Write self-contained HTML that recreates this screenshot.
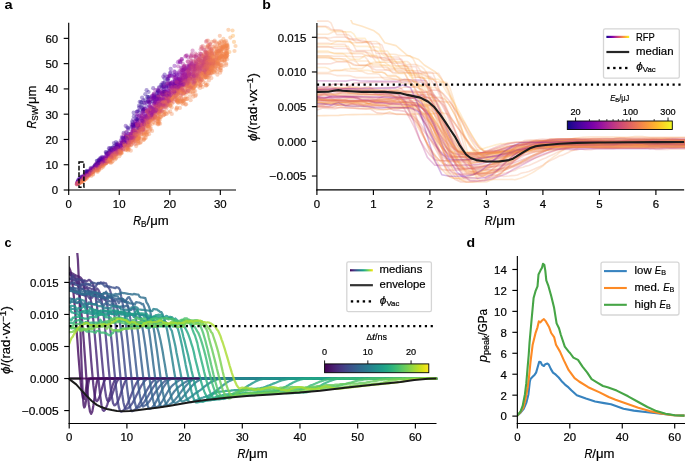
<!DOCTYPE html><html><head><meta charset="utf-8"><style>html,body{margin:0;padding:0;background:#fff;}body{width:685px;height:461px;overflow:hidden;font-family:"Liberation Sans", sans-serif;}svg{display:block;will-change:transform;} text{stroke:#000;stroke-width:0.2px;} text[font-weight="bold"]{stroke-width:0;}</style></head><body><svg width="685" height="461" viewBox="0 0 685 461" font-family='"Liberation Sans", sans-serif'><defs><linearGradient id="gplasma" x1="0" x2="1" y1="0" y2="0"><stop offset="0.000" stop-color="#0d0887"/><stop offset="0.050" stop-color="#2a0593"/><stop offset="0.100" stop-color="#41049d"/><stop offset="0.150" stop-color="#5601a4"/><stop offset="0.200" stop-color="#6a00a8"/><stop offset="0.250" stop-color="#7e03a8"/><stop offset="0.300" stop-color="#8f0da4"/><stop offset="0.350" stop-color="#a11b9b"/><stop offset="0.400" stop-color="#b12a90"/><stop offset="0.450" stop-color="#bf3984"/><stop offset="0.500" stop-color="#cc4778"/><stop offset="0.550" stop-color="#d6556d"/><stop offset="0.600" stop-color="#e16462"/><stop offset="0.650" stop-color="#ea7457"/><stop offset="0.700" stop-color="#f2844b"/><stop offset="0.750" stop-color="#f89540"/><stop offset="0.800" stop-color="#fca636"/><stop offset="0.850" stop-color="#feba2c"/><stop offset="0.900" stop-color="#fcce25"/><stop offset="0.950" stop-color="#f7e425"/><stop offset="1.000" stop-color="#f0f921"/></linearGradient><linearGradient id="gviridis" x1="0" x2="1" y1="0" y2="0"><stop offset="0.000" stop-color="#440154"/><stop offset="0.050" stop-color="#471365"/><stop offset="0.100" stop-color="#482475"/><stop offset="0.150" stop-color="#463480"/><stop offset="0.200" stop-color="#414487"/><stop offset="0.250" stop-color="#3b528b"/><stop offset="0.300" stop-color="#355f8d"/><stop offset="0.350" stop-color="#2f6c8e"/><stop offset="0.400" stop-color="#2a788e"/><stop offset="0.450" stop-color="#25848e"/><stop offset="0.500" stop-color="#21918c"/><stop offset="0.550" stop-color="#1e9c89"/><stop offset="0.600" stop-color="#22a884"/><stop offset="0.650" stop-color="#2fb47c"/><stop offset="0.700" stop-color="#44bf70"/><stop offset="0.750" stop-color="#5ec962"/><stop offset="0.800" stop-color="#7ad151"/><stop offset="0.850" stop-color="#9bd93c"/><stop offset="0.900" stop-color="#bddf26"/><stop offset="0.950" stop-color="#dfe318"/><stop offset="1.000" stop-color="#fde725"/></linearGradient><clipPath id="clipA"><rect x="68.70" y="19.70" width="170.30" height="170.30"/></clipPath><clipPath id="clipB"><rect x="316.90" y="20.00" width="370.25" height="169.90"/></clipPath><clipPath id="clipC"><rect x="69.20" y="253.07" width="370.30" height="170.38"/></clipPath><clipPath id="clipD"><rect x="517.35" y="253.07" width="170.85" height="170.38"/></clipPath></defs><rect width="685" height="461" fill="#fff"/><g clip-path="url(#clipD)"><polyline points="517.1,415.8 520.6,412.7 523.5,409.2 526.3,402.9 528.4,394.4 529.8,381.8 530.5,378.9 532.6,376.8 534.7,374.7 536.1,372.6 537.5,367.7 539.2,361.8 540.6,362.0 542.0,364.9 543.9,366.0 545.3,364.2 547.4,363.5 548.8,364.6 550.9,369.1 553.0,372.6 555.8,374.7 558.7,377.5 562.2,381.8 565.0,384.6 568.5,387.4 571.3,390.2 576.8,395.2 585.9,398.6 595.1,401.5 604.2,403.1 611.0,404.3 623.5,408.8 633.8,410.6 647.4,412.2 661.1,413.8 674.8,415.2 684.5,415.6" fill="none" stroke="#3783bf" stroke-width="2.10" stroke-linejoin="round"/><polyline points="517.1,415.8 520.6,412.0 523.5,407.1 525.6,398.7 527.7,387.4 529.1,376.1 530.5,362.0 532.6,345.1 535.5,333.2 537.5,327.3 538.8,321.4 540.4,322.4 542.0,320.5 543.9,319.1 545.9,321.4 549.2,327.3 551.2,333.0 554.1,337.1 556.0,344.8 560.0,351.6 563.9,360.4 568.7,370.2 574.6,378.1 579.1,381.5 588.2,387.2 599.6,392.4 608.7,397.0 615.5,399.7 626.9,403.8 638.3,407.7 649.7,411.1 661.1,413.4 672.5,415.2 684.5,415.6" fill="none" stroke="#fd8a25" stroke-width="2.10" stroke-linejoin="round"/><polyline points="517.1,415.8 520.6,411.3 522.7,405.7 524.9,394.4 526.3,383.2 527.7,366.3 528.7,355.0 529.5,343.0 531.6,319.5 533.6,298.0 535.5,291.2 537.5,286.3 538.5,274.5 540.4,270.6 542.0,267.7 543.0,263.8 544.3,264.8 545.3,270.6 546.3,280.4 548.2,285.3 551.2,296.0 554.1,307.8 556.6,323.4 559.0,328.3 560.9,335.0 564.8,346.7 568.7,351.6 570.0,353.0 573.4,357.6 578.0,359.9 582.5,366.7 587.1,372.4 591.6,379.2 597.3,382.6 603.0,386.0 607.6,387.2 616.7,390.6 628.1,396.3 638.3,402.0 647.4,407.0 656.5,411.1 665.6,413.8 674.8,415.2 684.5,415.6" fill="none" stroke="#46a546" stroke-width="2.10" stroke-linejoin="round"/></g><rect x="601.00" y="262.10" width="78.00" height="52.90" rx="2" ry="2" fill="#fff" fill-opacity="0.8" stroke="#d6d6d6" stroke-width="1.3"/><line x1="604.00" y1="271.10" x2="626.80" y2="271.10" stroke="#3783bf" stroke-width="2.10"/><g fill="#000"><text x="634.60" y="273.80" font-size="11.00" textLength="20.25" lengthAdjust="spacingAndGlyphs">low </text><text x="654.85" y="273.80" font-size="11.00" font-style="italic" textLength="6.32" lengthAdjust="spacingAndGlyphs">E</text><text x="661.17" y="275.30" font-size="7.70" textLength="4.80" lengthAdjust="spacingAndGlyphs">B</text></g><line x1="604.00" y1="288.00" x2="626.80" y2="288.00" stroke="#fd8a25" stroke-width="2.10"/><g fill="#000"><text x="634.60" y="290.70" font-size="11.00" textLength="28.60" lengthAdjust="spacingAndGlyphs">med. </text><text x="663.20" y="290.70" font-size="11.00" font-style="italic" textLength="6.32" lengthAdjust="spacingAndGlyphs">E</text><text x="669.52" y="292.20" font-size="7.70" textLength="4.80" lengthAdjust="spacingAndGlyphs">B</text></g><line x1="604.00" y1="304.80" x2="626.80" y2="304.80" stroke="#46a546" stroke-width="2.10"/><g fill="#000"><text x="634.60" y="307.50" font-size="11.00" textLength="24.98" lengthAdjust="spacingAndGlyphs">high </text><text x="659.58" y="307.50" font-size="11.00" font-style="italic" textLength="6.32" lengthAdjust="spacingAndGlyphs">E</text><text x="665.90" y="309.00" font-size="7.70" textLength="4.80" lengthAdjust="spacingAndGlyphs">B</text></g><g clip-path="url(#clipC)" fill="none" stroke-width="2.25" stroke-linejoin="round" stroke-linecap="round" stroke-opacity="0.82"><polyline points="69.2,267.7 70.4,270.6 71.5,276.1 72.7,285.8 73.8,296.1 75.0,308.8 76.1,324.0 77.3,339.5 78.4,355.2 79.6,370.0 80.7,382.7 81.9,392.3 83.0,397.8 84.2,398.7 85.4,393.5 86.5,385.1 87.7,379.2 88.8,378.6 90.0,378.8 91.1,378.4 92.3,378.6 93.4,378.6 94.6,378.4 95.7,378.5 96.9,378.4 98.0,378.7 99.2,378.4 100.4,378.8 101.5,378.4 102.7,378.3 103.8,378.5 105.0,378.6 106.1,378.3 107.3,378.4 108.4,378.5 109.6,378.4 110.7,378.4 111.9,378.7 113.0,378.4 114.2,378.6 115.4,378.7 116.5,378.5 117.7,378.4 118.8,378.6 120.0,378.6 121.1,378.3 122.3,378.7 123.4,378.5 124.6,378.6 125.7,378.5 126.9,378.4 128.1,378.5 129.2,378.8 130.4,378.4 131.5,378.4 132.7,378.6 133.8,378.8 135.0,378.7 136.1,378.8 137.3,378.6 138.4,378.5 139.6,378.6 140.7,378.7 141.9,378.3 143.1,378.5 144.2,378.6 145.4,378.7 146.5,378.5 147.7,378.8 148.8,378.3 150.0,378.4 151.1,378.7 152.3,378.5 153.4,378.6 154.6,378.3 155.7,378.4 156.9,378.4 158.1,378.6 159.2,378.6 160.4,378.3 161.5,378.3 162.7,378.3 163.8,378.7 165.0,378.7 166.1,378.3 167.3,378.5 168.4,378.4 169.6,378.3 170.7,378.4 171.9,378.7 173.1,378.6 174.2,378.3 175.4,378.6 176.5,378.4 177.7,378.7 178.8,378.4 180.0,378.3 181.1,378.6 182.3,378.7 183.4,378.5 184.6,378.3 185.7,378.3 186.9,378.7 188.1,378.7 189.2,378.7 190.4,378.7 191.5,378.6 192.7,378.5 193.8,378.6 195.0,378.5 196.1,378.5 197.3,378.7 198.4,378.7 199.6,378.4 200.7,378.6 201.9,378.5 203.1,378.7 204.2,378.7 205.4,378.5 206.5,378.4 207.7,378.6 208.8,378.5 210.0,378.4 211.1,378.5 212.3,378.3 213.4,378.3 214.6,378.7 215.8,378.3 216.9,378.7 218.1,378.7 219.2,378.4 220.4,378.3 221.5,378.4 222.7,378.3 223.8,378.6 225.0,378.3 226.1,378.7 227.3,378.5 228.4,378.6 229.6,378.8 230.8,378.6 231.9,378.5 233.1,378.8 234.2,378.4 235.4,378.7 236.5,378.4 237.7,378.6 238.8,378.4 240.0,378.3 241.1,378.4 242.3,378.4 243.4,378.7 244.6,378.5 245.8,378.7 246.9,378.8 248.1,378.6 249.2,378.3 250.4,378.5 251.5,378.7 252.7,378.6 253.8,378.6 255.0,378.7 256.1,378.7 257.3,378.5 258.4,378.3 259.6,378.6 260.8,378.4 261.9,378.5 263.1,378.3 264.2,378.4 265.4,378.6 266.5,378.7 267.7,378.7 268.8,378.4 270.0,378.4 271.1,378.6 272.3,378.7 273.4,378.7 274.6,378.3 275.8,378.7 276.9,378.6 278.1,378.8 279.2,378.5 280.4,378.7 281.5,378.8 282.7,378.6 283.8,378.6 285.0,378.5 286.1,378.4 287.3,378.3 288.4,378.6 289.6,378.7 290.8,378.5 291.9,378.3 293.1,378.4 294.2,378.7 295.4,378.5 296.5,378.4 297.7,378.5 298.8,378.4 300.0,378.7 301.1,378.6 302.3,378.5 303.5,378.5 304.6,378.5 305.8,378.4 306.9,378.5 308.1,378.8 309.2,378.7 310.4,378.4 311.5,378.3 312.7,378.6 313.8,378.4 315.0,378.5 316.1,378.7 317.3,378.4 318.5,378.8 319.6,378.4 320.8,378.4 321.9,378.5 323.1,378.7 324.2,378.7 325.4,378.3 326.5,378.4 327.7,378.6 328.8,378.3 330.0,378.7 331.1,378.3 332.3,378.5 333.5,378.4 334.6,378.5 335.8,378.5 336.9,378.6 338.1,378.6 339.2,378.8 340.4,378.4 341.5,378.4 342.7,378.6 343.8,378.6 345.0,378.5 346.1,378.6 347.3,378.7 348.5,378.6 349.6,378.7 350.8,378.7 351.9,378.3 353.1,378.4 354.2,378.3 355.4,378.5 356.5,378.8 357.7,378.6 358.8,378.5 360.0,378.3 361.1,378.6 362.3,378.3 363.5,378.6 364.6,378.6 365.8,378.7 366.9,378.5 368.1,378.3 369.2,378.7 370.4,378.6 371.5,378.7 372.7,378.3 373.8,378.6 375.0,378.5 376.1,378.6 377.3,378.3 378.5,378.5 379.6,378.7 380.8,378.6 381.9,378.3 383.1,378.3 384.2,378.4 385.4,378.5 386.5,378.8 387.7,378.3 388.8,378.3 390.0,378.7 391.2,378.5 392.3,378.3 393.5,378.5 394.6,378.6 395.8,378.8 396.9,378.7 398.1,378.5 399.2,378.7 400.4,378.4 401.5,378.5 402.7,378.6 403.8,378.8 405.0,378.3 406.2,378.3 407.3,378.7 408.5,378.4 409.6,378.5 410.8,378.6 411.9,378.3 413.1,378.6 414.2,378.4 415.4,378.4 416.5,378.7 417.7,378.6 418.8,378.7 420.0,378.6 421.2,378.5 422.3,378.6 423.5,378.3 424.6,378.7 425.8,378.7 426.9,378.6 428.1,378.3 429.2,378.3 430.4,378.6 431.5,378.4 432.7,378.6 433.8,378.6 435.0,378.6 436.2,378.3" stroke="#460c5e"/><polyline points="69.2,240.8 69.8,241.5 70.4,242.3 70.9,243.1 71.5,243.8 72.1,244.6 72.7,245.4 73.2,246.1 73.8,246.9 74.4,247.7 75.0,248.4 75.5,249.2 76.1,250.0 76.7,250.8 77.3,253.0 77.9,259.7 78.4,270.4 79.0,284.6 79.6,301.3 80.2,319.6 80.7,338.5 81.3,356.8 81.9,373.5 82.5,387.7 83.0,398.4 83.6,405.1 84.2,407.4 84.8,406.7 85.4,404.6 85.9,401.4 86.5,397.4 87.1,392.9 87.7,388.5 88.2,384.5 88.8,381.3 89.4,379.2 90.0,378.5 90.5,378.5 91.1,378.5 91.7,378.5 92.3,378.5 92.9,378.5 93.4,378.5 94.0,378.5 94.6,378.5 95.2,378.5 95.7,378.5 96.3,378.5 96.9,378.5 97.5,378.5 98.0,378.5 98.6,378.5 99.2,378.5 99.8,378.5 100.4,378.5 100.9,378.5 101.5,378.5 102.1,378.5 102.7,378.5 103.2,378.5 103.8,378.5 104.4,378.5 105.0,378.5 105.5,378.5 106.1,378.5 106.7,378.5 107.3,378.5 107.9,378.5 108.4,378.5 109.0,378.5 109.6,378.5 110.2,378.5 110.7,378.5 111.3,378.5 111.9,378.5 112.5,378.5 113.0,378.5 113.6,378.5 114.2,378.5 114.8,378.5 115.4,378.5 115.9,378.5 116.5,378.5 117.1,378.5 117.7,378.5 118.2,378.5 118.8,378.5 119.4,378.5 120.0,378.5 120.6,378.5 121.1,378.5 121.7,378.5 122.3,378.5 122.9,378.5 123.4,378.5 124.0,378.5 124.6,378.5 125.2,378.5 125.7,378.5 126.3,378.5 126.9,378.5 127.5,378.5 128.1,378.5 128.6,378.5 129.2,378.5 129.8,378.5 130.4,378.5 130.9,378.5 131.5,378.5 132.1,378.5 132.7,378.5 133.2,378.5 133.8,378.5 134.4,378.5 135.0,378.5 135.6,378.5 136.1,378.5 136.7,378.5 137.3,378.5 137.9,378.5 138.4,378.5" stroke="#471365"/><polyline points="69.2,274.2 70.4,274.9 71.5,275.8 72.7,276.5 73.8,277.2 75.0,278.6 76.1,279.7 77.3,282.7 78.4,287.6 79.6,295.1 80.7,307.0 81.9,317.3 83.0,331.1 84.2,347.2 85.4,364.2 86.5,379.8 87.7,393.6 88.8,404.4 90.0,411.5 91.1,413.9 92.3,411.6 93.4,405.5 94.6,397.1 95.7,388.4 96.9,381.7 98.0,378.6 99.2,378.6 100.4,378.5 101.5,378.7 102.7,378.4 103.8,378.4 105.0,378.6 106.1,378.4 107.3,378.4 108.4,378.8 109.6,378.6 110.7,378.3 111.9,378.6 113.0,378.5 114.2,378.6 115.4,378.5 116.5,378.4 117.7,378.4 118.8,378.6 120.0,378.6 121.1,378.7 122.3,378.7 123.4,378.5 124.6,378.3 125.7,378.7 126.9,378.5 128.1,378.7 129.2,378.4 130.4,378.3 131.5,378.7 132.7,378.5 133.8,378.6 135.0,378.6 136.1,378.3 137.3,378.5 138.4,378.7 139.6,378.5 140.7,378.7 141.9,378.4 143.1,378.7 144.2,378.5 145.4,378.6 146.5,378.5 147.7,378.4 148.8,378.6 150.0,378.6 151.1,378.6 152.3,378.3 153.4,378.6 154.6,378.7 155.7,378.6 156.9,378.6 158.1,378.5 159.2,378.5 160.4,378.3 161.5,378.6 162.7,378.7 163.8,378.3 165.0,378.4 166.1,378.7 167.3,378.3 168.4,378.8 169.6,378.6 170.7,378.5 171.9,378.7 173.1,378.7 174.2,378.4 175.4,378.7 176.5,378.5 177.7,378.7 178.8,378.3 180.0,378.4 181.1,378.7 182.3,378.5 183.4,378.6 184.6,378.5 185.7,378.4 186.9,378.6 188.1,378.5 189.2,378.4 190.4,378.7 191.5,378.7 192.7,378.7 193.8,378.5 195.0,378.7 196.1,378.4 197.3,378.8 198.4,378.6 199.6,378.7 200.7,378.3 201.9,378.4 203.1,378.5 204.2,378.3 205.4,378.3 206.5,378.4 207.7,378.6 208.8,378.7 210.0,378.3 211.1,378.5 212.3,378.7 213.4,378.4 214.6,378.7 215.8,378.7 216.9,378.5 218.1,378.3 219.2,378.5 220.4,378.7 221.5,378.5 222.7,378.4 223.8,378.5 225.0,378.4 226.1,378.7 227.3,378.8 228.4,378.7 229.6,378.3 230.8,378.4 231.9,378.8 233.1,378.6 234.2,378.3 235.4,378.5 236.5,378.6 237.7,378.7 238.8,378.5 240.0,378.5 241.1,378.7 242.3,378.5 243.4,378.4 244.6,378.6 245.8,378.5 246.9,378.5 248.1,378.3 249.2,378.7 250.4,378.8 251.5,378.6 252.7,378.4 253.8,378.3 255.0,378.5 256.1,378.5 257.3,378.7 258.4,378.8 259.6,378.4 260.8,378.8 261.9,378.4 263.1,378.4 264.2,378.7 265.4,378.8 266.5,378.4 267.7,378.4 268.8,378.6 270.0,378.5 271.1,378.3 272.3,378.8 273.4,378.4 274.6,378.4 275.8,378.6 276.9,378.5 278.1,378.4 279.2,378.5 280.4,378.4 281.5,378.6 282.7,378.5 283.8,378.5 285.0,378.7 286.1,378.3 287.3,378.8 288.4,378.5 289.6,378.4 290.8,378.6 291.9,378.4 293.1,378.8 294.2,378.3 295.4,378.7 296.5,378.8 297.7,378.4 298.8,378.4 300.0,378.6 301.1,378.4 302.3,378.6 303.5,378.6 304.6,378.6 305.8,378.5 306.9,378.5 308.1,378.6 309.2,378.6 310.4,378.5 311.5,378.7 312.7,378.7 313.8,378.4 315.0,378.8 316.1,378.5 317.3,378.7 318.5,378.6 319.6,378.7 320.8,378.6 321.9,378.5 323.1,378.7 324.2,378.4 325.4,378.5 326.5,378.6 327.7,378.3 328.8,378.8 330.0,378.3 331.1,378.6 332.3,378.7 333.5,378.5 334.6,378.4 335.8,378.6 336.9,378.4 338.1,378.4 339.2,378.4 340.4,378.7 341.5,378.3 342.7,378.6 343.8,378.4 345.0,378.7 346.1,378.7 347.3,378.3 348.5,378.7 349.6,378.7 350.8,378.3 351.9,378.4 353.1,378.7 354.2,378.7 355.4,378.8 356.5,378.4 357.7,378.5 358.8,378.5 360.0,378.6 361.1,378.3 362.3,378.5 363.5,378.6 364.6,378.3 365.8,378.4 366.9,378.4 368.1,378.6 369.2,378.7 370.4,378.4 371.5,378.5 372.7,378.6 373.8,378.6 375.0,378.3 376.1,378.4 377.3,378.5 378.5,378.8 379.6,378.7 380.8,378.3 381.9,378.7 383.1,378.5 384.2,378.5 385.4,378.4 386.5,378.6 387.7,378.7 388.8,378.6 390.0,378.7 391.2,378.6 392.3,378.6 393.5,378.6 394.6,378.6 395.8,378.4 396.9,378.5 398.1,378.6 399.2,378.4 400.4,378.5 401.5,378.5 402.7,378.6 403.8,378.4 405.0,378.5 406.2,378.7 407.3,378.6 408.5,378.6 409.6,378.7 410.8,378.7 411.9,378.6 413.1,378.5 414.2,378.5 415.4,378.6 416.5,378.3 417.7,378.3 418.8,378.7 420.0,378.5 421.2,378.3 422.3,378.7 423.5,378.7 424.6,378.6 425.8,378.4 426.9,378.5 428.1,378.4 429.2,378.4 430.4,378.7 431.5,378.5 432.7,378.6 433.8,378.5 435.0,378.7 436.2,378.8" stroke="#471567"/><polyline points="69.2,273.6 70.4,272.4 71.5,273.0 72.7,273.6 73.8,274.3 75.0,274.9 76.1,275.5 77.3,276.1 78.4,276.7 79.6,276.9 80.7,277.6 81.9,279.1 83.0,282.4 84.2,287.9 85.4,294.0 86.5,304.3 87.7,316.7 88.8,330.6 90.0,345.3 91.1,360.1 92.3,373.7 93.4,385.7 94.6,394.8 95.7,400.1 96.9,401.2 98.0,400.0 99.2,397.5 100.4,394.0 101.5,389.9 102.7,385.8 103.8,382.2 105.0,379.7 106.1,378.6 107.3,378.4 108.4,378.6 109.6,378.5 110.7,378.4 111.9,378.3 113.0,378.8 114.2,378.7 115.4,378.5 116.5,378.4 117.7,378.5 118.8,378.5 120.0,378.5 121.1,378.7 122.3,378.6 123.4,378.7 124.6,378.4 125.7,378.4 126.9,378.4 128.1,378.5 129.2,378.6 130.4,378.5 131.5,378.8 132.7,378.8 133.8,378.5 135.0,378.6 136.1,378.5 137.3,378.3 138.4,378.6 139.6,378.7 140.7,378.8 141.9,378.7 143.1,378.7 144.2,378.7 145.4,378.7 146.5,378.7 147.7,378.4 148.8,378.4 150.0,378.4 151.1,378.3 152.3,378.4 153.4,378.5 154.6,378.7 155.7,378.7 156.9,378.5 158.1,378.5 159.2,378.4 160.4,378.6 161.5,378.5 162.7,378.6 163.8,378.3 165.0,378.5 166.1,378.3 167.3,378.4 168.4,378.3 169.6,378.5 170.7,378.3 171.9,378.4 173.1,378.3 174.2,378.6 175.4,378.6 176.5,378.4 177.7,378.8 178.8,378.4 180.0,378.5 181.1,378.4 182.3,378.3 183.4,378.5 184.6,378.7 185.7,378.3 186.9,378.4 188.1,378.7 189.2,378.4 190.4,378.7 191.5,378.4 192.7,378.3 193.8,378.5 195.0,378.5 196.1,378.7 197.3,378.6 198.4,378.6 199.6,378.7 200.7,378.6 201.9,378.4 203.1,378.6 204.2,378.8 205.4,378.3 206.5,378.5 207.7,378.6 208.8,378.4 210.0,378.3 211.1,378.7 212.3,378.8 213.4,378.3 214.6,378.3 215.8,378.8 216.9,378.6 218.1,378.7 219.2,378.5 220.4,378.4 221.5,378.6 222.7,378.3 223.8,378.7 225.0,378.3 226.1,378.4 227.3,378.4 228.4,378.3 229.6,378.4 230.8,378.4 231.9,378.4 233.1,378.7 234.2,378.7 235.4,378.4 236.5,378.7 237.7,378.7 238.8,378.3 240.0,378.7 241.1,378.7 242.3,378.4 243.4,378.6 244.6,378.5 245.8,378.7 246.9,378.4 248.1,378.7 249.2,378.6 250.4,378.7 251.5,378.6 252.7,378.6 253.8,378.7 255.0,378.8 256.1,378.4 257.3,378.6 258.4,378.6 259.6,378.3 260.8,378.7 261.9,378.8 263.1,378.6 264.2,378.8 265.4,378.6 266.5,378.4 267.7,378.7 268.8,378.3 270.0,378.7 271.1,378.4 272.3,378.7 273.4,378.5 274.6,378.5 275.8,378.4 276.9,378.7 278.1,378.6 279.2,378.8 280.4,378.6 281.5,378.3 282.7,378.8 283.8,378.5 285.0,378.6 286.1,378.6 287.3,378.5 288.4,378.6 289.6,378.7 290.8,378.4 291.9,378.6 293.1,378.6 294.2,378.8 295.4,378.3 296.5,378.5 297.7,378.5 298.8,378.7 300.0,378.7 301.1,378.8 302.3,378.7 303.5,378.5 304.6,378.4 305.8,378.4 306.9,378.5 308.1,378.6 309.2,378.7 310.4,378.3 311.5,378.4 312.7,378.3 313.8,378.6 315.0,378.5 316.1,378.3 317.3,378.6 318.5,378.6 319.6,378.4 320.8,378.4 321.9,378.8 323.1,378.3 324.2,378.7 325.4,378.5 326.5,378.5 327.7,378.5 328.8,378.3 330.0,378.3 331.1,378.4 332.3,378.3 333.5,378.6 334.6,378.6 335.8,378.3 336.9,378.7 338.1,378.6 339.2,378.6 340.4,378.7 341.5,378.3 342.7,378.6 343.8,378.5 345.0,378.7 346.1,378.6 347.3,378.5 348.5,378.5 349.6,378.5 350.8,378.5 351.9,378.5 353.1,378.6 354.2,378.5 355.4,378.5 356.5,378.3 357.7,378.5 358.8,378.6 360.0,378.7 361.1,378.6 362.3,378.6 363.5,378.7 364.6,378.4 365.8,378.6 366.9,378.5 368.1,378.4 369.2,378.4 370.4,378.4 371.5,378.4 372.7,378.3 373.8,378.8 375.0,378.5 376.1,378.3 377.3,378.6 378.5,378.3 379.6,378.6 380.8,378.6 381.9,378.6 383.1,378.5 384.2,378.6 385.4,378.3 386.5,378.6 387.7,378.7 388.8,378.5 390.0,378.6 391.2,378.4 392.3,378.7 393.5,378.3 394.6,378.5 395.8,378.3 396.9,378.5 398.1,378.5 399.2,378.4 400.4,378.6 401.5,378.6 402.7,378.4 403.8,378.7 405.0,378.6 406.2,378.5 407.3,378.3 408.5,378.6 409.6,378.3 410.8,378.4 411.9,378.3 413.1,378.5 414.2,378.4 415.4,378.3 416.5,378.6 417.7,378.5 418.8,378.7 420.0,378.5 421.2,378.3 422.3,378.8 423.5,378.4 424.6,378.8 425.8,378.5 426.9,378.7 428.1,378.5 429.2,378.5 430.4,378.5 431.5,378.7 432.7,378.7 433.8,378.5 435.0,378.5 436.2,378.8" stroke="#481e6f"/><polyline points="69.2,284.0 70.4,282.2 71.5,282.7 72.7,283.7 73.8,284.2 75.0,282.8 76.1,283.3 77.3,283.8 78.4,284.3 79.6,284.8 80.7,288.2 81.9,288.7 83.0,289.2 84.2,287.6 85.4,288.1 86.5,288.4 87.7,289.2 88.8,291.1 90.0,294.9 91.1,301.7 92.3,309.8 93.4,320.9 94.6,332.8 95.7,346.0 96.9,359.9 98.0,374.1 99.2,386.7 100.4,397.0 101.5,405.2 102.7,409.9 103.8,410.8 105.0,409.8 106.1,407.7 107.3,404.6 108.4,400.8 109.6,396.5 110.7,392.0 111.9,387.8 113.0,384.1 114.2,381.2 115.4,379.3 116.5,378.5 117.7,378.4 118.8,378.7 120.0,378.4 121.1,378.3 122.3,378.5 123.4,378.7 124.6,378.7 125.7,378.5 126.9,378.7 128.1,378.7 129.2,378.7 130.4,378.5 131.5,378.6 132.7,378.5 133.8,378.7 135.0,378.6 136.1,378.7 137.3,378.6 138.4,378.6 139.6,378.7 140.7,378.6 141.9,378.3 143.1,378.3 144.2,378.7 145.4,378.4 146.5,378.6 147.7,378.4 148.8,378.7 150.0,378.6 151.1,378.7 152.3,378.4 153.4,378.8 154.6,378.7 155.7,378.8 156.9,378.7 158.1,378.5 159.2,378.7 160.4,378.4 161.5,378.4 162.7,378.6 163.8,378.5 165.0,378.7 166.1,378.7 167.3,378.4 168.4,378.6 169.6,378.4 170.7,378.3 171.9,378.3 173.1,378.4 174.2,378.5 175.4,378.8 176.5,378.6 177.7,378.3 178.8,378.8 180.0,378.4 181.1,378.3 182.3,378.5 183.4,378.6 184.6,378.7 185.7,378.4 186.9,378.7 188.1,378.6 189.2,378.6 190.4,378.7 191.5,378.6 192.7,378.5 193.8,378.7 195.0,378.5 196.1,378.4 197.3,378.7 198.4,378.7 199.6,378.7 200.7,378.6 201.9,378.5 203.1,378.7 204.2,378.3 205.4,378.7 206.5,378.3 207.7,378.7 208.8,378.6 210.0,378.8 211.1,378.5 212.3,378.3 213.4,378.7 214.6,378.8 215.8,378.4 216.9,378.5 218.1,378.3 219.2,378.4 220.4,378.6 221.5,378.6 222.7,378.5 223.8,378.4 225.0,378.5 226.1,378.4 227.3,378.3 228.4,378.5 229.6,378.7 230.8,378.7 231.9,378.7 233.1,378.3 234.2,378.6 235.4,378.8 236.5,378.3 237.7,378.6 238.8,378.5 240.0,378.6 241.1,378.4 242.3,378.3 243.4,378.6 244.6,378.6 245.8,378.6 246.9,378.3 248.1,378.3 249.2,378.3 250.4,378.4 251.5,378.5 252.7,378.3 253.8,378.5 255.0,378.3 256.1,378.4 257.3,378.7 258.4,378.6 259.6,378.6 260.8,378.5 261.9,378.7 263.1,378.5 264.2,378.7 265.4,378.7 266.5,378.5 267.7,378.7 268.8,378.5 270.0,378.7 271.1,378.3 272.3,378.4 273.4,378.7 274.6,378.4 275.8,378.6 276.9,378.5 278.1,378.7 279.2,378.8 280.4,378.8 281.5,378.7 282.7,378.6 283.8,378.5 285.0,378.5 286.1,378.3 287.3,378.6 288.4,378.4 289.6,378.7 290.8,378.4 291.9,378.4 293.1,378.7 294.2,378.4 295.4,378.4 296.5,378.6 297.7,378.5 298.8,378.7 300.0,378.7 301.1,378.6 302.3,378.6 303.5,378.5 304.6,378.4 305.8,378.8 306.9,378.5 308.1,378.4 309.2,378.4 310.4,378.6 311.5,378.7 312.7,378.6 313.8,378.5 315.0,378.7 316.1,378.5 317.3,378.6 318.5,378.5 319.6,378.6 320.8,378.6 321.9,378.3 323.1,378.4 324.2,378.5 325.4,378.5 326.5,378.3 327.7,378.4 328.8,378.4 330.0,378.5 331.1,378.6 332.3,378.3 333.5,378.4 334.6,378.4 335.8,378.5 336.9,378.5 338.1,378.8 339.2,378.3 340.4,378.6 341.5,378.6 342.7,378.3 343.8,378.6 345.0,378.6 346.1,378.6 347.3,378.5 348.5,378.6 349.6,378.5 350.8,378.5 351.9,378.6 353.1,378.6 354.2,378.8 355.4,378.3 356.5,378.8 357.7,378.4 358.8,378.7 360.0,378.3 361.1,378.7 362.3,378.3 363.5,378.7 364.6,378.3 365.8,378.7 366.9,378.3 368.1,378.3 369.2,378.4 370.4,378.6 371.5,378.6 372.7,378.8 373.8,378.6 375.0,378.5 376.1,378.8 377.3,378.5 378.5,378.8 379.6,378.4 380.8,378.7 381.9,378.7 383.1,378.6 384.2,378.5 385.4,378.4 386.5,378.6 387.7,378.7 388.8,378.4 390.0,378.6 391.2,378.3 392.3,378.6 393.5,378.3 394.6,378.5 395.8,378.4 396.9,378.3 398.1,378.7 399.2,378.8 400.4,378.5 401.5,378.6 402.7,378.4 403.8,378.7 405.0,378.7 406.2,378.5 407.3,378.6 408.5,378.5 409.6,378.7 410.8,378.8 411.9,378.6 413.1,378.8 414.2,378.6 415.4,378.3 416.5,378.7 417.7,378.6 418.8,378.4 420.0,378.6 421.2,378.7 422.3,378.7 423.5,378.3 424.6,378.4 425.8,378.5 426.9,378.7 428.1,378.5 429.2,378.5 430.4,378.7 431.5,378.6 432.7,378.3 433.8,378.3 435.0,378.7 436.2,378.8" stroke="#482676"/><polyline points="69.2,273.3 70.4,274.6 71.5,275.0 72.7,275.5 73.8,276.0 75.0,276.4 76.1,278.1 77.3,278.5 78.4,279.0 79.6,279.0 80.7,279.5 81.9,282.1 83.0,282.6 84.2,280.3 85.4,280.6 86.5,281.3 87.7,280.6 88.8,279.8 90.0,280.3 91.1,281.7 92.3,282.8 93.4,285.3 94.6,291.0 95.7,297.3 96.9,305.6 98.0,315.8 99.2,328.5 100.4,342.1 101.5,354.8 102.7,367.6 103.8,379.4 105.0,389.3 106.1,396.5 107.3,400.6 108.4,401.3 109.6,400.3 110.7,398.4 111.9,395.7 113.0,392.4 114.2,388.9 115.4,385.5 116.5,382.6 117.7,380.3 118.8,378.9 120.0,378.6 121.1,378.8 122.3,378.3 123.4,378.6 124.6,378.7 125.7,378.4 126.9,378.8 128.1,378.6 129.2,378.5 130.4,378.8 131.5,378.3 132.7,378.5 133.8,378.7 135.0,378.4 136.1,378.4 137.3,378.5 138.4,378.4 139.6,378.5 140.7,378.6 141.9,378.5 143.1,378.5 144.2,378.7 145.4,378.5 146.5,378.5 147.7,378.7 148.8,378.5 150.0,378.4 151.1,378.3 152.3,378.4 153.4,378.7 154.6,378.7 155.7,378.4 156.9,378.6 158.1,378.3 159.2,378.6 160.4,378.4 161.5,378.7 162.7,378.6 163.8,378.7 165.0,378.6 166.1,378.8 167.3,378.8 168.4,378.6 169.6,378.4 170.7,378.3 171.9,378.4 173.1,378.6 174.2,378.6 175.4,378.6 176.5,378.5 177.7,378.6 178.8,378.5 180.0,378.7 181.1,378.4 182.3,378.4 183.4,378.4 184.6,378.5 185.7,378.3 186.9,378.8 188.1,378.5 189.2,378.4 190.4,378.5 191.5,378.6 192.7,378.5 193.8,378.4 195.0,378.6 196.1,378.5 197.3,378.4 198.4,378.7 199.6,378.7 200.7,378.5 201.9,378.4 203.1,378.8 204.2,378.6 205.4,378.3 206.5,378.3 207.7,378.5 208.8,378.6 210.0,378.7 211.1,378.5 212.3,378.6 213.4,378.3 214.6,378.3 215.8,378.8 216.9,378.6 218.1,378.5 219.2,378.6 220.4,378.7 221.5,378.5 222.7,378.5 223.8,378.5 225.0,378.4 226.1,378.4 227.3,378.6 228.4,378.6 229.6,378.8 230.8,378.5 231.9,378.7 233.1,378.7 234.2,378.5 235.4,378.5 236.5,378.4 237.7,378.4 238.8,378.7 240.0,378.4 241.1,378.6 242.3,378.7 243.4,378.4 244.6,378.4 245.8,378.6 246.9,378.6 248.1,378.7 249.2,378.6 250.4,378.7 251.5,378.3 252.7,378.8 253.8,378.5 255.0,378.7 256.1,378.4 257.3,378.4 258.4,378.7 259.6,378.3 260.8,378.5 261.9,378.4 263.1,378.3 264.2,378.3 265.4,378.5 266.5,378.6 267.7,378.4 268.8,378.8 270.0,378.3 271.1,378.4 272.3,378.6 273.4,378.7 274.6,378.6 275.8,378.7 276.9,378.4 278.1,378.5 279.2,378.7 280.4,378.7 281.5,378.6 282.7,378.4 283.8,378.3 285.0,378.3 286.1,378.7 287.3,378.7 288.4,378.5 289.6,378.7 290.8,378.5 291.9,378.7 293.1,378.7 294.2,378.3 295.4,378.3 296.5,378.5 297.7,378.5 298.8,378.7 300.0,378.7 301.1,378.6 302.3,378.6 303.5,378.7 304.6,378.7 305.8,378.4 306.9,378.8 308.1,378.3 309.2,378.4 310.4,378.6 311.5,378.5 312.7,378.8 313.8,378.6 315.0,378.7 316.1,378.4 317.3,378.7 318.5,378.6 319.6,378.3 320.8,378.5 321.9,378.4 323.1,378.4 324.2,378.7 325.4,378.4 326.5,378.7 327.7,378.6 328.8,378.4 330.0,378.7 331.1,378.3 332.3,378.4 333.5,378.4 334.6,378.6 335.8,378.4 336.9,378.6 338.1,378.5 339.2,378.7 340.4,378.4 341.5,378.7 342.7,378.7 343.8,378.3 345.0,378.4 346.1,378.4 347.3,378.4 348.5,378.4 349.6,378.7 350.8,378.4 351.9,378.4 353.1,378.8 354.2,378.8 355.4,378.6 356.5,378.6 357.7,378.6 358.8,378.5 360.0,378.6 361.1,378.6 362.3,378.4 363.5,378.8 364.6,378.7 365.8,378.6 366.9,378.5 368.1,378.6 369.2,378.3 370.4,378.3 371.5,378.7 372.7,378.8 373.8,378.6 375.0,378.7 376.1,378.7 377.3,378.3 378.5,378.6 379.6,378.3 380.8,378.7 381.9,378.6 383.1,378.6 384.2,378.5 385.4,378.5 386.5,378.3 387.7,378.6 388.8,378.8 390.0,378.4 391.2,378.6 392.3,378.3 393.5,378.4 394.6,378.7 395.8,378.3 396.9,378.5 398.1,378.4 399.2,378.6 400.4,378.6 401.5,378.6 402.7,378.5 403.8,378.4 405.0,378.3 406.2,378.4 407.3,378.5 408.5,378.4 409.6,378.5 410.8,378.7 411.9,378.7 413.1,378.6 414.2,378.3 415.4,378.7 416.5,378.7 417.7,378.7 418.8,378.6 420.0,378.6 421.2,378.6 422.3,378.5 423.5,378.6 424.6,378.5 425.8,378.4 426.9,378.6 428.1,378.3 429.2,378.6 430.4,378.7 431.5,378.8 432.7,378.5 433.8,378.3 435.0,378.7 436.2,378.4" stroke="#472d7b"/><polyline points="69.2,278.5 70.4,278.9 71.5,279.3 72.7,279.7 73.8,280.2 75.0,280.6 76.1,281.0 77.3,281.4 78.4,282.3 79.6,282.8 80.7,284.7 81.9,285.1 83.0,285.5 84.2,285.9 85.4,286.3 86.5,286.7 87.7,287.5 88.8,287.9 90.0,288.3 91.1,288.7 92.3,289.1 93.4,289.5 94.6,290.0 95.7,290.4 96.9,288.5 98.0,289.3 99.2,291.4 100.4,294.2 101.5,299.7 102.7,307.2 103.8,316.5 105.0,327.5 106.1,339.7 107.3,352.6 108.4,365.5 109.6,377.7 110.7,388.4 111.9,397.0 113.0,402.9 114.2,405.3 115.4,405.1 116.5,403.8 117.7,401.8 118.8,399.1 120.0,395.8 121.1,392.3 122.3,388.8 123.4,385.5 124.6,382.6 125.7,380.4 126.9,379.0 128.1,378.5 129.2,378.8 130.4,378.5 131.5,378.8 132.7,378.7 133.8,378.6 135.0,378.7 136.1,378.7 137.3,378.4 138.4,378.8 139.6,378.8 140.7,378.6 141.9,378.4 143.1,378.6 144.2,378.5 145.4,378.3 146.5,378.3 147.7,378.7 148.8,378.7 150.0,378.4 151.1,378.6 152.3,378.6 153.4,378.4 154.6,378.6 155.7,378.7 156.9,378.4 158.1,378.4 159.2,378.3 160.4,378.4 161.5,378.8 162.7,378.4 163.8,378.7 165.0,378.7 166.1,378.3 167.3,378.7 168.4,378.3 169.6,378.6 170.7,378.7 171.9,378.5 173.1,378.3 174.2,378.5 175.4,378.7 176.5,378.5 177.7,378.8 178.8,378.4 180.0,378.3 181.1,378.4 182.3,378.4 183.4,378.7 184.6,378.5 185.7,378.8 186.9,378.4 188.1,378.8 189.2,378.5 190.4,378.5 191.5,378.5 192.7,378.7 193.8,378.6 195.0,378.7 196.1,378.5 197.3,378.4 198.4,378.8 199.6,378.8 200.7,378.6 201.9,378.4 203.1,378.4 204.2,378.7 205.4,378.5 206.5,378.3 207.7,378.4 208.8,378.5 210.0,378.8 211.1,378.4 212.3,378.7 213.4,378.7 214.6,378.3 215.8,378.3 216.9,378.8 218.1,378.7 219.2,378.4 220.4,378.7 221.5,378.7 222.7,378.3 223.8,378.8 225.0,378.5 226.1,378.5 227.3,378.5 228.4,378.7 229.6,378.6 230.8,378.8 231.9,378.8 233.1,378.4 234.2,378.7 235.4,378.7 236.5,378.7 237.7,378.5 238.8,378.7 240.0,378.3 241.1,378.7 242.3,378.6 243.4,378.7 244.6,378.3 245.8,378.8 246.9,378.4 248.1,378.5 249.2,378.6 250.4,378.5 251.5,378.4 252.7,378.3 253.8,378.4 255.0,378.3 256.1,378.3 257.3,378.6 258.4,378.7 259.6,378.6 260.8,378.3 261.9,378.3 263.1,378.4 264.2,378.4 265.4,378.6 266.5,378.3 267.7,378.6 268.8,378.4 270.0,378.4 271.1,378.7 272.3,378.6 273.4,378.6 274.6,378.3 275.8,378.5 276.9,378.3 278.1,378.3 279.2,378.3 280.4,378.6 281.5,378.8 282.7,378.3 283.8,378.4 285.0,378.4 286.1,378.7 287.3,378.4 288.4,378.3 289.6,378.5 290.8,378.5 291.9,378.6 293.1,378.8 294.2,378.7 295.4,378.3 296.5,378.6 297.7,378.7 298.8,378.6 300.0,378.6 301.1,378.7 302.3,378.6 303.5,378.8 304.6,378.7 305.8,378.4 306.9,378.6 308.1,378.3 309.2,378.5 310.4,378.7 311.5,378.3 312.7,378.5 313.8,378.7 315.0,378.3 316.1,378.6 317.3,378.7 318.5,378.7 319.6,378.5 320.8,378.4 321.9,378.4 323.1,378.7 324.2,378.6 325.4,378.5 326.5,378.8 327.7,378.4 328.8,378.6 330.0,378.4 331.1,378.5 332.3,378.6 333.5,378.6 334.6,378.3 335.8,378.7 336.9,378.5 338.1,378.3 339.2,378.7 340.4,378.5 341.5,378.3 342.7,378.6 343.8,378.5 345.0,378.7 346.1,378.6 347.3,378.6 348.5,378.5 349.6,378.5 350.8,378.8 351.9,378.4 353.1,378.7 354.2,378.5 355.4,378.7 356.5,378.3 357.7,378.3 358.8,378.3 360.0,378.5 361.1,378.7 362.3,378.6 363.5,378.4 364.6,378.3 365.8,378.4 366.9,378.7 368.1,378.5 369.2,378.5 370.4,378.5 371.5,378.7 372.7,378.6 373.8,378.6 375.0,378.6 376.1,378.8 377.3,378.7 378.5,378.8 379.6,378.7 380.8,378.5 381.9,378.7 383.1,378.3 384.2,378.5 385.4,378.3 386.5,378.7 387.7,378.6 388.8,378.3 390.0,378.3 391.2,378.6 392.3,378.6 393.5,378.7 394.6,378.6 395.8,378.3 396.9,378.5 398.1,378.4 399.2,378.5 400.4,378.4 401.5,378.4 402.7,378.3 403.8,378.3 405.0,378.7 406.2,378.7 407.3,378.5 408.5,378.7 409.6,378.5 410.8,378.4 411.9,378.8 413.1,378.4 414.2,378.5 415.4,378.4 416.5,378.3 417.7,378.3 418.8,378.7 420.0,378.6 421.2,378.4 422.3,378.7 423.5,378.7 424.6,378.6 425.8,378.3 426.9,378.6 428.1,378.6 429.2,378.8 430.4,378.7 431.5,378.3 432.7,378.4 433.8,378.5 435.0,378.3 436.2,378.6" stroke="#463580"/><polyline points="69.2,286.0 70.4,288.9 71.5,289.2 72.7,289.6 73.8,291.7 75.0,292.9 76.1,293.2 77.3,294.0 78.4,292.2 79.6,292.5 80.7,294.2 81.9,294.6 83.0,295.0 84.2,295.3 85.4,295.6 86.5,295.5 87.7,295.9 88.8,297.7 90.0,298.7 91.1,297.2 92.3,297.6 93.4,295.6 94.6,296.0 95.7,296.0 96.9,293.8 98.0,294.2 99.2,296.5 100.4,296.9 101.5,297.3 102.7,297.6 103.8,296.6 105.0,298.4 106.1,301.4 107.3,305.6 108.4,312.5 109.6,321.1 110.7,333.1 111.9,344.4 113.0,356.4 114.2,369.3 115.4,381.0 116.5,391.5 117.7,400.6 118.8,407.2 120.0,410.9 121.1,411.6 122.3,411.2 123.4,410.3 124.6,408.9 125.7,407.1 126.9,405.0 128.1,402.5 129.2,399.8 130.4,397.0 131.5,394.1 132.7,391.2 133.8,388.5 135.0,385.9 136.1,383.7 137.3,381.8 138.4,380.2 139.6,379.2 140.7,378.6 141.9,378.5 143.1,378.3 144.2,378.7 145.4,378.5 146.5,378.4 147.7,378.4 148.8,378.6 150.0,378.7 151.1,378.7 152.3,378.4 153.4,378.6 154.6,378.3 155.7,378.5 156.9,378.5 158.1,378.3 159.2,378.7 160.4,378.5 161.5,378.4 162.7,378.6 163.8,378.7 165.0,378.8 166.1,378.7 167.3,378.7 168.4,378.4 169.6,378.4 170.7,378.6 171.9,378.3 173.1,378.4 174.2,378.3 175.4,378.3 176.5,378.6 177.7,378.4 178.8,378.7 180.0,378.7 181.1,378.6 182.3,378.5 183.4,378.7 184.6,378.6 185.7,378.6 186.9,378.4 188.1,378.5 189.2,378.5 190.4,378.3 191.5,378.4 192.7,378.6 193.8,378.6 195.0,378.3 196.1,378.5 197.3,378.4 198.4,378.4 199.6,378.4 200.7,378.4 201.9,378.6 203.1,378.7 204.2,378.6 205.4,378.6 206.5,378.4 207.7,378.7 208.8,378.4 210.0,378.5 211.1,378.5 212.3,378.6 213.4,378.4 214.6,378.7 215.8,378.7 216.9,378.4 218.1,378.8 219.2,378.7 220.4,378.6 221.5,378.3 222.7,378.3 223.8,378.3 225.0,378.6 226.1,378.5 227.3,378.4 228.4,378.5 229.6,378.3 230.8,378.7 231.9,378.6 233.1,378.4 234.2,378.8 235.4,378.6 236.5,378.6 237.7,378.4 238.8,378.6 240.0,378.4 241.1,378.3 242.3,378.6 243.4,378.3 244.6,378.6 245.8,378.7 246.9,378.5 248.1,378.7 249.2,378.3 250.4,378.4 251.5,378.5 252.7,378.3 253.8,378.3 255.0,378.5 256.1,378.3 257.3,378.5 258.4,378.5 259.6,378.4 260.8,378.5 261.9,378.6 263.1,378.5 264.2,378.6 265.4,378.4 266.5,378.5 267.7,378.3 268.8,378.4 270.0,378.4 271.1,378.6 272.3,378.3 273.4,378.6 274.6,378.4 275.8,378.7 276.9,378.5 278.1,378.6 279.2,378.7 280.4,378.6 281.5,378.6 282.7,378.7 283.8,378.5 285.0,378.6 286.1,378.5 287.3,378.5 288.4,378.7 289.6,378.4 290.8,378.6 291.9,378.6 293.1,378.4 294.2,378.7 295.4,378.5 296.5,378.4 297.7,378.5 298.8,378.6 300.0,378.6 301.1,378.4 302.3,378.3 303.5,378.3 304.6,378.5 305.8,378.6 306.9,378.5 308.1,378.7 309.2,378.4 310.4,378.5 311.5,378.6 312.7,378.6 313.8,378.3 315.0,378.5 316.1,378.5 317.3,378.7 318.5,378.6 319.6,378.3 320.8,378.6 321.9,378.7 323.1,378.8 324.2,378.4 325.4,378.8 326.5,378.4 327.7,378.3 328.8,378.3 330.0,378.6 331.1,378.3 332.3,378.7 333.5,378.4 334.6,378.3 335.8,378.7 336.9,378.5 338.1,378.7 339.2,378.4 340.4,378.6 341.5,378.6 342.7,378.7 343.8,378.3 345.0,378.7 346.1,378.6 347.3,378.8 348.5,378.4 349.6,378.4 350.8,378.6 351.9,378.5 353.1,378.3 354.2,378.3 355.4,378.7 356.5,378.4 357.7,378.4 358.8,378.8 360.0,378.6 361.1,378.5 362.3,378.6 363.5,378.3 364.6,378.5 365.8,378.6 366.9,378.4 368.1,378.4 369.2,378.4 370.4,378.7 371.5,378.7 372.7,378.5 373.8,378.7 375.0,378.4 376.1,378.5 377.3,378.5 378.5,378.3 379.6,378.7 380.8,378.3 381.9,378.4 383.1,378.5 384.2,378.4 385.4,378.6 386.5,378.3 387.7,378.3 388.8,378.5 390.0,378.4 391.2,378.3 392.3,378.3 393.5,378.7 394.6,378.7 395.8,378.8 396.9,378.5 398.1,378.7 399.2,378.6 400.4,378.8 401.5,378.7 402.7,378.3 403.8,378.5 405.0,378.4 406.2,378.7 407.3,378.7 408.5,378.6 409.6,378.5 410.8,378.7 411.9,378.7 413.1,378.5 414.2,378.4 415.4,378.5 416.5,378.6 417.7,378.4 418.8,378.4 420.0,378.4 421.2,378.3 422.3,378.5 423.5,378.7 424.6,378.5 425.8,378.5 426.9,378.5 428.1,378.6 429.2,378.3 430.4,378.3 431.5,378.5 432.7,378.7 433.8,378.5 435.0,378.3 436.2,378.6" stroke="#433d84"/><polyline points="69.2,279.2 70.4,279.5 71.5,277.4 72.7,275.8 73.8,279.5 75.0,279.8 76.1,280.3 77.3,279.0 78.4,279.4 79.6,279.7 80.7,280.0 81.9,280.3 83.0,280.6 84.2,281.0 85.4,284.1 86.5,284.4 87.7,284.7 88.8,284.6 90.0,285.4 91.1,285.7 92.3,286.0 93.4,286.3 94.6,288.1 95.7,286.3 96.9,284.5 98.0,283.3 99.2,283.7 100.4,282.4 101.5,282.7 102.7,283.0 103.8,282.7 105.0,283.1 106.1,283.3 107.3,286.7 108.4,287.4 109.6,289.2 110.7,292.5 111.9,297.6 113.0,304.4 114.2,313.1 115.4,323.3 116.5,334.5 117.7,347.0 118.8,359.9 120.0,372.5 121.1,384.6 122.3,394.7 123.4,402.2 124.6,407.0 125.7,408.8 126.9,408.6 128.1,408.1 129.2,407.2 130.4,405.9 131.5,404.4 132.7,402.6 133.8,400.6 135.0,398.4 136.1,396.1 137.3,393.7 138.4,391.4 139.6,389.1 140.7,386.9 141.9,384.8 143.1,383.0 144.2,381.5 145.4,380.2 146.5,379.3 147.7,378.7 148.8,378.5 150.0,378.6 151.1,378.3 152.3,378.6 153.4,378.4 154.6,378.7 155.7,378.4 156.9,378.7 158.1,378.8 159.2,378.6 160.4,378.4 161.5,378.7 162.7,378.6 163.8,378.7 165.0,378.8 166.1,378.7 167.3,378.3 168.4,378.4 169.6,378.4 170.7,378.7 171.9,378.3 173.1,378.7 174.2,378.5 175.4,378.5 176.5,378.6 177.7,378.4 178.8,378.7 180.0,378.7 181.1,378.4 182.3,378.3 183.4,378.4 184.6,378.8 185.7,378.4 186.9,378.6 188.1,378.6 189.2,378.6 190.4,378.4 191.5,378.5 192.7,378.4 193.8,378.4 195.0,378.6 196.1,378.3 197.3,378.4 198.4,378.5 199.6,378.5 200.7,378.5 201.9,378.5 203.1,378.5 204.2,378.7 205.4,378.5 206.5,378.4 207.7,378.6 208.8,378.4 210.0,378.5 211.1,378.5 212.3,378.6 213.4,378.4 214.6,378.5 215.8,378.7 216.9,378.6 218.1,378.4 219.2,378.7 220.4,378.4 221.5,378.5 222.7,378.6 223.8,378.8 225.0,378.5 226.1,378.3 227.3,378.7 228.4,378.4 229.6,378.5 230.8,378.6 231.9,378.4 233.1,378.4 234.2,378.6 235.4,378.6 236.5,378.7 237.7,378.3 238.8,378.6 240.0,378.3 241.1,378.7 242.3,378.6 243.4,378.6 244.6,378.5 245.8,378.6 246.9,378.8 248.1,378.4 249.2,378.5 250.4,378.4 251.5,378.6 252.7,378.3 253.8,378.5 255.0,378.6 256.1,378.5 257.3,378.7 258.4,378.6 259.6,378.3 260.8,378.7 261.9,378.7 263.1,378.6 264.2,378.4 265.4,378.5 266.5,378.8 267.7,378.7 268.8,378.4 270.0,378.5 271.1,378.4 272.3,378.4 273.4,378.3 274.6,378.7 275.8,378.7 276.9,378.6 278.1,378.6 279.2,378.5 280.4,378.7 281.5,378.5 282.7,378.3 283.8,378.6 285.0,378.5 286.1,378.3 287.3,378.7 288.4,378.5 289.6,378.4 290.8,378.3 291.9,378.6 293.1,378.4 294.2,378.6 295.4,378.6 296.5,378.6 297.7,378.8 298.8,378.4 300.0,378.5 301.1,378.7 302.3,378.4 303.5,378.7 304.6,378.7 305.8,378.6 306.9,378.7 308.1,378.5 309.2,378.4 310.4,378.5 311.5,378.5 312.7,378.4 313.8,378.4 315.0,378.6 316.1,378.4 317.3,378.7 318.5,378.8 319.6,378.3 320.8,378.6 321.9,378.7 323.1,378.5 324.2,378.6 325.4,378.4 326.5,378.3 327.7,378.6 328.8,378.8 330.0,378.7 331.1,378.6 332.3,378.3 333.5,378.3 334.6,378.4 335.8,378.4 336.9,378.7 338.1,378.5 339.2,378.3 340.4,378.5 341.5,378.6 342.7,378.6 343.8,378.4 345.0,378.6 346.1,378.3 347.3,378.5 348.5,378.8 349.6,378.4 350.8,378.6 351.9,378.4 353.1,378.6 354.2,378.7 355.4,378.5 356.5,378.4 357.7,378.6 358.8,378.7 360.0,378.5 361.1,378.5 362.3,378.8 363.5,378.7 364.6,378.5 365.8,378.5 366.9,378.6 368.1,378.4 369.2,378.4 370.4,378.4 371.5,378.7 372.7,378.5 373.8,378.3 375.0,378.7 376.1,378.7 377.3,378.5 378.5,378.5 379.6,378.8 380.8,378.7 381.9,378.5 383.1,378.7 384.2,378.6 385.4,378.7 386.5,378.5 387.7,378.5 388.8,378.4 390.0,378.4 391.2,378.3 392.3,378.7 393.5,378.5 394.6,378.5 395.8,378.4 396.9,378.7 398.1,378.6 399.2,378.4 400.4,378.7 401.5,378.6 402.7,378.6 403.8,378.3 405.0,378.6 406.2,378.4 407.3,378.5 408.5,378.3 409.6,378.4 410.8,378.5 411.9,378.7 413.1,378.3 414.2,378.3 415.4,378.8 416.5,378.5 417.7,378.5 418.8,378.4 420.0,378.7 421.2,378.4 422.3,378.8 423.5,378.6 424.6,378.6 425.8,378.6 426.9,378.6 428.1,378.4 429.2,378.8 430.4,378.8 431.5,378.6 432.7,378.5 433.8,378.7 435.0,378.6 436.2,378.6" stroke="#414487"/><polyline points="69.2,287.5 70.4,287.8 71.5,288.1 72.7,290.4 73.8,290.6 75.0,290.9 76.1,291.1 77.3,291.4 78.4,293.1 79.6,293.4 80.7,293.7 81.9,294.0 83.0,294.3 84.2,293.7 85.4,294.0 86.5,294.1 87.7,294.4 88.8,293.8 90.0,294.1 91.1,292.0 92.3,293.5 93.4,293.8 94.6,294.8 95.7,295.1 96.9,297.0 98.0,299.0 99.2,300.0 100.4,300.3 101.5,298.0 102.7,298.3 103.8,299.5 105.0,299.8 106.1,298.3 107.3,296.0 108.4,296.3 109.6,296.6 110.7,296.9 111.9,299.7 113.0,300.0 114.2,300.7 115.4,302.4 116.5,305.1 117.7,309.6 118.8,315.0 120.0,323.4 121.1,332.3 122.3,341.2 123.4,352.3 124.6,364.6 125.7,375.7 126.9,386.2 128.1,395.5 129.2,403.0 130.4,408.3 131.5,411.0 132.7,411.0 133.8,410.4 135.0,409.6 136.1,408.5 137.3,406.9 138.4,405.3 139.6,403.2 140.7,401.3 141.9,399.2 143.1,397.1 144.2,394.9 145.4,392.9 146.5,390.8 147.7,388.8 148.8,386.9 150.0,385.1 151.1,383.5 152.3,382.1 153.4,380.9 154.6,379.9 155.7,379.2 156.9,378.7 158.1,378.5 159.2,378.4 160.4,378.5 161.5,378.5 162.7,378.7 163.8,378.3 165.0,378.3 166.1,378.4 167.3,378.4 168.4,378.4 169.6,378.6 170.7,378.5 171.9,378.4 173.1,378.4 174.2,378.7 175.4,378.7 176.5,378.7 177.7,378.7 178.8,378.6 180.0,378.6 181.1,378.8 182.3,378.6 183.4,378.6 184.6,378.7 185.7,378.7 186.9,378.5 188.1,378.7 189.2,378.6 190.4,378.3 191.5,378.8 192.7,378.4 193.8,378.5 195.0,378.7 196.1,378.6 197.3,378.7 198.4,378.5 199.6,378.5 200.7,378.3 201.9,378.5 203.1,378.6 204.2,378.4 205.4,378.5 206.5,378.3 207.7,378.6 208.8,378.4 210.0,378.5 211.1,378.7 212.3,378.3 213.4,378.5 214.6,378.3 215.8,378.4 216.9,378.7 218.1,378.7 219.2,378.8 220.4,378.6 221.5,378.6 222.7,378.4 223.8,378.7 225.0,378.6 226.1,378.5 227.3,378.3 228.4,378.8 229.6,378.6 230.8,378.4 231.9,378.4 233.1,378.5 234.2,378.7 235.4,378.8 236.5,378.6 237.7,378.6 238.8,378.4 240.0,378.7 241.1,378.3 242.3,378.4 243.4,378.4 244.6,378.4 245.8,378.7 246.9,378.6 248.1,378.5 249.2,378.3 250.4,378.3 251.5,378.3 252.7,378.5 253.8,378.3 255.0,378.5 256.1,378.5 257.3,378.3 258.4,378.3 259.6,378.8 260.8,378.4 261.9,378.7 263.1,378.5 264.2,378.6 265.4,378.3 266.5,378.3 267.7,378.6 268.8,378.7 270.0,378.4 271.1,378.8 272.3,378.3 273.4,378.6 274.6,378.3 275.8,378.7 276.9,378.4 278.1,378.7 279.2,378.5 280.4,378.4 281.5,378.4 282.7,378.3 283.8,378.7 285.0,378.4 286.1,378.4 287.3,378.6 288.4,378.3 289.6,378.4 290.8,378.5 291.9,378.5 293.1,378.3 294.2,378.4 295.4,378.4 296.5,378.6 297.7,378.5 298.8,378.7 300.0,378.3 301.1,378.4 302.3,378.7 303.5,378.3 304.6,378.6 305.8,378.7 306.9,378.4 308.1,378.5 309.2,378.7 310.4,378.6 311.5,378.7 312.7,378.3 313.8,378.5 315.0,378.3 316.1,378.6 317.3,378.3 318.5,378.7 319.6,378.4 320.8,378.3 321.9,378.6 323.1,378.3 324.2,378.7 325.4,378.4 326.5,378.4 327.7,378.6 328.8,378.5 330.0,378.3 331.1,378.5 332.3,378.7 333.5,378.5 334.6,378.6 335.8,378.8 336.9,378.4 338.1,378.4 339.2,378.5 340.4,378.7 341.5,378.4 342.7,378.7 343.8,378.6 345.0,378.3 346.1,378.5 347.3,378.7 348.5,378.5 349.6,378.3 350.8,378.6 351.9,378.7 353.1,378.5 354.2,378.6 355.4,378.5 356.5,378.3 357.7,378.7 358.8,378.6 360.0,378.3 361.1,378.6 362.3,378.5 363.5,378.4 364.6,378.6 365.8,378.4 366.9,378.5 368.1,378.7 369.2,378.8 370.4,378.5 371.5,378.7 372.7,378.4 373.8,378.4 375.0,378.5 376.1,378.6 377.3,378.7 378.5,378.4 379.6,378.5 380.8,378.7 381.9,378.8 383.1,378.3 384.2,378.4 385.4,378.4 386.5,378.6 387.7,378.5 388.8,378.3 390.0,378.3 391.2,378.8 392.3,378.6 393.5,378.6 394.6,378.5 395.8,378.5 396.9,378.7 398.1,378.8 399.2,378.4 400.4,378.6 401.5,378.4 402.7,378.5 403.8,378.7 405.0,378.7 406.2,378.5 407.3,378.7 408.5,378.7 409.6,378.5 410.8,378.3 411.9,378.4 413.1,378.7 414.2,378.3 415.4,378.6 416.5,378.3 417.7,378.6 418.8,378.6 420.0,378.6 421.2,378.7 422.3,378.6 423.5,378.4 424.6,378.6 425.8,378.4 426.9,378.5 428.1,378.3 429.2,378.7 430.4,378.3 431.5,378.7 432.7,378.4 433.8,378.5 435.0,378.7 436.2,378.6" stroke="#3e4a89"/><polyline points="69.2,284.1 70.4,284.4 71.5,282.8 72.7,282.4 73.8,282.7 75.0,284.6 76.1,284.8 77.3,285.1 78.4,285.4 79.6,286.0 80.7,286.3 81.9,283.9 83.0,284.2 84.2,284.5 85.4,284.8 86.5,283.5 87.7,283.8 88.8,284.1 90.0,284.3 91.1,282.8 92.3,282.6 93.4,282.9 94.6,283.2 95.7,283.5 96.9,283.8 98.0,282.8 99.2,283.1 100.4,283.4 101.5,283.7 102.7,283.9 103.8,285.2 105.0,286.6 106.1,285.9 107.3,286.2 108.4,286.4 109.6,286.7 110.7,287.0 111.9,287.3 113.0,287.5 114.2,287.8 115.4,288.1 116.5,287.2 117.7,287.5 118.8,288.1 120.0,289.8 121.1,296.3 122.3,300.6 123.4,309.0 124.6,314.1 125.7,322.9 126.9,334.4 128.1,345.2 129.2,356.4 130.4,367.7 131.5,378.7 132.7,388.5 133.8,396.9 135.0,403.1 136.1,407.1 137.3,407.8 138.4,407.5 139.6,406.9 140.7,406.0 141.9,404.9 143.1,403.6 144.2,402.1 145.4,400.2 146.5,398.4 147.7,396.7 148.8,394.7 150.0,392.7 151.1,390.7 152.3,388.8 153.4,387.0 154.6,385.3 155.7,383.7 156.9,382.4 158.1,381.2 159.2,380.2 160.4,379.4 161.5,378.9 162.7,378.6 163.8,378.4 165.0,378.6 166.1,378.7 167.3,378.5 168.4,378.7 169.6,378.4 170.7,378.7 171.9,378.4 173.1,378.5 174.2,378.5 175.4,378.3 176.5,378.4 177.7,378.5 178.8,378.5 180.0,378.6 181.1,378.5 182.3,378.6 183.4,378.6 184.6,378.7 185.7,378.6 186.9,378.5 188.1,378.7 189.2,378.3 190.4,378.6 191.5,378.4 192.7,378.4 193.8,378.5 195.0,378.7 196.1,378.3 197.3,378.7 198.4,378.3 199.6,378.6 200.7,378.4 201.9,378.4 203.1,378.3 204.2,378.5 205.4,378.6 206.5,378.4 207.7,378.6 208.8,378.6 210.0,378.4 211.1,378.6 212.3,378.3 213.4,378.7 214.6,378.5 215.8,378.6 216.9,378.5 218.1,378.5 219.2,378.5 220.4,378.6 221.5,378.7 222.7,378.3 223.8,378.7 225.0,378.6 226.1,378.6 227.3,378.6 228.4,378.3 229.6,378.3 230.8,378.5 231.9,378.6 233.1,378.3 234.2,378.4 235.4,378.5 236.5,378.6 237.7,378.5 238.8,378.6 240.0,378.7 241.1,378.5 242.3,378.6 243.4,378.4 244.6,378.4 245.8,378.5 246.9,378.7 248.1,378.4 249.2,378.6 250.4,378.4 251.5,378.3 252.7,378.7 253.8,378.6 255.0,378.6 256.1,378.4 257.3,378.5 258.4,378.6 259.6,378.3 260.8,378.6 261.9,378.3 263.1,378.5 264.2,378.5 265.4,378.7 266.5,378.5 267.7,378.5 268.8,378.3 270.0,378.8 271.1,378.8 272.3,378.5 273.4,378.7 274.6,378.4 275.8,378.4 276.9,378.7 278.1,378.6 279.2,378.6 280.4,378.5 281.5,378.6 282.7,378.7 283.8,378.3 285.0,378.4 286.1,378.4 287.3,378.7 288.4,378.3 289.6,378.5 290.8,378.4 291.9,378.3 293.1,378.4 294.2,378.6 295.4,378.4 296.5,378.4 297.7,378.5 298.8,378.3 300.0,378.4 301.1,378.3 302.3,378.5 303.5,378.6 304.6,378.4 305.8,378.7 306.9,378.8 308.1,378.5 309.2,378.5 310.4,378.5 311.5,378.7 312.7,378.5 313.8,378.4 315.0,378.8 316.1,378.4 317.3,378.4 318.5,378.3 319.6,378.6 320.8,378.6 321.9,378.4 323.1,378.6 324.2,378.5 325.4,378.6 326.5,378.4 327.7,378.5 328.8,378.5 330.0,378.8 331.1,378.4 332.3,378.3 333.5,378.4 334.6,378.6 335.8,378.5 336.9,378.7 338.1,378.6 339.2,378.7 340.4,378.4 341.5,378.6 342.7,378.6 343.8,378.3 345.0,378.4 346.1,378.6 347.3,378.3 348.5,378.3 349.6,378.8 350.8,378.5 351.9,378.5 353.1,378.6 354.2,378.4 355.4,378.5 356.5,378.6 357.7,378.5 358.8,378.3 360.0,378.4 361.1,378.7 362.3,378.3 363.5,378.6 364.6,378.7 365.8,378.6 366.9,378.6 368.1,378.3 369.2,378.4 370.4,378.4 371.5,378.3 372.7,378.3 373.8,378.3 375.0,378.3 376.1,378.6 377.3,378.3 378.5,378.3 379.6,378.8 380.8,378.3 381.9,378.5 383.1,378.5 384.2,378.7 385.4,378.6 386.5,378.3 387.7,378.6 388.8,378.3 390.0,378.5 391.2,378.3 392.3,378.4 393.5,378.6 394.6,378.4 395.8,378.8 396.9,378.5 398.1,378.6 399.2,378.5 400.4,378.8 401.5,378.7 402.7,378.3 403.8,378.7 405.0,378.5 406.2,378.8 407.3,378.7 408.5,378.3 409.6,378.4 410.8,378.6 411.9,378.6 413.1,378.7 414.2,378.4 415.4,378.7 416.5,378.6 417.7,378.7 418.8,378.4 420.0,378.7 421.2,378.4 422.3,378.5 423.5,378.5 424.6,378.7 425.8,378.5 426.9,378.3 428.1,378.6 429.2,378.4 430.4,378.3 431.5,378.3 432.7,378.5 433.8,378.7 435.0,378.8 436.2,378.4" stroke="#3c518b"/><polyline points="69.2,289.0 70.4,289.0 71.5,289.3 72.7,287.7 73.8,287.9 75.0,288.2 76.1,288.4 77.3,288.7 78.4,288.9 79.6,288.1 80.7,290.2 81.9,288.6 83.0,288.9 84.2,290.7 85.4,291.0 86.5,291.2 87.7,290.3 88.8,290.5 90.0,290.8 91.1,291.0 92.3,291.3 93.4,291.5 94.6,291.8 95.7,292.0 96.9,292.3 98.0,292.5 99.2,295.6 100.4,295.9 101.5,296.1 102.7,296.4 103.8,297.7 105.0,298.0 106.1,298.2 107.3,298.9 108.4,301.0 109.6,301.2 110.7,301.5 111.9,301.7 113.0,301.6 114.2,300.0 115.4,300.3 116.5,300.5 117.7,300.8 118.8,303.2 120.0,300.9 121.1,301.2 122.3,301.4 123.4,299.6 124.6,301.3 125.7,300.4 126.9,303.1 128.1,307.1 129.2,312.5 130.4,319.1 131.5,327.1 132.7,336.1 133.8,345.9 135.0,356.2 136.1,366.3 137.3,376.8 138.4,385.6 139.6,393.9 140.7,400.1 141.9,404.6 143.1,406.6 144.2,405.8 145.4,405.2 146.5,404.6 147.7,403.4 148.8,402.0 150.0,400.5 151.1,398.6 152.3,396.9 153.4,395.1 154.6,393.3 155.7,391.6 156.9,390.1 158.1,388.7 159.2,387.0 160.4,385.6 161.5,384.3 162.7,383.1 163.8,382.0 165.0,381.0 166.1,380.2 167.3,379.6 168.4,379.1 169.6,378.7 170.7,378.6 171.9,378.7 173.1,378.8 174.2,378.5 175.4,378.5 176.5,378.5 177.7,378.6 178.8,378.4 180.0,378.7 181.1,378.7 182.3,378.8 183.4,378.7 184.6,378.7 185.7,378.6 186.9,378.4 188.1,378.5 189.2,378.3 190.4,378.7 191.5,378.3 192.7,378.5 193.8,378.5 195.0,378.5 196.1,378.6 197.3,378.4 198.4,378.3 199.6,378.7 200.7,378.3 201.9,378.4 203.1,378.3 204.2,378.4 205.4,378.7 206.5,378.7 207.7,378.5 208.8,378.5 210.0,378.4 211.1,378.7 212.3,378.7 213.4,378.3 214.6,378.7 215.8,378.5 216.9,378.5 218.1,378.7 219.2,378.7 220.4,378.5 221.5,378.6 222.7,378.5 223.8,378.3 225.0,378.5 226.1,378.5 227.3,378.3 228.4,378.7 229.6,378.6 230.8,378.7 231.9,378.5 233.1,378.4 234.2,378.3 235.4,378.4 236.5,378.5 237.7,378.6 238.8,378.8 240.0,378.5 241.1,378.5 242.3,378.6 243.4,378.5 244.6,378.7 245.8,378.3 246.9,378.6 248.1,378.5 249.2,378.8 250.4,378.6 251.5,378.6 252.7,378.6 253.8,378.3 255.0,378.5 256.1,378.6 257.3,378.5 258.4,378.8 259.6,378.6 260.8,378.6 261.9,378.6 263.1,378.7 264.2,378.3 265.4,378.4 266.5,378.4 267.7,378.4 268.8,378.6 270.0,378.5 271.1,378.5 272.3,378.5 273.4,378.3 274.6,378.3 275.8,378.5 276.9,378.3 278.1,378.5 279.2,378.3 280.4,378.5 281.5,378.7 282.7,378.5 283.8,378.5 285.0,378.7 286.1,378.5 287.3,378.3 288.4,378.3 289.6,378.6 290.8,378.3 291.9,378.3 293.1,378.6 294.2,378.5 295.4,378.7 296.5,378.8 297.7,378.7 298.8,378.6 300.0,378.7 301.1,378.7 302.3,378.7 303.5,378.3 304.6,378.4 305.8,378.5 306.9,378.6 308.1,378.4 309.2,378.8 310.4,378.3 311.5,378.3 312.7,378.4 313.8,378.3 315.0,378.7 316.1,378.5 317.3,378.3 318.5,378.3 319.6,378.3 320.8,378.3 321.9,378.5 323.1,378.5 324.2,378.5 325.4,378.5 326.5,378.7 327.7,378.5 328.8,378.3 330.0,378.7 331.1,378.3 332.3,378.6 333.5,378.3 334.6,378.7 335.8,378.6 336.9,378.4 338.1,378.6 339.2,378.4 340.4,378.5 341.5,378.5 342.7,378.7 343.8,378.5 345.0,378.7 346.1,378.3 347.3,378.7 348.5,378.8 349.6,378.4 350.8,378.4 351.9,378.4 353.1,378.5 354.2,378.7 355.4,378.5 356.5,378.5 357.7,378.5 358.8,378.6 360.0,378.3 361.1,378.8 362.3,378.7 363.5,378.5 364.6,378.3 365.8,378.7 366.9,378.5 368.1,378.5 369.2,378.4 370.4,378.8 371.5,378.5 372.7,378.3 373.8,378.5 375.0,378.7 376.1,378.4 377.3,378.3 378.5,378.8 379.6,378.3 380.8,378.3 381.9,378.7 383.1,378.5 384.2,378.5 385.4,378.4 386.5,378.5 387.7,378.5 388.8,378.7 390.0,378.5 391.2,378.5 392.3,378.4 393.5,378.6 394.6,378.4 395.8,378.5 396.9,378.8 398.1,378.6 399.2,378.6 400.4,378.3 401.5,378.8 402.7,378.5 403.8,378.4 405.0,378.7 406.2,378.7 407.3,378.5 408.5,378.4 409.6,378.6 410.8,378.8 411.9,378.8 413.1,378.3 414.2,378.7 415.4,378.6 416.5,378.5 417.7,378.4 418.8,378.5 420.0,378.4 421.2,378.6 422.3,378.4 423.5,378.5 424.6,378.7 425.8,378.4 426.9,378.5 428.1,378.4 429.2,378.3 430.4,378.6 431.5,378.7 432.7,378.7 433.8,378.3 435.0,378.6 436.2,378.8" stroke="#39578c"/><polyline points="69.2,287.8 70.4,288.0 71.5,288.3 72.7,288.5 73.8,288.7 75.0,288.9 76.1,291.7 77.3,291.9 78.4,292.1 79.6,292.3 80.7,294.2 81.9,294.5 83.0,294.7 84.2,294.9 85.4,295.1 86.5,293.8 87.7,293.2 88.8,293.4 90.0,292.0 91.1,292.2 92.3,292.4 93.4,292.6 94.6,292.9 95.7,293.1 96.9,293.3 98.0,293.5 99.2,293.7 100.4,294.0 101.5,294.2 102.7,295.2 103.8,293.4 105.0,293.6 106.1,291.6 107.3,294.7 108.4,297.2 109.6,297.4 110.7,297.6 111.9,297.9 113.0,298.1 114.2,298.3 115.4,298.5 116.5,298.8 117.7,299.0 118.8,299.2 120.0,298.9 121.1,299.2 122.3,300.9 123.4,301.2 124.6,301.4 125.7,301.6 126.9,299.0 128.1,297.3 129.2,297.2 130.4,299.6 131.5,301.3 132.7,304.0 133.8,308.0 135.0,313.3 136.1,319.8 137.3,327.5 138.4,334.8 139.6,346.0 140.7,356.0 141.9,366.2 143.1,376.2 144.2,385.4 145.4,393.7 146.5,400.6 147.7,405.6 148.8,408.5 150.0,408.8 151.1,408.3 152.3,407.3 153.4,406.0 154.6,404.2 155.7,402.2 156.9,400.1 158.1,397.8 159.2,395.6 160.4,393.4 161.5,391.0 162.7,388.6 163.8,386.7 165.0,385.0 166.1,383.3 167.3,381.9 168.4,380.7 169.6,379.8 170.7,379.1 171.9,378.7 173.1,378.5 174.2,378.7 175.4,378.3 176.5,378.5 177.7,378.3 178.8,378.6 180.0,378.7 181.1,378.4 182.3,378.3 183.4,378.3 184.6,378.4 185.7,378.3 186.9,378.5 188.1,378.6 189.2,378.7 190.4,378.6 191.5,378.5 192.7,378.6 193.8,378.6 195.0,378.7 196.1,378.5 197.3,378.5 198.4,378.4 199.6,378.6 200.7,378.7 201.9,378.8 203.1,378.5 204.2,378.3 205.4,378.5 206.5,378.5 207.7,378.5 208.8,378.7 210.0,378.4 211.1,378.5 212.3,378.7 213.4,378.7 214.6,378.8 215.8,378.5 216.9,378.3 218.1,378.5 219.2,378.5 220.4,378.8 221.5,378.5 222.7,378.7 223.8,378.7 225.0,378.7 226.1,378.5 227.3,378.3 228.4,378.6 229.6,378.4 230.8,378.5 231.9,378.3 233.1,378.6 234.2,378.4 235.4,378.4 236.5,378.6 237.7,378.4 238.8,378.3 240.0,378.5 241.1,378.7 242.3,378.7 243.4,378.4 244.6,378.5 245.8,378.3 246.9,378.5 248.1,378.6 249.2,378.7 250.4,378.3 251.5,378.5 252.7,378.7 253.8,378.3 255.0,378.7 256.1,378.4 257.3,378.3 258.4,378.5 259.6,378.6 260.8,378.6 261.9,378.7 263.1,378.4 264.2,378.4 265.4,378.8 266.5,378.6 267.7,378.3 268.8,378.7 270.0,378.5 271.1,378.5 272.3,378.3 273.4,378.7 274.6,378.7 275.8,378.5 276.9,378.6 278.1,378.5 279.2,378.5 280.4,378.4 281.5,378.8 282.7,378.6 283.8,378.3 285.0,378.4 286.1,378.6 287.3,378.6 288.4,378.5 289.6,378.7 290.8,378.7 291.9,378.3 293.1,378.3 294.2,378.7 295.4,378.7 296.5,378.8 297.7,378.7 298.8,378.6 300.0,378.5 301.1,378.4 302.3,378.3 303.5,378.5 304.6,378.7 305.8,378.6 306.9,378.5 308.1,378.7 309.2,378.5 310.4,378.7 311.5,378.6 312.7,378.5 313.8,378.4 315.0,378.5 316.1,378.6 317.3,378.5 318.5,378.7 319.6,378.7 320.8,378.7 321.9,378.3 323.1,378.3 324.2,378.6 325.4,378.8 326.5,378.5 327.7,378.5 328.8,378.6 330.0,378.5 331.1,378.3 332.3,378.3 333.5,378.7 334.6,378.7 335.8,378.4 336.9,378.3 338.1,378.3 339.2,378.5 340.4,378.4 341.5,378.5 342.7,378.7 343.8,378.4 345.0,378.4 346.1,378.5 347.3,378.8 348.5,378.3 349.6,378.7 350.8,378.8 351.9,378.4 353.1,378.7 354.2,378.6 355.4,378.3 356.5,378.4 357.7,378.6 358.8,378.7 360.0,378.4 361.1,378.6 362.3,378.7 363.5,378.4 364.6,378.4 365.8,378.6 366.9,378.5 368.1,378.5 369.2,378.6 370.4,378.7 371.5,378.4 372.7,378.3 373.8,378.6 375.0,378.7 376.1,378.6 377.3,378.6 378.5,378.3 379.6,378.7 380.8,378.4 381.9,378.3 383.1,378.4 384.2,378.4 385.4,378.6 386.5,378.6 387.7,378.5 388.8,378.3 390.0,378.7 391.2,378.3 392.3,378.3 393.5,378.3 394.6,378.6 395.8,378.5 396.9,378.5 398.1,378.7 399.2,378.7 400.4,378.4 401.5,378.8 402.7,378.4 403.8,378.6 405.0,378.7 406.2,378.7 407.3,378.4 408.5,378.5 409.6,378.4 410.8,378.7 411.9,378.5 413.1,378.5 414.2,378.4 415.4,378.5 416.5,378.4 417.7,378.6 418.8,378.7 420.0,378.3 421.2,378.7 422.3,378.5 423.5,378.5 424.6,378.4 425.8,378.5 426.9,378.4 428.1,378.6 429.2,378.5 430.4,378.4 431.5,378.4 432.7,378.7 433.8,378.3 435.0,378.3 436.2,378.6" stroke="#365e8d"/><polyline points="69.2,298.4 70.4,298.6 71.5,298.8 72.7,299.0 73.8,299.9 75.0,301.5 76.1,302.9 77.3,303.1 78.4,301.9 79.6,302.1 80.7,301.0 81.9,303.5 83.0,303.7 84.2,303.9 85.4,304.2 86.5,305.0 87.7,305.2 88.8,302.3 90.0,302.5 91.1,302.7 92.3,304.0 93.4,304.2 94.6,304.4 95.7,303.8 96.9,301.5 98.0,301.7 99.2,301.9 100.4,302.1 101.5,304.0 102.7,304.0 103.8,305.9 105.0,303.7 106.1,303.9 107.3,301.9 108.4,304.6 109.6,304.8 110.7,305.0 111.9,303.9 113.0,304.1 114.2,304.3 115.4,307.3 116.5,306.2 117.7,306.5 118.8,306.7 120.0,308.1 121.1,306.4 122.3,306.6 123.4,305.9 124.6,306.7 125.7,305.9 126.9,306.1 128.1,306.3 129.2,309.4 130.4,309.6 131.5,309.8 132.7,308.2 133.8,308.4 135.0,308.7 136.1,309.2 137.3,310.4 138.4,312.6 139.6,315.7 140.7,319.8 141.9,325.1 143.1,331.4 144.2,338.7 145.4,346.7 146.5,355.7 147.7,365.0 148.8,373.7 150.0,382.0 151.1,389.6 152.3,396.3 153.4,401.6 154.6,405.3 155.7,407.1 156.9,407.2 158.1,406.3 159.2,405.2 160.4,403.8 161.5,402.4 162.7,400.5 163.8,398.5 165.0,396.5 166.1,394.5 167.3,392.5 168.4,390.7 169.6,389.0 170.7,387.3 171.9,386.0 173.1,384.9 174.2,384.0 175.4,383.0 176.5,382.1 177.7,381.3 178.8,380.5 180.0,379.9 181.1,379.4 182.3,379.0 183.4,378.7 184.6,378.6 185.7,378.7 186.9,378.4 188.1,378.7 189.2,378.4 190.4,378.3 191.5,378.7 192.7,378.4 193.8,378.5 195.0,378.6 196.1,378.8 197.3,378.8 198.4,378.7 199.6,378.5 200.7,378.4 201.9,378.7 203.1,378.6 204.2,378.8 205.4,378.5 206.5,378.4 207.7,378.6 208.8,378.4 210.0,378.7 211.1,378.5 212.3,378.5 213.4,378.3 214.6,378.5 215.8,378.4 216.9,378.6 218.1,378.7 219.2,378.8 220.4,378.6 221.5,378.8 222.7,378.7 223.8,378.3 225.0,378.4 226.1,378.6 227.3,378.8 228.4,378.5 229.6,378.7 230.8,378.5 231.9,378.7 233.1,378.3 234.2,378.3 235.4,378.6 236.5,378.5 237.7,378.6 238.8,378.6 240.0,378.5 241.1,378.3 242.3,378.6 243.4,378.6 244.6,378.8 245.8,378.6 246.9,378.5 248.1,378.3 249.2,378.3 250.4,378.5 251.5,378.7 252.7,378.5 253.8,378.3 255.0,378.4 256.1,378.7 257.3,378.8 258.4,378.6 259.6,378.8 260.8,378.7 261.9,378.3 263.1,378.5 264.2,378.6 265.4,378.5 266.5,378.6 267.7,378.4 268.8,378.5 270.0,378.4 271.1,378.8 272.3,378.6 273.4,378.3 274.6,378.5 275.8,378.5 276.9,378.8 278.1,378.3 279.2,378.4 280.4,378.8 281.5,378.4 282.7,378.3 283.8,378.4 285.0,378.7 286.1,378.4 287.3,378.7 288.4,378.3 289.6,378.5 290.8,378.3 291.9,378.7 293.1,378.5 294.2,378.4 295.4,378.6 296.5,378.3 297.7,378.7 298.8,378.6 300.0,378.4 301.1,378.5 302.3,378.3 303.5,378.6 304.6,378.8 305.8,378.3 306.9,378.3 308.1,378.4 309.2,378.7 310.4,378.6 311.5,378.6 312.7,378.5 313.8,378.4 315.0,378.6 316.1,378.6 317.3,378.3 318.5,378.7 319.6,378.4 320.8,378.4 321.9,378.4 323.1,378.6 324.2,378.5 325.4,378.6 326.5,378.4 327.7,378.6 328.8,378.8 330.0,378.5 331.1,378.7 332.3,378.8 333.5,378.3 334.6,378.5 335.8,378.4 336.9,378.3 338.1,378.3 339.2,378.6 340.4,378.4 341.5,378.4 342.7,378.5 343.8,378.8 345.0,378.5 346.1,378.6 347.3,378.4 348.5,378.4 349.6,378.6 350.8,378.5 351.9,378.6 353.1,378.5 354.2,378.5 355.4,378.6 356.5,378.5 357.7,378.5 358.8,378.8 360.0,378.5 361.1,378.6 362.3,378.4 363.5,378.4 364.6,378.7 365.8,378.5 366.9,378.3 368.1,378.3 369.2,378.8 370.4,378.6 371.5,378.5 372.7,378.7 373.8,378.5 375.0,378.3 376.1,378.5 377.3,378.3 378.5,378.7 379.6,378.6 380.8,378.3 381.9,378.7 383.1,378.6 384.2,378.4 385.4,378.3 386.5,378.5 387.7,378.3 388.8,378.7 390.0,378.4 391.2,378.8 392.3,378.8 393.5,378.4 394.6,378.4 395.8,378.5 396.9,378.6 398.1,378.3 399.2,378.7 400.4,378.6 401.5,378.6 402.7,378.3 403.8,378.3 405.0,378.6 406.2,378.3 407.3,378.4 408.5,378.3 409.6,378.5 410.8,378.8 411.9,378.6 413.1,378.6 414.2,378.8 415.4,378.4 416.5,378.4 417.7,378.7 418.8,378.4 420.0,378.5 421.2,378.5 422.3,378.5 423.5,378.4 424.6,378.6 425.8,378.6 426.9,378.3 428.1,378.6 429.2,378.6 430.4,378.8 431.5,378.3 432.7,378.5 433.8,378.4 435.0,378.4 436.2,378.7" stroke="#33638d"/><polyline points="69.2,290.8 70.4,291.0 71.5,291.2 72.7,291.4 73.8,291.6 75.0,291.8 76.1,292.0 77.3,292.2 78.4,291.0 79.6,291.2 80.7,291.4 81.9,291.6 83.0,291.8 84.2,291.3 85.4,291.5 86.5,291.7 87.7,291.9 88.8,292.1 90.0,292.3 91.1,295.4 92.3,295.6 93.4,295.8 94.6,296.0 95.7,296.2 96.9,296.4 98.0,296.6 99.2,296.8 100.4,297.0 101.5,297.2 102.7,297.4 103.8,297.6 105.0,297.7 106.1,297.9 107.3,298.4 108.4,298.6 109.6,296.0 110.7,296.2 111.9,296.4 113.0,296.6 114.2,295.8 115.4,296.0 116.5,296.2 117.7,296.3 118.8,298.3 120.0,298.5 121.1,298.7 122.3,298.9 123.4,299.1 124.6,302.0 125.7,302.2 126.9,302.4 128.1,302.0 129.2,303.1 130.4,303.3 131.5,303.5 132.7,303.7 133.8,303.9 135.0,304.1 136.1,302.1 137.3,302.3 138.4,302.5 139.6,302.7 140.7,303.1 141.9,304.3 143.1,303.9 144.2,306.8 145.4,310.9 146.5,316.1 147.7,322.3 148.8,329.6 150.0,337.6 151.1,346.4 152.3,355.6 153.4,364.9 154.6,373.7 155.7,382.9 156.9,390.9 158.1,397.3 159.2,402.2 160.4,405.4 161.5,406.7 162.7,406.6 163.8,405.8 165.0,404.8 166.1,403.7 167.3,402.1 168.4,400.4 169.6,398.8 170.7,397.0 171.9,394.8 173.1,393.1 174.2,391.5 175.4,390.2 176.5,388.9 177.7,387.7 178.8,386.8 180.0,385.9 181.1,385.0 182.3,384.2 183.4,383.4 184.6,382.6 185.7,381.9 186.9,381.3 188.1,380.7 189.2,380.2 190.4,379.7 191.5,379.3 192.7,379.0 193.8,378.8 195.0,378.6 196.1,378.5 197.3,378.6 198.4,378.4 199.6,378.7 200.7,378.4 201.9,378.6 203.1,378.3 204.2,378.6 205.4,378.7 206.5,378.3 207.7,378.7 208.8,378.6 210.0,378.8 211.1,378.5 212.3,378.4 213.4,378.7 214.6,378.8 215.8,378.4 216.9,378.6 218.1,378.4 219.2,378.4 220.4,378.4 221.5,378.3 222.7,378.6 223.8,378.5 225.0,378.4 226.1,378.4 227.3,378.5 228.4,378.8 229.6,378.6 230.8,378.5 231.9,378.4 233.1,378.3 234.2,378.7 235.4,378.7 236.5,378.7 237.7,378.6 238.8,378.8 240.0,378.7 241.1,378.7 242.3,378.7 243.4,378.7 244.6,378.3 245.8,378.3 246.9,378.4 248.1,378.3 249.2,378.3 250.4,378.4 251.5,378.5 252.7,378.6 253.8,378.7 255.0,378.6 256.1,378.3 257.3,378.6 258.4,378.6 259.6,378.6 260.8,378.6 261.9,378.7 263.1,378.5 264.2,378.6 265.4,378.5 266.5,378.3 267.7,378.4 268.8,378.4 270.0,378.4 271.1,378.8 272.3,378.7 273.4,378.6 274.6,378.4 275.8,378.7 276.9,378.5 278.1,378.3 279.2,378.4 280.4,378.5 281.5,378.4 282.7,378.4 283.8,378.4 285.0,378.5 286.1,378.6 287.3,378.5 288.4,378.6 289.6,378.4 290.8,378.3 291.9,378.4 293.1,378.8 294.2,378.7 295.4,378.6 296.5,378.4 297.7,378.4 298.8,378.5 300.0,378.3 301.1,378.7 302.3,378.8 303.5,378.7 304.6,378.4 305.8,378.3 306.9,378.3 308.1,378.5 309.2,378.3 310.4,378.7 311.5,378.4 312.7,378.7 313.8,378.7 315.0,378.7 316.1,378.7 317.3,378.7 318.5,378.5 319.6,378.5 320.8,378.7 321.9,378.4 323.1,378.7 324.2,378.8 325.4,378.5 326.5,378.8 327.7,378.6 328.8,378.8 330.0,378.4 331.1,378.7 332.3,378.4 333.5,378.4 334.6,378.5 335.8,378.4 336.9,378.8 338.1,378.6 339.2,378.5 340.4,378.6 341.5,378.4 342.7,378.7 343.8,378.3 345.0,378.5 346.1,378.8 347.3,378.5 348.5,378.4 349.6,378.6 350.8,378.4 351.9,378.7 353.1,378.4 354.2,378.4 355.4,378.7 356.5,378.4 357.7,378.6 358.8,378.5 360.0,378.3 361.1,378.6 362.3,378.5 363.5,378.6 364.6,378.7 365.8,378.7 366.9,378.8 368.1,378.5 369.2,378.4 370.4,378.4 371.5,378.8 372.7,378.7 373.8,378.6 375.0,378.3 376.1,378.3 377.3,378.6 378.5,378.4 379.6,378.5 380.8,378.7 381.9,378.4 383.1,378.6 384.2,378.6 385.4,378.6 386.5,378.3 387.7,378.3 388.8,378.6 390.0,378.6 391.2,378.8 392.3,378.3 393.5,378.7 394.6,378.6 395.8,378.6 396.9,378.5 398.1,378.4 399.2,378.8 400.4,378.7 401.5,378.5 402.7,378.7 403.8,378.8 405.0,378.7 406.2,378.5 407.3,378.5 408.5,378.6 409.6,378.3 410.8,378.4 411.9,378.6 413.1,378.5 414.2,378.7 415.4,378.3 416.5,378.4 417.7,378.6 418.8,378.6 420.0,378.4 421.2,378.3 422.3,378.8 423.5,378.7 424.6,378.5 425.8,378.8 426.9,378.5 428.1,378.4 429.2,378.3 430.4,378.5 431.5,378.7 432.7,378.6 433.8,378.5 435.0,378.4 436.2,378.7" stroke="#30698e"/><polyline points="69.2,290.8 70.4,291.0 71.5,290.8 72.7,291.0 73.8,292.0 75.0,292.1 76.1,292.3 77.3,292.5 78.4,292.7 79.6,293.5 80.7,293.7 81.9,293.9 83.0,294.0 84.2,294.2 85.4,293.4 86.5,293.6 87.7,294.2 88.8,294.4 90.0,294.3 91.1,294.1 92.3,294.3 93.4,292.3 94.6,292.5 95.7,292.7 96.9,293.5 98.0,293.7 99.2,293.9 100.4,294.0 101.5,294.2 102.7,294.5 103.8,292.9 105.0,293.0 106.1,293.2 107.3,293.4 108.4,294.0 109.6,294.2 110.7,294.3 111.9,294.5 113.0,294.7 114.2,294.9 115.4,293.9 116.5,294.1 117.7,294.3 118.8,293.9 120.0,294.1 121.1,292.7 122.3,292.9 123.4,293.1 124.6,293.2 125.7,293.4 126.9,293.6 128.1,293.8 129.2,294.0 130.4,294.1 131.5,294.3 132.7,294.5 133.8,293.9 135.0,294.1 136.1,294.3 137.3,294.5 138.4,294.6 139.6,296.7 140.7,297.3 141.9,297.5 143.1,297.7 144.2,297.9 145.4,298.2 146.5,302.4 147.7,304.0 148.8,306.4 150.0,309.8 151.1,316.2 152.3,319.6 153.4,326.9 154.6,334.0 155.7,341.9 156.9,349.9 158.1,358.6 159.2,367.4 160.4,376.3 161.5,384.3 162.7,391.5 163.8,397.2 165.0,401.4 166.1,404.2 167.3,405.1 168.4,405.0 169.6,404.5 170.7,403.8 171.9,402.9 173.1,401.8 174.2,400.6 175.4,399.3 176.5,397.9 177.7,396.4 178.8,394.9 180.0,393.3 181.1,391.8 182.3,390.2 183.4,388.8 184.6,387.4 185.7,386.0 186.9,384.7 188.1,383.5 189.2,382.5 190.4,381.5 191.5,380.6 192.7,379.9 193.8,379.3 195.0,378.9 196.1,378.6 197.3,378.5 198.4,378.6 199.6,378.4 200.7,378.3 201.9,378.5 203.1,378.7 204.2,378.6 205.4,378.7 206.5,378.7 207.7,378.7 208.8,378.4 210.0,378.7 211.1,378.7 212.3,378.5 213.4,378.4 214.6,378.4 215.8,378.6 216.9,378.4 218.1,378.5 219.2,378.3 220.4,378.7 221.5,378.4 222.7,378.3 223.8,378.7 225.0,378.5 226.1,378.4 227.3,378.7 228.4,378.7 229.6,378.6 230.8,378.5 231.9,378.3 233.1,378.7 234.2,378.4 235.4,378.3 236.5,378.4 237.7,378.8 238.8,378.4 240.0,378.5 241.1,378.5 242.3,378.7 243.4,378.6 244.6,378.3 245.8,378.3 246.9,378.5 248.1,378.6 249.2,378.5 250.4,378.5 251.5,378.6 252.7,378.6 253.8,378.5 255.0,378.4 256.1,378.4 257.3,378.5 258.4,378.3 259.6,378.6 260.8,378.4 261.9,378.4 263.1,378.4 264.2,378.4 265.4,378.5 266.5,378.3 267.7,378.5 268.8,378.7 270.0,378.3 271.1,378.7 272.3,378.6 273.4,378.4 274.6,378.5 275.8,378.5 276.9,378.7 278.1,378.5 279.2,378.4 280.4,378.6 281.5,378.7 282.7,378.5 283.8,378.7 285.0,378.5 286.1,378.4 287.3,378.5 288.4,378.4 289.6,378.4 290.8,378.3 291.9,378.3 293.1,378.6 294.2,378.5 295.4,378.4 296.5,378.6 297.7,378.7 298.8,378.7 300.0,378.6 301.1,378.6 302.3,378.7 303.5,378.3 304.6,378.4 305.8,378.7 306.9,378.5 308.1,378.6 309.2,378.7 310.4,378.6 311.5,378.7 312.7,378.4 313.8,378.6 315.0,378.4 316.1,378.5 317.3,378.6 318.5,378.6 319.6,378.7 320.8,378.5 321.9,378.8 323.1,378.4 324.2,378.6 325.4,378.7 326.5,378.6 327.7,378.4 328.8,378.7 330.0,378.4 331.1,378.8 332.3,378.5 333.5,378.5 334.6,378.3 335.8,378.7 336.9,378.6 338.1,378.5 339.2,378.4 340.4,378.6 341.5,378.7 342.7,378.5 343.8,378.5 345.0,378.6 346.1,378.5 347.3,378.3 348.5,378.4 349.6,378.3 350.8,378.4 351.9,378.6 353.1,378.4 354.2,378.3 355.4,378.3 356.5,378.8 357.7,378.5 358.8,378.7 360.0,378.7 361.1,378.5 362.3,378.4 363.5,378.8 364.6,378.4 365.8,378.3 366.9,378.5 368.1,378.6 369.2,378.3 370.4,378.5 371.5,378.7 372.7,378.4 373.8,378.6 375.0,378.6 376.1,378.4 377.3,378.4 378.5,378.7 379.6,378.4 380.8,378.7 381.9,378.8 383.1,378.3 384.2,378.3 385.4,378.3 386.5,378.6 387.7,378.3 388.8,378.4 390.0,378.3 391.2,378.6 392.3,378.3 393.5,378.4 394.6,378.6 395.8,378.4 396.9,378.3 398.1,378.6 399.2,378.3 400.4,378.4 401.5,378.7 402.7,378.5 403.8,378.3 405.0,378.8 406.2,378.8 407.3,378.8 408.5,378.5 409.6,378.7 410.8,378.3 411.9,378.3 413.1,378.6 414.2,378.6 415.4,378.7 416.5,378.5 417.7,378.6 418.8,378.3 420.0,378.5 421.2,378.6 422.3,378.3 423.5,378.5 424.6,378.4 425.8,378.4 426.9,378.4 428.1,378.7 429.2,378.7 430.4,378.6 431.5,378.3 432.7,378.5 433.8,378.5 435.0,378.5 436.2,378.6" stroke="#2e6e8e"/><polyline points="69.2,302.6 70.4,302.8 71.5,301.6 72.7,301.8 73.8,302.0 75.0,302.1 76.1,302.3 77.3,302.5 78.4,302.6 79.6,301.8 80.7,302.0 81.9,305.0 83.0,305.1 84.2,306.5 85.4,306.6 86.5,306.9 87.7,307.1 88.8,307.2 90.0,307.4 91.1,307.6 92.3,309.5 93.4,311.5 94.6,309.9 95.7,310.1 96.9,310.7 98.0,310.9 99.2,311.0 100.4,311.2 101.5,312.8 102.7,311.3 103.8,310.6 105.0,310.8 106.1,311.4 107.3,311.6 108.4,311.8 109.6,311.9 110.7,312.1 111.9,312.3 113.0,311.1 114.2,311.2 115.4,311.4 116.5,311.5 117.7,311.7 118.8,311.9 120.0,312.0 121.1,312.2 122.3,312.4 123.4,312.5 124.6,312.7 125.7,312.4 126.9,312.6 128.1,312.8 129.2,312.9 130.4,314.4 131.5,314.6 132.7,314.7 133.8,314.9 135.0,314.5 136.1,314.7 137.3,313.5 138.4,313.7 139.6,314.9 140.7,314.8 141.9,314.9 143.1,315.1 144.2,315.2 145.4,315.4 146.5,317.5 147.7,317.6 148.8,317.8 150.0,318.0 151.1,318.1 152.3,319.6 153.4,320.4 154.6,321.8 155.7,323.9 156.9,326.9 158.1,330.5 159.2,334.8 160.4,339.9 161.5,345.5 162.7,351.8 163.8,358.6 165.0,365.4 166.1,372.2 167.3,378.7 168.4,384.9 169.6,390.5 170.7,394.9 171.9,398.7 173.1,401.4 174.2,402.5 175.4,403.0 176.5,402.6 177.7,401.9 178.8,401.1 180.0,400.1 181.1,398.9 182.3,397.7 183.4,396.3 184.6,395.1 185.7,393.7 186.9,392.2 188.1,390.7 189.2,389.3 190.4,387.8 191.5,386.4 192.7,385.2 193.8,384.1 195.0,383.0 196.1,382.1 197.3,381.2 198.4,380.5 199.6,379.8 200.7,379.3 201.9,378.9 203.1,378.7 204.2,378.5 205.4,378.6 206.5,378.4 207.7,378.4 208.8,378.7 210.0,378.3 211.1,378.5 212.3,378.4 213.4,378.5 214.6,378.6 215.8,378.4 216.9,378.3 218.1,378.3 219.2,378.7 220.4,378.4 221.5,378.7 222.7,378.5 223.8,378.4 225.0,378.6 226.1,378.5 227.3,378.4 228.4,378.6 229.6,378.4 230.8,378.4 231.9,378.8 233.1,378.6 234.2,378.4 235.4,378.7 236.5,378.6 237.7,378.6 238.8,378.5 240.0,378.7 241.1,378.5 242.3,378.5 243.4,378.4 244.6,378.5 245.8,378.6 246.9,378.4 248.1,378.4 249.2,378.6 250.4,378.5 251.5,378.4 252.7,378.6 253.8,378.6 255.0,378.8 256.1,378.3 257.3,378.4 258.4,378.5 259.6,378.5 260.8,378.5 261.9,378.3 263.1,378.6 264.2,378.7 265.4,378.5 266.5,378.7 267.7,378.7 268.8,378.5 270.0,378.6 271.1,378.4 272.3,378.6 273.4,378.3 274.6,378.6 275.8,378.4 276.9,378.6 278.1,378.5 279.2,378.7 280.4,378.7 281.5,378.6 282.7,378.4 283.8,378.6 285.0,378.5 286.1,378.7 287.3,378.3 288.4,378.5 289.6,378.6 290.8,378.4 291.9,378.6 293.1,378.7 294.2,378.6 295.4,378.4 296.5,378.5 297.7,378.6 298.8,378.7 300.0,378.4 301.1,378.6 302.3,378.4 303.5,378.6 304.6,378.5 305.8,378.5 306.9,378.3 308.1,378.7 309.2,378.7 310.4,378.7 311.5,378.8 312.7,378.5 313.8,378.3 315.0,378.7 316.1,378.6 317.3,378.6 318.5,378.6 319.6,378.6 320.8,378.4 321.9,378.7 323.1,378.3 324.2,378.6 325.4,378.5 326.5,378.4 327.7,378.3 328.8,378.4 330.0,378.6 331.1,378.8 332.3,378.7 333.5,378.6 334.6,378.4 335.8,378.4 336.9,378.8 338.1,378.6 339.2,378.3 340.4,378.6 341.5,378.8 342.7,378.5 343.8,378.3 345.0,378.7 346.1,378.5 347.3,378.6 348.5,378.6 349.6,378.7 350.8,378.8 351.9,378.7 353.1,378.7 354.2,378.6 355.4,378.4 356.5,378.3 357.7,378.5 358.8,378.6 360.0,378.3 361.1,378.6 362.3,378.6 363.5,378.5 364.6,378.8 365.8,378.7 366.9,378.4 368.1,378.7 369.2,378.6 370.4,378.5 371.5,378.4 372.7,378.4 373.8,378.7 375.0,378.5 376.1,378.7 377.3,378.6 378.5,378.5 379.6,378.5 380.8,378.3 381.9,378.7 383.1,378.6 384.2,378.7 385.4,378.4 386.5,378.6 387.7,378.7 388.8,378.7 390.0,378.7 391.2,378.3 392.3,378.3 393.5,378.6 394.6,378.5 395.8,378.6 396.9,378.4 398.1,378.4 399.2,378.7 400.4,378.3 401.5,378.5 402.7,378.3 403.8,378.7 405.0,378.5 406.2,378.3 407.3,378.3 408.5,378.7 409.6,378.6 410.8,378.7 411.9,378.5 413.1,378.7 414.2,378.4 415.4,378.3 416.5,378.3 417.7,378.5 418.8,378.6 420.0,378.4 421.2,378.4 422.3,378.5 423.5,378.6 424.6,378.7 425.8,378.4 426.9,378.4 428.1,378.3 429.2,378.7 430.4,378.5 431.5,378.6 432.7,378.5 433.8,378.7 435.0,378.5 436.2,378.4" stroke="#2c748e"/><polyline points="69.2,300.7 70.4,302.0 71.5,299.9 72.7,299.4 73.8,299.5 75.0,299.7 76.1,299.8 77.3,298.7 78.4,298.8 79.6,298.5 80.7,299.5 81.9,300.2 83.0,300.4 84.2,300.5 85.4,303.4 86.5,303.5 87.7,303.6 88.8,303.8 90.0,303.9 91.1,304.0 92.3,304.2 93.4,304.3 94.6,304.4 95.7,304.6 96.9,304.7 98.0,305.9 99.2,306.1 100.4,306.2 101.5,306.3 102.7,306.5 103.8,308.0 105.0,308.1 106.1,307.6 107.3,307.8 108.4,307.9 109.6,308.1 110.7,308.2 111.9,305.8 113.0,306.0 114.2,306.1 115.4,306.2 116.5,306.4 117.7,306.5 118.8,306.6 120.0,306.8 121.1,309.4 122.3,309.5 123.4,309.6 124.6,309.8 125.7,309.7 126.9,309.9 128.1,310.0 129.2,311.2 130.4,309.4 131.5,307.3 132.7,307.4 133.8,308.2 135.0,306.4 136.1,307.4 137.3,307.5 138.4,309.4 139.6,309.5 140.7,309.6 141.9,309.8 143.1,309.9 144.2,310.0 145.4,310.2 146.5,310.3 147.7,310.5 148.8,310.6 150.0,310.7 151.1,310.9 152.3,311.0 153.4,309.0 154.6,309.1 155.7,309.3 156.9,309.4 158.1,310.5 159.2,311.1 160.4,312.1 161.5,312.2 162.7,314.6 163.8,317.7 165.0,321.2 166.1,325.8 167.3,331.1 168.4,337.0 169.6,343.4 170.7,350.3 171.9,357.4 173.1,364.7 174.2,371.8 175.4,378.5 176.5,385.0 177.7,390.2 178.8,394.8 180.0,398.4 181.1,400.7 182.3,401.7 183.4,401.2 184.6,400.8 185.7,400.1 186.9,399.6 188.1,398.7 189.2,398.0 190.4,397.3 191.5,396.4 192.7,395.6 193.8,394.7 195.0,393.7 196.1,392.8 197.3,392.3 198.4,391.3 199.6,390.6 200.7,389.8 201.9,388.9 203.1,387.7 204.2,386.8 205.4,385.9 206.5,385.1 207.7,384.3 208.8,383.5 210.0,382.7 211.1,382.1 212.3,381.5 213.4,380.9 214.6,380.4 215.8,379.9 216.9,379.5 218.1,379.2 219.2,378.9 220.4,378.7 221.5,378.6 222.7,378.5 223.8,378.5 225.0,378.4 226.1,378.5 227.3,378.8 228.4,378.8 229.6,378.5 230.8,378.6 231.9,378.3 233.1,378.7 234.2,378.4 235.4,378.6 236.5,378.7 237.7,378.6 238.8,378.4 240.0,378.7 241.1,378.4 242.3,378.4 243.4,378.7 244.6,378.8 245.8,378.5 246.9,378.7 248.1,378.4 249.2,378.6 250.4,378.5 251.5,378.4 252.7,378.4 253.8,378.4 255.0,378.5 256.1,378.7 257.3,378.6 258.4,378.4 259.6,378.4 260.8,378.7 261.9,378.7 263.1,378.4 264.2,378.3 265.4,378.3 266.5,378.6 267.7,378.5 268.8,378.7 270.0,378.3 271.1,378.5 272.3,378.5 273.4,378.6 274.6,378.7 275.8,378.4 276.9,378.6 278.1,378.4 279.2,378.6 280.4,378.6 281.5,378.5 282.7,378.5 283.8,378.6 285.0,378.7 286.1,378.5 287.3,378.6 288.4,378.7 289.6,378.6 290.8,378.4 291.9,378.3 293.1,378.6 294.2,378.6 295.4,378.6 296.5,378.6 297.7,378.6 298.8,378.4 300.0,378.5 301.1,378.4 302.3,378.5 303.5,378.7 304.6,378.8 305.8,378.4 306.9,378.3 308.1,378.6 309.2,378.6 310.4,378.5 311.5,378.8 312.7,378.7 313.8,378.7 315.0,378.5 316.1,378.4 317.3,378.5 318.5,378.6 319.6,378.7 320.8,378.5 321.9,378.5 323.1,378.7 324.2,378.5 325.4,378.7 326.5,378.3 327.7,378.4 328.8,378.6 330.0,378.6 331.1,378.6 332.3,378.7 333.5,378.6 334.6,378.6 335.8,378.5 336.9,378.5 338.1,378.3 339.2,378.3 340.4,378.3 341.5,378.3 342.7,378.6 343.8,378.7 345.0,378.6 346.1,378.6 347.3,378.8 348.5,378.8 349.6,378.3 350.8,378.3 351.9,378.5 353.1,378.5 354.2,378.6 355.4,378.5 356.5,378.7 357.7,378.5 358.8,378.3 360.0,378.6 361.1,378.6 362.3,378.6 363.5,378.7 364.6,378.6 365.8,378.8 366.9,378.5 368.1,378.5 369.2,378.4 370.4,378.8 371.5,378.4 372.7,378.5 373.8,378.7 375.0,378.5 376.1,378.4 377.3,378.7 378.5,378.7 379.6,378.7 380.8,378.7 381.9,378.7 383.1,378.8 384.2,378.8 385.4,378.3 386.5,378.6 387.7,378.6 388.8,378.7 390.0,378.6 391.2,378.7 392.3,378.4 393.5,378.4 394.6,378.6 395.8,378.4 396.9,378.6 398.1,378.3 399.2,378.4 400.4,378.7 401.5,378.7 402.7,378.3 403.8,378.6 405.0,378.3 406.2,378.4 407.3,378.8 408.5,378.5 409.6,378.3 410.8,378.6 411.9,378.3 413.1,378.6 414.2,378.4 415.4,378.3 416.5,378.7 417.7,378.3 418.8,378.3 420.0,378.3 421.2,378.4 422.3,378.6 423.5,378.4 424.6,378.5 425.8,378.3 426.9,378.6 428.1,378.5 429.2,378.7 430.4,378.7 431.5,378.4 432.7,378.7 433.8,378.4 435.0,378.5 436.2,378.6" stroke="#26818e"/><polyline points="69.2,307.5 70.4,307.6 71.5,308.9 72.7,309.0 73.8,309.1 75.0,309.2 76.1,310.3 77.3,311.6 78.4,311.7 79.6,311.9 80.7,312.0 81.9,312.1 83.0,312.2 84.2,312.8 85.4,312.9 86.5,313.0 87.7,313.5 88.8,313.6 90.0,313.7 91.1,313.8 92.3,314.2 93.4,314.3 94.6,312.7 95.7,312.8 96.9,313.0 98.0,314.9 99.2,315.0 100.4,314.7 101.5,314.8 102.7,314.9 103.8,313.3 105.0,313.4 106.1,313.5 107.3,313.6 108.4,313.7 109.6,313.8 110.7,313.9 111.9,314.1 113.0,314.2 114.2,314.3 115.4,313.1 116.5,314.9 117.7,312.2 118.8,313.3 120.0,313.5 121.1,313.6 122.3,313.7 123.4,313.8 124.6,313.9 125.7,316.4 126.9,316.7 128.1,314.3 129.2,314.4 130.4,314.5 131.5,314.6 132.7,314.7 133.8,317.0 135.0,317.1 136.1,317.2 137.3,317.3 138.4,317.4 139.6,317.3 140.7,317.4 141.9,319.2 143.1,320.5 144.2,320.6 145.4,320.8 146.5,320.9 147.7,318.8 148.8,318.9 150.0,320.5 151.1,320.6 152.3,320.7 153.4,321.5 154.6,321.6 155.7,320.9 156.9,322.2 158.1,322.3 159.2,322.4 160.4,322.5 161.5,322.2 162.7,320.9 163.8,321.1 165.0,321.6 166.1,322.4 167.3,323.7 168.4,325.5 169.6,326.2 170.7,329.2 171.9,330.9 173.1,336.4 174.2,341.1 175.4,346.3 176.5,352.7 177.7,358.5 178.8,364.1 180.0,370.1 181.1,376.0 182.3,382.0 183.4,387.1 184.6,391.7 185.7,395.5 186.9,398.6 188.1,400.6 189.2,401.7 190.4,402.2 191.5,402.1 192.7,401.7 193.8,401.3 195.0,400.9 196.1,400.1 197.3,399.8 198.4,399.3 199.6,398.8 200.7,398.3 201.9,397.9 203.1,397.5 204.2,397.1 205.4,396.7 206.5,396.3 207.7,396.2 208.8,395.4 210.0,394.8 211.1,394.1 212.3,393.4 213.4,392.7 214.6,391.9 215.8,391.1 216.9,390.2 218.1,389.3 219.2,388.4 220.4,387.5 221.5,386.5 222.7,385.6 223.8,384.7 225.0,383.9 226.1,383.1 227.3,382.2 228.4,381.6 229.6,380.9 230.8,380.4 231.9,379.9 233.1,379.5 234.2,379.1 235.4,378.9 236.5,378.7 237.7,378.6 238.8,378.4 240.0,378.5 241.1,378.4 242.3,378.4 243.4,378.4 244.6,378.3 245.8,378.6 246.9,378.4 248.1,378.8 249.2,378.7 250.4,378.7 251.5,378.5 252.7,378.6 253.8,378.7 255.0,378.4 256.1,378.5 257.3,378.8 258.4,378.3 259.6,378.7 260.8,378.6 261.9,378.5 263.1,378.3 264.2,378.6 265.4,378.6 266.5,378.7 267.7,378.6 268.8,378.4 270.0,378.3 271.1,378.5 272.3,378.7 273.4,378.7 274.6,378.5 275.8,378.5 276.9,378.7 278.1,378.8 279.2,378.6 280.4,378.7 281.5,378.4 282.7,378.7 283.8,378.6 285.0,378.7 286.1,378.7 287.3,378.3 288.4,378.5 289.6,378.3 290.8,378.6 291.9,378.3 293.1,378.7 294.2,378.4 295.4,378.4 296.5,378.5 297.7,378.3 298.8,378.6 300.0,378.5 301.1,378.7 302.3,378.6 303.5,378.7 304.6,378.5 305.8,378.5 306.9,378.5 308.1,378.5 309.2,378.5 310.4,378.6 311.5,378.5 312.7,378.5 313.8,378.5 315.0,378.4 316.1,378.5 317.3,378.5 318.5,378.4 319.6,378.3 320.8,378.5 321.9,378.6 323.1,378.5 324.2,378.4 325.4,378.5 326.5,378.3 327.7,378.7 328.8,378.4 330.0,378.5 331.1,378.4 332.3,378.5 333.5,378.5 334.6,378.6 335.8,378.7 336.9,378.7 338.1,378.6 339.2,378.6 340.4,378.5 341.5,378.7 342.7,378.5 343.8,378.6 345.0,378.4 346.1,378.8 347.3,378.3 348.5,378.4 349.6,378.7 350.8,378.8 351.9,378.4 353.1,378.3 354.2,378.5 355.4,378.7 356.5,378.5 357.7,378.7 358.8,378.7 360.0,378.7 361.1,378.7 362.3,378.3 363.5,378.6 364.6,378.7 365.8,378.4 366.9,378.7 368.1,378.4 369.2,378.8 370.4,378.6 371.5,378.4 372.7,378.5 373.8,378.7 375.0,378.3 376.1,378.5 377.3,378.6 378.5,378.7 379.6,378.4 380.8,378.4 381.9,378.7 383.1,378.6 384.2,378.7 385.4,378.7 386.5,378.4 387.7,378.4 388.8,378.5 390.0,378.5 391.2,378.5 392.3,378.5 393.5,378.8 394.6,378.8 395.8,378.7 396.9,378.3 398.1,378.5 399.2,378.5 400.4,378.5 401.5,378.5 402.7,378.3 403.8,378.5 405.0,378.4 406.2,378.4 407.3,378.5 408.5,378.5 409.6,378.6 410.8,378.4 411.9,378.6 413.1,378.6 414.2,378.3 415.4,378.5 416.5,378.4 417.7,378.8 418.8,378.5 420.0,378.3 421.2,378.5 422.3,378.4 423.5,378.5 424.6,378.4 425.8,378.3 426.9,378.5 428.1,378.3 429.2,378.6 430.4,378.7 431.5,378.3 432.7,378.6 433.8,378.3 435.0,378.5 436.2,378.6" stroke="#238b8d"/><polyline points="69.2,306.9 70.4,305.8 71.5,305.9 72.7,306.0 73.8,306.1 75.0,306.2 76.1,308.2 77.3,309.6 78.4,308.0 79.6,308.4 80.7,308.5 81.9,307.8 83.0,307.1 84.2,305.8 85.4,308.8 86.5,310.7 87.7,311.6 88.8,311.7 90.0,311.8 91.1,311.9 92.3,312.0 93.4,313.9 94.6,314.0 95.7,315.1 96.9,313.1 98.0,313.2 99.2,313.3 100.4,313.4 101.5,313.5 102.7,314.1 103.8,314.9 105.0,315.0 106.1,315.0 107.3,315.1 108.4,312.2 109.6,312.2 110.7,312.3 111.9,313.9 113.0,314.0 114.2,314.1 115.4,312.2 116.5,314.5 117.7,314.6 118.8,312.5 120.0,312.6 121.1,314.6 122.3,314.6 123.4,314.7 124.6,313.4 125.7,314.1 126.9,316.1 128.1,316.2 129.2,313.6 130.4,313.7 131.5,313.8 132.7,313.9 133.8,314.0 135.0,314.2 136.1,314.3 137.3,314.4 138.4,314.5 139.6,314.6 140.7,314.7 141.9,314.8 143.1,314.8 144.2,317.1 145.4,316.7 146.5,316.7 147.7,316.8 148.8,316.9 150.0,317.0 151.1,319.0 152.3,319.1 153.4,316.5 154.6,316.6 155.7,316.7 156.9,316.8 158.1,316.9 159.2,317.0 160.4,317.0 161.5,317.1 162.7,317.2 163.8,317.3 165.0,317.4 166.1,315.9 167.3,316.0 168.4,318.1 169.6,318.2 170.7,318.7 171.9,317.1 173.1,318.4 174.2,320.0 175.4,322.3 176.5,327.1 177.7,328.3 178.8,332.3 180.0,336.7 181.1,341.7 182.3,347.1 183.4,353.1 184.6,359.0 185.7,364.9 186.9,370.6 188.1,375.9 189.2,381.5 190.4,386.8 191.5,391.7 192.7,395.7 193.8,399.0 195.0,401.2 196.1,402.5 197.3,402.4 198.4,402.2 199.6,402.0 200.7,401.7 201.9,401.5 203.1,401.5 204.2,401.2 205.4,400.9 206.5,400.6 207.7,400.6 208.8,400.4 210.0,400.3 211.1,400.1 212.3,400.0 213.4,399.8 214.6,399.9 215.8,399.7 216.9,399.5 218.1,399.4 219.2,399.3 220.4,399.1 221.5,398.8 222.7,398.7 223.8,399.0 225.0,398.7 226.1,398.3 227.3,397.9 228.4,397.6 229.6,397.3 230.8,396.9 231.9,396.4 233.1,395.6 234.2,395.1 235.4,394.4 236.5,393.6 237.7,392.9 238.8,392.1 240.0,391.3 241.1,390.6 242.3,389.7 243.4,388.9 244.6,388.1 245.8,387.3 246.9,386.5 248.1,385.7 249.2,385.1 250.4,384.5 251.5,383.7 252.7,383.0 253.8,382.4 255.0,381.7 256.1,381.1 257.3,380.6 258.4,380.2 259.6,379.7 260.8,379.4 261.9,379.1 263.1,378.8 264.2,378.7 265.4,378.6 266.5,378.5 267.7,378.4 268.8,378.4 270.0,378.5 271.1,378.6 272.3,378.6 273.4,378.4 274.6,378.5 275.8,378.3 276.9,378.3 278.1,378.3 279.2,378.7 280.4,378.6 281.5,378.4 282.7,378.6 283.8,378.5 285.0,378.7 286.1,378.3 287.3,378.3 288.4,378.5 289.6,378.5 290.8,378.3 291.9,378.7 293.1,378.6 294.2,378.3 295.4,378.7 296.5,378.7 297.7,378.4 298.8,378.5 300.0,378.3 301.1,378.8 302.3,378.6 303.5,378.6 304.6,378.5 305.8,378.6 306.9,378.5 308.1,378.5 309.2,378.5 310.4,378.6 311.5,378.5 312.7,378.5 313.8,378.3 315.0,378.4 316.1,378.7 317.3,378.6 318.5,378.5 319.6,378.7 320.8,378.4 321.9,378.3 323.1,378.5 324.2,378.4 325.4,378.4 326.5,378.6 327.7,378.5 328.8,378.5 330.0,378.5 331.1,378.7 332.3,378.4 333.5,378.7 334.6,378.5 335.8,378.7 336.9,378.7 338.1,378.3 339.2,378.7 340.4,378.8 341.5,378.3 342.7,378.8 343.8,378.6 345.0,378.7 346.1,378.7 347.3,378.7 348.5,378.6 349.6,378.4 350.8,378.5 351.9,378.4 353.1,378.6 354.2,378.8 355.4,378.5 356.5,378.4 357.7,378.5 358.8,378.8 360.0,378.6 361.1,378.8 362.3,378.7 363.5,378.3 364.6,378.5 365.8,378.4 366.9,378.6 368.1,378.3 369.2,378.6 370.4,378.7 371.5,378.5 372.7,378.5 373.8,378.7 375.0,378.6 376.1,378.3 377.3,378.4 378.5,378.8 379.6,378.6 380.8,378.6 381.9,378.6 383.1,378.5 384.2,378.5 385.4,378.6 386.5,378.6 387.7,378.4 388.8,378.5 390.0,378.5 391.2,378.6 392.3,378.8 393.5,378.3 394.6,378.6 395.8,378.3 396.9,378.6 398.1,378.3 399.2,378.6 400.4,378.4 401.5,378.3 402.7,378.3 403.8,378.8 405.0,378.3 406.2,378.5 407.3,378.6 408.5,378.3 409.6,378.5 410.8,378.4 411.9,378.7 413.1,378.3 414.2,378.6 415.4,378.7 416.5,378.3 417.7,378.5 418.8,378.6 420.0,378.7 421.2,378.5 422.3,378.3 423.5,378.7 424.6,378.5 425.8,378.5 426.9,378.7 428.1,378.3 429.2,378.4 430.4,378.7 431.5,378.4 432.7,378.8 433.8,378.4 435.0,378.3 436.2,378.5" stroke="#20968b"/><polyline points="69.2,309.9 70.4,309.9 71.5,312.3 72.7,312.4 73.8,313.0 75.0,313.1 76.1,313.1 77.3,314.3 78.4,314.4 79.6,314.5 80.7,312.2 81.9,311.7 83.0,310.8 84.2,310.9 85.4,310.9 86.5,312.6 87.7,310.6 88.8,310.6 90.0,308.7 91.1,309.3 92.3,309.4 93.4,309.4 94.6,312.2 95.7,309.8 96.9,309.9 98.0,312.6 99.2,312.6 100.4,310.5 101.5,310.6 102.7,310.6 103.8,310.7 105.0,310.8 106.1,310.8 107.3,310.9 108.4,311.0 109.6,310.3 110.7,310.3 111.9,310.4 113.0,310.5 114.2,310.5 115.4,310.6 116.5,310.7 117.7,310.7 118.8,312.6 120.0,311.7 121.1,311.7 122.3,311.8 123.4,311.9 124.6,311.9 125.7,313.5 126.9,313.5 128.1,313.6 129.2,313.7 130.4,313.7 131.5,314.7 132.7,315.0 133.8,315.0 135.0,312.6 136.1,311.7 137.3,309.9 138.4,313.2 139.6,313.3 140.7,313.3 141.9,313.4 143.1,313.5 144.2,313.5 145.4,313.6 146.5,313.7 147.7,315.4 148.8,315.5 150.0,315.6 151.1,317.2 152.3,317.2 153.4,316.7 154.6,316.7 155.7,315.1 156.9,315.2 158.1,314.7 159.2,314.8 160.4,314.8 161.5,314.9 162.7,316.5 163.8,317.7 165.0,318.5 166.1,318.6 167.3,318.7 168.4,318.7 169.6,316.8 170.7,316.9 171.9,319.2 173.1,319.3 174.2,320.2 175.4,318.5 176.5,319.5 177.7,320.9 178.8,322.7 180.0,325.1 181.1,327.9 182.3,332.1 183.4,337.0 184.6,341.1 185.7,345.8 186.9,350.6 188.1,355.1 189.2,360.4 190.4,365.0 191.5,370.5 192.7,375.2 193.8,380.4 195.0,384.9 196.1,389.5 197.3,393.4 198.4,396.8 199.6,399.2 200.7,400.7 201.9,401.2 203.1,401.3 204.2,401.0 205.4,400.4 206.5,399.7 207.7,398.6 208.8,397.7 210.0,396.8 211.1,395.9 212.3,394.9 213.4,394.1 214.6,393.4 215.8,392.7 216.9,392.2 218.1,391.6 219.2,391.6 220.4,391.5 221.5,391.5 222.7,391.4 223.8,391.3 225.0,391.2 226.1,390.9 227.3,390.8 228.4,390.8 229.6,390.8 230.8,390.7 231.9,390.4 233.1,390.3 234.2,390.2 235.4,390.2 236.5,390.1 237.7,390.1 238.8,390.2 240.0,390.1 241.1,390.1 242.3,390.0 243.4,389.6 244.6,389.6 245.8,389.5 246.9,389.4 248.1,389.4 249.2,389.0 250.4,388.9 251.5,388.9 252.7,388.8 253.8,388.8 255.0,388.9 256.1,388.8 257.3,388.7 258.4,388.7 259.6,388.5 260.8,388.2 261.9,387.9 263.1,387.6 264.2,387.2 265.4,386.8 266.5,386.4 267.7,385.9 268.8,385.5 270.0,385.2 271.1,384.5 272.3,384.1 273.4,383.6 274.6,383.1 275.8,382.7 276.9,382.2 278.1,381.7 279.2,381.3 280.4,380.9 281.5,380.5 282.7,380.2 283.8,379.9 285.0,379.6 286.1,379.3 287.3,379.1 288.4,378.9 289.6,378.7 290.8,378.6 291.9,378.6 293.1,378.5 294.2,378.5 295.4,378.7 296.5,378.3 297.7,378.6 298.8,378.8 300.0,378.7 301.1,378.3 302.3,378.6 303.5,378.7 304.6,378.5 305.8,378.4 306.9,378.5 308.1,378.5 309.2,378.6 310.4,378.3 311.5,378.8 312.7,378.5 313.8,378.3 315.0,378.3 316.1,378.3 317.3,378.5 318.5,378.4 319.6,378.4 320.8,378.5 321.9,378.6 323.1,378.3 324.2,378.4 325.4,378.6 326.5,378.8 327.7,378.7 328.8,378.5 330.0,378.3 331.1,378.3 332.3,378.3 333.5,378.7 334.6,378.7 335.8,378.6 336.9,378.3 338.1,378.3 339.2,378.3 340.4,378.4 341.5,378.5 342.7,378.6 343.8,378.7 345.0,378.6 346.1,378.6 347.3,378.6 348.5,378.7 349.6,378.5 350.8,378.4 351.9,378.6 353.1,378.7 354.2,378.3 355.4,378.7 356.5,378.4 357.7,378.8 358.8,378.7 360.0,378.4 361.1,378.5 362.3,378.5 363.5,378.4 364.6,378.5 365.8,378.5 366.9,378.7 368.1,378.3 369.2,378.6 370.4,378.5 371.5,378.6 372.7,378.7 373.8,378.6 375.0,378.3 376.1,378.8 377.3,378.3 378.5,378.8 379.6,378.6 380.8,378.4 381.9,378.4 383.1,378.4 384.2,378.7 385.4,378.7 386.5,378.4 387.7,378.4 388.8,378.3 390.0,378.5 391.2,378.4 392.3,378.7 393.5,378.6 394.6,378.6 395.8,378.5 396.9,378.4 398.1,378.6 399.2,378.3 400.4,378.7 401.5,378.7 402.7,378.8 403.8,378.6 405.0,378.8 406.2,378.3 407.3,378.4 408.5,378.3 409.6,378.7 410.8,378.6 411.9,378.4 413.1,378.4 414.2,378.6 415.4,378.7 416.5,378.3 417.7,378.6 418.8,378.5 420.0,378.6 421.2,378.4 422.3,378.5 423.5,378.4 424.6,378.4 425.8,378.4 426.9,378.7 428.1,378.5 429.2,378.5 430.4,378.8 431.5,378.4 432.7,378.7 433.8,378.7 435.0,378.7 436.2,378.5" stroke="#1e9d88"/><polyline points="69.2,318.3 70.4,320.3 71.5,320.4 72.7,317.7 73.8,317.8 75.0,316.8 76.1,316.9 77.3,316.9 78.4,316.9 79.6,314.8 80.7,318.0 81.9,318.0 83.0,318.0 84.2,318.6 85.4,318.7 86.5,318.7 87.7,318.6 88.8,318.6 90.0,316.8 91.1,317.4 92.3,316.9 93.4,316.9 94.6,317.0 95.7,317.0 96.9,317.0 98.0,315.1 99.2,315.1 100.4,314.2 101.5,313.8 102.7,313.8 103.8,314.6 105.0,317.2 106.1,317.2 107.3,317.3 108.4,317.3 109.6,317.3 110.7,317.4 111.9,319.8 113.0,319.8 114.2,318.6 115.4,318.6 116.5,317.5 117.7,317.5 118.8,317.6 120.0,317.6 121.1,317.6 122.3,318.4 123.4,318.4 124.6,318.4 125.7,318.5 126.9,318.5 128.1,319.5 129.2,322.0 130.4,322.1 131.5,323.2 132.7,323.2 133.8,323.3 135.0,325.3 136.1,325.4 137.3,325.4 138.4,322.3 139.6,322.3 140.7,322.4 141.9,322.4 143.1,322.4 144.2,322.5 145.4,321.5 146.5,321.5 147.7,322.4 148.8,320.6 150.0,320.6 151.1,320.7 152.3,320.6 153.4,318.4 154.6,318.9 155.7,317.3 156.9,319.2 158.1,318.4 159.2,318.4 160.4,318.4 161.5,321.0 162.7,321.0 163.8,323.0 165.0,323.0 166.1,323.0 167.3,324.4 168.4,324.5 169.6,324.5 170.7,324.6 171.9,324.6 173.1,326.6 174.2,324.2 175.4,324.2 176.5,324.7 177.7,322.0 178.8,322.1 180.0,322.3 181.1,325.1 182.3,324.7 183.4,325.7 184.6,327.2 185.7,329.0 186.9,331.2 188.1,333.9 189.2,336.9 190.4,340.3 191.5,344.2 192.7,347.7 193.8,352.0 195.0,357.7 196.1,362.3 197.3,366.9 198.4,371.5 199.6,376.0 200.7,380.4 201.9,384.4 203.1,388.1 204.2,391.4 205.4,394.0 206.5,396.3 207.7,397.8 208.8,398.6 210.0,398.8 211.1,398.6 212.3,398.4 213.4,397.9 214.6,397.6 215.8,397.0 216.9,396.6 218.1,396.2 219.2,395.8 220.4,395.6 221.5,395.5 222.7,395.2 223.8,395.0 225.0,394.5 226.1,394.3 227.3,394.3 228.4,394.2 229.6,394.3 230.8,394.2 231.9,394.1 233.1,394.0 234.2,393.9 235.4,393.9 236.5,393.8 237.7,393.8 238.8,393.7 240.0,393.6 241.1,393.5 242.3,393.4 243.4,393.4 244.6,393.3 245.8,392.8 246.9,392.8 248.1,393.1 249.2,393.2 250.4,393.1 251.5,393.1 252.7,393.0 253.8,393.0 255.0,393.0 256.1,393.0 257.3,392.9 258.4,392.4 259.6,392.3 260.8,392.4 261.9,392.4 263.1,392.3 264.2,392.3 265.4,392.2 266.5,392.3 267.7,392.2 268.8,392.2 270.0,392.1 271.1,392.0 272.3,392.0 273.4,391.8 274.6,391.6 275.8,391.3 276.9,391.0 278.1,390.6 279.2,389.7 280.4,389.3 281.5,388.7 282.7,388.2 283.8,387.6 285.0,387.0 286.1,386.5 287.3,385.8 288.4,385.2 289.6,384.4 290.8,383.9 291.9,383.2 293.1,382.6 294.2,382.1 295.4,381.5 296.5,381.0 297.7,380.5 298.8,380.1 300.0,379.7 301.1,379.4 302.3,379.1 303.5,378.9 304.6,378.7 305.8,378.6 306.9,378.5 308.1,378.3 309.2,378.8 310.4,378.6 311.5,378.8 312.7,378.3 313.8,378.5 315.0,378.3 316.1,378.7 317.3,378.6 318.5,378.7 319.6,378.6 320.8,378.3 321.9,378.4 323.1,378.4 324.2,378.4 325.4,378.5 326.5,378.7 327.7,378.4 328.8,378.6 330.0,378.6 331.1,378.4 332.3,378.4 333.5,378.7 334.6,378.7 335.8,378.6 336.9,378.3 338.1,378.6 339.2,378.3 340.4,378.4 341.5,378.6 342.7,378.6 343.8,378.7 345.0,378.7 346.1,378.5 347.3,378.6 348.5,378.7 349.6,378.7 350.8,378.6 351.9,378.5 353.1,378.4 354.2,378.4 355.4,378.6 356.5,378.6 357.7,378.3 358.8,378.3 360.0,378.4 361.1,378.8 362.3,378.5 363.5,378.5 364.6,378.3 365.8,378.3 366.9,378.7 368.1,378.4 369.2,378.7 370.4,378.7 371.5,378.7 372.7,378.3 373.8,378.5 375.0,378.4 376.1,378.6 377.3,378.3 378.5,378.5 379.6,378.8 380.8,378.4 381.9,378.7 383.1,378.5 384.2,378.7 385.4,378.4 386.5,378.4 387.7,378.7 388.8,378.5 390.0,378.4 391.2,378.6 392.3,378.3 393.5,378.5 394.6,378.7 395.8,378.6 396.9,378.3 398.1,378.8 399.2,378.8 400.4,378.4 401.5,378.5 402.7,378.6 403.8,378.5 405.0,378.7 406.2,378.3 407.3,378.5 408.5,378.5 409.6,378.4 410.8,378.5 411.9,378.7 413.1,378.7 414.2,378.8 415.4,378.7 416.5,378.8 417.7,378.6 418.8,378.6 420.0,378.7 421.2,378.5 422.3,378.7 423.5,378.7 424.6,378.6 425.8,378.5 426.9,378.4 428.1,378.5 429.2,378.7 430.4,378.3 431.5,378.6 432.7,378.5 433.8,378.3 435.0,378.6 436.2,378.5" stroke="#22a884"/><polyline points="69.2,322.8 70.4,322.8 71.5,322.8 72.7,322.8 73.8,322.8 75.0,320.5 76.1,320.5 77.3,320.5 78.4,320.2 79.6,320.2 80.7,321.6 81.9,321.6 83.0,323.8 84.2,323.8 85.4,322.1 86.5,322.0 87.7,323.4 88.8,322.8 90.0,322.8 91.1,322.7 92.3,322.7 93.4,322.7 94.6,322.7 95.7,322.7 96.9,322.7 98.0,323.4 99.2,321.6 100.4,319.6 101.5,322.0 102.7,321.9 103.8,322.8 105.0,322.7 106.1,322.7 107.3,322.7 108.4,322.7 109.6,322.7 110.7,322.7 111.9,322.7 113.0,322.7 114.2,322.7 115.4,320.9 116.5,320.9 117.7,320.9 118.8,320.9 120.0,320.9 121.1,320.9 122.3,320.9 123.4,320.8 124.6,320.8 125.7,320.8 126.9,320.8 128.1,322.9 129.2,322.9 130.4,322.8 131.5,322.8 132.7,322.8 133.8,324.7 135.0,324.6 136.1,325.9 137.3,325.9 138.4,325.9 139.6,325.9 140.7,323.7 141.9,323.7 143.1,321.2 144.2,321.2 145.4,321.2 146.5,322.4 147.7,322.4 148.8,322.4 150.0,322.3 151.1,322.3 152.3,320.5 153.4,322.1 154.6,322.1 155.7,322.5 156.9,323.2 158.1,325.0 159.2,325.0 160.4,325.9 161.5,325.9 162.7,325.9 163.8,325.9 165.0,325.0 166.1,325.0 167.3,325.0 168.4,325.0 169.6,325.0 170.7,325.0 171.9,325.0 173.1,322.6 174.2,322.6 175.4,322.0 176.5,321.9 177.7,321.9 178.8,321.9 180.0,321.9 181.1,322.0 182.3,320.1 183.4,320.1 184.6,320.3 185.7,320.7 186.9,321.3 188.1,322.3 189.2,322.7 190.4,324.4 191.5,326.6 192.7,330.1 193.8,333.0 195.0,335.5 196.1,339.2 197.3,342.9 198.4,348.4 199.6,352.9 200.7,357.6 201.9,362.4 203.1,367.2 204.2,372.0 205.4,376.6 206.5,380.7 207.7,384.9 208.8,388.6 210.0,391.9 211.1,394.6 212.3,396.7 213.4,398.1 214.6,398.7 215.8,398.4 216.9,398.3 218.1,398.2 219.2,397.9 220.4,398.1 221.5,398.0 222.7,397.9 223.8,397.7 225.0,397.2 226.1,397.2 227.3,397.0 228.4,396.9 229.6,396.6 230.8,396.5 231.9,396.5 233.1,396.4 234.2,396.3 235.4,396.2 236.5,396.0 237.7,395.9 238.8,395.8 240.0,395.8 241.1,395.7 242.3,395.7 243.4,395.6 244.6,395.8 245.8,395.7 246.9,395.6 248.1,395.5 249.2,395.4 250.4,395.3 251.5,395.2 252.7,395.2 253.8,395.1 255.0,395.0 256.1,395.0 257.3,394.9 258.4,394.8 259.6,394.4 260.8,394.3 261.9,394.1 263.1,394.0 264.2,393.8 265.4,393.5 266.5,393.4 267.7,393.4 268.8,393.3 270.0,393.2 271.1,393.2 272.3,393.1 273.4,393.3 274.6,393.5 275.8,393.4 276.9,393.6 278.1,393.5 279.2,393.5 280.4,393.1 281.5,393.1 282.7,393.0 283.8,392.9 285.0,392.8 286.1,393.2 287.3,393.1 288.4,393.1 289.6,393.0 290.8,393.2 291.9,393.2 293.1,393.1 294.2,393.0 295.4,392.8 296.5,392.9 297.7,392.9 298.8,392.9 300.0,392.6 301.1,392.5 302.3,392.4 303.5,392.6 304.6,392.5 305.8,392.4 306.9,392.1 308.1,391.8 309.2,391.5 310.4,391.1 311.5,390.5 312.7,390.0 313.8,389.4 315.0,388.9 316.1,387.9 317.3,387.2 318.5,386.6 319.6,386.0 320.8,385.4 321.9,384.8 323.1,384.1 324.2,383.6 325.4,383.1 326.5,382.5 327.7,382.0 328.8,381.5 330.0,381.0 331.1,380.6 332.3,380.2 333.5,379.8 334.6,379.5 335.8,379.2 336.9,379.0 338.1,378.8 339.2,378.7 340.4,378.6 341.5,378.5 342.7,378.7 343.8,378.7 345.0,378.5 346.1,378.3 347.3,378.3 348.5,378.7 349.6,378.6 350.8,378.4 351.9,378.5 353.1,378.5 354.2,378.7 355.4,378.8 356.5,378.7 357.7,378.5 358.8,378.4 360.0,378.6 361.1,378.6 362.3,378.8 363.5,378.4 364.6,378.3 365.8,378.3 366.9,378.7 368.1,378.5 369.2,378.7 370.4,378.4 371.5,378.7 372.7,378.6 373.8,378.6 375.0,378.7 376.1,378.3 377.3,378.7 378.5,378.3 379.6,378.5 380.8,378.3 381.9,378.5 383.1,378.6 384.2,378.4 385.4,378.3 386.5,378.7 387.7,378.8 388.8,378.6 390.0,378.7 391.2,378.4 392.3,378.5 393.5,378.4 394.6,378.6 395.8,378.4 396.9,378.8 398.1,378.7 399.2,378.7 400.4,378.6 401.5,378.4 402.7,378.5 403.8,378.4 405.0,378.6 406.2,378.4 407.3,378.6 408.5,378.6 409.6,378.3 410.8,378.5 411.9,378.7 413.1,378.6 414.2,378.5 415.4,378.6 416.5,378.7 417.7,378.4 418.8,378.6 420.0,378.3 421.2,378.8 422.3,378.6 423.5,378.7 424.6,378.6 425.8,378.8 426.9,378.7 428.1,378.5 429.2,378.4 430.4,378.4 431.5,378.6 432.7,378.4 433.8,378.4 435.0,378.4 436.2,378.7" stroke="#2cb17e"/><polyline points="69.2,328.9 70.4,327.2 71.5,328.3 72.7,328.2 73.8,328.2 75.0,328.2 76.1,328.1 77.3,328.1 78.4,328.0 79.6,329.7 80.7,329.7 81.9,328.7 83.0,330.2 84.2,330.2 85.4,330.1 86.5,331.6 87.7,331.5 88.8,331.5 90.0,331.5 91.1,331.4 92.3,331.6 93.4,331.5 94.6,332.7 95.7,332.7 96.9,330.9 98.0,330.9 99.2,330.8 100.4,332.6 101.5,332.6 102.7,332.6 103.8,332.5 105.0,333.2 106.1,333.2 107.3,333.9 108.4,335.0 109.6,335.0 110.7,335.9 111.9,333.2 113.0,333.1 114.2,330.4 115.4,330.2 116.5,330.2 117.7,331.4 118.8,331.3 120.0,331.3 121.1,328.7 122.3,328.7 123.4,328.6 124.6,328.6 125.7,328.6 126.9,328.5 128.1,328.5 129.2,326.5 130.4,326.5 131.5,326.1 132.7,326.1 133.8,326.0 135.0,325.9 136.1,325.9 137.3,324.0 138.4,324.0 139.6,324.0 140.7,323.9 141.9,323.9 143.1,326.0 144.2,326.0 145.4,326.4 146.5,327.9 147.7,327.8 148.8,327.8 150.0,327.8 151.1,326.7 152.3,326.7 153.4,326.8 154.6,326.8 155.7,326.8 156.9,326.7 158.1,326.5 159.2,326.4 160.4,326.4 161.5,326.4 162.7,326.3 163.8,326.3 165.0,326.2 166.1,326.2 167.3,326.2 168.4,326.1 169.6,326.6 170.7,325.0 171.9,324.9 173.1,324.6 174.2,324.6 175.4,324.5 176.5,324.5 177.7,324.4 178.8,324.4 180.0,324.4 181.1,324.3 182.3,324.3 183.4,324.2 184.6,324.2 185.7,322.0 186.9,322.0 188.1,322.1 189.2,322.1 190.4,320.5 191.5,324.0 192.7,324.8 193.8,325.9 195.0,327.3 196.1,329.2 197.3,331.4 198.4,333.0 199.6,336.0 200.7,339.2 201.9,342.9 203.1,347.0 204.2,350.9 205.4,355.4 206.5,360.1 207.7,365.5 208.8,370.2 210.0,374.8 211.1,379.2 212.3,383.6 213.4,387.2 214.6,390.4 215.8,393.1 216.9,395.2 218.1,396.8 219.2,397.6 220.4,397.9 221.5,397.7 222.7,397.7 223.8,397.4 225.0,397.1 226.1,396.7 227.3,396.1 228.4,395.8 229.6,395.2 230.8,394.9 231.9,394.6 233.1,394.7 234.2,394.5 235.4,394.0 236.5,393.9 237.7,393.8 238.8,393.7 240.0,393.6 241.1,393.5 242.3,393.4 243.4,393.4 244.6,393.3 245.8,392.9 246.9,393.1 248.1,393.1 249.2,393.0 250.4,392.9 251.5,393.2 252.7,392.8 253.8,392.7 255.0,392.7 256.1,392.6 257.3,392.2 258.4,392.5 259.6,392.4 260.8,392.3 261.9,392.3 263.1,392.2 264.2,391.9 265.4,392.0 266.5,391.9 267.7,391.9 268.8,391.8 270.0,391.7 271.1,391.7 272.3,391.6 273.4,391.6 274.6,391.4 275.8,391.3 276.9,391.3 278.1,391.2 279.2,391.1 280.4,391.1 281.5,391.0 282.7,391.2 283.8,391.4 285.0,391.3 286.1,391.3 287.3,391.2 288.4,391.1 289.6,391.1 290.8,391.0 291.9,391.0 293.1,390.9 294.2,390.8 295.4,390.9 296.5,390.7 297.7,390.5 298.8,390.3 300.0,390.0 301.1,389.7 302.3,389.3 303.5,388.9 304.6,388.4 305.8,387.9 306.9,387.5 308.1,387.0 309.2,386.2 310.4,385.6 311.5,385.1 312.7,384.7 313.8,384.2 315.0,383.7 316.1,383.2 317.3,382.7 318.5,382.2 319.6,381.7 320.8,381.4 321.9,381.0 323.1,380.6 324.2,380.2 325.4,379.9 326.5,379.6 327.7,379.3 328.8,379.1 330.0,378.9 331.1,378.8 332.3,378.6 333.5,378.6 334.6,378.5 335.8,378.7 336.9,378.7 338.1,378.3 339.2,378.5 340.4,378.4 341.5,378.6 342.7,378.6 343.8,378.5 345.0,378.3 346.1,378.6 347.3,378.3 348.5,378.7 349.6,378.4 350.8,378.3 351.9,378.6 353.1,378.7 354.2,378.7 355.4,378.6 356.5,378.4 357.7,378.5 358.8,378.8 360.0,378.3 361.1,378.5 362.3,378.6 363.5,378.7 364.6,378.4 365.8,378.6 366.9,378.7 368.1,378.8 369.2,378.4 370.4,378.3 371.5,378.4 372.7,378.7 373.8,378.4 375.0,378.6 376.1,378.3 377.3,378.3 378.5,378.6 379.6,378.7 380.8,378.4 381.9,378.4 383.1,378.8 384.2,378.5 385.4,378.7 386.5,378.4 387.7,378.6 388.8,378.7 390.0,378.7 391.2,378.7 392.3,378.5 393.5,378.5 394.6,378.6 395.8,378.3 396.9,378.5 398.1,378.6 399.2,378.8 400.4,378.7 401.5,378.3 402.7,378.4 403.8,378.7 405.0,378.3 406.2,378.8 407.3,378.3 408.5,378.8 409.6,378.5 410.8,378.8 411.9,378.4 413.1,378.6 414.2,378.6 415.4,378.8 416.5,378.6 417.7,378.6 418.8,378.7 420.0,378.4 421.2,378.8 422.3,378.7 423.5,378.7 424.6,378.7 425.8,378.4 426.9,378.6 428.1,378.5 429.2,378.5 430.4,378.5 431.5,378.8 432.7,378.4 433.8,378.4 435.0,378.7 436.2,378.7" stroke="#3bba75"/><polyline points="69.2,325.9 70.4,325.8 71.5,325.8 72.7,325.7 73.8,324.4 75.0,324.3 76.1,324.3 77.3,324.3 78.4,323.9 79.6,323.8 80.7,323.8 81.9,323.7 83.0,323.7 84.2,323.6 85.4,323.5 86.5,323.5 87.7,323.4 88.8,326.0 90.0,325.9 91.1,324.6 92.3,324.6 93.4,324.5 94.6,324.6 95.7,325.4 96.9,323.5 98.0,323.4 99.2,323.4 100.4,323.3 101.5,323.2 102.7,324.2 103.8,323.9 105.0,321.5 106.1,321.4 107.3,321.4 108.4,320.6 109.6,320.5 110.7,320.5 111.9,320.4 113.0,320.4 114.2,322.3 115.4,322.3 116.5,322.2 117.7,322.2 118.8,322.1 120.0,322.1 121.1,322.0 122.3,323.2 123.4,323.2 124.6,323.6 125.7,322.6 126.9,323.6 128.1,324.7 129.2,322.4 130.4,322.4 131.5,322.3 132.7,320.1 133.8,320.0 135.0,319.6 136.1,317.7 137.3,317.6 138.4,319.0 139.6,318.9 140.7,318.9 141.9,318.8 143.1,318.7 144.2,318.7 145.4,318.6 146.5,321.6 147.7,321.5 148.8,321.5 150.0,320.9 151.1,319.1 152.3,319.1 153.4,318.5 154.6,318.5 155.7,318.4 156.9,318.3 158.1,320.1 159.2,318.7 160.4,318.6 161.5,318.4 162.7,318.3 163.8,318.3 165.0,318.2 166.1,318.2 167.3,318.1 168.4,319.4 169.6,319.1 170.7,319.0 171.9,318.9 173.1,318.9 174.2,321.5 175.4,320.1 176.5,321.4 177.7,321.3 178.8,320.8 180.0,320.7 181.1,319.8 182.3,319.7 183.4,319.6 184.6,318.4 185.7,318.3 186.9,318.3 188.1,319.6 189.2,319.6 190.4,321.7 191.5,321.7 192.7,321.2 193.8,321.2 195.0,321.8 196.1,322.8 197.3,321.7 198.4,323.4 199.6,324.7 200.7,326.6 201.9,329.6 203.1,332.9 204.2,336.7 205.4,340.8 206.5,345.2 207.7,349.8 208.8,354.7 210.0,359.6 211.1,364.6 212.3,369.5 213.4,374.3 214.6,378.9 215.8,383.2 216.9,387.0 218.1,390.4 219.2,393.2 220.4,395.3 221.5,396.8 222.7,397.4 223.8,397.1 225.0,397.1 226.1,396.8 227.3,396.6 228.4,396.1 229.6,395.6 230.8,394.7 231.9,394.2 233.1,393.6 234.2,393.1 235.4,392.3 236.5,391.9 237.7,391.6 238.8,391.3 240.0,391.1 241.1,391.1 242.3,391.0 243.4,390.9 244.6,390.5 245.8,390.5 246.9,390.4 248.1,390.3 249.2,390.4 250.4,390.5 251.5,390.4 252.7,390.4 253.8,390.3 255.0,390.6 256.1,390.5 257.3,390.5 258.4,390.4 259.6,390.4 260.8,390.3 261.9,390.2 263.1,390.2 264.2,390.1 265.4,390.1 266.5,390.0 267.7,390.0 268.8,389.9 270.0,390.1 271.1,390.3 272.3,390.3 273.4,390.2 274.6,390.1 275.8,390.3 276.9,390.2 278.1,390.2 279.2,389.6 280.4,389.6 281.5,389.5 282.7,389.5 283.8,389.4 285.0,389.4 286.1,389.3 287.3,389.3 288.4,389.3 289.6,389.2 290.8,389.3 291.9,389.3 293.1,389.2 294.2,389.2 295.4,389.1 296.5,389.1 297.7,389.0 298.8,389.0 300.0,388.9 301.1,388.8 302.3,388.7 303.5,388.5 304.6,388.5 305.8,388.4 306.9,388.1 308.1,388.0 309.2,388.0 310.4,387.5 311.5,387.8 312.7,387.7 313.8,387.7 315.0,387.6 316.1,387.7 317.3,387.7 318.5,387.6 319.6,387.5 320.8,387.5 321.9,387.4 323.1,387.3 324.2,387.2 325.4,387.1 326.5,387.1 327.7,386.6 328.8,386.8 330.0,386.7 331.1,386.6 332.3,386.5 333.5,386.4 334.6,386.5 335.8,386.4 336.9,386.2 338.1,385.8 339.2,385.6 340.4,385.3 341.5,385.1 342.7,384.6 343.8,384.3 345.0,384.1 346.1,383.8 347.3,383.5 348.5,383.2 349.6,382.9 350.8,382.6 351.9,382.2 353.1,381.8 354.2,381.5 355.4,381.2 356.5,381.0 357.7,380.7 358.8,380.5 360.0,380.3 361.1,380.1 362.3,379.9 363.5,379.7 364.6,379.5 365.8,379.4 366.9,379.3 368.1,379.1 369.2,379.0 370.4,378.9 371.5,378.8 372.7,378.7 373.8,378.6 375.0,378.6 376.1,378.5 377.3,378.5 378.5,378.7 379.6,378.6 380.8,378.5 381.9,378.8 383.1,378.3 384.2,378.7 385.4,378.8 386.5,378.6 387.7,378.5 388.8,378.6 390.0,378.4 391.2,378.6 392.3,378.7 393.5,378.4 394.6,378.5 395.8,378.6 396.9,378.5 398.1,378.6 399.2,378.6 400.4,378.8 401.5,378.8 402.7,378.6 403.8,378.3 405.0,378.6 406.2,378.7 407.3,378.4 408.5,378.6 409.6,378.7 410.8,378.3 411.9,378.5 413.1,378.6 414.2,378.3 415.4,378.3 416.5,378.3 417.7,378.4 418.8,378.6 420.0,378.7 421.2,378.8 422.3,378.7 423.5,378.4 424.6,378.3 425.8,378.6 426.9,378.7 428.1,378.4 429.2,378.5 430.4,378.4 431.5,378.7 432.7,378.3 433.8,378.5 435.0,378.7 436.2,378.5" stroke="#4dc26b"/><polyline points="69.2,327.6 70.4,327.6 71.5,327.5 72.7,327.5 73.8,327.4 75.0,328.8 76.1,328.8 77.3,328.7 78.4,328.6 79.6,328.6 80.7,328.6 81.9,328.6 83.0,328.5 84.2,328.5 85.4,329.6 86.5,329.5 87.7,329.5 88.8,327.6 90.0,328.4 91.1,328.3 92.3,326.1 93.4,326.1 94.6,326.2 95.7,326.2 96.9,326.8 98.0,326.7 99.2,326.7 100.4,326.6 101.5,326.5 102.7,326.5 103.8,325.1 105.0,324.7 106.1,324.7 107.3,324.6 108.4,323.5 109.6,321.5 110.7,320.4 111.9,318.9 113.0,318.8 114.2,317.9 115.4,317.9 116.5,317.8 117.7,317.8 118.8,318.5 120.0,318.4 121.1,318.4 122.3,318.3 123.4,319.8 124.6,320.5 125.7,320.5 126.9,320.4 128.1,322.2 129.2,323.0 130.4,324.8 131.5,324.8 132.7,324.7 133.8,322.2 135.0,322.1 136.1,322.1 137.3,322.0 138.4,322.0 139.6,321.9 140.7,321.6 141.9,321.5 143.1,323.1 144.2,323.0 145.4,325.2 146.5,325.1 147.7,325.0 148.8,326.2 150.0,325.5 151.1,325.4 152.3,324.5 153.4,324.5 154.6,324.4 155.7,324.4 156.9,324.3 158.1,321.6 159.2,321.5 160.4,324.2 161.5,324.2 162.7,324.1 163.8,324.1 165.0,324.0 166.1,323.9 167.3,323.9 168.4,323.6 169.6,323.6 170.7,323.5 171.9,321.4 173.1,321.4 174.2,322.8 175.4,322.7 176.5,322.7 177.7,322.6 178.8,322.5 180.0,322.5 181.1,322.4 182.3,323.2 183.4,320.9 184.6,320.9 185.7,320.2 186.9,320.1 188.1,320.1 189.2,320.5 190.4,320.5 191.5,320.4 192.7,320.3 193.8,320.3 195.0,320.2 196.1,320.2 197.3,320.1 198.4,320.9 199.6,321.3 200.7,322.2 201.9,321.1 203.1,323.7 204.2,325.5 205.4,327.7 206.5,329.4 207.7,332.5 208.8,337.8 210.0,342.2 211.1,346.2 212.3,350.4 213.4,354.8 214.6,359.4 215.8,364.1 216.9,368.8 218.1,373.4 219.2,377.9 220.4,382.1 221.5,386.2 222.7,389.6 223.8,392.5 225.0,395.0 226.1,396.8 227.3,397.9 228.4,398.3 229.6,398.4 230.8,398.0 231.9,397.1 233.1,396.5 234.2,395.7 235.4,394.9 236.5,393.8 237.7,393.0 238.8,391.8 240.0,391.4 241.1,390.7 242.3,390.1 243.4,389.6 244.6,389.0 245.8,388.8 246.9,389.1 248.1,389.0 249.2,389.2 250.4,389.2 251.5,389.2 252.7,389.1 253.8,389.1 255.0,389.0 256.1,389.0 257.3,388.9 258.4,388.9 259.6,388.8 260.8,388.8 261.9,388.4 263.1,388.6 264.2,388.6 265.4,388.2 266.5,388.2 267.7,388.1 268.8,388.1 270.0,388.1 271.1,388.1 272.3,388.3 273.4,388.3 274.6,388.2 275.8,388.3 276.9,388.1 278.1,388.0 279.2,388.0 280.4,387.6 281.5,387.6 282.7,387.5 283.8,387.5 285.0,387.4 286.1,387.4 287.3,387.3 288.4,387.3 289.6,387.3 290.8,387.0 291.9,386.9 293.1,387.2 294.2,387.1 295.4,387.1 296.5,387.1 297.7,387.0 298.8,387.1 300.0,387.4 301.1,387.6 302.3,387.6 303.5,387.6 304.6,387.5 305.8,387.4 306.9,387.4 308.1,387.3 309.2,387.3 310.4,387.2 311.5,387.1 312.7,387.0 313.8,386.7 315.0,386.6 316.1,386.5 317.3,386.0 318.5,386.3 319.6,386.2 320.8,386.3 321.9,386.2 323.1,386.2 324.2,385.6 325.4,385.3 326.5,385.2 327.7,385.1 328.8,385.0 330.0,385.2 331.1,385.2 332.3,385.1 333.5,385.2 334.6,384.8 335.8,384.7 336.9,384.6 338.1,384.5 339.2,384.5 340.4,384.2 341.5,384.2 342.7,384.2 343.8,384.1 345.0,384.0 346.1,383.9 347.3,383.7 348.5,383.6 349.6,383.5 350.8,383.5 351.9,383.4 353.1,383.3 354.2,383.3 355.4,383.6 356.5,383.5 357.7,383.7 358.8,383.3 360.0,383.2 361.1,383.1 362.3,382.9 363.5,382.8 364.6,382.8 365.8,382.6 366.9,382.3 368.1,382.1 369.2,381.9 370.4,381.7 371.5,381.5 372.7,381.3 373.8,381.1 375.0,381.0 376.1,380.8 377.3,380.6 378.5,380.4 379.6,380.2 380.8,380.1 381.9,379.9 383.1,379.7 384.2,379.5 385.4,379.5 386.5,379.3 387.7,379.2 388.8,379.1 390.0,379.0 391.2,378.9 392.3,378.8 393.5,378.7 394.6,378.7 395.8,378.6 396.9,378.6 398.1,378.6 399.2,378.5 400.4,378.5 401.5,378.6 402.7,378.4 403.8,378.8 405.0,378.7 406.2,378.5 407.3,378.3 408.5,378.4 409.6,378.5 410.8,378.7 411.9,378.8 413.1,378.3 414.2,378.8 415.4,378.4 416.5,378.5 417.7,378.6 418.8,378.3 420.0,378.8 421.2,378.7 422.3,378.4 423.5,378.6 424.6,378.4 425.8,378.4 426.9,378.3 428.1,378.4 429.2,378.5 430.4,378.3 431.5,378.3 432.7,378.7 433.8,378.3 435.0,378.5 436.2,378.8" stroke="#66cb5d"/><polyline points="69.2,332.1 70.4,332.0 71.5,332.0 72.7,331.9 73.8,330.9 75.0,330.8 76.1,329.9 77.3,329.8 78.4,329.8 79.6,330.7 80.7,330.7 81.9,330.7 83.0,328.8 84.2,329.4 85.4,329.3 86.5,329.3 87.7,329.2 88.8,329.1 90.0,329.1 91.1,329.0 92.3,328.9 93.4,328.9 94.6,327.3 95.7,327.3 96.9,327.2 98.0,326.7 99.2,326.1 100.4,326.1 101.5,326.0 102.7,325.9 103.8,325.9 105.0,326.7 106.1,328.5 107.3,328.5 108.4,326.5 109.6,326.5 110.7,328.8 111.9,329.4 113.0,330.4 114.2,330.3 115.4,330.3 116.5,330.2 117.7,330.1 118.8,330.1 120.0,330.0 121.1,330.0 122.3,329.9 123.4,328.9 124.6,328.8 125.7,328.8 126.9,328.7 128.1,328.6 129.2,328.6 130.4,328.5 131.5,328.4 132.7,328.4 133.8,328.3 135.0,328.3 136.1,328.2 137.3,328.1 138.4,328.1 139.6,328.0 140.7,326.3 141.9,326.2 143.1,326.2 144.2,326.1 145.4,324.6 146.5,324.6 147.7,324.5 148.8,324.5 150.0,323.5 151.1,323.5 152.3,326.5 153.4,326.5 154.6,326.4 155.7,326.4 156.9,326.5 158.1,324.7 159.2,324.6 160.4,324.5 161.5,324.5 162.7,323.3 163.8,323.3 165.0,323.2 166.1,324.9 167.3,324.8 168.4,324.8 169.6,324.7 170.7,324.6 171.9,324.6 173.1,324.5 174.2,326.3 175.4,326.3 176.5,326.2 177.7,327.2 178.8,326.8 180.0,326.8 181.1,326.8 182.3,326.7 183.4,326.6 184.6,324.4 185.7,323.3 186.9,323.3 188.1,323.2 189.2,322.7 190.4,322.6 191.5,322.6 192.7,322.5 193.8,324.0 195.0,323.9 196.1,323.8 197.3,323.8 198.4,323.7 199.6,323.6 200.7,323.7 201.9,324.8 203.1,324.9 204.2,325.3 205.4,324.4 206.5,325.3 207.7,326.6 208.8,328.5 210.0,329.5 211.1,332.0 212.3,333.2 213.4,336.5 214.6,340.1 215.8,343.7 216.9,347.4 218.1,351.6 219.2,356.3 220.4,361.2 221.5,366.3 222.7,371.6 223.8,376.0 225.0,380.3 226.1,384.1 227.3,387.6 228.4,390.6 229.6,393.0 230.8,394.9 231.9,396.0 233.1,396.4 234.2,395.9 235.4,395.7 236.5,395.6 237.7,395.4 238.8,395.2 240.0,395.0 241.1,394.8 242.3,394.4 243.4,394.2 244.6,394.0 245.8,393.8 246.9,393.7 248.1,393.5 249.2,393.4 250.4,393.4 251.5,393.4 252.7,393.4 253.8,393.7 255.0,393.6 256.1,393.6 257.3,393.5 258.4,393.4 259.6,393.4 260.8,393.3 261.9,393.3 263.1,393.2 264.2,392.8 265.4,392.7 266.5,392.6 267.7,392.6 268.8,392.5 270.0,392.4 271.1,392.6 272.3,392.5 273.4,392.5 274.6,392.5 275.8,392.5 276.9,392.4 278.1,392.6 279.2,392.8 280.4,392.9 281.5,392.9 282.7,392.8 283.8,392.7 285.0,392.4 286.1,391.9 287.3,391.9 288.4,391.8 289.6,391.7 290.8,391.6 291.9,391.9 293.1,391.4 294.2,391.3 295.4,391.3 296.5,391.2 297.7,391.2 298.8,391.1 300.0,391.0 301.1,390.9 302.3,390.8 303.5,390.7 304.6,390.6 305.8,390.5 306.9,390.7 308.1,390.6 309.2,390.5 310.4,390.3 311.5,389.8 312.7,389.5 313.8,389.4 315.0,389.4 316.1,389.3 317.3,389.2 318.5,389.1 319.6,389.3 320.8,389.4 321.9,389.3 323.1,389.2 324.2,389.1 325.4,388.9 326.5,388.8 327.7,388.7 328.8,388.6 330.0,388.7 331.1,388.5 332.3,388.3 333.5,388.1 334.6,388.0 335.8,387.8 336.9,387.7 338.1,387.9 339.2,387.8 340.4,387.7 341.5,387.6 342.7,387.4 343.8,387.4 345.0,386.9 346.1,386.7 347.3,386.6 348.5,386.5 349.6,386.4 350.8,385.9 351.9,385.8 353.1,385.7 354.2,385.6 355.4,385.9 356.5,385.8 357.7,385.7 358.8,385.6 360.0,385.4 361.1,385.1 362.3,385.0 363.5,384.9 364.6,384.8 365.8,384.7 366.9,384.6 368.1,384.6 369.2,384.4 370.4,384.3 371.5,384.2 372.7,384.1 373.8,383.9 375.0,383.7 376.1,383.6 377.3,383.7 378.5,383.5 379.6,383.3 380.8,383.0 381.9,382.8 383.1,382.6 384.2,382.3 385.4,382.1 386.5,381.9 387.7,381.4 388.8,381.1 390.0,380.9 391.2,380.6 392.3,380.3 393.5,380.2 394.6,379.9 395.8,379.9 396.9,379.7 398.1,379.5 399.2,379.4 400.4,379.2 401.5,379.0 402.7,378.9 403.8,378.8 405.0,378.8 406.2,378.7 407.3,378.7 408.5,378.6 409.6,378.6 410.8,378.6 411.9,378.5 413.1,378.5 414.2,378.6 415.4,378.4 416.5,378.4 417.7,378.4 418.8,378.8 420.0,378.7 421.2,378.5 422.3,378.4 423.5,378.4 424.6,378.4 425.8,378.6 426.9,378.5 428.1,378.7 429.2,378.7 430.4,378.3 431.5,378.5 432.7,378.7 433.8,378.8 435.0,378.6 436.2,378.5" stroke="#7ad151"/><polyline points="69.2,343.9 70.4,340.5 71.5,338.1 72.7,336.7 73.8,334.5 75.0,332.6 76.1,331.6 77.3,328.8 78.4,327.7 79.6,326.7 80.7,326.0 81.9,325.4 83.0,325.0 84.2,323.3 85.4,323.1 86.5,323.0 87.7,322.9 88.8,324.2 90.0,325.0 91.1,325.1 92.3,325.2 93.4,325.3 94.6,325.4 95.7,325.5 96.9,325.5 98.0,325.5 99.2,324.8 100.4,324.7 101.5,324.6 102.7,324.4 103.8,324.2 105.0,324.4 106.1,325.1 107.3,324.8 108.4,324.5 109.6,324.2 110.7,323.9 111.9,322.1 113.0,322.5 114.2,320.9 115.4,320.7 116.5,319.5 117.7,319.1 118.8,319.1 120.0,319.1 121.1,319.4 122.3,319.5 123.4,319.6 124.6,319.8 125.7,320.0 126.9,321.2 128.1,321.9 129.2,322.7 130.4,322.9 131.5,322.0 132.7,322.2 133.8,322.5 135.0,322.7 136.1,324.1 137.3,324.2 138.4,324.5 139.6,325.1 140.7,325.6 141.9,325.5 143.1,324.6 144.2,323.1 145.4,322.9 146.5,322.7 147.7,322.4 148.8,322.1 150.0,321.9 151.1,321.6 152.3,322.4 153.4,322.2 154.6,321.9 155.7,321.8 156.9,321.6 158.1,321.5 159.2,320.6 160.4,320.6 161.5,320.6 162.7,321.9 163.8,322.4 165.0,322.6 166.1,322.8 167.3,323.0 168.4,323.9 169.6,323.4 170.7,322.4 171.9,322.7 173.1,322.9 174.2,322.8 175.4,323.0 176.5,323.1 177.7,324.1 178.8,322.9 180.0,323.4 181.1,323.4 182.3,322.8 183.4,323.1 184.6,322.2 185.7,321.4 186.9,321.1 188.1,321.7 189.2,321.5 190.4,321.2 191.5,320.9 192.7,321.6 193.8,321.4 195.0,321.2 196.1,321.0 197.3,320.8 198.4,320.7 199.6,320.7 200.7,320.7 201.9,321.9 203.1,322.0 204.2,322.1 205.4,322.3 206.5,322.7 207.7,322.3 208.8,322.5 210.0,323.1 211.1,323.6 212.3,324.4 213.4,325.4 214.6,326.0 215.8,327.5 216.9,329.4 218.1,330.7 219.2,333.2 220.4,335.9 221.5,339.3 222.7,342.5 223.8,346.0 225.0,349.7 226.1,353.5 227.3,357.4 228.4,361.3 229.6,365.5 230.8,369.3 231.9,373.0 233.1,376.5 234.2,379.7 235.4,382.3 236.5,384.8 237.7,386.7 238.8,388.0 240.0,388.7 241.1,387.8 242.3,387.6 243.4,387.9 244.6,387.9 245.8,387.6 246.9,387.7 248.1,388.0 249.2,388.3 250.4,388.6 251.5,388.5 252.7,389.3 253.8,389.3 255.0,389.6 256.1,389.8 257.3,389.5 258.4,389.0 259.6,389.6 260.8,389.4 261.9,389.1 263.1,388.8 264.2,388.5 265.4,388.2 266.5,387.8 267.7,387.6 268.8,387.4 270.0,387.1 271.1,387.0 272.3,387.1 273.4,387.2 274.6,387.4 275.8,387.6 276.9,387.9 278.1,388.7 279.2,388.7 280.4,389.6 281.5,389.8 282.7,389.7 283.8,389.9 285.0,390.0 286.1,390.4 287.3,390.3 288.4,390.1 289.6,389.8 290.8,389.1 291.9,388.8 293.1,388.5 294.2,387.9 295.4,387.6 296.5,387.4 297.7,387.2 298.8,387.1 300.0,387.1 301.1,387.2 302.3,387.4 303.5,387.9 304.6,388.2 305.8,388.5 306.9,388.8 308.1,388.5 309.2,389.4 310.4,388.9 311.5,389.1 312.7,389.2 313.8,389.2 315.0,388.8 316.1,388.7 317.3,388.5 318.5,388.2 319.6,388.5 320.8,388.2 321.9,387.3 323.1,387.0 324.2,386.6 325.4,386.5 326.5,386.4 327.7,386.8 328.8,386.9 330.0,387.0 331.1,387.5 332.3,387.8 333.5,388.1 334.6,388.5 335.8,388.9 336.9,389.0 338.1,388.8 339.2,388.7 340.4,388.6 341.5,388.4 342.7,388.3 343.8,388.1 345.0,388.0 346.1,387.9 347.3,387.7 348.5,387.6 349.6,387.5 350.8,387.4 351.9,387.2 353.1,387.1 354.2,387.0 355.4,386.8 356.5,386.7 357.7,386.6 358.8,386.4 360.0,386.3 361.1,386.2 362.3,386.0 363.5,385.9 364.6,385.8 365.8,385.7 366.9,385.5 368.1,385.4 369.2,385.3 370.4,385.1 371.5,385.0 372.7,384.9 373.8,384.8 375.0,384.6 376.1,384.5 377.3,384.4 378.5,384.3 379.6,384.2 380.8,384.1 381.9,384.0 383.1,383.8 384.2,383.7 385.4,383.6 386.5,383.5 387.7,383.4 388.8,383.3 390.0,383.2 391.2,383.0 392.3,382.9 393.5,382.8 394.6,382.7 395.8,382.5 396.9,382.4 398.1,382.2 399.2,382.0 400.4,381.8 401.5,381.6 402.7,381.4 403.8,381.1 405.0,380.9 406.2,380.6 407.3,380.4 408.5,380.2 409.6,380.0 410.8,379.8 411.9,379.6 413.1,379.4 414.2,379.3 415.4,379.1 416.5,379.0 417.7,378.9 418.8,378.8 420.0,378.8 421.2,378.7 422.3,378.7 423.5,378.6 424.6,378.6 425.8,378.6 426.9,378.5 428.1,378.5 429.2,378.5 430.4,378.5 431.5,378.5 432.7,378.6 433.8,378.5 435.0,378.7 436.2,378.5" stroke="#aadc32"/><line x1="69.20" y1="378.53" x2="199.02" y2="378.53" stroke="#440154" stroke-width="2.10" stroke-opacity="0.8"/></g><line x1="69.20" y1="378.53" x2="80.74" y2="378.53" stroke="#1a1a1a" stroke-width="2.00"/><polyline points="69.2,378.5 69.6,379.4 76.2,384.4 81.3,390.1 86.4,395.6 91.5,400.8 96.7,404.9 100.4,406.7 106.9,409.0 111.9,410.1 117.1,410.9 123.4,411.3 129.8,411.1 135.0,410.4 146.5,409.0 158.6,407.5 170.2,405.7 180.0,404.0 191.5,402.1 203.4,400.3 226.7,397.8 249.8,395.8 271.1,394.4 299.4,392.6 320.2,390.7 345.0,387.8 372.7,384.7 400.4,382.1 414.2,380.1 428.1,378.7 436.5,378.5" fill="none" stroke="#1a1a1a" stroke-width="2.00" stroke-linejoin="round"/><line x1="69.20" y1="326.10" x2="436.50" y2="326.10" stroke="#000" stroke-width="2.20" stroke-dasharray="2.2 3.63"/><g clip-path="url(#clipB)" fill="none" stroke-width="1.6" stroke-linejoin="round" stroke-opacity="0.28"><polyline points="316.9,102.8 324.3,102.3 331.6,102.6 339.0,105.5 346.4,105.8 353.8,106.1 361.1,106.4 368.5,107.5 375.9,109.6 383.3,109.8 390.6,108.4 398.0,108.7 405.4,106.8 412.7,106.0 420.1,106.9 427.5,110.7 434.9,119.9 442.2,133.2 449.6,147.7 457.0,160.7 464.3,169.2 471.7,170.9 479.1,170.9 486.5,170.1 493.8,170.5 501.2,168.1 508.6,163.1 516.0,157.4 523.3,150.9 530.7,145.7 538.1,143.2 545.4,143.2 552.8,143.2 560.2,143.2 567.6,143.2 574.9,143.2 582.3,143.6 589.7,143.6 597.0,143.6 604.4,143.9 611.8,143.9 619.2,143.9 626.5,143.0 633.9,143.0 641.3,143.0 648.7,143.0 656.0,143.7 663.4,143.7 670.8,143.2 678.1,142.7 685.5,142.7 689.8,142.7" stroke="#fba139"/><polyline points="316.9,93.0 322.0,93.2 327.2,93.5 332.3,93.7 337.4,93.1 342.6,93.4 347.7,93.6 352.8,93.8 358.0,94.1 363.1,94.3 368.2,94.5 373.4,94.8 378.5,95.0 383.6,94.0 388.7,94.3 393.9,96.1 399.0,100.7 404.1,108.3 409.3,117.5 414.4,127.5 419.5,139.3 424.7,148.0 429.8,154.9 434.9,159.7 440.1,160.8 445.2,160.8 450.3,160.8 455.5,160.8 460.6,160.8 465.7,160.7 470.9,160.0 476.0,158.7 481.1,157.0 486.3,155.0 491.4,152.9 496.5,150.8 501.6,148.8 506.8,146.9 511.9,145.6 517.0,144.9 522.2,144.9 527.3,144.9 532.4,145.2 537.6,145.2 542.7,145.4 547.8,145.4 553.0,145.4 558.1,145.4 563.2,145.4 568.4,145.4 573.5,145.4 578.6,145.4 583.8,145.8 588.9,145.8 594.0,145.1 599.2,145.1 604.3,145.1 609.4,145.1 614.5,145.4 619.7,145.4 624.8,144.7 629.9,145.1 635.1,144.7 640.2,144.7 645.3,144.7 650.5,144.7 655.6,144.7 660.7,144.7 665.9,144.7 671.0,144.7 676.1,145.3 681.3,145.3 686.4,145.3 689.8,145.3" stroke="#d8576b"/><polyline points="316.9,38.0 319.7,38.0 322.5,38.0 325.4,38.0 328.2,38.0 331.0,37.7 333.8,37.2 336.7,37.1 339.5,37.1 342.3,37.1 345.1,37.1 348.0,37.9 350.8,39.6 353.6,40.1 356.4,40.1 359.3,40.1 362.1,40.1 364.9,40.8 367.8,42.8 370.6,43.8 373.4,43.8 376.2,43.8 379.1,43.8 381.9,45.1 384.7,52.2 387.5,57.0 390.4,57.0 393.2,57.0 396.0,57.0 398.8,57.1 401.6,61.1 404.5,64.5 407.3,64.5 410.1,64.5 413.0,64.5 415.8,64.5 418.6,68.0 421.4,72.1 424.3,72.1 427.1,72.1 429.9,72.1 432.7,72.8 435.6,79.9 438.4,90.1 441.2,95.9 444.0,101.7 446.8,108.2 449.7,115.3 452.5,122.8 455.3,130.5 458.1,138.0 461.0,145.4 463.8,152.8 466.6,159.1 469.4,164.7 472.3,169.3 475.1,172.4 477.9,174.2 480.7,174.9 483.6,174.9 486.4,174.9 489.2,174.9 492.0,174.9 494.9,174.8 497.7,174.6 500.5,173.8 503.3,173.3 506.2,172.8 509.0,172.1 511.8,171.3 514.6,170.5 517.5,168.8 520.3,167.8 523.1,167.3 525.9,166.1 528.8,165.5 531.6,164.3 534.4,163.0 537.2,161.7 540.1,160.3 542.9,159.0 545.7,157.9 548.5,156.6 551.4,155.3 554.2,154.0 557.0,152.4 559.8,151.2 562.7,150.0 565.5,148.9 568.3,148.3 571.1,147.7 574.0,146.7 576.8,145.9 579.6,145.2 582.4,144.6 585.3,143.2 588.1,142.8 590.9,142.5 593.7,142.9 596.6,142.9 599.4,142.9 602.2,142.9 605.0,142.9 607.9,142.9 610.7,142.9 613.5,142.9 616.3,142.9 619.2,142.3 622.0,142.3 624.8,142.2 627.6,142.2 630.5,142.2 633.3,142.6 636.1,142.6 638.9,141.8 641.8,141.8 644.6,141.8 647.4,141.8 650.2,141.8 653.1,141.8 655.9,141.8 658.7,141.8 661.5,141.8 664.4,141.8 667.2,141.2 670.0,141.2 672.8,141.2 675.7,141.2 678.5,141.2 681.3,141.2 684.1,141.2 687.0,141.2 689.8,141.2" stroke="#ef7e4f" stroke-opacity="0.22"/><polyline points="316.9,97.0 322.6,97.4 328.4,97.7 334.1,98.0 339.9,98.3 345.6,97.7 351.3,98.0 357.1,97.3 362.8,101.0 368.6,103.6 374.3,101.3 380.0,101.6 385.8,101.9 391.5,102.2 397.3,99.3 403.0,99.6 408.8,98.2 414.5,98.5 420.2,103.6 426.0,115.4 431.7,131.1 437.5,146.0 443.2,157.3 448.9,161.7 454.7,161.7 460.4,161.7 466.2,161.7 471.9,161.7 477.6,161.6 483.4,162.1 489.1,161.2 494.9,159.9 500.6,158.3 506.3,156.5 512.1,154.3 517.8,152.2 523.6,150.1 529.3,148.0 535.0,146.1 540.8,144.3 546.5,142.8 552.3,142.1 558.0,141.3 563.8,141.0 569.5,141.0 575.2,141.0 581.0,140.6 586.7,140.6 592.5,140.6 598.2,140.6 603.9,140.6 609.7,140.9 615.4,140.9 621.2,140.9 626.9,140.9 632.6,141.4 638.4,141.2 644.1,141.2 649.9,140.9 655.6,141.4 661.3,141.4 667.1,141.4 672.8,141.4 678.6,141.4 684.3,141.4 689.8,141.4" stroke="#ef7e50"/><polyline points="316.9,55.8 319.7,55.8 322.5,55.8 325.4,55.8 328.2,55.8 331.0,55.9 333.8,56.2 336.7,56.3 339.5,56.3 342.3,56.3 345.1,56.3 348.0,56.3 350.8,56.5 353.6,56.7 356.4,56.7 359.3,56.7 362.1,56.7 364.9,56.7 367.8,60.1 370.6,65.4 373.4,67.0 376.2,67.0 379.1,67.0 381.9,67.0 384.7,67.2 387.5,68.1 390.4,68.7 393.2,68.7 396.0,68.7 398.8,68.7 401.6,68.7 404.5,69.6 407.3,70.7 410.1,70.9 413.0,70.9 415.8,70.9 418.6,70.9 421.4,71.3 424.3,72.6 427.1,73.3 429.9,73.3 432.7,73.3 435.6,73.3 438.4,73.3 441.2,77.6 444.0,84.0 446.8,88.5 449.7,95.3 452.5,103.7 455.3,113.4 458.1,124.1 461.0,135.0 463.8,145.4 466.6,155.0 469.4,163.4 472.3,170.0 475.1,174.5 477.9,175.8 480.7,175.8 483.6,175.8 486.4,176.2 489.2,176.2 492.0,175.4 494.9,175.9 497.7,175.6 500.5,175.6 503.3,176.4 506.2,176.3 509.0,176.0 511.8,175.6 514.6,175.5 517.5,175.0 520.3,173.6 523.1,172.8 525.9,172.2 528.8,171.4 531.6,170.2 534.4,169.1 537.2,167.8 540.1,166.5 542.9,165.1 545.7,162.9 548.5,161.5 551.4,160.1 554.2,158.7 557.0,157.2 559.8,155.8 562.7,155.1 565.5,153.7 568.3,152.4 571.1,151.1 574.0,149.9 576.8,148.8 579.6,146.7 582.4,145.8 585.3,145.6 588.1,144.8 590.9,144.2 593.7,143.6 596.6,143.2 599.4,142.9 602.2,143.1 605.0,143.1 607.9,142.2 610.7,142.2 613.5,142.2 616.3,142.2 619.2,142.2 622.0,141.8 624.8,141.4 627.6,141.4 630.5,141.4 633.3,142.0 636.1,142.0 638.9,142.0 641.8,142.0 644.6,142.0 647.4,142.0 650.2,142.0 653.1,142.0 655.9,142.0 658.7,142.0 661.5,142.0 664.4,141.6 667.2,141.7 670.0,141.7 672.8,141.4 675.7,141.4 678.5,141.4 681.3,141.9 684.1,141.9 687.0,141.9 689.8,141.9" stroke="#f2844b" stroke-opacity="0.22"/><polyline points="316.9,89.2 322.7,89.2 328.4,89.3 334.2,89.4 339.9,89.4 345.7,89.5 351.4,90.1 357.2,90.2 362.9,90.3 368.7,90.3 374.5,90.4 380.2,90.4 386.0,91.3 391.7,91.4 397.5,91.4 403.2,91.8 409.0,91.9 414.7,91.9 420.5,92.0 426.3,92.1 432.0,90.1 437.8,90.3 443.5,93.9 449.3,100.8 455.0,109.9 460.8,119.5 466.6,130.1 472.3,139.7 478.1,147.1 483.8,151.2 489.6,151.2 495.3,151.2 501.1,152.1 506.8,151.8 512.6,151.5 518.4,151.0 524.1,150.5 529.9,149.9 535.6,149.2 541.4,147.8 547.1,146.7 552.9,145.9 558.6,145.2 564.4,144.5 570.2,143.6 575.9,143.1 581.7,142.7 587.4,142.4 593.2,142.2 598.9,142.1 604.7,142.5 610.4,142.5 616.2,142.7 622.0,143.7 627.7,143.0 633.5,143.0 639.2,143.0 645.0,143.0 650.7,143.0 656.5,143.0 662.3,143.0 668.0,143.0 673.8,143.0 679.5,143.6 685.3,143.6 689.8,143.6" stroke="#e56b5d"/><polyline points="316.9,73.7 319.7,73.7 322.5,73.7 325.4,73.7 328.2,73.7 331.0,73.9 333.8,74.8 336.7,75.6 339.5,75.6 342.3,75.6 345.1,75.6 348.0,75.6 350.8,75.9 353.6,76.9 356.4,77.6 359.3,77.6 362.1,77.6 364.9,77.6 367.8,77.6 370.6,77.6 373.4,77.6 376.2,77.5 379.1,77.5 381.9,77.5 384.7,77.5 387.5,77.5 390.4,78.0 393.2,78.9 396.0,79.3 398.8,79.3 401.6,79.3 404.5,79.3 407.3,79.3 410.1,80.0 413.0,81.1 415.8,81.6 418.6,83.5 421.4,87.4 424.3,93.1 427.1,100.1 429.9,108.5 432.7,117.5 435.6,126.4 438.4,135.2 441.2,143.6 444.0,151.8 446.8,158.5 449.7,163.9 452.5,167.8 455.3,168.8 458.1,168.8 461.0,168.8 463.8,168.8 466.6,168.8 469.4,168.8 472.3,169.1 475.1,169.0 477.9,168.7 480.7,168.0 483.6,166.7 486.4,166.0 489.2,165.2 492.0,164.3 494.9,163.4 497.7,162.8 500.5,161.7 503.3,160.8 506.2,159.5 509.0,158.4 511.8,157.1 514.6,155.0 517.5,153.6 520.3,152.3 523.1,151.0 525.9,149.6 528.8,148.3 531.6,147.0 534.4,145.8 537.2,144.6 540.1,143.6 542.9,142.6 545.7,141.7 548.5,140.9 551.4,140.3 554.2,139.7 557.0,139.4 559.8,139.1 562.7,139.1 565.5,138.7 568.3,138.7 571.1,138.9 574.0,138.9 576.8,138.9 579.6,138.9 582.4,139.0 585.3,139.0 588.1,139.0 590.9,138.9 593.7,138.9 596.6,138.9 599.4,138.9 602.2,139.5 605.0,139.4 607.9,139.4 610.7,139.4 613.5,138.9 616.3,138.4 619.2,138.4 622.0,138.4 624.8,138.4 627.6,139.2 630.5,139.2 633.3,139.5 636.1,139.5 638.9,139.5 641.8,139.3 644.6,138.8 647.4,139.3 650.2,139.0 653.1,139.0 655.9,139.0 658.7,139.2 661.5,139.2 664.4,138.5 667.2,138.7 670.0,138.7 672.8,138.7 675.7,138.9 678.5,138.9 681.3,139.4 684.1,139.4 687.0,139.5 689.8,139.5" stroke="#f38749" stroke-opacity="0.22"/><polyline points="316.9,106.7 324.6,106.6 332.3,107.3 340.1,104.3 347.8,104.2 355.5,104.1 363.2,104.0 370.9,103.9 378.7,105.4 386.4,105.2 394.1,103.0 401.8,102.9 409.5,102.8 417.2,102.7 425.0,110.9 432.7,128.3 440.4,145.2 448.1,160.8 455.8,168.4 463.6,168.6 471.3,168.2 479.0,167.2 486.7,165.4 494.4,163.3 502.2,159.6 509.9,156.0 517.6,152.5 525.3,149.2 533.0,146.9 540.8,145.2 548.5,145.3 556.2,144.8 563.9,144.8 571.6,144.8 579.4,144.8 587.1,144.5 594.8,144.5 602.5,144.2 610.2,144.2 617.9,144.2 625.7,144.2 633.4,144.1 641.1,144.3 648.8,144.3 656.5,144.5 664.3,144.5 672.0,144.5 679.7,145.0 689.8,145.0" stroke="#e4695f"/><polyline points="316.9,96.9 322.1,100.2 327.2,100.4 332.4,100.5 337.5,100.0 342.7,100.2 347.8,100.3 353.0,100.4 358.1,100.6 363.3,100.7 368.4,100.8 373.6,101.0 378.7,101.1 383.9,101.3 389.0,101.4 394.2,101.5 399.3,101.7 404.5,101.8 409.6,102.1 414.8,105.3 419.9,110.4 425.1,118.7 430.2,128.1 435.4,137.5 440.5,145.4 445.7,152.0 450.8,156.1 456.0,156.4 461.1,156.3 466.3,156.9 471.4,157.3 476.6,157.3 481.7,156.8 486.9,156.5 492.0,156.0 497.2,154.6 502.3,154.0 507.5,153.6 512.6,152.8 517.8,152.0 522.9,151.2 528.1,150.4 533.2,149.2 538.4,148.5 543.5,147.9 548.7,147.3 553.8,146.8 559.0,146.5 564.1,146.3 569.3,146.2 574.4,146.2 579.6,146.2 584.7,146.2 589.9,146.2 595.0,146.4 600.2,146.4 605.3,146.9 610.5,146.6 615.6,146.6 620.8,146.6 625.9,146.2 631.1,146.2 636.2,146.2 641.4,146.2 646.5,146.2 651.7,146.2 656.8,145.9 662.0,146.7 667.1,146.2 672.3,146.2 677.4,146.5 682.6,146.4 689.8,146.4" stroke="#e76f5b"/><polyline points="316.9,98.7 323.9,98.6 331.0,98.4 338.0,101.0 345.1,102.2 352.1,101.6 359.2,101.4 366.2,101.3 373.3,101.1 380.3,101.5 387.4,101.3 394.4,99.7 401.4,99.5 408.5,99.4 415.5,104.2 422.6,115.4 429.6,130.5 436.7,146.6 443.7,161.2 450.8,171.6 457.8,174.4 464.9,174.4 471.9,174.4 479.0,173.9 486.0,173.8 493.0,172.6 500.1,169.5 507.1,165.4 514.2,160.5 521.2,155.4 528.3,150.4 535.3,146.0 542.4,142.0 549.4,140.0 556.5,140.1 563.5,140.1 570.5,139.8 577.6,139.8 584.6,139.8 591.7,140.5 598.7,140.7 605.8,140.7 612.8,140.6 619.9,140.6 626.9,140.6 634.0,140.6 641.0,140.6 648.0,140.0 655.1,140.0 662.1,140.0 669.2,139.4 676.2,139.4 683.3,139.4 689.8,139.4" stroke="#cb4679"/><polyline points="316.9,43.3 319.7,43.3 322.5,43.3 325.4,43.3 328.2,43.3 331.0,43.7 333.8,44.2 336.7,44.2 339.5,44.2 342.3,44.2 345.1,44.2 348.0,49.4 350.8,53.7 353.6,53.7 356.4,53.7 359.3,53.7 362.1,53.8 364.9,55.1 367.8,56.1 370.6,56.1 373.4,56.1 376.2,56.1 379.1,56.5 381.9,59.0 384.7,60.5 387.5,60.5 390.4,60.5 393.2,60.5 396.0,61.6 398.8,66.1 401.6,68.5 404.5,68.5 407.3,68.5 410.1,68.5 413.0,71.3 415.8,79.6 418.6,85.8 421.4,90.9 424.3,97.1 427.1,104.2 429.9,112.5 432.7,121.8 435.6,130.2 438.4,138.3 441.2,146.5 444.0,154.1 446.8,161.0 449.7,167.6 452.5,172.8 455.3,176.9 458.1,179.7 461.0,179.9 463.8,179.9 466.6,179.9 469.4,179.9 472.3,179.9 475.1,179.6 477.9,178.6 480.7,177.4 483.6,175.9 486.4,174.0 489.2,171.9 492.0,169.5 494.9,167.1 497.7,164.5 500.5,162.0 503.3,159.4 506.2,156.5 509.0,153.9 511.8,151.8 514.6,150.0 517.5,148.4 520.3,147.3 523.1,146.5 525.9,146.2 528.8,146.2 531.6,146.7 534.4,147.0 537.2,147.0 540.1,146.8 542.9,146.8 545.7,147.1 548.5,146.6 551.4,146.9 554.2,146.9 557.0,146.9 559.8,146.9 562.7,146.9 565.5,146.9 568.3,146.4 571.1,146.9 574.0,146.9 576.8,146.9 579.6,146.9 582.4,146.9 585.3,146.9 588.1,146.9 590.9,146.8 593.7,146.8 596.6,146.8 599.4,146.8 602.2,146.8 605.0,146.8 607.9,146.8 610.7,146.8 613.5,146.8 616.3,146.8 619.2,146.8 622.0,146.8 624.8,146.8 627.6,146.8 630.5,146.8 633.3,147.0 636.1,147.0 638.9,147.0 641.8,146.4 644.6,146.9 647.4,147.1 650.2,147.1 653.1,147.7 655.9,147.7 658.7,147.7 661.5,147.7 664.4,147.1 667.2,147.1 670.0,147.1 672.8,147.2 675.7,146.7 678.5,146.7 681.3,146.7 684.1,147.1 687.0,147.1 689.8,147.1" stroke="#f48948" stroke-opacity="0.22"/><polyline points="316.9,80.8 324.2,80.9 331.5,81.0 338.7,81.0 346.0,81.1 353.3,79.7 360.6,81.0 367.9,81.1 375.2,81.1 382.4,81.2 389.7,81.2 397.0,81.3 404.3,79.5 411.6,80.0 418.8,80.1 426.1,80.8 433.4,94.1 440.7,112.8 448.0,133.3 455.2,149.3 462.5,154.2 469.8,154.2 477.1,154.4 484.4,154.4 491.7,153.7 498.9,152.2 506.2,150.2 513.5,147.9 520.8,145.5 528.1,143.3 535.3,141.6 542.6,140.6 549.9,140.4 557.2,140.4 564.5,140.4 571.7,140.4 579.0,141.0 586.3,141.2 593.6,141.2 600.9,141.2 608.2,141.2 615.4,141.2 622.7,140.7 630.0,140.0 637.3,140.0 644.6,140.0 651.8,140.0 659.1,140.0 666.4,140.0 673.7,140.0 681.0,139.7 689.8,139.7" stroke="#a72197"/><polyline points="316.9,57.5 319.7,57.5 322.5,57.5 325.4,57.5 328.2,57.5 331.0,58.1 333.8,58.8 336.7,58.8 339.5,58.8 342.3,58.8 345.1,58.8 348.0,62.7 350.8,68.1 353.6,68.5 356.4,68.5 359.3,68.5 362.1,68.5 364.9,66.7 367.8,64.1 370.6,63.8 373.4,63.8 376.2,63.8 379.1,63.8 381.9,66.1 384.7,69.5 387.5,70.0 390.4,70.0 393.2,70.0 396.0,70.0 398.8,70.2 401.6,70.4 404.5,70.5 407.3,70.5 410.1,70.5 413.0,70.5 415.8,72.9 418.6,77.2 421.4,78.1 424.3,78.1 427.1,78.1 429.9,78.1 432.7,79.3 435.6,81.5 438.4,82.1 441.2,82.1 444.0,82.1 446.8,82.6 449.7,87.3 452.5,95.8 455.3,104.8 458.1,114.8 461.0,125.6 463.8,136.8 466.6,148.5 469.4,159.1 472.3,168.1 475.1,175.2 477.9,179.3 480.7,180.4 483.6,180.1 486.4,180.1 489.2,179.5 492.0,179.5 494.9,179.5 497.7,179.5 500.5,179.5 503.3,179.5 506.2,179.5 509.0,179.5 511.8,179.3 514.6,179.7 517.5,179.1 520.3,178.3 523.1,177.3 525.9,176.0 528.8,174.6 531.6,173.1 534.4,171.5 537.2,169.7 540.1,167.9 542.9,166.0 545.7,163.3 548.5,160.7 551.4,158.7 554.2,156.4 557.0,154.6 559.8,152.2 562.7,150.3 565.5,148.4 568.3,146.8 571.1,146.2 574.0,144.6 576.8,143.2 579.6,141.9 582.4,140.9 585.3,140.0 588.1,139.3 590.9,138.8 593.7,138.6 596.6,138.6 599.4,138.6 602.2,138.4 605.0,138.4 607.9,138.4 610.7,138.5 613.5,138.5 616.3,138.5 619.2,138.5 622.0,138.9 624.8,138.9 627.6,138.9 630.5,138.9 633.3,138.9 636.1,138.9 638.9,138.9 641.8,138.9 644.6,138.9 647.4,138.9 650.2,138.9 653.1,138.9 655.9,138.9 658.7,138.9 661.5,138.9 664.4,138.8 667.2,138.8 670.0,139.4 672.8,139.4 675.7,139.4 678.5,139.9 681.3,139.9 684.1,139.9 687.0,139.9 689.8,139.9" stroke="#f99a3d" stroke-opacity="0.22"/><polyline points="316.9,115.7 324.2,115.6 331.4,115.5 338.7,115.4 345.9,114.7 353.2,114.6 360.5,114.5 367.7,114.4 375.0,114.5 382.2,114.4 389.5,111.9 396.8,114.4 404.0,114.2 411.3,114.1 418.6,114.0 425.8,113.9 433.1,113.8 440.3,112.5 447.6,114.0 454.9,123.5 462.1,134.0 469.4,145.5 476.6,155.4 483.9,161.4 491.2,162.0 498.4,162.0 505.7,161.8 512.9,158.9 520.2,154.8 527.5,150.0 534.7,146.1 542.0,144.6 549.2,144.6 556.5,144.6 563.8,144.6 571.0,144.6 578.3,144.6 585.6,144.6 592.8,144.6 600.1,144.6 607.3,144.6 614.6,144.6 621.9,144.6 629.1,144.5 636.4,144.5 643.6,143.7 650.9,143.7 658.2,143.7 665.4,143.7 672.7,143.7 679.9,143.7 689.8,143.7" stroke="#f9993e"/><polyline points="316.9,26.7 319.7,26.7 322.5,26.7 325.4,26.7 328.2,28.8 331.0,30.6 333.8,30.6 336.7,30.6 339.5,30.7 342.3,31.6 345.1,31.9 348.0,31.9 350.8,31.9 353.6,33.8 356.4,38.2 359.3,38.2 362.1,38.2 364.9,38.2 367.8,42.9 370.6,46.9 373.4,46.9 376.2,46.9 379.1,47.6 381.9,54.2 384.7,56.1 387.5,56.1 390.4,56.1 393.2,58.1 396.0,62.4 398.8,62.4 401.6,62.4 404.5,62.4 407.3,69.8 410.1,76.1 413.0,78.3 415.8,82.0 418.6,87.3 421.4,95.7 424.3,102.6 427.1,109.1 429.9,116.2 432.7,122.6 435.6,128.6 438.4,135.2 441.2,141.0 444.0,145.9 446.8,149.6 449.7,151.9 452.5,152.0 455.3,152.0 458.1,152.0 461.0,152.1 463.8,152.1 466.6,152.0 469.4,151.7 472.3,151.3 475.1,150.5 477.9,149.9 480.7,149.2 483.6,148.4 486.4,147.6 489.2,146.8 492.0,145.9 494.9,145.1 497.7,144.4 500.5,143.6 503.3,143.9 506.2,143.4 509.0,142.8 511.8,142.5 514.6,142.4 517.5,142.3 520.3,142.3 523.1,143.0 525.9,143.0 528.8,143.0 531.6,143.0 534.4,143.0 537.2,143.0 540.1,143.0 542.9,142.3 545.7,142.3 548.5,142.3 551.4,142.3 554.2,142.3 557.0,142.4 559.8,142.4 562.7,142.0 565.5,142.0 568.3,142.0 571.1,142.0 574.0,142.7 576.8,142.7 579.6,143.0 582.4,143.6 585.3,143.6 588.1,143.6 590.9,143.6 593.7,143.6 596.6,143.6 599.4,143.6 602.2,143.4 605.0,143.4 607.9,143.4 610.7,143.4 613.5,143.4 616.3,143.4 619.2,143.4 622.0,143.4 624.8,143.4 627.6,143.2 630.5,143.2 633.3,143.2 636.1,142.7 638.9,143.3 641.8,143.3 644.6,142.8 647.4,142.8 650.2,142.8 653.1,142.8 655.9,142.8 658.7,142.8 661.5,142.8 664.4,142.8 667.2,142.9 670.0,142.9 672.8,142.9 675.7,143.5 678.5,143.0 681.3,143.0 684.1,143.1 687.0,143.1 689.8,143.1" stroke="#fdb52f" stroke-opacity="0.22"/><polyline points="316.9,99.8 322.2,99.8 327.5,99.8 332.8,99.8 338.1,99.8 343.4,99.8 348.6,98.2 353.9,98.2 359.2,98.2 364.5,98.2 369.8,98.2 375.1,99.2 380.4,99.2 385.7,98.7 391.0,99.6 396.3,99.6 401.6,97.2 406.8,97.5 412.1,97.5 417.4,97.5 422.7,97.5 428.0,97.5 433.3,97.5 438.6,97.4 443.9,98.6 449.2,104.8 454.5,114.2 459.8,125.8 465.0,137.3 470.3,146.6 475.6,151.8 480.9,152.5 486.2,152.5 491.5,152.5 496.8,152.7 502.1,152.5 507.4,151.5 512.7,149.8 518.0,147.6 523.2,145.4 528.5,143.0 533.8,141.5 539.1,140.9 544.4,140.8 549.7,140.8 555.0,140.8 560.3,140.8 565.6,140.8 570.9,140.8 576.2,140.8 581.4,141.4 586.7,141.4 592.0,141.4 597.3,141.4 602.6,141.4 607.9,141.6 613.2,141.6 618.5,141.8 623.8,141.8 629.1,142.0 634.4,142.0 639.6,142.0 644.9,142.4 650.2,142.8 655.5,142.8 660.8,142.8 666.1,142.4 671.4,142.4 676.7,141.7 682.0,141.7 689.8,141.7" stroke="#f68e44"/><polyline points="316.9,52.5 319.7,52.5 322.5,52.5 325.4,52.5 328.2,52.5 331.0,52.5 333.8,53.0 336.7,53.4 339.5,53.4 342.3,53.4 345.1,53.4 348.0,53.4 350.8,53.3 353.6,52.9 356.4,52.5 359.3,52.5 362.1,52.5 364.9,52.5 367.8,52.5 370.6,53.5 373.4,58.1 376.2,62.2 379.1,62.2 381.9,62.2 384.7,62.2 387.5,62.2 390.4,62.1 393.2,61.8 396.0,61.5 398.8,61.5 401.6,61.5 404.5,61.5 407.3,61.5 410.1,63.6 413.0,71.1 415.8,77.1 418.6,77.1 421.4,77.1 424.3,78.3 427.1,82.0 429.9,88.4 432.7,98.0 435.6,107.7 438.4,116.1 441.2,125.0 444.0,133.8 446.8,142.4 449.7,150.2 452.5,156.9 455.3,162.1 458.1,165.6 461.0,166.9 463.8,166.9 466.6,166.9 469.4,165.9 472.3,166.4 475.1,166.4 477.9,166.4 480.7,166.0 483.6,165.7 486.4,165.2 489.2,164.6 492.0,163.8 494.9,162.8 497.7,161.8 500.5,160.6 503.3,159.4 506.2,158.1 509.0,156.8 511.8,155.4 514.6,154.1 517.5,152.7 520.3,151.6 523.1,150.3 525.9,149.5 528.8,148.2 531.6,147.1 534.4,146.0 537.2,145.1 540.1,143.7 542.9,142.5 545.7,141.9 548.5,141.6 551.4,142.1 554.2,142.1 557.0,142.4 559.8,142.6 562.7,142.6 565.5,142.6 568.3,142.6 571.1,141.8 574.0,141.5 576.8,141.5 579.6,141.5 582.4,141.4 585.3,141.4 588.1,141.4 590.9,141.2 593.7,141.3 596.6,141.3 599.4,141.7 602.2,141.7 605.0,141.7 607.9,142.1 610.7,142.2 613.5,142.2 616.3,142.2 619.2,142.2 622.0,142.2 624.8,142.2 627.6,142.2 630.5,142.2 633.3,142.2 636.1,142.0 638.9,142.0 641.8,142.0 644.6,142.6 647.4,142.6 650.2,142.6 653.1,142.6 655.9,142.1 658.7,142.1 661.5,141.9 664.4,141.9 667.2,141.9 670.0,141.9 672.8,142.3 675.7,142.3 678.5,141.5 681.3,142.0 684.1,142.0 687.0,142.0 689.8,142.0" stroke="#fba03a" stroke-opacity="0.22"/><polyline points="316.9,103.1 323.1,103.4 329.2,103.7 335.4,104.6 341.5,104.9 347.7,105.2 353.9,102.5 360.0,102.8 366.2,103.2 372.4,103.5 378.5,103.8 384.7,104.1 390.8,104.4 397.0,104.7 403.2,105.0 409.3,105.3 415.5,105.6 421.6,105.9 427.8,106.8 434.0,113.6 440.1,122.8 446.3,132.8 452.4,143.0 458.6,150.7 464.8,152.7 470.9,152.8 477.1,152.8 483.3,152.7 489.4,152.6 495.6,152.1 501.7,151.1 507.9,150.5 514.1,149.8 520.2,149.9 526.4,149.3 532.5,147.6 538.7,146.9 544.9,146.0 551.0,145.5 557.2,144.9 563.4,144.4 569.5,144.0 575.7,143.7 581.8,143.6 588.0,143.6 594.2,143.6 600.3,143.6 606.5,143.6 612.6,143.6 618.8,143.3 625.0,143.3 631.1,143.3 637.3,144.2 643.4,144.2 649.6,143.8 655.8,143.8 661.9,143.8 668.1,143.8 674.3,144.4 680.4,144.3 686.6,144.3 689.8,144.3" stroke="#f89640"/><polyline points="316.9,97.7 323.7,100.1 330.5,100.4 337.3,100.8 344.1,101.1 350.8,101.5 357.6,102.0 364.4,102.3 371.2,104.9 378.0,105.2 384.8,105.6 391.6,106.7 398.4,107.1 405.2,107.4 412.0,105.2 418.7,105.1 425.5,105.4 432.3,105.8 439.1,115.0 445.9,126.3 452.7,140.3 459.5,149.4 466.3,152.9 473.1,152.9 479.9,152.9 486.6,152.8 493.4,151.4 500.2,149.5 507.0,147.5 513.8,145.9 520.6,144.5 527.4,143.6 534.2,143.6 541.0,143.6 547.7,143.6 554.5,143.6 561.3,143.6 568.1,143.6 574.9,143.7 581.7,143.7 588.5,143.7 595.3,143.7 602.1,143.7 608.9,143.7 615.6,143.4 622.4,143.4 629.2,143.4 636.0,143.4 642.8,143.4 649.6,143.4 656.4,143.4 663.2,144.2 670.0,143.7 676.8,143.7 683.5,143.7 689.8,143.7" stroke="#fa9c3c"/><polyline points="316.9,96.2 324.5,98.4 332.0,96.0 339.6,96.0 347.1,96.4 354.7,96.4 362.3,96.3 369.8,96.8 377.4,96.7 384.9,96.7 392.5,96.7 400.1,96.7 407.6,96.7 415.2,96.7 422.8,94.8 430.3,98.8 437.9,112.7 445.4,128.3 453.0,143.3 460.6,158.3 468.1,167.9 475.7,169.6 483.2,169.6 490.8,169.6 498.4,169.4 505.9,168.1 513.5,165.9 521.0,163.0 528.6,159.4 536.2,155.6 543.7,151.8 551.3,148.1 558.9,144.8 566.4,142.1 574.0,140.3 581.5,140.3 589.1,140.7 596.7,140.7 604.2,140.7 611.8,140.7 619.3,140.7 626.9,140.7 634.5,140.1 642.0,140.1 649.6,140.1 657.1,140.1 664.7,140.0 672.3,139.4 679.8,139.9 689.8,139.9" stroke="#c6407e"/><polyline points="316.9,102.0 323.6,103.2 330.4,103.3 337.1,103.3 343.8,102.6 350.5,102.7 357.3,102.7 364.0,105.1 370.7,102.8 377.5,101.6 384.2,101.7 390.9,103.9 397.6,104.0 404.4,104.1 411.1,104.1 417.8,104.2 424.6,104.3 431.3,105.4 438.0,114.2 444.7,128.7 451.5,144.2 458.2,159.7 464.9,169.7 471.6,171.6 478.4,171.6 485.1,170.2 491.8,166.8 498.6,162.4 505.3,156.5 512.0,150.6 518.7,145.6 525.5,141.8 532.2,140.9 538.9,140.9 545.7,141.4 552.4,141.7 559.1,141.7 565.8,141.7 572.6,141.7 579.3,142.1 586.0,142.1 592.8,142.1 599.5,142.6 606.2,142.5 612.9,142.5 619.7,142.5 626.4,142.5 633.1,143.0 639.9,143.0 646.6,143.0 653.3,143.0 660.0,143.0 666.8,143.3 673.5,143.1 680.2,143.4 687.0,143.4 689.8,143.4" stroke="#f68f44"/><polyline points="316.9,67.5 319.7,67.5 322.5,67.5 325.4,67.5 328.2,68.4 331.0,70.5 333.8,70.5 336.7,70.5 339.5,70.5 342.3,70.1 345.1,69.1 348.0,69.0 350.8,69.0 353.6,69.0 356.4,69.4 359.3,70.4 362.1,70.4 364.9,70.4 367.8,70.4 370.6,70.9 373.4,72.0 376.2,72.1 379.1,72.1 381.9,72.1 384.7,73.1 387.5,76.0 390.4,76.4 393.2,76.4 396.0,76.4 398.8,77.2 401.6,79.5 404.5,80.0 407.3,80.0 410.1,80.0 413.0,81.0 415.8,84.6 418.6,85.4 421.4,85.4 424.3,85.4 427.1,85.9 429.9,88.7 432.7,92.3 435.6,97.2 438.4,103.6 441.2,111.0 444.0,118.9 446.8,127.0 449.7,134.8 452.5,141.9 455.3,147.8 458.1,152.2 461.0,154.2 463.8,154.5 466.6,154.5 469.4,155.2 472.3,155.2 475.1,155.2 477.9,155.2 480.7,155.2 483.6,155.2 486.4,155.2 489.2,155.2 492.0,155.2 494.9,155.2 497.7,155.0 500.5,154.1 503.3,153.8 506.2,153.4 509.0,152.9 511.8,152.6 514.6,152.0 517.5,151.4 520.3,151.5 523.1,150.8 525.9,150.3 528.8,149.4 531.6,148.7 534.4,147.9 537.2,147.2 540.1,145.7 542.9,145.0 545.7,144.2 548.5,143.6 551.4,142.9 554.2,142.3 557.0,141.5 559.8,140.9 562.7,140.4 565.5,140.1 568.3,139.8 571.1,139.6 574.0,139.5 576.8,139.4 579.6,139.4 582.4,139.4 585.3,139.4 588.1,139.4 590.9,139.4 593.7,139.4 596.6,139.4 599.4,139.1 602.2,139.1 605.0,139.1 607.9,139.1 610.7,139.1 613.5,139.1 616.3,139.1 619.2,139.1 622.0,139.1 624.8,139.1 627.6,139.6 630.5,139.6 633.3,139.6 636.1,139.6 638.9,139.4 641.8,139.8 644.6,139.8 647.4,139.7 650.2,139.7 653.1,139.7 655.9,139.7 658.7,139.7 661.5,139.7 664.4,140.5 667.2,140.5 670.0,140.5 672.8,140.3 675.7,140.3 678.5,140.1 681.3,140.3 684.1,139.7 687.0,139.7 689.8,139.7" stroke="#fdaf32" stroke-opacity="0.22"/><polyline points="316.9,94.4 323.7,94.3 330.5,94.2 337.3,94.1 344.1,94.0 350.9,93.9 357.7,93.8 364.5,95.3 371.2,95.2 378.0,95.1 384.8,95.0 391.6,94.9 398.4,97.7 405.2,97.6 412.0,97.6 418.8,102.3 425.6,112.4 432.4,127.0 439.2,141.2 446.0,156.6 452.8,169.7 459.6,179.0 466.4,182.3 473.1,182.0 479.9,182.0 486.7,181.8 493.5,179.1 500.3,174.1 507.1,167.6 513.9,160.7 520.7,154.8 527.5,149.8 534.3,147.2 541.1,146.4 547.9,145.9 554.7,145.9 561.5,145.9 568.2,146.4 575.0,146.4 581.8,146.4 588.6,146.4 595.4,146.4 602.2,146.4 609.0,146.4 615.8,146.5 622.6,145.8 629.4,145.8 636.2,146.0 643.0,146.0 649.8,146.0 656.6,146.0 663.4,145.9 670.1,146.0 676.9,146.0 683.7,145.5 689.8,145.5" stroke="#fa9d3b"/><polyline points="316.9,37.5 319.7,37.5 322.5,37.5 325.4,37.5 328.2,39.5 331.0,41.0 333.8,41.0 336.7,41.0 339.5,41.0 342.3,41.5 345.1,41.6 348.0,41.6 350.8,41.6 353.6,45.4 356.4,50.6 359.3,50.6 362.1,50.6 364.9,50.6 367.8,50.5 370.6,50.5 373.4,50.5 376.2,50.5 379.1,53.2 381.9,59.9 384.7,59.9 387.5,59.9 390.4,59.9 393.2,66.4 396.0,71.2 398.8,71.2 401.6,71.2 404.5,72.3 407.3,78.4 410.1,81.5 413.0,85.2 415.8,90.2 418.6,95.6 421.4,101.9 424.3,109.8 427.1,118.2 429.9,126.8 432.7,135.7 435.6,144.0 438.4,151.7 441.2,158.6 444.0,164.4 446.8,169.5 449.7,172.7 452.5,174.1 455.3,174.1 458.1,174.2 461.0,174.6 463.8,174.6 466.6,174.6 469.4,174.8 472.3,174.8 475.1,174.1 477.9,174.1 480.7,174.1 483.6,173.5 486.4,172.7 489.2,171.7 492.0,171.2 494.9,170.6 497.7,169.8 500.5,169.0 503.3,168.0 506.2,167.0 509.0,165.9 511.8,165.6 514.6,164.4 517.5,163.7 520.3,162.4 523.1,160.5 525.9,159.4 528.8,158.1 531.6,156.8 534.4,155.5 537.2,154.3 540.1,153.0 542.9,151.9 545.7,150.7 548.5,149.7 551.4,148.7 554.2,147.8 557.0,147.0 559.8,145.9 562.7,145.3 565.5,144.8 568.3,145.1 571.1,144.9 574.0,144.8 576.8,144.8 579.6,144.8 582.4,144.8 585.3,144.8 588.1,144.8 590.9,144.8 593.7,144.8 596.6,144.8 599.4,145.2 602.2,145.2 605.0,145.2 607.9,145.2 610.7,144.7 613.5,144.7 616.3,144.7 619.2,144.1 622.0,144.5 624.8,144.8 627.6,145.2 630.5,145.2 633.3,144.7 636.1,144.7 638.9,144.7 641.8,144.7 644.6,144.7 647.4,144.6 650.2,144.6 653.1,144.1 655.9,144.1 658.7,144.1 661.5,144.1 664.4,144.1 667.2,144.1 670.0,144.3 672.8,144.3 675.7,144.3 678.5,144.3 681.3,143.6 684.1,143.6 687.0,143.6 689.8,143.6" stroke="#f38849" stroke-opacity="0.22"/><polyline points="316.9,94.6 323.5,93.6 330.2,93.6 336.8,95.7 343.4,95.6 350.1,95.5 356.7,95.4 363.3,94.3 370.0,94.2 376.6,94.1 383.2,94.1 389.9,91.1 396.5,91.1 403.1,91.0 409.8,90.5 416.4,90.4 423.0,94.7 429.7,104.5 436.3,119.1 442.9,136.1 449.6,152.5 456.2,165.6 462.9,173.0 469.5,173.8 476.1,173.8 482.8,173.7 489.4,173.0 496.0,171.3 502.7,170.5 509.3,168.2 515.9,166.3 522.6,163.3 529.2,160.3 535.8,157.8 542.5,155.4 549.1,152.7 555.7,150.4 562.4,148.6 569.0,147.3 575.6,146.6 582.3,146.6 588.9,146.6 595.5,146.6 602.2,146.4 608.8,146.4 615.4,145.5 622.1,145.5 628.7,145.5 635.3,145.5 642.0,145.4 648.6,145.8 655.2,145.7 661.9,145.7 668.5,145.3 675.1,145.3 681.8,145.3 689.8,145.3" stroke="#ee7d51"/><polyline points="316.9,99.6 323.5,100.6 330.1,100.2 336.8,100.3 343.4,100.3 350.0,100.4 356.6,100.4 363.2,100.5 369.8,100.9 376.5,102.3 383.1,102.3 389.7,102.4 396.3,102.4 402.9,101.5 409.5,103.2 416.2,105.7 422.8,108.9 429.4,115.7 436.0,124.6 442.6,133.1 449.3,142.7 455.9,149.8 462.5,154.6 469.1,155.1 475.7,154.5 482.3,152.6 489.0,150.1 495.6,147.3 502.2,144.7 508.8,143.4 515.4,142.3 522.0,142.3 528.7,142.3 535.3,142.3 541.9,142.3 548.5,142.3 555.1,142.3 561.7,142.3 568.4,142.3 575.0,142.3 581.6,142.3 588.2,142.3 594.8,142.3 601.5,142.3 608.1,142.3 614.7,142.7 621.3,142.7 627.9,142.3 634.5,142.3 641.2,142.3 647.8,142.3 654.4,142.4 661.0,142.4 667.6,142.4 674.2,142.4 680.9,142.4 689.8,142.4" stroke="#e16462"/><polyline points="316.9,95.2 323.2,95.1 329.4,95.0 335.7,94.9 342.0,92.2 348.2,92.1 354.5,91.3 360.8,91.2 367.0,91.1 373.3,91.0 379.6,92.1 385.8,92.0 392.1,92.0 398.3,95.0 404.6,103.6 410.9,115.2 417.1,125.8 423.4,136.9 429.7,147.5 435.9,156.5 442.2,162.9 448.5,165.8 454.7,165.0 461.0,165.0 467.3,164.5 473.5,162.9 479.8,161.6 486.1,159.8 492.3,158.3 498.6,156.3 504.9,154.2 511.1,152.1 517.4,150.3 523.7,148.1 529.9,146.5 536.2,145.2 542.5,144.4 548.7,144.0 555.0,144.0 561.2,144.0 567.5,144.0 573.8,144.0 580.0,144.0 586.3,144.0 592.6,144.0 598.8,144.3 605.1,144.3 611.4,144.3 617.6,144.0 623.9,144.3 630.2,144.3 636.4,144.3 642.7,144.3 649.0,144.1 655.2,144.1 661.5,144.1 667.8,144.1 674.0,144.1 680.3,144.5 686.6,144.5 689.8,144.5" stroke="#f58d45"/><polyline points="316.9,87.0 322.2,86.8 327.6,86.7 332.9,84.2 338.3,84.0 343.6,84.5 349.0,86.7 354.3,83.0 359.7,82.8 365.0,82.7 370.4,82.5 375.7,82.3 381.1,82.2 386.4,82.6 391.7,82.4 397.1,82.2 402.4,82.1 407.8,81.9 413.1,81.7 418.5,81.7 423.8,82.9 429.2,88.6 434.5,99.0 439.9,110.5 445.2,122.9 450.6,135.8 455.9,147.7 461.2,157.6 466.6,164.3 471.9,166.8 477.3,166.8 482.6,166.8 488.0,166.8 493.3,166.7 498.7,166.0 504.0,165.1 509.4,163.9 514.7,162.4 520.0,160.6 525.4,158.4 530.7,156.3 536.1,154.2 541.4,152.0 546.8,149.9 552.1,148.0 557.5,146.6 562.8,145.1 568.2,143.7 573.5,142.5 578.9,141.9 584.2,141.7 589.5,141.1 594.9,141.2 600.2,141.2 605.6,141.7 610.9,142.2 616.3,141.8 621.6,141.8 627.0,141.1 632.3,141.1 637.7,141.1 643.0,141.1 648.4,141.1 653.7,141.1 659.0,141.1 664.4,141.1 669.7,141.1 675.1,141.0 680.4,141.0 685.8,141.0 689.8,141.0" stroke="#d24f71"/><polyline points="316.9,56.2 319.7,56.2 322.5,56.2 325.4,56.2 328.2,56.2 331.0,57.3 333.8,59.8 336.7,61.3 339.5,61.3 342.3,61.3 345.1,61.3 348.0,61.3 350.8,63.1 353.6,65.3 356.4,65.5 359.3,65.5 362.1,65.5 364.9,65.5 367.8,65.1 370.6,63.4 373.4,62.3 376.2,62.3 379.1,62.3 381.9,62.3 384.7,62.3 387.5,64.3 390.4,66.9 393.2,67.6 396.0,67.6 398.8,67.6 401.6,67.6 404.5,68.3 407.3,72.2 410.1,75.3 413.0,75.3 415.8,75.3 418.6,75.3 421.4,75.3 424.3,79.2 427.1,85.4 429.9,87.6 432.7,87.6 435.6,87.8 438.4,89.2 441.2,91.7 444.0,96.1 446.8,101.0 449.7,105.5 452.5,110.4 455.3,115.6 458.1,121.0 461.0,127.2 463.8,133.6 466.6,139.1 469.4,143.3 472.3,147.5 475.1,150.6 477.9,153.0 480.7,154.5 483.6,155.1 486.4,155.1 489.2,154.8 492.0,154.8 494.9,153.9 497.7,153.9 500.5,153.9 503.3,154.4 506.2,153.6 509.0,153.4 511.8,153.1 514.6,152.8 517.5,152.1 520.3,151.7 523.1,151.3 525.9,150.9 528.8,150.4 531.6,150.6 534.4,150.1 537.2,148.9 540.1,148.2 542.9,148.5 545.7,147.9 548.5,147.3 551.4,146.8 554.2,146.3 557.0,145.8 559.8,145.1 562.7,144.6 565.5,144.2 568.3,143.8 571.1,143.6 574.0,143.3 576.8,143.0 579.6,142.7 582.4,142.6 585.3,142.4 588.1,142.8 590.9,142.7 593.7,142.7 596.6,142.4 599.4,142.4 602.2,142.4 605.0,141.9 607.9,141.9 610.7,142.3 613.5,142.3 616.3,141.7 619.2,142.0 622.0,142.1 624.8,142.1 627.6,142.6 630.5,142.6 633.3,142.6 636.1,142.9 638.9,142.9 641.8,143.4 644.6,143.4 647.4,143.4 650.2,143.4 653.1,143.4 655.9,143.3 658.7,143.3 661.5,143.3 664.4,143.3 667.2,143.3 670.0,143.4 672.8,143.7 675.7,143.7 678.5,142.7 681.3,142.7 684.1,141.9 687.0,141.9 689.8,141.9" stroke="#fba338" stroke-opacity="0.22"/><polyline points="316.9,21.1 319.7,21.1 322.5,21.1 325.4,21.1 328.2,21.1 331.0,22.9 333.8,29.5 336.7,34.6 339.5,34.6 342.3,34.6 345.1,34.6 348.0,34.6 350.8,36.4 353.6,40.3 356.4,42.4 359.3,42.4 362.1,42.4 364.9,42.4 367.8,42.4 370.6,47.9 373.4,55.6 376.2,58.0 379.1,58.0 381.9,58.0 384.7,58.0 387.5,58.0 390.4,61.6 393.2,65.3 396.0,65.7 398.8,65.7 401.6,65.7 404.5,65.7 407.3,66.6 410.1,72.3 413.0,77.2 415.8,77.2 418.6,77.2 421.4,77.5 424.3,79.5 427.1,85.6 429.9,96.2 432.7,105.0 435.6,111.0 438.4,117.4 441.2,123.9 444.0,130.4 446.8,135.7 449.7,140.9 452.5,145.7 455.3,149.4 458.1,151.6 461.0,152.2 463.8,152.8 466.6,152.8 469.4,152.8 472.3,153.1 475.1,153.1 477.9,153.1 480.7,153.1 483.6,153.0 486.4,153.1 489.2,152.9 492.0,152.6 494.9,152.6 497.7,152.2 500.5,151.8 503.3,151.4 506.2,151.1 509.0,150.6 511.8,150.1 514.6,149.6 517.5,149.0 520.3,147.8 523.1,147.3 525.9,146.8 528.8,146.2 531.6,145.8 534.4,145.3 537.2,144.9 540.1,144.3 542.9,143.6 545.7,142.9 548.5,142.6 551.4,141.9 554.2,142.3 557.0,142.2 559.8,141.9 562.7,141.9 565.5,141.8 568.3,141.9 571.1,142.3 574.0,142.3 576.8,142.3 579.6,142.3 582.4,142.3 585.3,142.3 588.1,142.3 590.9,142.0 593.7,142.0 596.6,142.5 599.4,142.5 602.2,142.5 605.0,142.5 607.9,142.5 610.7,142.5 613.5,142.5 616.3,142.6 619.2,142.6 622.0,142.6 624.8,142.8 627.6,142.8 630.5,142.5 633.3,142.8 636.1,143.1 638.9,143.1 641.8,143.1 644.6,143.1 647.4,143.3 650.2,143.3 653.1,143.3 655.9,143.3 658.7,143.3 661.5,143.3 664.4,143.7 667.2,143.7 670.0,143.7 672.8,143.5 675.7,142.6 678.5,142.8 681.3,142.1 684.1,142.3 687.0,142.6 689.8,142.6" stroke="#f38749" stroke-opacity="0.22"/><polyline points="316.9,106.1 324.3,104.6 331.7,102.6 339.1,102.6 346.5,101.8 353.9,101.8 361.3,100.8 368.6,100.8 376.0,100.8 383.4,100.7 390.8,100.7 398.2,100.7 405.6,100.7 413.0,100.7 420.4,100.6 427.8,100.6 435.2,100.6 442.6,101.7 450.0,102.0 457.4,112.1 464.8,123.5 472.1,136.5 479.5,147.6 486.9,153.1 494.3,153.2 501.7,153.2 509.1,152.9 516.5,152.5 523.9,151.5 531.3,149.8 538.7,147.8 546.1,145.6 553.5,143.6 560.9,141.4 568.3,139.5 575.6,138.0 583.0,137.2 590.4,137.0 597.8,137.0 605.2,137.0 612.6,137.0 620.0,137.2 627.4,137.2 634.8,136.6 642.2,136.6 649.6,137.3 657.0,137.3 664.4,137.3 671.7,137.3 679.1,137.3 686.5,137.3 689.8,137.3" stroke="#f89441"/><polyline points="316.9,46.8 319.7,46.8 322.5,46.8 325.4,46.8 328.2,46.8 331.0,47.3 333.8,48.2 336.7,48.5 339.5,48.5 342.3,48.5 345.1,48.5 348.0,48.7 350.8,50.1 353.6,51.2 356.4,51.2 359.3,51.2 362.1,51.2 364.9,51.2 367.8,53.7 370.6,57.0 373.4,57.5 376.2,57.5 379.1,57.5 381.9,57.5 384.7,57.8 387.5,58.7 390.4,59.1 393.2,59.1 396.0,59.1 398.8,59.1 401.6,59.2 404.5,66.2 407.3,72.7 410.1,72.7 413.0,72.7 415.8,72.7 418.6,72.7 421.4,73.8 424.3,75.7 427.1,76.2 429.9,76.5 432.7,78.5 435.6,81.9 438.4,87.3 441.2,95.3 444.0,103.1 446.8,110.2 449.7,117.6 452.5,125.2 455.3,132.7 458.1,140.4 461.0,147.4 463.8,153.1 466.6,158.0 469.4,161.7 472.3,164.0 475.1,164.9 477.9,164.9 480.7,164.9 483.6,164.9 486.4,164.7 489.2,164.7 492.0,164.7 494.9,164.7 497.7,164.7 500.5,164.7 503.3,164.1 506.2,163.6 509.0,162.2 511.8,161.3 514.6,160.2 517.5,159.3 520.3,158.0 523.1,156.3 525.9,154.9 528.8,153.6 531.6,152.3 534.4,151.6 537.2,150.7 540.1,150.0 542.9,149.5 545.7,149.4 548.5,149.4 551.4,149.4 554.2,149.4 557.0,149.4 559.8,149.4 562.7,149.4 565.5,149.4 568.3,149.4 571.1,150.1 574.0,150.1 576.8,150.1 579.6,149.3 582.4,149.3 585.3,149.8 588.1,149.8 590.9,149.8 593.7,149.1 596.6,148.7 599.4,148.7 602.2,148.6 605.0,148.6 607.9,148.6 610.7,148.6 613.5,148.6 616.3,148.3 619.2,148.3 622.0,148.3 624.8,148.0 627.6,148.1 630.5,148.1 633.3,148.1 636.1,148.1 638.9,148.1 641.8,148.0 644.6,148.0 647.4,148.0 650.2,148.9 653.1,148.5 655.9,149.5 658.7,149.5 661.5,149.5 664.4,149.5 667.2,149.5 670.0,149.1 672.8,149.1 675.7,149.1 678.5,149.1 681.3,149.2 684.1,149.2 687.0,149.2 689.8,149.2" stroke="#e76e5b" stroke-opacity="0.22"/><polyline points="316.9,107.2 324.0,107.0 331.0,107.3 338.1,107.5 345.1,107.8 352.2,108.1 359.3,108.4 366.3,108.7 373.4,107.7 380.4,109.2 387.5,109.5 394.6,107.8 401.6,108.1 408.7,108.4 415.7,109.6 422.8,112.4 429.9,122.2 436.9,135.6 444.0,148.8 451.0,157.7 458.1,159.5 465.2,159.5 472.2,159.5 479.3,159.5 486.3,159.0 493.4,159.4 500.4,157.9 507.5,155.5 514.6,152.6 521.6,149.4 528.7,146.1 535.7,143.1 542.8,141.1 549.9,139.4 556.9,138.7 564.0,138.7 571.0,138.7 578.1,138.7 585.2,138.7 592.2,138.7 599.3,138.7 606.3,138.7 613.4,138.7 620.5,137.9 627.5,137.9 634.6,137.9 641.6,137.9 648.7,137.9 655.8,137.9 662.8,137.9 669.9,137.9 676.9,137.9 684.0,137.9 689.8,137.9" stroke="#ef7e50"/><polyline points="316.9,105.9 322.8,106.2 328.7,106.5 334.5,104.6 340.4,105.0 346.3,105.3 352.2,104.0 358.0,104.5 363.9,106.0 369.8,106.3 375.7,106.6 381.5,106.9 387.4,107.3 393.3,110.1 399.2,110.4 405.1,111.4 410.9,116.7 416.8,122.5 422.7,129.6 428.6,137.3 434.4,144.7 440.3,151.1 446.2,155.4 452.1,156.9 458.0,156.9 463.8,156.8 469.7,156.3 475.6,155.1 481.5,152.8 487.3,151.3 493.2,149.2 499.1,147.2 505.0,144.9 510.8,143.5 516.7,142.5 522.6,142.2 528.5,142.5 534.4,142.6 540.2,142.6 546.1,142.6 552.0,142.6 557.9,142.7 563.7,142.7 569.6,142.7 575.5,142.7 581.4,142.7 587.3,142.7 593.1,142.9 599.0,142.9 604.9,142.9 610.8,142.9 616.6,142.9 622.5,142.9 628.4,142.9 634.3,142.9 640.1,142.9 646.0,142.3 651.9,142.3 657.8,142.3 663.7,142.1 669.5,142.3 675.4,142.3 681.3,142.3 689.8,142.3" stroke="#d8576b"/><polyline points="316.9,95.0 322.7,95.3 328.5,95.6 334.4,95.8 340.2,96.1 346.0,96.4 351.8,96.6 357.7,96.9 363.5,97.2 369.3,97.4 375.1,97.7 381.0,98.0 386.8,98.2 392.6,98.5 398.4,98.8 404.2,100.0 410.1,106.8 415.9,117.7 421.7,131.0 427.5,144.1 433.4,154.1 439.2,160.3 445.0,160.9 450.8,160.5 456.7,160.5 462.5,160.4 468.3,159.9 474.1,158.9 479.9,157.5 485.8,155.8 491.6,153.8 497.4,151.7 503.2,150.0 509.1,148.7 514.9,146.8 520.7,144.8 526.5,142.8 532.3,141.9 538.2,141.6 544.0,141.4 549.8,141.4 555.6,141.4 561.5,142.2 567.3,142.2 573.1,142.2 578.9,142.0 584.8,142.0 590.6,142.0 596.4,142.0 602.2,142.0 608.0,142.0 613.9,141.9 619.7,141.9 625.5,141.9 631.3,141.9 637.2,141.9 643.0,141.9 648.8,141.9 654.6,141.9 660.5,141.9 666.3,141.9 672.1,141.9 677.9,141.9 683.7,141.9 689.8,141.9" stroke="#f0804e"/><polyline points="316.9,110.1 322.9,108.1 328.9,108.4 334.9,108.8 340.9,107.2 346.9,107.6 352.9,107.9 358.9,108.6 364.8,109.0 370.8,109.3 376.8,112.9 382.8,113.3 388.8,113.6 394.8,114.0 400.8,114.3 406.8,114.7 412.8,116.1 418.8,121.6 424.8,130.0 430.8,140.2 436.8,151.3 442.8,162.4 448.7,172.5 454.7,179.3 460.7,181.9 466.7,181.9 472.7,181.9 478.7,180.9 484.7,179.7 490.7,176.6 496.7,171.7 502.7,165.7 508.7,160.2 514.7,154.4 520.7,150.0 526.7,147.6 532.6,146.9 538.6,146.9 544.6,146.9 550.6,147.1 556.6,147.1 562.6,147.3 568.6,147.3 574.6,147.3 580.6,147.3 586.6,147.3 592.6,147.3 598.6,147.3 604.6,147.3 610.6,147.3 616.5,147.3 622.5,146.7 628.5,146.7 634.5,146.7 640.5,146.7 646.5,146.7 652.5,146.6 658.5,146.6 664.5,146.6 670.5,146.6 676.5,146.6 682.5,146.6 689.8,146.6" stroke="#ea7556"/><polyline points="316.9,104.5 323.6,104.6 330.3,104.2 337.0,102.6 343.7,102.8 350.4,102.9 357.1,105.3 363.8,105.4 370.5,105.5 377.2,105.6 384.0,105.6 390.7,107.8 397.4,107.9 404.1,108.0 410.8,106.6 417.5,109.9 424.2,116.9 430.9,124.4 437.6,132.4 444.3,140.2 451.0,146.7 457.7,151.1 464.4,152.7 471.1,152.7 477.8,152.7 484.5,152.7 491.2,152.5 497.9,151.9 504.6,151.1 511.4,150.1 518.1,149.1 524.8,148.1 531.5,147.2 538.2,146.4 544.9,145.9 551.6,145.7 558.3,145.7 565.0,145.7 571.7,145.7 578.4,145.7 585.1,145.7 591.8,145.7 598.5,145.7 605.2,145.7 611.9,145.3 618.6,145.3 625.3,145.3 632.0,144.6 638.7,144.6 645.5,144.6 652.2,144.6 658.9,145.1 665.6,145.1 672.3,145.3 679.0,145.3 685.7,145.3 689.8,145.3" stroke="#e56c5d"/><polyline points="316.9,63.9 319.7,63.9 322.5,63.9 325.4,63.9 328.2,63.9 331.0,63.7 333.8,62.7 336.7,62.0 339.5,62.0 342.3,62.0 345.1,62.0 348.0,62.0 350.8,62.7 353.6,64.3 356.4,65.2 359.3,65.2 362.1,65.2 364.9,65.2 367.8,65.2 370.6,66.7 373.4,69.1 376.2,70.0 379.1,70.0 381.9,70.0 384.7,70.0 387.5,70.0 390.4,71.0 393.2,72.3 396.0,72.5 398.8,72.5 401.6,72.5 404.5,72.5 407.3,72.5 410.1,72.9 413.0,73.3 415.8,73.3 418.6,73.3 421.4,73.3 424.3,73.3 427.1,74.1 429.9,78.0 432.7,83.0 435.6,87.2 438.4,92.7 441.2,98.9 444.0,106.0 446.8,114.1 449.7,122.6 452.5,130.2 455.3,137.4 458.1,144.1 461.0,149.6 463.8,154.6 466.6,158.3 469.4,160.8 472.3,161.6 475.1,161.6 477.9,162.5 480.7,162.5 483.6,162.5 486.4,161.9 489.2,161.9 492.0,161.4 494.9,161.5 497.7,161.2 500.5,160.2 503.3,158.2 506.2,156.7 509.0,155.0 511.8,153.3 514.6,151.6 517.5,149.8 520.3,148.0 523.1,146.3 525.9,144.7 528.8,142.9 531.6,141.6 534.4,140.5 537.2,139.7 540.1,139.2 542.9,139.0 545.7,139.4 548.5,139.4 551.4,138.8 554.2,138.8 557.0,138.8 559.8,138.8 562.7,138.8 565.5,138.8 568.3,138.8 571.1,138.8 574.0,138.8 576.8,139.8 579.6,139.8 582.4,139.8 585.3,139.8 588.1,140.3 590.9,140.3 593.7,140.5 596.6,140.5 599.4,140.5 602.2,140.8 605.0,140.8 607.9,140.8 610.7,140.3 613.5,140.3 616.3,140.3 619.2,140.3 622.0,140.3 624.8,140.1 627.6,140.4 630.5,140.0 633.3,140.0 636.1,140.3 638.9,140.3 641.8,140.3 644.6,140.3 647.4,139.5 650.2,139.5 653.1,139.5 655.9,139.7 658.7,140.2 661.5,140.2 664.4,140.5 667.2,140.5 670.0,140.5 672.8,140.5 675.7,140.5 678.5,140.2 681.3,140.4 684.1,140.4 687.0,140.4 689.8,140.4" stroke="#ea7457" stroke-opacity="0.22"/><polyline points="316.9,96.7 324.4,93.7 331.9,97.2 339.3,97.1 346.8,97.1 354.3,97.0 361.8,99.6 369.3,99.3 376.7,99.3 384.2,96.1 391.7,96.0 399.2,95.9 406.7,94.8 414.1,95.3 421.6,95.3 429.1,101.8 436.6,115.1 444.1,130.5 451.6,145.9 459.0,156.1 466.5,158.8 474.0,158.7 481.5,158.4 489.0,157.3 496.4,156.2 503.9,154.9 511.4,153.8 518.9,151.8 526.4,150.1 533.8,148.5 541.3,146.7 548.8,145.5 556.3,144.4 563.8,143.6 571.2,142.9 578.7,143.5 586.2,143.5 593.7,142.9 601.2,142.9 608.6,142.7 616.1,142.7 623.6,142.7 631.1,142.7 638.6,142.7 646.1,142.7 653.5,142.3 661.0,142.3 668.5,142.3 676.0,142.3 683.5,142.3 689.8,142.3" stroke="#cc4778"/><polyline points="316.9,34.2 319.7,34.2 322.5,34.2 325.4,34.2 328.2,34.2 331.0,32.9 333.8,31.6 336.7,31.6 339.5,31.6 342.3,31.6 345.1,31.7 348.0,38.0 350.8,42.8 353.6,42.8 356.4,42.8 359.3,42.8 362.1,42.7 364.9,41.9 367.8,41.5 370.6,41.5 373.4,41.5 376.2,41.5 379.1,43.3 381.9,50.6 384.7,54.3 387.5,54.3 390.4,54.3 393.2,54.3 396.0,54.6 398.8,55.4 401.6,55.8 404.5,55.8 407.3,55.8 410.1,55.8 413.0,58.6 415.8,64.2 418.6,65.7 421.4,66.6 424.3,69.2 427.1,73.4 429.9,83.0 432.7,95.5 435.6,103.1 438.4,110.3 441.2,117.9 444.0,125.7 446.8,133.9 449.7,141.9 452.5,148.9 455.3,155.4 458.1,161.1 461.0,165.8 463.8,169.4 466.6,171.7 469.4,172.4 472.3,172.4 475.1,172.4 477.9,172.4 480.7,172.4 483.6,172.4 486.4,172.3 489.2,171.6 492.0,170.8 494.9,169.7 497.7,167.9 500.5,166.4 503.3,164.8 506.2,163.0 509.0,162.0 511.8,160.1 514.6,158.1 517.5,156.2 520.3,154.2 523.1,152.3 525.9,151.2 528.8,149.4 531.6,147.7 534.4,146.2 537.2,144.9 540.1,143.7 542.9,142.0 545.7,141.3 548.5,140.9 551.4,140.7 554.2,140.1 557.0,140.1 559.8,140.1 562.7,140.1 565.5,140.1 568.3,140.3 571.1,140.3 574.0,140.3 576.8,140.3 579.6,141.0 582.4,141.3 585.3,141.3 588.1,141.3 590.9,141.5 593.7,141.5 596.6,141.5 599.4,141.6 602.2,141.6 605.0,142.0 607.9,142.0 610.7,142.1 613.5,142.1 616.3,142.1 619.2,142.1 622.0,142.1 624.8,142.1 627.6,142.1 630.5,142.1 633.3,141.4 636.1,141.8 638.9,142.0 641.8,142.1 644.6,142.1 647.4,142.1 650.2,142.1 653.1,142.1 655.9,142.1 658.7,142.1 661.5,141.8 664.4,141.6 667.2,141.6 670.0,141.6 672.8,141.6 675.7,141.6 678.5,141.6 681.3,141.6 684.1,141.6 687.0,141.6 689.8,141.6" stroke="#fa9c3c" stroke-opacity="0.22"/><polyline points="316.9,51.1 319.7,51.1 322.5,51.1 325.4,51.1 328.2,51.1 331.0,52.6 333.8,53.6 336.7,53.6 339.5,53.6 342.3,53.6 345.1,54.7 348.0,58.0 350.8,59.2 353.6,59.2 356.4,59.2 359.3,59.2 362.1,57.7 364.9,55.5 367.8,55.4 370.6,55.4 373.4,55.4 376.2,55.4 379.1,61.0 381.9,65.2 384.7,65.2 387.5,65.2 390.4,65.2 393.2,66.6 396.0,71.2 398.8,73.0 401.6,73.0 404.5,73.0 407.3,73.0 410.1,73.4 413.0,73.9 415.8,74.0 418.6,74.0 421.4,74.0 424.3,74.0 427.1,76.9 429.9,79.3 432.7,79.3 435.6,79.3 438.4,79.3 441.2,81.3 444.0,87.7 446.8,92.4 449.7,96.0 452.5,100.1 455.3,104.8 458.1,109.8 461.0,115.0 463.8,120.5 466.6,125.7 469.4,130.9 472.3,135.7 475.1,140.4 477.9,144.4 480.7,147.4 483.6,150.2 486.4,151.2 489.2,151.5 492.0,151.5 494.9,151.5 497.7,151.5 500.5,151.4 503.3,151.3 506.2,150.8 509.0,151.5 511.8,151.3 514.6,151.7 517.5,151.4 520.3,151.3 523.1,150.7 525.9,150.7 528.8,150.0 531.6,149.6 534.4,149.1 537.2,148.8 540.1,148.4 542.9,148.4 545.7,148.0 548.5,147.6 551.4,147.2 554.2,147.3 557.0,146.9 559.8,147.1 562.7,146.6 565.5,145.7 568.3,145.5 571.1,145.2 574.0,145.0 576.8,144.8 579.6,144.7 582.4,144.6 585.3,144.5 588.1,144.5 590.9,143.9 593.7,143.9 596.6,143.6 599.4,143.6 602.2,143.6 605.0,143.6 607.9,143.6 610.7,143.6 613.5,143.6 616.3,143.6 619.2,143.6 622.0,143.6 624.8,143.6 627.6,143.6 630.5,143.6 633.3,143.6 636.1,143.6 638.9,143.6 641.8,144.1 644.6,143.4 647.4,144.0 650.2,143.6 653.1,143.6 655.9,143.6 658.7,143.5 661.5,143.5 664.4,143.5 667.2,143.5 670.0,143.5 672.8,143.3 675.7,143.3 678.5,143.7 681.3,143.7 684.1,143.7 687.0,143.7 689.8,143.7" stroke="#fdb031" stroke-opacity="0.22"/><polyline points="316.9,88.9 324.3,91.4 331.6,91.7 339.0,91.9 346.3,92.2 353.7,92.4 361.1,92.6 368.4,94.2 375.8,94.5 383.2,94.7 390.5,94.9 397.9,93.4 405.2,91.6 412.6,92.0 420.0,92.2 427.3,92.5 434.7,95.5 442.0,105.1 449.4,118.4 456.8,134.6 464.1,151.0 471.5,165.2 478.9,175.0 486.2,178.3 493.6,177.1 500.9,173.0 508.3,167.0 515.7,160.1 523.0,153.5 530.4,148.2 537.7,145.2 545.1,144.9 552.5,144.9 559.8,145.7 567.2,145.7 574.6,145.7 581.9,145.7 589.3,145.7 596.6,145.7 604.0,145.7 611.4,145.7 618.7,145.7 626.1,145.7 633.4,145.7 640.8,145.7 648.2,145.7 655.5,145.7 662.9,145.7 670.3,145.7 677.6,145.7 685.0,145.1 689.8,145.1" stroke="#dd5e66"/><polyline points="316.9,72.5 319.7,72.5 322.5,72.5 325.4,72.5 328.2,72.5 331.0,71.5 333.8,70.4 336.7,70.4 339.5,70.4 342.3,70.4 345.1,70.4 348.0,70.9 350.8,71.3 353.6,71.3 356.4,71.3 359.3,71.3 362.1,71.4 364.9,72.8 367.8,73.8 370.6,73.8 373.4,73.8 376.2,73.8 379.1,74.2 381.9,77.4 384.7,79.4 387.5,79.4 390.4,79.4 393.2,79.4 396.0,79.5 398.8,80.2 401.6,80.6 404.5,80.6 407.3,80.6 410.1,81.7 413.0,84.8 415.8,90.8 418.6,96.1 421.4,101.0 424.3,106.3 427.1,112.1 429.9,118.6 432.7,125.7 435.6,132.0 438.4,138.3 441.2,143.8 444.0,148.9 446.8,153.2 449.7,156.7 452.5,159.7 455.3,161.7 458.1,162.2 461.0,162.9 463.8,162.9 466.6,162.9 469.4,162.9 472.3,162.9 475.1,162.9 477.9,162.3 480.7,162.0 483.6,161.4 486.4,160.0 489.2,159.2 492.0,158.3 494.9,157.3 497.7,156.2 500.5,155.1 503.3,153.9 506.2,152.7 509.0,151.5 511.8,149.6 514.6,148.4 517.5,147.3 520.3,146.1 523.1,145.1 525.9,144.1 528.8,143.0 531.6,142.0 534.4,141.3 537.2,140.8 540.1,140.5 542.9,140.6 545.7,140.6 548.5,140.6 551.4,141.0 554.2,140.9 557.0,140.9 559.8,141.0 562.7,141.0 565.5,140.6 568.3,141.6 571.1,141.3 574.0,140.9 576.8,140.9 579.6,140.6 582.4,140.6 585.3,141.7 588.1,141.7 590.9,141.7 593.7,141.7 596.6,141.7 599.4,142.4 602.2,142.4 605.0,142.4 607.9,142.4 610.7,142.4 613.5,142.4 616.3,142.4 619.2,142.6 622.0,142.6 624.8,142.6 627.6,142.6 630.5,142.1 633.3,142.2 636.1,141.3 638.9,141.3 641.8,141.3 644.6,140.9 647.4,140.6 650.2,141.3 653.1,141.6 655.9,141.6 658.7,141.6 661.5,141.6 664.4,141.6 667.2,141.3 670.0,141.3 672.8,141.3 675.7,141.0 678.5,141.0 681.3,141.0 684.1,141.0 687.0,140.9 689.8,140.9" stroke="#f69043" stroke-opacity="0.22"/><polyline points="316.9,91.6 323.5,91.8 330.0,90.4 336.6,90.5 343.2,90.7 349.7,93.2 356.3,93.4 362.9,93.6 369.4,93.7 376.0,93.9 382.6,95.8 389.1,96.0 395.7,96.2 402.3,100.0 408.8,108.3 415.4,119.4 422.0,132.7 428.5,146.5 435.1,157.9 441.7,169.3 448.3,176.3 454.8,178.3 461.4,178.2 468.0,176.9 474.5,174.4 481.1,171.2 487.7,167.3 494.2,163.1 500.8,159.0 507.4,155.0 513.9,151.4 520.5,148.7 527.1,146.5 533.6,146.2 540.2,146.2 546.8,146.2 553.3,146.2 559.9,146.2 566.5,146.2 573.0,145.9 579.6,146.0 586.2,146.0 592.7,146.0 599.3,146.0 605.9,146.0 612.4,146.0 619.0,146.0 625.6,146.0 632.1,146.0 638.7,146.5 645.3,146.5 651.8,146.5 658.4,146.5 665.0,146.5 671.5,147.1 678.1,146.9 684.7,146.9 689.8,146.9" stroke="#f8963f"/><polyline points="316.9,44.6 319.7,44.6 322.5,44.6 325.4,44.6 328.2,44.6 331.0,44.3 333.8,42.8 336.7,41.5 339.5,41.5 342.3,41.5 345.1,41.5 348.0,41.5 350.8,42.2 353.6,44.7 356.4,46.4 359.3,46.4 362.1,46.4 364.9,46.4 367.8,46.4 370.6,47.5 373.4,49.8 376.2,51.1 379.1,51.1 381.9,51.1 384.7,51.1 387.5,51.1 390.4,55.4 393.2,62.7 396.0,66.1 398.8,66.1 401.6,66.1 404.5,66.1 407.3,66.1 410.1,72.3 413.0,80.9 415.8,83.8 418.6,84.2 421.4,85.7 424.3,88.3 427.1,91.9 429.9,101.2 432.7,111.1 435.6,116.7 438.4,121.5 441.2,126.4 444.0,131.3 446.8,136.2 449.7,140.4 452.5,144.5 455.3,148.7 458.1,152.3 461.0,155.3 463.8,157.3 466.6,157.6 469.4,157.7 472.3,157.7 475.1,157.7 477.9,157.7 480.7,157.7 483.6,157.7 486.4,157.7 489.2,157.7 492.0,157.7 494.9,157.7 497.7,157.5 500.5,157.2 503.3,156.8 506.2,156.3 509.0,156.3 511.8,155.5 514.6,154.2 517.5,153.6 520.3,152.8 523.1,152.6 525.9,151.3 528.8,150.3 531.6,149.4 534.4,148.8 537.2,147.8 540.1,147.0 542.9,146.6 545.7,145.8 548.5,145.0 551.4,144.4 554.2,143.8 557.0,143.3 559.8,142.9 562.7,142.6 565.5,142.8 568.3,142.7 571.1,142.7 574.0,142.7 576.8,143.1 579.6,143.1 582.4,143.1 585.3,143.1 588.1,143.1 590.9,143.1 593.7,143.1 596.6,143.1 599.4,143.1 602.2,142.5 605.0,142.5 607.9,142.7 610.7,142.7 613.5,142.7 616.3,142.7 619.2,142.7 622.0,142.7 624.8,142.7 627.6,142.7 630.5,142.7 633.3,142.6 636.1,142.6 638.9,142.6 641.8,142.6 644.6,142.6 647.4,142.6 650.2,141.7 653.1,141.4 655.9,141.4 658.7,141.1 661.5,141.1 664.4,141.1 667.2,141.1 670.0,141.2 672.8,141.2 675.7,141.2 678.5,141.2 681.3,141.2 684.1,141.2 687.0,141.2 689.8,141.2" stroke="#fdb230" stroke-opacity="0.22"/><polyline points="316.9,101.4 324.7,102.9 332.6,101.5 340.4,102.2 348.2,101.5 356.0,101.8 363.9,102.1 371.7,104.6 379.5,102.4 387.4,101.7 395.2,102.0 403.0,102.3 410.8,106.2 418.7,114.7 426.5,125.9 434.3,137.7 442.1,148.1 450.0,154.9 457.8,156.4 465.6,156.4 473.5,156.2 481.3,154.7 489.1,151.3 496.9,148.7 504.8,146.4 512.6,145.8 520.4,145.7 528.3,146.2 536.1,146.2 543.9,145.5 551.7,145.1 559.6,145.1 567.4,145.1 575.2,145.1 583.0,145.1 590.9,145.1 598.7,145.1 606.5,145.1 614.4,145.4 622.2,145.4 630.0,145.4 637.8,145.4 645.7,145.4 653.5,145.5 661.3,145.2 669.2,145.2 677.0,145.2 684.8,145.2 689.8,145.2" stroke="#f79341"/><polyline points="316.9,101.6 324.6,101.4 332.3,101.2 340.0,101.0 347.8,100.8 355.5,100.6 363.2,100.3 370.9,100.1 378.6,99.9 386.3,99.3 394.0,97.6 401.7,97.3 409.5,98.0 417.2,107.6 424.9,123.3 432.6,140.8 440.3,153.9 448.0,157.3 455.7,157.3 463.4,157.3 471.2,157.2 478.9,156.0 486.6,154.1 494.3,151.6 502.0,149.0 509.7,146.6 517.4,144.8 525.1,144.2 532.9,144.2 540.6,144.5 548.3,144.9 556.0,144.9 563.7,144.9 571.4,144.9 579.1,144.9 586.8,144.9 594.6,144.9 602.3,144.4 610.0,144.4 617.7,144.9 625.4,145.1 633.1,145.1 640.8,145.1 648.5,145.5 656.3,144.5 664.0,144.5 671.7,144.5 679.4,144.5 689.8,144.5" stroke="#e4695f"/><polyline points="316.9,89.6 323.6,89.8 330.2,89.9 336.9,87.3 343.6,87.5 350.2,87.6 356.9,87.7 363.6,90.2 370.2,89.4 376.9,89.5 383.6,91.8 390.2,91.9 396.9,90.2 403.6,92.0 410.2,92.1 416.9,93.5 423.6,100.6 430.2,113.0 436.9,124.8 443.6,138.3 450.2,150.3 456.9,158.2 463.6,160.1 470.2,160.0 476.9,159.1 483.6,157.5 490.2,155.4 496.9,153.2 503.6,150.9 510.2,149.0 516.9,147.5 523.6,146.9 530.2,146.9 536.9,146.9 543.6,146.9 550.3,146.9 556.9,146.9 563.6,146.9 570.3,146.9 576.9,147.3 583.6,147.3 590.3,147.3 596.9,147.3 603.6,147.3 610.3,147.6 616.9,147.6 623.6,146.8 630.3,146.8 636.9,146.2 643.6,145.9 650.3,145.9 656.9,145.9 663.6,146.0 670.3,146.0 676.9,146.0 683.6,146.1 689.8,146.1" stroke="#fba238"/><polyline points="316.9,87.6 324.3,87.9 331.6,88.1 339.0,88.3 346.4,88.5 353.7,88.8 361.1,90.7 368.5,90.9 375.8,93.2 383.2,93.4 390.6,93.6 397.9,93.8 405.3,101.6 412.7,119.1 420.0,140.0 427.4,157.4 434.8,165.3 442.1,165.4 449.5,165.4 456.9,165.4 464.3,165.4 471.6,165.1 479.0,164.1 486.4,162.5 493.7,160.0 501.1,156.6 508.5,153.8 515.8,150.7 523.2,147.8 530.6,145.1 537.9,142.7 545.3,141.1 552.7,139.9 560.0,139.4 567.4,139.4 574.8,139.4 582.1,139.4 589.5,139.2 596.9,139.3 604.2,139.0 611.6,139.0 619.0,139.0 626.3,139.0 633.7,139.0 641.1,139.0 648.4,139.4 655.8,139.4 663.2,139.5 670.5,139.5 677.9,139.4 685.3,139.4 689.8,139.4" stroke="#b12a90"/><polyline points="316.9,57.8 319.7,57.8 322.5,57.8 325.4,57.8 328.2,58.0 331.0,58.5 333.8,58.5 336.7,58.5 339.5,58.5 342.3,59.2 345.1,60.5 348.0,60.5 350.8,60.5 353.6,60.5 356.4,62.0 359.3,65.3 362.1,65.4 364.9,65.4 367.8,65.4 370.6,67.4 373.4,72.0 376.2,72.2 379.1,72.2 381.9,72.2 384.7,73.2 387.5,75.5 390.4,75.6 393.2,75.6 396.0,75.6 398.8,78.0 401.6,83.4 404.5,83.8 407.3,83.8 410.1,83.8 413.0,84.5 415.8,86.2 418.6,86.3 421.4,86.3 424.3,86.3 427.1,88.4 429.9,93.7 432.7,97.0 435.6,100.9 438.4,105.5 441.2,110.3 444.0,114.8 446.8,121.0 449.7,127.8 452.5,134.4 455.3,141.0 458.1,147.3 461.0,152.7 463.8,157.9 466.6,161.7 469.4,165.2 472.3,168.4 475.1,169.6 477.9,169.0 480.7,169.0 483.6,168.7 486.4,168.2 489.2,167.4 492.0,166.1 494.9,164.8 497.7,163.4 500.5,161.8 503.3,160.1 506.2,158.3 509.0,156.4 511.8,154.6 514.6,152.7 517.5,150.8 520.3,149.7 523.1,147.7 525.9,146.1 528.8,144.6 531.6,143.8 534.4,143.1 537.2,142.2 540.1,141.5 542.9,141.1 545.7,140.5 548.5,139.7 551.4,139.2 554.2,139.2 557.0,139.2 559.8,139.2 562.7,138.9 565.5,138.9 568.3,138.9 571.1,138.9 574.0,138.9 576.8,138.9 579.6,139.6 582.4,139.7 585.3,139.3 588.1,139.7 590.9,139.7 593.7,139.7 596.6,139.7 599.4,139.7 602.2,139.7 605.0,139.7 607.9,139.7 610.7,139.7 613.5,139.7 616.3,139.7 619.2,139.7 622.0,139.8 624.8,139.8 627.6,139.4 630.5,139.4 633.3,139.4 636.1,139.4 638.9,139.4 641.8,139.4 644.6,139.4 647.4,139.4 650.2,139.4 653.1,139.0 655.9,139.0 658.7,139.0 661.5,139.0 664.4,139.0 667.2,138.7 670.0,139.7 672.8,139.7 675.7,139.7 678.5,139.7 681.3,139.7 684.1,139.7 687.0,139.7 689.8,139.7" stroke="#f79342" stroke-opacity="0.22"/><polyline points="316.9,100.2 322.8,100.3 328.7,100.5 334.5,100.6 340.4,100.8 346.3,100.9 352.2,101.1 358.1,101.2 363.9,101.4 369.8,101.5 375.7,103.0 381.6,103.1 387.5,103.3 393.4,103.4 399.2,103.6 405.1,101.8 411.0,102.0 416.9,103.0 422.8,108.5 428.6,117.1 434.5,126.1 440.4,138.2 446.3,147.1 452.2,153.0 458.0,154.5 463.9,153.8 469.8,153.8 475.7,153.6 481.6,153.0 487.5,152.0 493.3,150.8 499.2,150.3 505.1,148.8 511.0,147.4 516.9,146.0 522.7,144.8 528.6,143.9 534.5,143.4 540.4,143.0 546.3,143.0 552.1,143.0 558.0,142.7 563.9,142.7 569.8,142.5 575.7,142.5 581.6,143.3 587.4,143.3 593.3,143.3 599.2,142.8 605.1,142.8 611.0,142.8 616.8,142.9 622.7,142.3 628.6,142.3 634.5,142.3 640.4,142.3 646.2,142.3 652.1,141.8 658.0,141.8 663.9,141.8 669.8,142.7 675.7,142.7 681.5,142.8 689.8,142.8" stroke="#c33e80"/><polyline points="316.9,91.3 322.7,91.2 328.4,91.0 334.2,90.9 340.0,90.8 345.8,87.8 351.5,87.2 357.3,87.0 363.1,87.7 368.9,86.7 374.6,90.2 380.4,90.1 386.2,90.0 392.0,89.9 397.7,89.7 403.5,87.2 409.3,87.1 415.1,86.9 420.8,89.0 426.6,91.7 432.4,102.8 438.1,115.3 443.9,130.8 449.7,145.5 455.5,158.5 461.2,168.0 467.0,171.8 472.8,171.9 478.6,172.7 484.3,172.7 490.1,170.9 495.9,167.0 501.7,161.3 507.4,154.8 513.2,148.5 519.0,143.4 524.8,140.5 530.5,140.1 536.3,140.1 542.1,140.7 547.8,140.7 553.6,140.9 559.4,140.9 565.2,140.9 570.9,140.9 576.7,140.9 582.5,140.9 588.3,140.9 594.0,140.9 599.8,140.9 605.6,140.5 611.4,140.5 617.1,140.5 622.9,140.5 628.7,140.5 634.5,140.5 640.2,140.0 646.0,140.0 651.8,139.6 657.5,139.4 663.3,139.4 669.1,139.4 674.9,140.1 680.6,140.1 686.4,140.4 689.8,140.4" stroke="#f0804e"/><polyline points="316.9,90.1 323.6,89.7 330.3,90.0 337.0,90.4 343.8,90.7 350.5,91.0 357.2,91.3 363.9,91.7 370.6,92.0 377.3,92.3 384.0,90.0 390.8,90.4 397.5,93.6 404.2,94.0 410.9,94.3 417.6,94.1 424.3,94.4 431.0,95.0 437.8,99.0 444.5,106.4 451.2,117.8 457.9,128.0 464.6,136.8 471.3,146.1 478.0,153.1 484.7,156.7 491.5,157.0 498.2,156.5 504.9,156.2 511.6,154.7 518.3,153.6 525.0,152.5 531.7,151.0 538.5,149.7 545.2,148.3 551.9,147.4 558.6,146.1 565.3,144.9 572.0,144.6 578.7,143.7 585.5,143.6 592.2,143.0 598.9,142.9 605.6,142.4 612.3,142.6 619.0,142.6 625.7,141.8 632.5,141.8 639.2,141.8 645.9,141.8 652.6,141.8 659.3,142.0 666.0,142.0 672.7,142.0 679.5,142.0 686.2,141.4 689.8,141.4" stroke="#e76e5b"/><polyline points="316.9,98.1 323.9,98.3 330.9,96.3 337.9,96.5 344.9,96.5 351.9,96.7 358.9,96.9 365.9,97.0 372.9,97.2 379.9,97.3 386.9,97.5 393.9,97.6 400.9,97.8 407.9,97.9 414.9,98.2 421.9,103.5 428.9,114.9 435.9,129.4 442.9,145.8 449.9,160.8 456.9,172.2 463.9,177.8 470.9,177.9 477.9,178.2 484.9,177.7 491.9,174.6 498.9,168.9 505.9,162.2 512.9,155.8 519.9,150.9 526.8,148.6 533.8,148.2 540.8,148.2 547.8,148.9 554.8,148.9 561.8,148.9 568.8,148.9 575.8,149.1 582.8,149.1 589.8,148.7 596.8,148.7 603.8,148.7 610.8,148.7 617.8,148.7 624.8,148.7 631.8,148.7 638.8,148.7 645.8,148.7 652.8,148.7 659.8,148.6 666.8,148.1 673.8,148.1 680.8,148.2 689.8,148.2" stroke="#8809a6"/><polyline points="316.9,100.3 322.3,100.2 327.7,100.0 333.2,99.9 338.6,99.7 344.0,99.6 349.4,101.0 354.8,100.9 360.3,100.7 365.7,100.6 371.1,100.4 376.5,100.3 381.9,100.1 387.3,100.0 392.8,98.2 398.2,98.0 403.6,97.9 409.0,97.7 414.4,97.6 419.9,97.4 425.3,96.6 430.7,99.2 436.1,110.1 441.5,127.0 447.0,142.6 452.4,156.5 457.8,165.8 463.2,168.0 468.6,168.0 474.0,168.0 479.5,168.0 484.9,168.0 490.3,167.1 495.7,166.4 501.1,164.1 506.6,161.6 512.0,158.8 517.4,155.5 522.8,152.5 528.2,149.6 533.7,147.1 539.1,144.5 544.5,142.1 549.9,141.7 555.3,141.5 560.8,142.1 566.2,142.1 571.6,142.1 577.0,142.1 582.4,142.1 587.8,141.9 593.3,141.9 598.7,141.9 604.1,142.5 609.5,142.5 614.9,142.5 620.4,142.5 625.8,142.5 631.2,142.5 636.6,142.4 642.0,142.4 647.5,142.2 652.9,141.9 658.3,141.9 663.7,141.9 669.1,141.9 674.6,141.9 680.0,142.1 685.4,141.8 689.8,141.8" stroke="#e36760"/><polyline points="316.9,89.2 322.8,89.1 328.7,89.0 334.7,88.9 340.6,88.8 346.5,88.7 352.4,88.6 358.3,88.5 364.3,88.1 370.2,87.9 376.1,87.8 382.0,87.7 387.9,87.6 393.9,87.5 399.8,87.6 405.7,92.6 411.6,103.6 417.5,120.1 423.5,135.8 429.4,150.7 435.3,162.7 441.2,169.4 447.1,170.1 453.0,170.1 459.0,170.1 464.9,169.3 470.8,168.8 476.7,167.6 482.6,166.5 488.6,165.2 494.5,163.7 500.4,162.4 506.3,160.6 512.2,158.6 518.2,156.7 524.1,154.7 530.0,153.4 535.9,151.7 541.8,151.0 547.8,149.7 553.7,148.7 559.6,148.0 565.5,147.6 571.4,147.5 577.4,147.5 583.3,147.5 589.2,147.6 595.1,147.6 601.0,148.0 607.0,148.0 612.9,148.0 618.8,148.0 624.7,148.0 630.6,148.0 636.6,148.0 642.5,148.0 648.4,148.0 654.3,148.3 660.2,148.3 666.2,148.3 672.1,148.3 678.0,147.7 683.9,147.7 689.8,147.7" stroke="#e36860"/><polyline points="316.9,26.4 319.7,26.4 322.5,26.4 325.4,26.4 328.2,27.1 331.0,29.4 333.8,29.9 336.7,29.9 339.5,29.9 342.3,30.5 345.1,36.2 348.0,38.9 350.8,38.9 353.6,38.9 356.4,38.9 359.3,40.5 362.1,41.9 364.9,41.9 367.8,41.9 370.6,41.9 373.4,46.5 376.2,53.5 379.1,53.5 381.9,53.5 384.7,53.5 387.5,55.9 390.4,62.1 393.2,63.2 396.0,63.2 398.8,63.2 401.6,63.6 404.5,65.7 407.3,66.6 410.1,66.6 413.0,66.6 415.8,66.6 418.6,74.3 421.4,80.8 424.3,83.5 427.1,86.9 429.9,91.1 432.7,98.6 435.6,107.0 438.4,112.0 441.2,117.1 444.0,121.9 446.8,127.6 449.7,132.7 452.5,137.5 455.3,142.0 458.1,146.1 461.0,149.7 463.8,152.7 466.6,155.0 469.4,156.6 472.3,157.3 475.1,156.8 477.9,156.8 480.7,157.2 483.6,157.0 486.4,157.3 489.2,156.9 492.0,156.5 494.9,156.0 497.7,155.5 500.5,155.0 503.3,154.3 506.2,153.7 509.0,152.9 511.8,152.2 514.6,150.7 517.5,149.9 520.3,149.9 523.1,149.1 525.9,147.7 528.8,147.0 531.6,146.3 534.4,145.6 537.2,145.0 540.1,144.4 542.9,143.9 545.7,143.5 548.5,143.1 551.4,142.8 554.2,143.1 557.0,143.0 559.8,143.5 562.7,143.5 565.5,143.5 568.3,143.5 571.1,142.6 574.0,142.6 576.8,142.6 579.6,142.9 582.4,143.0 585.3,143.0 588.1,143.0 590.9,143.0 593.7,143.0 596.6,143.0 599.4,143.0 602.2,143.4 605.0,143.7 607.9,143.2 610.7,143.2 613.5,143.2 616.3,143.2 619.2,143.2 622.0,143.2 624.8,143.2 627.6,143.2 630.5,143.2 633.3,143.2 636.1,143.1 638.9,143.1 641.8,143.1 644.6,142.3 647.4,142.3 650.2,142.3 653.1,142.3 655.9,142.6 658.7,142.6 661.5,142.6 664.4,143.4 667.2,143.4 670.0,143.4 672.8,143.4 675.7,143.4 678.5,143.4 681.3,143.2 684.1,143.2 687.0,143.2 689.8,143.2" stroke="#ea7457" stroke-opacity="0.22"/><polyline points="316.9,96.9 324.2,97.3 331.5,97.6 338.8,97.9 346.0,96.8 353.3,97.4 360.6,99.8 367.9,100.2 375.2,102.5 382.5,102.8 389.7,104.0 397.0,104.3 404.3,104.7 411.6,105.0 418.9,105.6 426.2,111.2 433.4,121.9 440.7,135.6 448.0,150.4 455.3,164.2 462.6,175.0 469.9,180.6 477.2,181.0 484.4,180.8 491.7,178.8 499.0,176.6 506.3,173.7 513.6,169.3 520.9,165.6 528.1,161.7 535.4,157.9 542.7,154.4 550.0,151.8 557.3,149.5 564.6,148.1 571.8,147.7 579.1,147.7 586.4,147.7 593.7,147.7 601.0,147.7 608.3,147.7 615.5,147.7 622.8,147.7 630.1,147.7 637.4,147.7 644.7,148.0 652.0,147.3 659.3,147.3 666.5,147.3 673.8,147.3 681.1,147.3 689.8,147.3" stroke="#b02991"/><polyline points="316.9,103.7 324.1,103.9 331.3,105.1 338.6,102.7 345.8,105.9 353.0,106.1 360.2,106.3 367.5,106.4 374.7,107.8 381.9,108.0 389.1,107.3 396.3,107.5 403.6,107.7 410.8,107.9 418.0,111.5 425.2,123.3 432.5,138.2 439.7,151.5 446.9,158.7 454.1,159.7 461.3,159.7 468.6,159.5 475.8,158.9 483.0,158.0 490.2,156.8 497.5,155.4 504.7,153.2 511.9,151.6 519.1,150.0 526.3,148.5 533.6,147.1 540.8,146.2 548.0,145.3 555.2,144.8 562.5,144.7 569.7,144.7 576.9,144.7 584.1,144.7 591.3,144.7 598.6,144.8 605.8,144.6 613.0,144.6 620.2,143.9 627.5,143.9 634.7,143.5 641.9,143.5 649.1,144.4 656.3,144.4 663.6,144.4 670.8,144.4 678.0,144.4 685.2,144.4 689.8,144.4" stroke="#6c00a8"/><polyline points="316.9,47.0 319.7,47.0 322.5,47.0 325.4,47.0 328.2,47.0 331.0,46.9 333.8,46.5 336.7,46.2 339.5,46.2 342.3,46.2 345.1,46.2 348.0,46.2 350.8,51.1 353.6,58.5 356.4,61.0 359.3,61.0 362.1,61.0 364.9,61.0 367.8,61.0 370.6,63.2 373.4,65.4 376.2,65.4 379.1,65.4 381.9,65.4 384.7,65.4 387.5,66.7 390.4,70.8 393.2,73.5 396.0,73.5 398.8,73.5 401.6,73.5 404.5,73.5 407.3,77.9 410.1,84.6 413.0,87.0 415.8,87.0 418.6,87.3 421.4,90.4 424.3,96.2 427.1,104.7 429.9,114.7 432.7,125.2 435.6,135.9 438.4,146.5 441.2,156.5 444.0,165.2 446.8,172.1 449.7,176.7 452.5,178.3 455.3,178.3 458.1,178.3 461.0,177.5 463.8,178.2 466.6,178.2 469.4,178.0 472.3,177.7 475.1,177.4 477.9,176.6 480.7,176.1 483.6,175.4 486.4,174.7 489.2,174.0 492.0,173.1 494.9,172.2 497.7,171.1 500.5,169.6 503.3,168.8 506.2,167.7 509.0,166.6 511.8,166.0 514.6,164.8 517.5,163.5 520.3,162.3 523.1,161.0 525.9,160.0 528.8,158.1 531.6,156.9 534.4,155.1 537.2,153.9 540.1,152.8 542.9,151.6 545.7,150.5 548.5,149.9 551.4,148.9 554.2,148.0 557.0,147.1 559.8,146.8 562.7,146.1 565.5,145.4 568.3,144.9 571.1,144.4 574.0,144.0 576.8,143.7 579.6,143.5 582.4,143.4 585.3,143.0 588.1,143.0 590.9,143.6 593.7,143.6 596.6,144.2 599.4,144.2 602.2,144.2 605.0,144.2 607.9,143.9 610.7,143.9 613.5,143.8 616.3,143.8 619.2,143.8 622.0,143.5 624.8,143.9 627.6,143.9 630.5,143.9 633.3,143.9 636.1,144.4 638.9,144.4 641.8,144.4 644.6,143.5 647.4,143.5 650.2,143.5 653.1,143.5 655.9,142.7 658.7,142.7 661.5,143.1 664.4,143.1 667.2,143.1 670.0,143.1 672.8,143.1 675.7,143.1 678.5,143.1 681.3,143.0 684.1,143.0 687.0,143.4 689.8,143.4" stroke="#fba03a" stroke-opacity="0.22"/><polyline points="316.9,98.1 322.2,98.3 327.4,99.6 332.7,99.8 337.9,100.0 343.2,100.3 348.4,100.5 353.7,100.7 358.9,100.9 364.2,101.1 369.4,101.3 374.7,101.5 380.0,99.5 385.2,99.4 390.5,99.6 395.7,102.0 401.0,102.2 406.2,102.4 411.5,102.6 416.7,103.3 422.0,106.3 427.3,111.3 432.5,117.6 437.8,124.8 443.0,132.3 448.3,139.6 453.5,146.1 458.8,150.5 464.0,153.8 469.3,154.7 474.5,154.4 479.8,153.7 485.1,153.4 490.3,153.0 495.6,152.5 500.8,151.9 506.1,151.2 511.3,150.5 516.6,150.9 521.8,150.2 527.1,149.4 532.3,148.8 537.6,148.8 542.9,148.8 548.1,147.3 553.4,147.0 558.6,147.2 563.9,147.1 569.1,147.3 574.4,147.3 579.6,147.3 584.9,147.3 590.2,147.3 595.4,147.7 600.7,147.7 605.9,147.7 611.2,147.7 616.4,147.7 621.7,147.8 626.9,147.8 632.2,147.8 637.4,147.8 642.7,147.8 648.0,147.8 653.2,147.8 658.5,147.8 663.7,147.3 669.0,147.3 674.2,147.3 679.5,147.3 684.7,146.6 689.8,146.6" stroke="#f99b3d"/><polyline points="316.9,88.4 323.4,88.6 330.0,86.4 336.5,88.3 343.0,88.4 349.6,89.4 356.1,89.6 362.6,89.4 369.1,89.6 375.7,92.0 382.2,93.1 388.7,93.2 395.3,93.4 401.8,93.5 408.3,93.7 414.9,97.1 421.4,100.6 427.9,110.9 434.5,123.4 441.0,136.9 447.5,149.9 454.1,161.2 460.6,169.4 467.1,173.0 473.6,173.1 480.2,173.1 486.7,173.1 493.2,172.9 499.8,171.7 506.3,169.5 512.8,166.5 519.4,163.0 525.9,159.2 532.4,155.5 539.0,152.0 545.5,149.0 552.0,146.7 558.5,145.3 565.1,145.0 571.6,145.0 578.1,145.0 584.7,145.0 591.2,145.0 597.7,145.0 604.3,145.5 610.8,145.8 617.3,145.5 623.9,144.7 630.4,144.7 636.9,144.7 643.4,144.7 650.0,144.8 656.5,144.8 663.0,144.8 669.6,144.8 676.1,144.2 682.6,144.9 689.8,144.9" stroke="#f38749"/><polyline points="316.9,89.8 324.7,89.6 332.5,89.4 340.3,89.2 348.1,88.9 355.9,88.7 363.7,88.5 371.5,88.6 379.3,88.3 387.1,88.1 395.0,87.9 402.8,84.9 410.6,87.7 418.4,105.8 426.2,132.4 434.0,158.5 441.8,174.7 449.6,176.3 457.4,176.3 465.2,176.2 473.0,174.8 480.8,170.8 488.6,164.5 496.4,157.8 504.2,151.4 512.0,146.5 519.8,143.0 527.6,142.3 535.4,142.3 543.3,142.3 551.1,142.3 558.9,141.8 566.7,141.8 574.5,141.8 582.3,141.8 590.1,142.1 597.9,142.1 605.7,142.7 613.5,142.7 621.3,142.7 629.1,142.7 636.9,142.7 644.7,142.7 652.5,143.1 660.3,143.1 668.1,143.1 675.9,142.8 683.7,142.8 689.8,142.8" stroke="#6d00a8"/><polyline points="316.9,99.7 322.0,99.9 327.2,100.7 332.3,101.0 337.4,102.5 342.6,102.8 347.7,103.0 352.8,103.3 358.0,103.6 363.1,104.9 368.2,105.2 373.4,105.5 378.5,104.9 383.6,105.2 388.8,105.5 393.9,105.8 399.0,106.1 404.2,106.4 409.3,106.7 414.4,107.0 419.6,109.6 424.7,115.0 429.8,122.2 435.0,131.7 440.1,139.7 445.2,146.6 450.4,151.6 455.5,154.0 460.6,154.0 465.8,154.0 470.9,154.0 476.1,154.0 481.2,154.0 486.3,153.5 491.5,153.5 496.6,153.3 501.7,153.1 506.9,152.1 512.0,151.8 517.1,151.5 522.3,151.8 527.4,152.0 532.5,151.6 537.7,151.2 542.8,150.8 547.9,150.4 553.1,150.1 558.2,148.8 563.3,148.5 568.5,148.0 573.6,147.7 578.7,147.3 583.9,147.2 589.0,147.5 594.1,147.5 599.3,147.5 604.4,147.5 609.5,147.5 614.7,147.5 619.8,147.6 624.9,147.5 630.1,147.5 635.2,147.5 640.3,147.5 645.5,147.0 650.6,147.3 655.7,147.3 660.9,147.3 666.0,147.4 671.1,147.3 676.3,147.8 681.4,147.8 686.5,147.8 689.8,147.8" stroke="#f8963f"/><polyline points="350.8,19.9 352.5,23.4 362.1,26.2 373.4,30.4 379.0,34.5 384.7,42.8 396.0,45.6 407.3,55.3 418.6,59.5 424.2,65.0 435.5,72.0 446.8,85.8 458.1,113.6 469.4,137.9 480.8,155.2 492.0,162.2 509.0,160.8 525.9,151.7 542.9,145.5 571.1,142.7 689.8,142.7" stroke="#fca636"/></g><polyline points="316.9,91.9 328.2,91.7 333.8,90.8 338.4,90.1 342.3,90.7 350.8,91.3 361.5,91.9 384.7,91.9 400.0,93.1 407.3,94.9 420.3,97.6 428.2,101.8 433.9,106.7 439.5,113.6 445.2,121.9 450.8,130.5 455.3,137.2 459.3,144.6 462.7,149.7 466.1,154.5 470.6,158.0 476.2,160.1 486.4,161.5 498.8,161.5 509.0,160.1 513.0,158.7 518.6,155.2 524.3,151.7 529.9,148.3 535.6,146.2 542.9,145.2 559.8,143.8 576.8,142.9 599.4,142.5 627.6,142.2 655.9,142.1 684.1,142.0" fill="none" stroke="#1c1c1c" stroke-width="2.10" stroke-linejoin="round"/><line x1="316.90" y1="84.60" x2="684.15" y2="84.60" stroke="#000" stroke-width="2.20" stroke-dasharray="2.2 3.63"/><g clip-path="url(#clipA)" fill-opacity="0.37"><circle cx="189.6" cy="87.6" r="2.1" fill="#e16462"/><circle cx="190.9" cy="57.5" r="2.1" fill="#c13b82"/><circle cx="206.2" cy="73.9" r="2.1" fill="#e46a5e"/><circle cx="135.3" cy="124.9" r="2.1" fill="#6800a8"/><circle cx="172.3" cy="87.8" r="2.1" fill="#6d00a8"/><circle cx="158.8" cy="109.0" r="2.1" fill="#d7576c"/><circle cx="158.8" cy="103.8" r="2.1" fill="#9411a1"/><circle cx="143.9" cy="108.9" r="2.1" fill="#40049d"/><circle cx="166.3" cy="87.2" r="2.1" fill="#42049d"/><circle cx="110.7" cy="162.9" r="2.1" fill="#f2844b"/><circle cx="185.4" cy="56.4" r="2.1" fill="#a92395"/><circle cx="164.5" cy="78.2" r="2.1" fill="#2f0595"/><circle cx="203.1" cy="66.5" r="2.1" fill="#df6164"/><circle cx="177.6" cy="99.9" r="2.1" fill="#ec7854"/><circle cx="168.9" cy="92.5" r="2.1" fill="#98149f"/><circle cx="156.9" cy="108.2" r="2.1" fill="#de5f65"/><circle cx="87.8" cy="173.9" r="2.1" fill="#99159f"/><circle cx="192.8" cy="81.6" r="2.1" fill="#cd4977"/><circle cx="109.9" cy="156.6" r="2.1" fill="#c03a83"/><circle cx="159.5" cy="102.9" r="2.1" fill="#9411a1"/><circle cx="139.5" cy="130.5" r="2.1" fill="#ed7953"/><circle cx="194.7" cy="73.7" r="2.1" fill="#d14e72"/><circle cx="203.7" cy="72.6" r="2.1" fill="#ce4976"/><circle cx="177.7" cy="90.5" r="2.1" fill="#d45270"/><circle cx="134.8" cy="123.6" r="2.1" fill="#ae2892"/><circle cx="215.7" cy="59.4" r="2.1" fill="#f2844b"/><circle cx="186.1" cy="80.2" r="2.1" fill="#c6417d"/><circle cx="78.1" cy="182.2" r="2.1" fill="#8a0aa5"/><circle cx="216.7" cy="51.3" r="2.1" fill="#f07f4f"/><circle cx="215.8" cy="47.3" r="2.1" fill="#e76f5b"/><circle cx="213.3" cy="63.2" r="2.1" fill="#e36760"/><circle cx="83.4" cy="180.0" r="2.1" fill="#f2844b"/><circle cx="193.4" cy="87.2" r="2.1" fill="#e16462"/><circle cx="170.2" cy="105.7" r="2.1" fill="#f2844b"/><circle cx="218.7" cy="47.9" r="2.1" fill="#f2844b"/><circle cx="225.8" cy="46.3" r="2.1" fill="#f2844b"/><circle cx="186.1" cy="70.1" r="2.1" fill="#8c0ba5"/><circle cx="79.2" cy="182.6" r="2.1" fill="#c7427c"/><circle cx="199.3" cy="82.4" r="2.1" fill="#f2844b"/><circle cx="189.2" cy="73.4" r="2.1" fill="#c9447a"/><circle cx="143.1" cy="128.8" r="2.1" fill="#d6556d"/><circle cx="78.1" cy="181.9" r="2.1" fill="#8d0ca5"/><circle cx="232.5" cy="30.5" r="2.1" fill="#fa9e3b"/><circle cx="78.4" cy="183.4" r="2.1" fill="#f2844b"/><circle cx="138.9" cy="126.2" r="2.1" fill="#9d189d"/><circle cx="158.6" cy="123.7" r="2.1" fill="#f2844b"/><circle cx="171.7" cy="100.0" r="2.1" fill="#ec7754"/><circle cx="167.8" cy="99.2" r="2.1" fill="#dc5d67"/><circle cx="154.2" cy="101.7" r="2.1" fill="#bf3984"/><circle cx="115.0" cy="154.3" r="2.1" fill="#dc5d67"/><circle cx="102.0" cy="164.1" r="2.1" fill="#c43e7f"/><circle cx="217.8" cy="58.7" r="2.1" fill="#f2844b"/><circle cx="183.8" cy="84.6" r="2.1" fill="#c7417d"/><circle cx="183.5" cy="70.0" r="2.1" fill="#8507a6"/><circle cx="109.0" cy="148.2" r="2.1" fill="#3d049b"/><circle cx="132.1" cy="132.6" r="2.1" fill="#ac2594"/><circle cx="147.8" cy="115.0" r="2.1" fill="#b93389"/><circle cx="200.7" cy="49.2" r="2.1" fill="#c8437b"/><circle cx="166.6" cy="113.9" r="2.1" fill="#f2844b"/><circle cx="178.2" cy="92.4" r="2.1" fill="#c03a83"/><circle cx="194.7" cy="78.4" r="2.1" fill="#cb4679"/><circle cx="120.1" cy="149.0" r="2.1" fill="#b22b8f"/><circle cx="187.6" cy="89.1" r="2.1" fill="#ed7a53"/><circle cx="162.5" cy="83.0" r="2.1" fill="#5901a5"/><circle cx="101.9" cy="166.6" r="2.1" fill="#f2844b"/><circle cx="156.4" cy="96.0" r="2.1" fill="#8708a6"/><circle cx="129.4" cy="146.9" r="2.1" fill="#f2844b"/><circle cx="105.7" cy="162.6" r="2.1" fill="#e76f5a"/><circle cx="122.6" cy="142.1" r="2.1" fill="#8809a6"/><circle cx="193.0" cy="92.6" r="2.1" fill="#f2844b"/><circle cx="208.3" cy="69.1" r="2.1" fill="#d6556d"/><circle cx="91.2" cy="172.2" r="2.1" fill="#d6556d"/><circle cx="181.0" cy="81.0" r="2.1" fill="#900ea3"/><circle cx="80.0" cy="181.0" r="2.1" fill="#a11b9b"/><circle cx="160.0" cy="117.0" r="2.1" fill="#f2844b"/><circle cx="182.0" cy="90.8" r="2.1" fill="#ce4a75"/><circle cx="176.2" cy="93.4" r="2.1" fill="#d4526f"/><circle cx="212.0" cy="51.0" r="2.1" fill="#e56b5d"/><circle cx="215.2" cy="68.1" r="2.1" fill="#f2844b"/><circle cx="76.8" cy="184.1" r="2.1" fill="#e56b5d"/><circle cx="189.9" cy="81.4" r="2.1" fill="#c7427c"/><circle cx="184.7" cy="65.6" r="2.1" fill="#b7318b"/><circle cx="203.7" cy="64.3" r="2.1" fill="#e06363"/><circle cx="78.9" cy="181.7" r="2.1" fill="#d25071"/><circle cx="222.6" cy="56.2" r="2.1" fill="#f2844b"/><circle cx="107.5" cy="159.7" r="2.1" fill="#d35170"/><circle cx="147.8" cy="97.2" r="2.1" fill="#2f0595"/><circle cx="154.3" cy="95.3" r="2.1" fill="#3c049b"/><circle cx="164.3" cy="103.6" r="2.1" fill="#af2891"/><circle cx="117.7" cy="144.5" r="2.1" fill="#7f04a8"/><circle cx="207.0" cy="65.7" r="2.1" fill="#db5c68"/><circle cx="168.6" cy="95.2" r="2.1" fill="#c03b83"/><circle cx="182.4" cy="73.4" r="2.1" fill="#99159f"/><circle cx="187.2" cy="98.8" r="2.1" fill="#f2844b"/><circle cx="176.2" cy="85.8" r="2.1" fill="#a92395"/><circle cx="171.4" cy="83.2" r="2.1" fill="#9e199c"/><circle cx="211.2" cy="66.2" r="2.1" fill="#de6065"/><circle cx="190.6" cy="79.3" r="2.1" fill="#e56b5d"/><circle cx="82.1" cy="181.2" r="2.1" fill="#f2844b"/><circle cx="224.8" cy="41.5" r="2.1" fill="#f2844b"/><circle cx="167.7" cy="80.6" r="2.1" fill="#3c049b"/><circle cx="205.5" cy="83.2" r="2.1" fill="#f2844b"/><circle cx="207.3" cy="56.9" r="2.1" fill="#e8705a"/><circle cx="181.5" cy="60.5" r="2.1" fill="#a51f98"/><circle cx="211.9" cy="70.6" r="2.1" fill="#f2844b"/><circle cx="177.6" cy="90.0" r="2.1" fill="#ac2693"/><circle cx="189.2" cy="64.4" r="2.1" fill="#ba3488"/><circle cx="85.6" cy="178.4" r="2.1" fill="#f2844b"/><circle cx="202.5" cy="59.0" r="2.1" fill="#da5b69"/><circle cx="175.6" cy="86.6" r="2.1" fill="#9411a1"/><circle cx="192.6" cy="78.8" r="2.1" fill="#cc4778"/><circle cx="137.6" cy="125.2" r="2.1" fill="#6300a7"/><circle cx="170.4" cy="99.5" r="2.1" fill="#e66d5c"/><circle cx="203.4" cy="66.1" r="2.1" fill="#d5536e"/><circle cx="115.2" cy="150.4" r="2.1" fill="#7802a8"/><circle cx="184.2" cy="85.7" r="2.1" fill="#ca4579"/><circle cx="187.3" cy="75.8" r="2.1" fill="#9d189d"/><circle cx="188.1" cy="85.7" r="2.1" fill="#f2844b"/><circle cx="152.7" cy="98.9" r="2.1" fill="#300595"/><circle cx="208.9" cy="56.1" r="2.1" fill="#db5b68"/><circle cx="209.8" cy="55.4" r="2.1" fill="#d9596a"/><circle cx="179.5" cy="71.2" r="2.1" fill="#9714a0"/><circle cx="227.5" cy="48.8" r="2.1" fill="#f2844b"/><circle cx="102.4" cy="163.1" r="2.1" fill="#cb4678"/><circle cx="141.2" cy="115.9" r="2.1" fill="#8206a7"/><circle cx="109.3" cy="156.1" r="2.1" fill="#5e01a6"/><circle cx="219.3" cy="42.4" r="2.1" fill="#f2844b"/><circle cx="191.4" cy="88.1" r="2.1" fill="#d14e73"/><circle cx="199.8" cy="64.6" r="2.1" fill="#cf4c74"/><circle cx="158.1" cy="115.9" r="2.1" fill="#f2844b"/><circle cx="204.5" cy="60.0" r="2.1" fill="#cc4778"/><circle cx="201.7" cy="78.6" r="2.1" fill="#f2844b"/><circle cx="166.0" cy="92.1" r="2.1" fill="#8407a7"/><circle cx="161.0" cy="103.1" r="2.1" fill="#a82196"/><circle cx="220.0" cy="50.3" r="2.1" fill="#f2844b"/><circle cx="129.9" cy="134.2" r="2.1" fill="#af2892"/><circle cx="131.3" cy="144.6" r="2.1" fill="#f2844b"/><circle cx="95.2" cy="165.8" r="2.1" fill="#8406a7"/><circle cx="193.3" cy="73.5" r="2.1" fill="#c33e80"/><circle cx="196.6" cy="77.6" r="2.1" fill="#d35071"/><circle cx="178.9" cy="72.7" r="2.1" fill="#7902a8"/><circle cx="200.3" cy="68.8" r="2.1" fill="#d14f72"/><circle cx="139.2" cy="133.2" r="2.1" fill="#d8576b"/><circle cx="211.5" cy="66.1" r="2.1" fill="#f2844b"/><circle cx="195.5" cy="53.6" r="2.1" fill="#c33e80"/><circle cx="147.6" cy="124.0" r="2.1" fill="#df6164"/><circle cx="175.8" cy="90.0" r="2.1" fill="#d4526f"/><circle cx="222.3" cy="61.8" r="2.1" fill="#f2844b"/><circle cx="83.4" cy="178.6" r="2.1" fill="#d9596a"/><circle cx="199.8" cy="70.4" r="2.1" fill="#cf4b75"/><circle cx="133.4" cy="130.2" r="2.1" fill="#9714a0"/><circle cx="87.6" cy="171.9" r="2.1" fill="#6c00a8"/><circle cx="121.8" cy="137.0" r="2.1" fill="#6000a6"/><circle cx="179.7" cy="78.5" r="2.1" fill="#7702a8"/><circle cx="207.1" cy="57.5" r="2.1" fill="#ed7b52"/><circle cx="126.2" cy="136.3" r="2.1" fill="#9713a0"/><circle cx="211.9" cy="60.5" r="2.1" fill="#e56c5d"/><circle cx="223.1" cy="46.7" r="2.1" fill="#f2844b"/><circle cx="126.5" cy="146.5" r="2.1" fill="#f2844b"/><circle cx="183.5" cy="75.7" r="2.1" fill="#b02991"/><circle cx="133.4" cy="138.2" r="2.1" fill="#8f0da4"/><circle cx="180.6" cy="87.3" r="2.1" fill="#ab2594"/><circle cx="149.4" cy="121.6" r="2.1" fill="#e56a5e"/><circle cx="225.1" cy="46.4" r="2.1" fill="#f2844b"/><circle cx="97.8" cy="171.0" r="2.1" fill="#f2844b"/><circle cx="204.2" cy="57.8" r="2.1" fill="#d04d73"/><circle cx="112.0" cy="155.8" r="2.1" fill="#c23d81"/><circle cx="155.0" cy="97.4" r="2.1" fill="#2f0595"/><circle cx="213.7" cy="63.3" r="2.1" fill="#f1824c"/><circle cx="152.2" cy="108.7" r="2.1" fill="#be3885"/><circle cx="212.6" cy="62.2" r="2.1" fill="#e66d5c"/><circle cx="178.5" cy="86.9" r="2.1" fill="#7c03a8"/><circle cx="212.7" cy="63.4" r="2.1" fill="#f2844b"/><circle cx="89.0" cy="171.0" r="2.1" fill="#5a01a5"/><circle cx="183.8" cy="102.8" r="2.1" fill="#f2844b"/><circle cx="158.6" cy="106.5" r="2.1" fill="#dc5e67"/><circle cx="149.3" cy="102.1" r="2.1" fill="#bb3488"/><circle cx="194.4" cy="66.0" r="2.1" fill="#c33d80"/><circle cx="124.2" cy="146.0" r="2.1" fill="#cd4877"/><circle cx="195.2" cy="68.9" r="2.1" fill="#c23d81"/><circle cx="208.3" cy="66.1" r="2.1" fill="#e66e5b"/><circle cx="198.3" cy="78.2" r="2.1" fill="#e8705a"/><circle cx="106.5" cy="160.7" r="2.1" fill="#d04d73"/><circle cx="180.2" cy="62.2" r="2.1" fill="#7702a8"/><circle cx="178.6" cy="77.4" r="2.1" fill="#7702a8"/><circle cx="200.5" cy="85.2" r="2.1" fill="#f2844b"/><circle cx="197.1" cy="83.0" r="2.1" fill="#f2844b"/><circle cx="157.6" cy="109.1" r="2.1" fill="#e06363"/><circle cx="165.1" cy="104.1" r="2.1" fill="#dc5e67"/><circle cx="196.2" cy="61.3" r="2.1" fill="#bd3786"/><circle cx="102.5" cy="158.0" r="2.1" fill="#2f0595"/><circle cx="117.0" cy="145.9" r="2.1" fill="#2f0595"/><circle cx="223.5" cy="44.8" r="2.1" fill="#f2844b"/><circle cx="184.1" cy="92.8" r="2.1" fill="#ee7c51"/><circle cx="148.4" cy="112.0" r="2.1" fill="#cd4877"/><circle cx="103.4" cy="162.0" r="2.1" fill="#a82296"/><circle cx="114.1" cy="154.5" r="2.1" fill="#ca457a"/><circle cx="166.5" cy="99.1" r="2.1" fill="#c8437c"/><circle cx="186.8" cy="77.8" r="2.1" fill="#ab2494"/><circle cx="140.1" cy="130.3" r="2.1" fill="#cf4b75"/><circle cx="181.3" cy="72.0" r="2.1" fill="#a41e99"/><circle cx="134.1" cy="132.3" r="2.1" fill="#ad2793"/><circle cx="96.6" cy="165.0" r="2.1" fill="#5901a5"/><circle cx="120.7" cy="150.8" r="2.1" fill="#f2844b"/><circle cx="206.9" cy="55.6" r="2.1" fill="#e06363"/><circle cx="86.0" cy="175.3" r="2.1" fill="#cb4679"/><circle cx="212.0" cy="65.6" r="2.1" fill="#e26561"/><circle cx="212.1" cy="61.9" r="2.1" fill="#e36760"/><circle cx="180.8" cy="83.3" r="2.1" fill="#8c0ba5"/><circle cx="119.7" cy="149.6" r="2.1" fill="#ae2892"/><circle cx="127.4" cy="141.1" r="2.1" fill="#af2891"/><circle cx="173.0" cy="97.6" r="2.1" fill="#bf3984"/><circle cx="147.7" cy="131.9" r="2.1" fill="#f2844b"/><circle cx="130.4" cy="142.1" r="2.1" fill="#ce4a75"/><circle cx="194.6" cy="56.3" r="2.1" fill="#c6407e"/><circle cx="145.6" cy="119.4" r="2.1" fill="#c53f7f"/><circle cx="173.7" cy="89.2" r="2.1" fill="#cb4679"/><circle cx="127.8" cy="150.4" r="2.1" fill="#f2844b"/><circle cx="139.1" cy="129.8" r="2.1" fill="#a01a9c"/><circle cx="187.1" cy="75.9" r="2.1" fill="#9713a0"/><circle cx="152.5" cy="116.4" r="2.1" fill="#d5546e"/><circle cx="121.9" cy="143.9" r="2.1" fill="#8507a6"/><circle cx="141.0" cy="118.3" r="2.1" fill="#5d01a5"/><circle cx="191.7" cy="54.0" r="2.1" fill="#c6407e"/><circle cx="106.4" cy="163.3" r="2.1" fill="#f2844b"/><circle cx="202.2" cy="55.8" r="2.1" fill="#e36760"/><circle cx="185.5" cy="76.2" r="2.1" fill="#a31d9a"/><circle cx="189.6" cy="72.9" r="2.1" fill="#b8328a"/><circle cx="207.2" cy="56.9" r="2.1" fill="#e97258"/><circle cx="188.7" cy="82.5" r="2.1" fill="#df6164"/><circle cx="79.4" cy="180.7" r="2.1" fill="#b12a90"/><circle cx="170.7" cy="102.6" r="2.1" fill="#e46a5e"/><circle cx="145.5" cy="123.3" r="2.1" fill="#bf3984"/><circle cx="119.2" cy="146.1" r="2.1" fill="#9612a1"/><circle cx="93.9" cy="172.0" r="2.1" fill="#f2844b"/><circle cx="81.5" cy="176.7" r="2.1" fill="#3b049a"/><circle cx="175.2" cy="81.1" r="2.1" fill="#7b03a8"/><circle cx="205.7" cy="77.2" r="2.1" fill="#da5a69"/><circle cx="212.7" cy="58.5" r="2.1" fill="#eb7655"/><circle cx="83.6" cy="178.5" r="2.1" fill="#ba3488"/><circle cx="91.0" cy="169.1" r="2.1" fill="#3a049a"/><circle cx="204.9" cy="63.9" r="2.1" fill="#e76e5b"/><circle cx="140.1" cy="124.8" r="2.1" fill="#cf4c74"/><circle cx="121.7" cy="143.6" r="2.1" fill="#41049d"/><circle cx="166.2" cy="98.4" r="2.1" fill="#dc5d67"/><circle cx="202.5" cy="72.6" r="2.1" fill="#f2844b"/><circle cx="178.9" cy="86.4" r="2.1" fill="#8406a7"/><circle cx="190.7" cy="56.3" r="2.1" fill="#c6407e"/><circle cx="83.4" cy="177.8" r="2.1" fill="#e36860"/><circle cx="202.7" cy="70.4" r="2.1" fill="#e3685f"/><circle cx="116.5" cy="144.6" r="2.1" fill="#4c02a1"/><circle cx="135.4" cy="137.6" r="2.1" fill="#e16462"/><circle cx="97.9" cy="163.2" r="2.1" fill="#8306a7"/><circle cx="211.0" cy="69.3" r="2.1" fill="#db5c68"/><circle cx="208.6" cy="61.9" r="2.1" fill="#e36760"/><circle cx="211.3" cy="72.7" r="2.1" fill="#f2844b"/><circle cx="137.6" cy="119.0" r="2.1" fill="#2f0595"/><circle cx="160.4" cy="107.3" r="2.1" fill="#cf4b75"/><circle cx="187.9" cy="78.5" r="2.1" fill="#9c179e"/><circle cx="166.5" cy="105.4" r="2.1" fill="#df6164"/><circle cx="168.8" cy="88.0" r="2.1" fill="#6600a7"/><circle cx="126.4" cy="135.3" r="2.1" fill="#6e01a8"/><circle cx="187.6" cy="77.2" r="2.1" fill="#c8437c"/><circle cx="164.3" cy="94.8" r="2.1" fill="#900ea4"/><circle cx="205.5" cy="66.2" r="2.1" fill="#d9596a"/><circle cx="181.2" cy="88.2" r="2.1" fill="#c33e80"/><circle cx="158.6" cy="105.1" r="2.1" fill="#8507a6"/><circle cx="105.7" cy="159.6" r="2.1" fill="#c03a83"/><circle cx="76.9" cy="184.4" r="2.1" fill="#f2844b"/><circle cx="157.8" cy="91.9" r="2.1" fill="#5601a4"/><circle cx="164.9" cy="105.0" r="2.1" fill="#bf3984"/><circle cx="184.7" cy="74.2" r="2.1" fill="#a51f98"/><circle cx="222.0" cy="49.3" r="2.1" fill="#f2844b"/><circle cx="142.6" cy="125.7" r="2.1" fill="#df6164"/><circle cx="143.6" cy="133.5" r="2.1" fill="#f2844b"/><circle cx="187.5" cy="74.2" r="2.1" fill="#aa2395"/><circle cx="160.6" cy="94.6" r="2.1" fill="#5801a4"/><circle cx="188.5" cy="69.5" r="2.1" fill="#c23c81"/><circle cx="105.3" cy="156.6" r="2.1" fill="#7101a8"/><circle cx="158.0" cy="118.3" r="2.1" fill="#f2844b"/><circle cx="101.3" cy="164.6" r="2.1" fill="#db5c68"/><circle cx="101.0" cy="164.7" r="2.1" fill="#f2844b"/><circle cx="120.2" cy="147.6" r="2.1" fill="#af2892"/><circle cx="209.4" cy="47.1" r="2.1" fill="#e46a5e"/><circle cx="145.7" cy="117.6" r="2.1" fill="#ae2792"/><circle cx="138.3" cy="138.9" r="2.1" fill="#f2844b"/><circle cx="225.3" cy="45.1" r="2.1" fill="#f2844b"/><circle cx="163.9" cy="95.9" r="2.1" fill="#5f01a6"/><circle cx="211.6" cy="48.9" r="2.1" fill="#e97358"/><circle cx="138.3" cy="123.6" r="2.1" fill="#af2891"/><circle cx="103.0" cy="162.6" r="2.1" fill="#ca457a"/><circle cx="211.1" cy="52.3" r="2.1" fill="#ea7357"/><circle cx="126.3" cy="143.4" r="2.1" fill="#a92296"/><circle cx="139.0" cy="120.0" r="2.1" fill="#a72197"/><circle cx="186.4" cy="79.8" r="2.1" fill="#ae2792"/><circle cx="105.3" cy="161.0" r="2.1" fill="#cb4679"/><circle cx="107.7" cy="160.8" r="2.1" fill="#ea7556"/><circle cx="204.3" cy="73.4" r="2.1" fill="#d8586b"/><circle cx="204.4" cy="75.6" r="2.1" fill="#e8705a"/><circle cx="164.7" cy="91.4" r="2.1" fill="#8406a7"/><circle cx="168.6" cy="105.7" r="2.1" fill="#f2844b"/><circle cx="80.2" cy="179.7" r="2.1" fill="#7e03a8"/><circle cx="174.9" cy="72.0" r="2.1" fill="#7602a8"/><circle cx="150.2" cy="119.9" r="2.1" fill="#b93389"/><circle cx="153.3" cy="109.4" r="2.1" fill="#99159f"/><circle cx="208.7" cy="58.9" r="2.1" fill="#d6556d"/><circle cx="177.8" cy="92.0" r="2.1" fill="#c23c82"/><circle cx="136.3" cy="126.7" r="2.1" fill="#8205a7"/><circle cx="83.0" cy="177.3" r="2.1" fill="#6100a6"/><circle cx="125.8" cy="141.3" r="2.1" fill="#a51f98"/><circle cx="199.7" cy="75.5" r="2.1" fill="#cd4977"/><circle cx="135.2" cy="135.9" r="2.1" fill="#a21c9a"/><circle cx="173.6" cy="95.6" r="2.1" fill="#d14d73"/><circle cx="225.1" cy="56.4" r="2.1" fill="#f2844b"/><circle cx="139.0" cy="136.7" r="2.1" fill="#e66e5b"/><circle cx="139.3" cy="128.3" r="2.1" fill="#98149f"/><circle cx="209.5" cy="64.2" r="2.1" fill="#e97258"/><circle cx="95.6" cy="164.4" r="2.1" fill="#9c179d"/><circle cx="158.1" cy="124.4" r="2.1" fill="#f2844b"/><circle cx="138.8" cy="130.8" r="2.1" fill="#e97258"/><circle cx="96.7" cy="170.2" r="2.1" fill="#f2844b"/><circle cx="113.9" cy="155.3" r="2.1" fill="#de6065"/><circle cx="224.4" cy="55.1" r="2.1" fill="#f2844b"/><circle cx="104.4" cy="158.9" r="2.1" fill="#6f01a8"/><circle cx="98.5" cy="164.5" r="2.1" fill="#d14d73"/><circle cx="109.6" cy="151.6" r="2.1" fill="#8407a7"/><circle cx="109.4" cy="157.3" r="2.1" fill="#7001a8"/><circle cx="181.9" cy="80.2" r="2.1" fill="#bb3587"/><circle cx="199.5" cy="67.7" r="2.1" fill="#bc3687"/><circle cx="111.8" cy="154.2" r="2.1" fill="#d14f72"/><circle cx="118.4" cy="152.6" r="2.1" fill="#c03a83"/><circle cx="106.2" cy="163.1" r="2.1" fill="#f2844b"/><circle cx="226.8" cy="46.0" r="2.1" fill="#f2844b"/><circle cx="208.8" cy="44.4" r="2.1" fill="#e26661"/><circle cx="209.8" cy="63.2" r="2.1" fill="#ed7a53"/><circle cx="177.9" cy="81.5" r="2.1" fill="#8708a6"/><circle cx="130.6" cy="142.4" r="2.1" fill="#db5c68"/><circle cx="189.3" cy="75.6" r="2.1" fill="#bd3785"/><circle cx="182.8" cy="86.5" r="2.1" fill="#c33e80"/><circle cx="163.8" cy="86.9" r="2.1" fill="#6300a7"/><circle cx="150.6" cy="129.1" r="2.1" fill="#f2844b"/><circle cx="207.1" cy="53.8" r="2.1" fill="#de6065"/><circle cx="196.1" cy="68.6" r="2.1" fill="#bd3785"/><circle cx="198.9" cy="59.5" r="2.1" fill="#c23c82"/><circle cx="215.1" cy="66.9" r="2.1" fill="#f2844b"/><circle cx="206.0" cy="63.0" r="2.1" fill="#e16462"/><circle cx="109.1" cy="155.6" r="2.1" fill="#8306a7"/><circle cx="143.3" cy="128.8" r="2.1" fill="#c7417d"/><circle cx="186.1" cy="78.8" r="2.1" fill="#a21c9a"/><circle cx="215.6" cy="70.4" r="2.1" fill="#f2844b"/><circle cx="89.7" cy="175.0" r="2.1" fill="#f1824c"/><circle cx="101.2" cy="160.9" r="2.1" fill="#3e049c"/><circle cx="96.8" cy="160.8" r="2.1" fill="#2f0595"/><circle cx="212.8" cy="63.0" r="2.1" fill="#f2844b"/><circle cx="208.1" cy="56.1" r="2.1" fill="#e66c5c"/><circle cx="138.3" cy="143.5" r="2.1" fill="#f2844b"/><circle cx="119.6" cy="150.1" r="2.1" fill="#bd3786"/><circle cx="178.8" cy="81.7" r="2.1" fill="#8004a7"/><circle cx="77.6" cy="182.9" r="2.1" fill="#b7308b"/><circle cx="149.7" cy="125.1" r="2.1" fill="#f2844b"/><circle cx="181.2" cy="79.8" r="2.1" fill="#a51f98"/><circle cx="114.5" cy="145.5" r="2.1" fill="#380499"/><circle cx="188.7" cy="73.4" r="2.1" fill="#be3885"/><circle cx="174.4" cy="97.6" r="2.1" fill="#e56b5d"/><circle cx="146.4" cy="111.2" r="2.1" fill="#8205a7"/><circle cx="104.0" cy="160.2" r="2.1" fill="#c7417d"/><circle cx="103.0" cy="162.5" r="2.1" fill="#a51f98"/><circle cx="83.9" cy="178.2" r="2.1" fill="#cd4877"/><circle cx="188.2" cy="77.3" r="2.1" fill="#cf4b75"/><circle cx="178.5" cy="82.7" r="2.1" fill="#a62098"/><circle cx="210.6" cy="65.7" r="2.1" fill="#df6164"/><circle cx="131.8" cy="141.4" r="2.1" fill="#cc4778"/><circle cx="208.1" cy="45.2" r="2.1" fill="#ef7e4f"/><circle cx="195.2" cy="91.1" r="2.1" fill="#f2844b"/><circle cx="168.2" cy="76.7" r="2.1" fill="#48039f"/><circle cx="211.2" cy="60.6" r="2.1" fill="#f2844b"/><circle cx="122.5" cy="144.3" r="2.1" fill="#d25071"/><circle cx="89.5" cy="173.2" r="2.1" fill="#b42e8d"/><circle cx="158.3" cy="111.9" r="2.1" fill="#b02991"/><circle cx="176.5" cy="73.6" r="2.1" fill="#7702a8"/><circle cx="223.6" cy="54.0" r="2.1" fill="#f2844b"/><circle cx="149.5" cy="112.7" r="2.1" fill="#a41e99"/><circle cx="117.5" cy="143.1" r="2.1" fill="#5501a4"/><circle cx="226.1" cy="53.6" r="2.1" fill="#f2844b"/><circle cx="152.6" cy="108.8" r="2.1" fill="#8206a7"/><circle cx="95.3" cy="167.4" r="2.1" fill="#7802a8"/><circle cx="186.6" cy="99.2" r="2.1" fill="#f2844b"/><circle cx="180.7" cy="85.2" r="2.1" fill="#ac2594"/><circle cx="209.6" cy="60.0" r="2.1" fill="#ed7a53"/><circle cx="210.4" cy="69.4" r="2.1" fill="#f2844b"/><circle cx="125.8" cy="144.0" r="2.1" fill="#b93289"/><circle cx="205.2" cy="77.1" r="2.1" fill="#f1824d"/><circle cx="198.8" cy="62.0" r="2.1" fill="#cd4877"/><circle cx="203.6" cy="49.5" r="2.1" fill="#ce4a76"/><circle cx="131.1" cy="140.5" r="2.1" fill="#be3885"/><circle cx="154.9" cy="102.0" r="2.1" fill="#7a02a8"/><circle cx="167.8" cy="104.9" r="2.1" fill="#cd4976"/><circle cx="98.9" cy="163.4" r="2.1" fill="#9713a0"/><circle cx="126.0" cy="143.1" r="2.1" fill="#ab2594"/><circle cx="112.6" cy="161.2" r="2.1" fill="#f2844b"/><circle cx="83.1" cy="180.3" r="2.1" fill="#ee7b52"/><circle cx="214.6" cy="72.6" r="2.1" fill="#f2844b"/><circle cx="204.9" cy="57.1" r="2.1" fill="#d8586b"/><circle cx="158.9" cy="118.7" r="2.1" fill="#f2844b"/><circle cx="160.1" cy="123.7" r="2.1" fill="#f2844b"/><circle cx="136.2" cy="131.4" r="2.1" fill="#d14e72"/><circle cx="180.5" cy="85.9" r="2.1" fill="#cf4b75"/><circle cx="194.5" cy="86.7" r="2.1" fill="#f2844b"/><circle cx="143.0" cy="111.2" r="2.1" fill="#5202a3"/><circle cx="139.7" cy="101.8" r="2.1" fill="#2f0595"/><circle cx="170.4" cy="92.0" r="2.1" fill="#9c179e"/><circle cx="208.8" cy="72.4" r="2.1" fill="#f2844b"/><circle cx="206.5" cy="68.8" r="2.1" fill="#f2844b"/><circle cx="149.7" cy="102.9" r="2.1" fill="#5b01a5"/><circle cx="161.0" cy="117.0" r="2.1" fill="#f2844b"/><circle cx="216.7" cy="57.5" r="2.1" fill="#f2844b"/><circle cx="207.0" cy="52.3" r="2.1" fill="#e56b5d"/><circle cx="132.4" cy="136.7" r="2.1" fill="#dc5d67"/><circle cx="215.7" cy="52.8" r="2.1" fill="#f2844b"/><circle cx="127.2" cy="140.6" r="2.1" fill="#c13b82"/><circle cx="110.2" cy="155.6" r="2.1" fill="#a82296"/><circle cx="99.1" cy="166.5" r="2.1" fill="#f2844b"/><circle cx="112.3" cy="154.4" r="2.1" fill="#8608a6"/><circle cx="159.8" cy="119.7" r="2.1" fill="#f2844b"/><circle cx="209.0" cy="70.4" r="2.1" fill="#e26661"/><circle cx="128.5" cy="145.2" r="2.1" fill="#c6407e"/><circle cx="205.7" cy="67.7" r="2.1" fill="#d9596a"/><circle cx="79.3" cy="179.7" r="2.1" fill="#2f0595"/><circle cx="132.9" cy="131.0" r="2.1" fill="#9613a0"/><circle cx="135.3" cy="124.1" r="2.1" fill="#9310a2"/><circle cx="234.5" cy="51.0" r="2.1" fill="#f79342"/><circle cx="198.9" cy="69.4" r="2.1" fill="#bf3984"/><circle cx="195.8" cy="64.3" r="2.1" fill="#d25071"/><circle cx="165.2" cy="94.0" r="2.1" fill="#a41d99"/><circle cx="143.8" cy="135.3" r="2.1" fill="#f2844b"/><circle cx="154.0" cy="118.2" r="2.1" fill="#f07f4e"/><circle cx="205.5" cy="69.0" r="2.1" fill="#e87159"/><circle cx="156.8" cy="106.1" r="2.1" fill="#db5c68"/><circle cx="108.8" cy="156.0" r="2.1" fill="#b02991"/><circle cx="155.6" cy="109.6" r="2.1" fill="#9814a0"/><circle cx="89.0" cy="175.6" r="2.1" fill="#f2844b"/><circle cx="193.0" cy="71.0" r="2.1" fill="#c13b82"/><circle cx="118.2" cy="144.8" r="2.1" fill="#7c03a8"/><circle cx="99.0" cy="168.2" r="2.1" fill="#f2844b"/><circle cx="200.2" cy="85.4" r="2.1" fill="#e16462"/><circle cx="193.2" cy="88.7" r="2.1" fill="#f2844b"/><circle cx="145.9" cy="125.3" r="2.1" fill="#e06263"/><circle cx="130.5" cy="142.6" r="2.1" fill="#e16462"/><circle cx="103.9" cy="161.4" r="2.1" fill="#c8437b"/><circle cx="164.1" cy="114.7" r="2.1" fill="#e56b5d"/><circle cx="133.1" cy="137.5" r="2.1" fill="#e06363"/><circle cx="187.3" cy="81.8" r="2.1" fill="#ee7d50"/><circle cx="168.8" cy="101.1" r="2.1" fill="#db5c68"/><circle cx="130.2" cy="140.5" r="2.1" fill="#dc5d67"/><circle cx="202.0" cy="48.2" r="2.1" fill="#db5c68"/><circle cx="191.6" cy="79.1" r="2.1" fill="#ef7e50"/><circle cx="162.6" cy="105.7" r="2.1" fill="#d7566c"/><circle cx="87.4" cy="172.4" r="2.1" fill="#5501a4"/><circle cx="220.8" cy="67.9" r="2.1" fill="#f2844b"/><circle cx="201.5" cy="73.6" r="2.1" fill="#d35071"/><circle cx="181.2" cy="67.6" r="2.1" fill="#8105a7"/><circle cx="129.0" cy="138.9" r="2.1" fill="#99159f"/><circle cx="148.9" cy="122.7" r="2.1" fill="#d8586b"/><circle cx="212.9" cy="64.8" r="2.1" fill="#df6264"/><circle cx="117.8" cy="150.5" r="2.1" fill="#bb3588"/><circle cx="190.1" cy="66.2" r="2.1" fill="#c23c82"/><circle cx="143.5" cy="123.4" r="2.1" fill="#ca447a"/><circle cx="157.4" cy="95.6" r="2.1" fill="#8809a6"/><circle cx="84.2" cy="177.7" r="2.1" fill="#b7308b"/><circle cx="112.2" cy="150.3" r="2.1" fill="#a21c9a"/><circle cx="172.6" cy="97.0" r="2.1" fill="#e8705a"/><circle cx="148.7" cy="114.6" r="2.1" fill="#7e03a8"/><circle cx="213.1" cy="46.9" r="2.1" fill="#ea7557"/><circle cx="206.2" cy="52.5" r="2.1" fill="#e26561"/><circle cx="187.4" cy="83.7" r="2.1" fill="#d4536f"/><circle cx="222.0" cy="41.8" r="2.1" fill="#f2844b"/><circle cx="147.2" cy="111.8" r="2.1" fill="#8d0ca5"/><circle cx="99.2" cy="169.6" r="2.1" fill="#f2844b"/><circle cx="214.7" cy="59.9" r="2.1" fill="#e26561"/><circle cx="104.2" cy="161.7" r="2.1" fill="#e36760"/><circle cx="170.0" cy="84.0" r="2.1" fill="#7101a8"/><circle cx="138.0" cy="141.2" r="2.1" fill="#f2844b"/><circle cx="106.2" cy="163.0" r="2.1" fill="#e76f5a"/><circle cx="170.7" cy="94.7" r="2.1" fill="#dc5d67"/><circle cx="154.6" cy="110.9" r="2.1" fill="#b42d8d"/><circle cx="211.7" cy="73.6" r="2.1" fill="#f07f4e"/><circle cx="224.1" cy="60.2" r="2.1" fill="#f2844b"/><circle cx="210.6" cy="67.9" r="2.1" fill="#d9596a"/><circle cx="86.8" cy="171.7" r="2.1" fill="#2f0595"/><circle cx="143.3" cy="109.9" r="2.1" fill="#9f199c"/><circle cx="80.4" cy="180.4" r="2.1" fill="#7301a8"/><circle cx="131.2" cy="141.1" r="2.1" fill="#e3685f"/><circle cx="218.5" cy="66.2" r="2.1" fill="#f2844b"/><circle cx="90.8" cy="167.9" r="2.1" fill="#310596"/><circle cx="143.8" cy="132.5" r="2.1" fill="#f2844b"/><circle cx="162.4" cy="91.8" r="2.1" fill="#5102a2"/><circle cx="188.4" cy="79.0" r="2.1" fill="#c8437c"/><circle cx="204.7" cy="61.6" r="2.1" fill="#cb4679"/><circle cx="207.4" cy="57.6" r="2.1" fill="#d25071"/><circle cx="135.4" cy="131.5" r="2.1" fill="#a82296"/><circle cx="189.7" cy="82.3" r="2.1" fill="#e16462"/><circle cx="96.0" cy="167.7" r="2.1" fill="#910ea3"/><circle cx="197.9" cy="71.8" r="2.1" fill="#ed7b52"/><circle cx="143.9" cy="139.6" r="2.1" fill="#f2844b"/><circle cx="78.5" cy="183.7" r="2.1" fill="#f2844b"/><circle cx="87.5" cy="177.0" r="2.1" fill="#f2844b"/><circle cx="180.6" cy="84.2" r="2.1" fill="#cf4b75"/><circle cx="119.9" cy="152.2" r="2.1" fill="#f2844b"/><circle cx="135.2" cy="125.0" r="2.1" fill="#5501a4"/><circle cx="206.6" cy="67.3" r="2.1" fill="#e97258"/><circle cx="98.8" cy="160.2" r="2.1" fill="#2f0595"/><circle cx="142.7" cy="117.3" r="2.1" fill="#cb4679"/><circle cx="197.7" cy="67.8" r="2.1" fill="#bf3984"/><circle cx="123.1" cy="144.1" r="2.1" fill="#a82196"/><circle cx="114.4" cy="149.7" r="2.1" fill="#6300a7"/><circle cx="210.7" cy="72.0" r="2.1" fill="#f2844b"/><circle cx="87.8" cy="172.8" r="2.1" fill="#5c01a5"/><circle cx="188.0" cy="83.0" r="2.1" fill="#d4536f"/><circle cx="212.3" cy="61.3" r="2.1" fill="#e06263"/><circle cx="162.5" cy="84.6" r="2.1" fill="#3c049b"/><circle cx="200.8" cy="61.5" r="2.1" fill="#c43e80"/><circle cx="205.8" cy="51.8" r="2.1" fill="#d7566c"/><circle cx="193.6" cy="74.9" r="2.1" fill="#cd4977"/><circle cx="127.4" cy="147.3" r="2.1" fill="#e36860"/><circle cx="78.2" cy="180.0" r="2.1" fill="#320596"/><circle cx="91.1" cy="171.0" r="2.1" fill="#7001a8"/><circle cx="201.0" cy="53.9" r="2.1" fill="#cd4877"/><circle cx="209.4" cy="53.3" r="2.1" fill="#ee7d50"/><circle cx="108.5" cy="161.7" r="2.1" fill="#f2844b"/><circle cx="191.6" cy="67.5" r="2.1" fill="#c03a83"/><circle cx="98.0" cy="163.8" r="2.1" fill="#6e01a8"/><circle cx="219.5" cy="59.1" r="2.1" fill="#f2844b"/><circle cx="137.0" cy="132.2" r="2.1" fill="#ef7d50"/><circle cx="196.4" cy="61.6" r="2.1" fill="#d24f72"/><circle cx="138.5" cy="137.9" r="2.1" fill="#ec7854"/><circle cx="193.6" cy="87.9" r="2.1" fill="#f2844b"/><circle cx="169.2" cy="86.8" r="2.1" fill="#4a03a0"/><circle cx="185.2" cy="90.9" r="2.1" fill="#f2844b"/><circle cx="97.8" cy="168.0" r="2.1" fill="#f2844b"/><circle cx="176.4" cy="90.5" r="2.1" fill="#ef7d50"/><circle cx="187.7" cy="74.4" r="2.1" fill="#b42d8e"/><circle cx="163.3" cy="95.0" r="2.1" fill="#aa2495"/><circle cx="109.1" cy="152.5" r="2.1" fill="#2f0595"/><circle cx="138.2" cy="138.0" r="2.1" fill="#f2844b"/><circle cx="123.7" cy="139.2" r="2.1" fill="#5b01a5"/><circle cx="174.9" cy="93.0" r="2.1" fill="#e56a5e"/><circle cx="186.2" cy="86.2" r="2.1" fill="#e26661"/><circle cx="213.6" cy="72.1" r="2.1" fill="#f2844b"/><circle cx="161.4" cy="101.8" r="2.1" fill="#c33e80"/><circle cx="178.2" cy="93.2" r="2.1" fill="#dd5f66"/><circle cx="151.8" cy="99.2" r="2.1" fill="#a01a9b"/><circle cx="219.0" cy="61.0" r="2.1" fill="#f2844b"/><circle cx="200.3" cy="66.4" r="2.1" fill="#be3884"/><circle cx="88.7" cy="173.7" r="2.1" fill="#7e03a8"/><circle cx="200.9" cy="54.0" r="2.1" fill="#c53f7e"/><circle cx="176.9" cy="100.3" r="2.1" fill="#f2844b"/><circle cx="198.1" cy="86.4" r="2.1" fill="#f2844b"/><circle cx="116.2" cy="154.6" r="2.1" fill="#f2844b"/><circle cx="144.7" cy="118.9" r="2.1" fill="#cd4976"/><circle cx="202.6" cy="61.4" r="2.1" fill="#d04c74"/><circle cx="200.1" cy="73.1" r="2.1" fill="#d35170"/><circle cx="189.2" cy="83.4" r="2.1" fill="#b32c8e"/><circle cx="183.7" cy="83.0" r="2.1" fill="#d14e72"/><circle cx="79.6" cy="178.9" r="2.1" fill="#3c049b"/><circle cx="133.8" cy="131.0" r="2.1" fill="#8407a7"/><circle cx="79.2" cy="183.0" r="2.1" fill="#e76e5b"/><circle cx="156.9" cy="100.8" r="2.1" fill="#9d189d"/><circle cx="127.9" cy="144.7" r="2.1" fill="#e66d5c"/><circle cx="109.5" cy="157.6" r="2.1" fill="#6900a8"/><circle cx="198.5" cy="76.7" r="2.1" fill="#d04c74"/><circle cx="158.4" cy="90.4" r="2.1" fill="#8407a6"/><circle cx="146.2" cy="130.3" r="2.1" fill="#e36760"/><circle cx="176.3" cy="89.3" r="2.1" fill="#bf3984"/><circle cx="210.2" cy="44.6" r="2.1" fill="#e76e5b"/><circle cx="192.5" cy="78.8" r="2.1" fill="#cf4c74"/><circle cx="158.7" cy="98.9" r="2.1" fill="#900ea3"/><circle cx="148.0" cy="109.6" r="2.1" fill="#a41d99"/><circle cx="129.5" cy="140.1" r="2.1" fill="#c8437b"/><circle cx="85.9" cy="176.6" r="2.1" fill="#ea7556"/><circle cx="144.6" cy="118.9" r="2.1" fill="#ba3488"/><circle cx="208.1" cy="64.6" r="2.1" fill="#d7576c"/><circle cx="189.0" cy="90.8" r="2.1" fill="#f2844b"/><circle cx="148.5" cy="98.5" r="2.1" fill="#5202a3"/><circle cx="112.4" cy="154.4" r="2.1" fill="#890aa5"/><circle cx="164.2" cy="100.6" r="2.1" fill="#af2891"/><circle cx="208.6" cy="60.6" r="2.1" fill="#d5546e"/><circle cx="206.3" cy="57.8" r="2.1" fill="#e46a5e"/><circle cx="129.5" cy="139.3" r="2.1" fill="#8d0ca5"/><circle cx="179.8" cy="85.1" r="2.1" fill="#c9447a"/><circle cx="208.6" cy="73.5" r="2.1" fill="#da5b69"/><circle cx="213.5" cy="62.3" r="2.1" fill="#e3685f"/><circle cx="156.5" cy="110.2" r="2.1" fill="#bc3587"/><circle cx="215.8" cy="55.7" r="2.1" fill="#eb7656"/><circle cx="94.5" cy="169.1" r="2.1" fill="#df6164"/><circle cx="130.9" cy="139.5" r="2.1" fill="#9c179d"/><circle cx="161.7" cy="102.5" r="2.1" fill="#c53f7f"/><circle cx="203.1" cy="81.9" r="2.1" fill="#f2844b"/><circle cx="226.1" cy="48.3" r="2.1" fill="#f2844b"/><circle cx="212.6" cy="62.0" r="2.1" fill="#ea7457"/><circle cx="207.1" cy="71.3" r="2.1" fill="#d35170"/><circle cx="147.2" cy="115.6" r="2.1" fill="#bb3587"/><circle cx="170.1" cy="75.5" r="2.1" fill="#8004a7"/><circle cx="211.3" cy="59.1" r="2.1" fill="#ed7a53"/><circle cx="158.6" cy="104.4" r="2.1" fill="#a31c9a"/><circle cx="99.1" cy="159.7" r="2.1" fill="#310596"/><circle cx="135.1" cy="130.9" r="2.1" fill="#df6164"/><circle cx="208.0" cy="46.4" r="2.1" fill="#ee7c51"/><circle cx="218.7" cy="56.9" r="2.1" fill="#eb7556"/><circle cx="82.8" cy="177.7" r="2.1" fill="#b52e8d"/><circle cx="89.7" cy="175.0" r="2.1" fill="#f2844b"/><circle cx="166.3" cy="85.6" r="2.1" fill="#4d02a1"/><circle cx="207.6" cy="63.0" r="2.1" fill="#db5c68"/><circle cx="143.7" cy="134.4" r="2.1" fill="#f2844b"/><circle cx="171.0" cy="95.1" r="2.1" fill="#ca457a"/><circle cx="170.2" cy="84.6" r="2.1" fill="#6900a8"/><circle cx="175.5" cy="86.9" r="2.1" fill="#c03a83"/><circle cx="103.6" cy="163.1" r="2.1" fill="#cc4778"/><circle cx="215.6" cy="62.3" r="2.1" fill="#f2844b"/><circle cx="204.5" cy="49.9" r="2.1" fill="#ce4a76"/><circle cx="212.1" cy="52.9" r="2.1" fill="#e56b5d"/><circle cx="162.5" cy="100.2" r="2.1" fill="#bb3588"/><circle cx="132.5" cy="139.8" r="2.1" fill="#ec7854"/><circle cx="174.3" cy="84.0" r="2.1" fill="#c23c82"/><circle cx="206.4" cy="85.6" r="2.1" fill="#f2844b"/><circle cx="128.2" cy="129.3" r="2.1" fill="#6300a7"/><circle cx="101.5" cy="163.4" r="2.1" fill="#d4536f"/><circle cx="123.2" cy="148.5" r="2.1" fill="#f2844b"/><circle cx="141.1" cy="113.5" r="2.1" fill="#8a0aa5"/><circle cx="147.1" cy="123.6" r="2.1" fill="#f0804e"/><circle cx="157.3" cy="115.0" r="2.1" fill="#d7566c"/><circle cx="195.1" cy="66.9" r="2.1" fill="#c7427c"/><circle cx="119.9" cy="154.2" r="2.1" fill="#f2844b"/><circle cx="209.6" cy="62.2" r="2.1" fill="#f0814d"/><circle cx="115.0" cy="153.3" r="2.1" fill="#d4526f"/><circle cx="206.5" cy="68.5" r="2.1" fill="#e56b5d"/><circle cx="181.9" cy="89.6" r="2.1" fill="#ce4976"/><circle cx="148.0" cy="121.2" r="2.1" fill="#dc5d67"/><circle cx="169.2" cy="91.2" r="2.1" fill="#7c03a8"/><circle cx="183.5" cy="100.7" r="2.1" fill="#f2844b"/><circle cx="180.8" cy="95.4" r="2.1" fill="#d4526f"/><circle cx="143.2" cy="127.4" r="2.1" fill="#a01a9b"/><circle cx="88.2" cy="173.3" r="2.1" fill="#5701a4"/><circle cx="227.1" cy="59.2" r="2.1" fill="#f2844b"/><circle cx="188.9" cy="83.9" r="2.1" fill="#e16562"/><circle cx="120.5" cy="151.0" r="2.1" fill="#bf3984"/><circle cx="184.6" cy="83.0" r="2.1" fill="#d35170"/><circle cx="205.4" cy="60.9" r="2.1" fill="#dc5d67"/><circle cx="109.8" cy="148.3" r="2.1" fill="#4b03a0"/><circle cx="174.0" cy="85.2" r="2.1" fill="#9b169e"/><circle cx="202.3" cy="71.3" r="2.1" fill="#dd5f66"/><circle cx="226.9" cy="50.9" r="2.1" fill="#f2844b"/><circle cx="174.2" cy="92.3" r="2.1" fill="#be3885"/><circle cx="225.3" cy="49.6" r="2.1" fill="#f2844b"/><circle cx="218.9" cy="58.2" r="2.1" fill="#f2844b"/><circle cx="118.0" cy="152.0" r="2.1" fill="#e26561"/><circle cx="159.2" cy="98.8" r="2.1" fill="#7e03a8"/><circle cx="178.5" cy="91.7" r="2.1" fill="#c43e80"/><circle cx="212.7" cy="60.3" r="2.1" fill="#e26661"/><circle cx="109.9" cy="158.5" r="2.1" fill="#e87159"/><circle cx="167.7" cy="83.6" r="2.1" fill="#7c03a8"/><circle cx="153.2" cy="88.2" r="2.1" fill="#380499"/><circle cx="209.5" cy="52.2" r="2.1" fill="#de6065"/><circle cx="195.8" cy="64.2" r="2.1" fill="#cf4c74"/><circle cx="210.0" cy="70.5" r="2.1" fill="#f2844b"/><circle cx="170.7" cy="68.9" r="2.1" fill="#4e02a1"/><circle cx="140.7" cy="134.3" r="2.1" fill="#f2844b"/><circle cx="160.3" cy="98.7" r="2.1" fill="#330597"/><circle cx="81.8" cy="179.5" r="2.1" fill="#a21c9a"/><circle cx="101.2" cy="160.4" r="2.1" fill="#42049d"/><circle cx="216.4" cy="60.5" r="2.1" fill="#e87159"/><circle cx="130.0" cy="142.7" r="2.1" fill="#f2844b"/><circle cx="147.7" cy="123.7" r="2.1" fill="#f2844b"/><circle cx="170.6" cy="82.5" r="2.1" fill="#a82296"/><circle cx="188.7" cy="85.0" r="2.1" fill="#f2844b"/><circle cx="123.7" cy="141.9" r="2.1" fill="#7e03a8"/><circle cx="177.9" cy="102.2" r="2.1" fill="#f2844b"/><circle cx="113.9" cy="143.1" r="2.1" fill="#2f0595"/><circle cx="208.5" cy="58.7" r="2.1" fill="#e8705a"/><circle cx="123.6" cy="132.9" r="2.1" fill="#2f0595"/><circle cx="186.6" cy="66.1" r="2.1" fill="#99159f"/><circle cx="138.0" cy="127.0" r="2.1" fill="#f2844b"/><circle cx="222.1" cy="59.9" r="2.1" fill="#f2844b"/><circle cx="186.6" cy="87.9" r="2.1" fill="#f2844b"/><circle cx="112.1" cy="158.7" r="2.1" fill="#f2844b"/><circle cx="163.0" cy="87.0" r="2.1" fill="#5901a5"/><circle cx="98.1" cy="165.3" r="2.1" fill="#a82196"/><circle cx="120.6" cy="151.8" r="2.1" fill="#dc5d67"/><circle cx="190.5" cy="76.9" r="2.1" fill="#bc3587"/><circle cx="158.6" cy="101.5" r="2.1" fill="#9a159f"/><circle cx="221.8" cy="46.8" r="2.1" fill="#f2844b"/><circle cx="97.0" cy="163.0" r="2.1" fill="#8608a6"/><circle cx="219.0" cy="58.0" r="2.1" fill="#f2844b"/><circle cx="170.9" cy="85.8" r="2.1" fill="#6600a7"/><circle cx="201.8" cy="72.7" r="2.1" fill="#ec7754"/><circle cx="192.3" cy="70.3" r="2.1" fill="#cc4778"/><circle cx="90.7" cy="170.9" r="2.1" fill="#ae2892"/><circle cx="154.5" cy="116.1" r="2.1" fill="#d8576b"/><circle cx="221.1" cy="70.5" r="2.1" fill="#f2844b"/><circle cx="216.9" cy="49.2" r="2.1" fill="#f1824c"/><circle cx="194.0" cy="87.8" r="2.1" fill="#f2844b"/><circle cx="177.6" cy="82.0" r="2.1" fill="#d35170"/><circle cx="144.3" cy="124.4" r="2.1" fill="#6e01a8"/><circle cx="191.8" cy="82.2" r="2.1" fill="#e56b5d"/><circle cx="182.4" cy="81.3" r="2.1" fill="#b02991"/><circle cx="168.2" cy="100.5" r="2.1" fill="#ed7953"/><circle cx="167.6" cy="104.3" r="2.1" fill="#f2844b"/><circle cx="164.5" cy="111.7" r="2.1" fill="#f2844b"/><circle cx="132.1" cy="140.6" r="2.1" fill="#e16462"/><circle cx="227.0" cy="56.1" r="2.1" fill="#f2844b"/><circle cx="164.1" cy="102.8" r="2.1" fill="#cf4b75"/><circle cx="215.6" cy="63.1" r="2.1" fill="#e8705a"/><circle cx="215.9" cy="51.8" r="2.1" fill="#f2844b"/><circle cx="115.2" cy="156.0" r="2.1" fill="#f2844b"/><circle cx="221.1" cy="47.8" r="2.1" fill="#f2844b"/><circle cx="136.7" cy="135.7" r="2.1" fill="#f2844b"/><circle cx="179.1" cy="79.8" r="2.1" fill="#b52f8c"/><circle cx="215.0" cy="63.2" r="2.1" fill="#e56b5e"/><circle cx="205.9" cy="74.6" r="2.1" fill="#e87159"/><circle cx="180.6" cy="101.2" r="2.1" fill="#f2844b"/><circle cx="168.9" cy="96.2" r="2.1" fill="#7e03a8"/><circle cx="133.6" cy="112.7" r="2.1" fill="#2f0595"/><circle cx="153.0" cy="118.9" r="2.1" fill="#d95a6a"/><circle cx="79.5" cy="177.9" r="2.1" fill="#5501a4"/><circle cx="103.1" cy="163.0" r="2.1" fill="#c13b83"/><circle cx="178.9" cy="98.6" r="2.1" fill="#f2844b"/><circle cx="209.9" cy="62.3" r="2.1" fill="#f1824d"/><circle cx="141.8" cy="120.4" r="2.1" fill="#cb4679"/><circle cx="84.3" cy="180.3" r="2.1" fill="#f2844b"/><circle cx="118.9" cy="149.5" r="2.1" fill="#7d03a8"/><circle cx="148.6" cy="126.3" r="2.1" fill="#f0804e"/><circle cx="143.8" cy="129.4" r="2.1" fill="#d8586b"/><circle cx="105.2" cy="163.3" r="2.1" fill="#f2844b"/><circle cx="210.6" cy="62.4" r="2.1" fill="#e36760"/><circle cx="98.3" cy="168.9" r="2.1" fill="#f2844b"/><circle cx="189.6" cy="65.1" r="2.1" fill="#9d189d"/><circle cx="167.5" cy="100.3" r="2.1" fill="#c7427d"/><circle cx="136.3" cy="116.4" r="2.1" fill="#4d02a1"/><circle cx="138.2" cy="136.3" r="2.1" fill="#f2844b"/><circle cx="182.7" cy="101.4" r="2.1" fill="#f2844b"/><circle cx="131.0" cy="134.2" r="2.1" fill="#b22b8f"/><circle cx="128.9" cy="145.2" r="2.1" fill="#ee7b51"/><circle cx="214.3" cy="48.5" r="2.1" fill="#f2844b"/><circle cx="195.5" cy="77.1" r="2.1" fill="#dc5d67"/><circle cx="127.5" cy="148.2" r="2.1" fill="#ec7854"/><circle cx="200.4" cy="59.8" r="2.1" fill="#d7576c"/><circle cx="180.1" cy="87.0" r="2.1" fill="#d45270"/><circle cx="113.6" cy="152.6" r="2.1" fill="#b12a90"/><circle cx="146.4" cy="106.3" r="2.1" fill="#4e02a1"/><circle cx="199.7" cy="62.5" r="2.1" fill="#c9437b"/><circle cx="141.4" cy="125.9" r="2.1" fill="#b52e8d"/><circle cx="127.1" cy="145.6" r="2.1" fill="#d04d73"/><circle cx="198.6" cy="59.4" r="2.1" fill="#c9447a"/><circle cx="161.7" cy="101.3" r="2.1" fill="#bb3587"/><circle cx="132.2" cy="121.6" r="2.1" fill="#300596"/><circle cx="126.5" cy="144.5" r="2.1" fill="#d5546e"/><circle cx="220.2" cy="72.7" r="2.1" fill="#f2844b"/><circle cx="160.8" cy="116.5" r="2.1" fill="#f2844b"/><circle cx="109.1" cy="150.9" r="2.1" fill="#320596"/><circle cx="81.3" cy="179.5" r="2.1" fill="#8004a7"/><circle cx="98.6" cy="164.5" r="2.1" fill="#b8328a"/><circle cx="185.6" cy="97.0" r="2.1" fill="#f2844b"/><circle cx="195.7" cy="67.4" r="2.1" fill="#cf4c74"/><circle cx="88.7" cy="174.5" r="2.1" fill="#d8586b"/><circle cx="145.8" cy="137.7" r="2.1" fill="#f2844b"/><circle cx="80.9" cy="181.7" r="2.1" fill="#f2844b"/><circle cx="150.4" cy="112.0" r="2.1" fill="#ac2693"/><circle cx="196.3" cy="81.2" r="2.1" fill="#f2844b"/><circle cx="183.1" cy="87.9" r="2.1" fill="#f2844b"/><circle cx="179.3" cy="88.2" r="2.1" fill="#e66d5b"/><circle cx="155.4" cy="90.2" r="2.1" fill="#9310a2"/><circle cx="215.2" cy="62.2" r="2.1" fill="#e76f5b"/><circle cx="201.8" cy="65.1" r="2.1" fill="#d8586b"/><circle cx="181.3" cy="81.4" r="2.1" fill="#8507a6"/><circle cx="174.6" cy="97.4" r="2.1" fill="#f2844b"/><circle cx="204.7" cy="65.1" r="2.1" fill="#e16462"/><circle cx="182.4" cy="68.0" r="2.1" fill="#9512a1"/><circle cx="165.4" cy="98.6" r="2.1" fill="#eb7655"/><circle cx="181.0" cy="97.7" r="2.1" fill="#f2844b"/><circle cx="117.8" cy="151.0" r="2.1" fill="#ca457a"/><circle cx="131.9" cy="138.1" r="2.1" fill="#a82296"/><circle cx="205.5" cy="74.4" r="2.1" fill="#ed7b52"/><circle cx="143.7" cy="124.5" r="2.1" fill="#d5546e"/><circle cx="191.1" cy="73.7" r="2.1" fill="#a72197"/><circle cx="196.2" cy="76.2" r="2.1" fill="#e8705a"/><circle cx="223.2" cy="57.2" r="2.1" fill="#f2844b"/><circle cx="132.8" cy="139.9" r="2.1" fill="#dc5d67"/><circle cx="150.2" cy="116.8" r="2.1" fill="#cb4679"/><circle cx="120.6" cy="148.6" r="2.1" fill="#b22b8f"/><circle cx="152.0" cy="124.1" r="2.1" fill="#f2844b"/><circle cx="146.6" cy="121.5" r="2.1" fill="#d14e72"/><circle cx="188.1" cy="79.1" r="2.1" fill="#b7318a"/><circle cx="153.3" cy="118.4" r="2.1" fill="#f2844b"/><circle cx="195.4" cy="80.9" r="2.1" fill="#dc5d67"/><circle cx="164.4" cy="103.7" r="2.1" fill="#ba3389"/><circle cx="203.1" cy="56.4" r="2.1" fill="#cb4579"/><circle cx="79.3" cy="181.1" r="2.1" fill="#9613a0"/><circle cx="119.8" cy="149.7" r="2.1" fill="#c23c81"/><circle cx="193.9" cy="80.7" r="2.1" fill="#d04c74"/><circle cx="142.0" cy="122.8" r="2.1" fill="#b62f8c"/><circle cx="183.1" cy="79.8" r="2.1" fill="#b93389"/><circle cx="203.8" cy="62.0" r="2.1" fill="#d25071"/><circle cx="198.0" cy="69.6" r="2.1" fill="#cd4976"/><circle cx="150.5" cy="127.6" r="2.1" fill="#f2844b"/><circle cx="209.0" cy="71.5" r="2.1" fill="#f2844b"/><circle cx="91.2" cy="175.9" r="2.1" fill="#f2844b"/><circle cx="95.3" cy="167.8" r="2.1" fill="#8004a7"/><circle cx="213.4" cy="60.2" r="2.1" fill="#ed7953"/><circle cx="166.3" cy="97.3" r="2.1" fill="#c03a83"/><circle cx="132.8" cy="124.9" r="2.1" fill="#8d0ca4"/><circle cx="89.6" cy="173.5" r="2.1" fill="#bf3984"/><circle cx="136.0" cy="135.6" r="2.1" fill="#e87159"/><circle cx="154.1" cy="98.6" r="2.1" fill="#7602a8"/><circle cx="161.8" cy="86.3" r="2.1" fill="#2f0595"/><circle cx="161.6" cy="93.6" r="2.1" fill="#5202a3"/><circle cx="209.5" cy="67.1" r="2.1" fill="#e76e5b"/><circle cx="124.2" cy="139.3" r="2.1" fill="#ae2792"/><circle cx="164.4" cy="91.6" r="2.1" fill="#4a03a0"/><circle cx="148.1" cy="124.6" r="2.1" fill="#f2844b"/><circle cx="128.6" cy="137.2" r="2.1" fill="#8708a6"/><circle cx="137.5" cy="132.0" r="2.1" fill="#ba3389"/><circle cx="221.9" cy="65.2" r="2.1" fill="#f2844b"/><circle cx="204.0" cy="73.6" r="2.1" fill="#f2844b"/><circle cx="182.1" cy="91.0" r="2.1" fill="#d14f72"/><circle cx="193.9" cy="91.1" r="2.1" fill="#f2844b"/><circle cx="140.2" cy="142.8" r="2.1" fill="#f2844b"/><circle cx="167.2" cy="79.1" r="2.1" fill="#41049d"/><circle cx="155.8" cy="112.5" r="2.1" fill="#7802a8"/><circle cx="175.9" cy="99.8" r="2.1" fill="#f2844b"/><circle cx="93.8" cy="169.6" r="2.1" fill="#c7427c"/><circle cx="99.1" cy="164.6" r="2.1" fill="#d35071"/><circle cx="126.1" cy="149.6" r="2.1" fill="#f2844b"/><circle cx="89.0" cy="174.4" r="2.1" fill="#c6417d"/><circle cx="114.4" cy="153.0" r="2.1" fill="#dd5e66"/><circle cx="148.5" cy="116.1" r="2.1" fill="#ac2693"/><circle cx="154.5" cy="110.8" r="2.1" fill="#99159f"/><circle cx="86.5" cy="175.4" r="2.1" fill="#cb4679"/><circle cx="158.4" cy="104.4" r="2.1" fill="#48039f"/><circle cx="126.0" cy="132.1" r="2.1" fill="#a41e99"/><circle cx="149.0" cy="134.2" r="2.1" fill="#f2844b"/><circle cx="109.1" cy="159.7" r="2.1" fill="#f2844b"/><circle cx="214.1" cy="57.1" r="2.1" fill="#f0804e"/><circle cx="149.0" cy="118.4" r="2.1" fill="#dd5f66"/><circle cx="217.5" cy="52.9" r="2.1" fill="#f2844b"/><circle cx="134.0" cy="135.0" r="2.1" fill="#c23d81"/><circle cx="215.8" cy="42.4" r="2.1" fill="#f2844b"/><circle cx="144.7" cy="117.9" r="2.1" fill="#ba3389"/><circle cx="127.9" cy="142.7" r="2.1" fill="#bb3587"/><circle cx="122.7" cy="150.0" r="2.1" fill="#e97358"/><circle cx="165.6" cy="113.7" r="2.1" fill="#f2844b"/><circle cx="100.8" cy="163.3" r="2.1" fill="#a21c9a"/><circle cx="156.1" cy="97.4" r="2.1" fill="#2f0595"/><circle cx="222.4" cy="57.5" r="2.1" fill="#f2844b"/><circle cx="119.9" cy="153.3" r="2.1" fill="#e26661"/><circle cx="133.4" cy="132.9" r="2.1" fill="#c43e80"/><circle cx="178.5" cy="90.8" r="2.1" fill="#f2844b"/><circle cx="121.3" cy="152.5" r="2.1" fill="#f2844b"/><circle cx="163.2" cy="103.6" r="2.1" fill="#ce4976"/><circle cx="100.2" cy="164.8" r="2.1" fill="#d8586b"/><circle cx="144.9" cy="111.2" r="2.1" fill="#40049d"/><circle cx="133.8" cy="141.1" r="2.1" fill="#f2844b"/><circle cx="90.1" cy="174.2" r="2.1" fill="#e66c5c"/><circle cx="195.3" cy="73.9" r="2.1" fill="#d35170"/><circle cx="169.0" cy="98.5" r="2.1" fill="#ed7a52"/><circle cx="132.2" cy="126.7" r="2.1" fill="#7a02a8"/><circle cx="87.3" cy="172.3" r="2.1" fill="#5601a4"/><circle cx="222.7" cy="49.0" r="2.1" fill="#f2844b"/><circle cx="134.7" cy="125.9" r="2.1" fill="#6300a7"/><circle cx="97.3" cy="170.2" r="2.1" fill="#f2844b"/><circle cx="191.6" cy="65.4" r="2.1" fill="#b12a90"/><circle cx="154.5" cy="120.2" r="2.1" fill="#d6556d"/><circle cx="179.3" cy="83.2" r="2.1" fill="#7101a8"/><circle cx="201.6" cy="69.1" r="2.1" fill="#c33d81"/><circle cx="188.6" cy="66.1" r="2.1" fill="#9814a0"/><circle cx="109.0" cy="158.7" r="2.1" fill="#df6264"/><circle cx="154.2" cy="117.4" r="2.1" fill="#f0804e"/><circle cx="129.0" cy="136.1" r="2.1" fill="#8c0ba5"/><circle cx="184.2" cy="84.9" r="2.1" fill="#ca457a"/><circle cx="174.7" cy="80.2" r="2.1" fill="#6c00a8"/><circle cx="188.4" cy="85.9" r="2.1" fill="#d04d73"/><circle cx="201.5" cy="61.4" r="2.1" fill="#da5b69"/><circle cx="205.6" cy="72.7" r="2.1" fill="#e66d5c"/><circle cx="202.2" cy="58.3" r="2.1" fill="#da5b69"/><circle cx="149.7" cy="111.1" r="2.1" fill="#a82196"/><circle cx="130.3" cy="140.0" r="2.1" fill="#af2892"/><circle cx="210.0" cy="61.8" r="2.1" fill="#e4695f"/><circle cx="177.4" cy="100.5" r="2.1" fill="#ed7953"/><circle cx="120.5" cy="145.8" r="2.1" fill="#6f01a8"/><circle cx="187.9" cy="72.8" r="2.1" fill="#b52e8d"/><circle cx="157.3" cy="107.8" r="2.1" fill="#b8318a"/><circle cx="82.4" cy="181.8" r="2.1" fill="#f2844b"/><circle cx="79.6" cy="181.5" r="2.1" fill="#c7417d"/><circle cx="160.5" cy="105.9" r="2.1" fill="#ed7a53"/><circle cx="161.8" cy="94.7" r="2.1" fill="#7602a8"/><circle cx="206.7" cy="52.9" r="2.1" fill="#d8586b"/><circle cx="177.9" cy="79.4" r="2.1" fill="#9310a2"/><circle cx="136.6" cy="143.7" r="2.1" fill="#f2844b"/><circle cx="181.6" cy="99.2" r="2.1" fill="#e4695f"/><circle cx="144.6" cy="119.4" r="2.1" fill="#b8328a"/><circle cx="174.2" cy="87.3" r="2.1" fill="#7e03a8"/><circle cx="168.4" cy="103.8" r="2.1" fill="#d24f72"/><circle cx="166.0" cy="88.1" r="2.1" fill="#6900a8"/><circle cx="93.0" cy="171.8" r="2.1" fill="#c43f7f"/><circle cx="125.7" cy="125.9" r="2.1" fill="#4c02a1"/><circle cx="207.1" cy="58.3" r="2.1" fill="#ea7457"/><circle cx="163.3" cy="97.2" r="2.1" fill="#ab2494"/><circle cx="143.6" cy="110.3" r="2.1" fill="#9613a0"/><circle cx="177.9" cy="62.2" r="2.1" fill="#8105a7"/><circle cx="109.4" cy="158.8" r="2.1" fill="#bb3488"/><circle cx="175.7" cy="83.6" r="2.1" fill="#bc3587"/><circle cx="207.8" cy="60.9" r="2.1" fill="#de5f65"/><circle cx="169.2" cy="100.2" r="2.1" fill="#eb7655"/><circle cx="191.2" cy="86.6" r="2.1" fill="#f2844b"/><circle cx="126.2" cy="137.4" r="2.1" fill="#b32c8f"/><circle cx="191.5" cy="61.2" r="2.1" fill="#b93289"/><circle cx="198.1" cy="78.4" r="2.1" fill="#f2844b"/><circle cx="141.3" cy="118.3" r="2.1" fill="#7c03a8"/><circle cx="100.3" cy="158.2" r="2.1" fill="#4c02a1"/><circle cx="189.3" cy="73.8" r="2.1" fill="#c6407e"/><circle cx="183.6" cy="93.3" r="2.1" fill="#f2844b"/><circle cx="139.6" cy="136.5" r="2.1" fill="#f2844b"/><circle cx="171.8" cy="75.8" r="2.1" fill="#6500a7"/><circle cx="205.4" cy="59.1" r="2.1" fill="#e56b5d"/><circle cx="139.6" cy="126.9" r="2.1" fill="#9713a0"/><circle cx="80.1" cy="182.4" r="2.1" fill="#aa2495"/><circle cx="210.8" cy="63.9" r="2.1" fill="#ee7b52"/><circle cx="212.3" cy="53.7" r="2.1" fill="#f2844b"/><circle cx="107.6" cy="158.2" r="2.1" fill="#d14d73"/><circle cx="192.4" cy="77.9" r="2.1" fill="#d6556d"/><circle cx="151.0" cy="119.9" r="2.1" fill="#f2844b"/><circle cx="181.5" cy="102.6" r="2.1" fill="#f2844b"/><circle cx="102.8" cy="157.3" r="2.1" fill="#2f0595"/><circle cx="136.1" cy="123.9" r="2.1" fill="#6a00a8"/><circle cx="92.9" cy="171.1" r="2.1" fill="#d7566c"/><circle cx="153.1" cy="112.0" r="2.1" fill="#e66d5c"/><circle cx="182.4" cy="84.9" r="2.1" fill="#ae2792"/><circle cx="105.6" cy="160.3" r="2.1" fill="#e06263"/><circle cx="198.1" cy="58.4" r="2.1" fill="#d7576c"/><circle cx="181.8" cy="75.2" r="2.1" fill="#a51e98"/><circle cx="203.4" cy="73.3" r="2.1" fill="#ec7754"/><circle cx="123.1" cy="149.4" r="2.1" fill="#ce4976"/><circle cx="156.5" cy="99.1" r="2.1" fill="#5401a3"/><circle cx="188.1" cy="81.1" r="2.1" fill="#d8586b"/><circle cx="116.6" cy="152.5" r="2.1" fill="#a72197"/><circle cx="162.3" cy="102.7" r="2.1" fill="#8205a7"/><circle cx="152.0" cy="96.2" r="2.1" fill="#8a0aa5"/><circle cx="174.2" cy="71.3" r="2.1" fill="#7402a8"/><circle cx="102.4" cy="161.3" r="2.1" fill="#d5536f"/><circle cx="140.8" cy="129.6" r="2.1" fill="#a72197"/><circle cx="162.1" cy="106.7" r="2.1" fill="#f2844b"/><circle cx="100.6" cy="166.1" r="2.1" fill="#e66c5c"/><circle cx="167.2" cy="104.7" r="2.1" fill="#f2844b"/><circle cx="177.3" cy="96.4" r="2.1" fill="#f2844b"/><circle cx="148.5" cy="92.0" r="2.1" fill="#2f0595"/><circle cx="213.3" cy="64.4" r="2.1" fill="#e76e5b"/><circle cx="144.4" cy="109.1" r="2.1" fill="#9a169f"/><circle cx="164.4" cy="91.9" r="2.1" fill="#a01a9c"/><circle cx="209.3" cy="58.0" r="2.1" fill="#e3685f"/><circle cx="206.2" cy="66.2" r="2.1" fill="#d6556d"/><circle cx="147.8" cy="112.1" r="2.1" fill="#9612a0"/><circle cx="142.5" cy="109.0" r="2.1" fill="#5f01a6"/><circle cx="137.5" cy="122.5" r="2.1" fill="#6e01a8"/><circle cx="197.7" cy="74.6" r="2.1" fill="#dc5d67"/><circle cx="224.7" cy="61.6" r="2.1" fill="#f2844b"/><circle cx="86.3" cy="171.9" r="2.1" fill="#47039f"/><circle cx="222.0" cy="47.9" r="2.1" fill="#f2844b"/><circle cx="179.6" cy="88.3" r="2.1" fill="#c9437b"/><circle cx="77.1" cy="184.2" r="2.1" fill="#ca457a"/><circle cx="115.7" cy="149.7" r="2.1" fill="#6200a6"/><circle cx="218.3" cy="64.4" r="2.1" fill="#ef7e4f"/><circle cx="186.8" cy="84.1" r="2.1" fill="#d7576c"/><circle cx="168.4" cy="78.4" r="2.1" fill="#5002a2"/><circle cx="164.1" cy="106.6" r="2.1" fill="#c7427d"/><circle cx="167.3" cy="100.4" r="2.1" fill="#e06363"/><circle cx="137.5" cy="141.0" r="2.1" fill="#f2844b"/><circle cx="143.8" cy="113.9" r="2.1" fill="#7502a8"/><circle cx="106.4" cy="159.3" r="2.1" fill="#c6407e"/><circle cx="134.7" cy="139.2" r="2.1" fill="#f2844b"/><circle cx="212.0" cy="64.4" r="2.1" fill="#f2844b"/><circle cx="218.2" cy="52.2" r="2.1" fill="#f2844b"/><circle cx="162.2" cy="93.1" r="2.1" fill="#7201a8"/><circle cx="205.7" cy="64.9" r="2.1" fill="#de6065"/><circle cx="163.5" cy="93.2" r="2.1" fill="#7502a8"/><circle cx="142.3" cy="112.6" r="2.1" fill="#5401a3"/><circle cx="181.3" cy="85.8" r="2.1" fill="#cf4b75"/><circle cx="88.1" cy="174.1" r="2.1" fill="#da5b69"/><circle cx="182.7" cy="73.1" r="2.1" fill="#8507a6"/><circle cx="176.4" cy="109.6" r="2.1" fill="#f2844b"/><circle cx="94.5" cy="167.4" r="2.1" fill="#bc3687"/><circle cx="127.7" cy="149.0" r="2.1" fill="#f2844b"/><circle cx="97.6" cy="164.8" r="2.1" fill="#8c0ba5"/><circle cx="107.0" cy="153.7" r="2.1" fill="#350598"/><circle cx="182.5" cy="77.4" r="2.1" fill="#8205a7"/><circle cx="197.6" cy="67.0" r="2.1" fill="#da5a69"/><circle cx="109.5" cy="158.2" r="2.1" fill="#ce4a75"/><circle cx="204.2" cy="54.9" r="2.1" fill="#e26561"/><circle cx="191.0" cy="60.5" r="2.1" fill="#ca457a"/><circle cx="162.5" cy="94.1" r="2.1" fill="#7802a8"/><circle cx="189.5" cy="78.7" r="2.1" fill="#d14e73"/><circle cx="130.5" cy="135.1" r="2.1" fill="#ae2792"/><circle cx="174.5" cy="91.5" r="2.1" fill="#e06363"/><circle cx="124.5" cy="144.8" r="2.1" fill="#c33d81"/><circle cx="212.6" cy="70.3" r="2.1" fill="#ee7c51"/><circle cx="154.2" cy="119.0" r="2.1" fill="#f0814d"/><circle cx="157.9" cy="96.4" r="2.1" fill="#5002a2"/><circle cx="77.5" cy="182.0" r="2.1" fill="#6800a8"/><circle cx="102.2" cy="160.0" r="2.1" fill="#7d03a8"/><circle cx="140.3" cy="126.3" r="2.1" fill="#a21c9a"/><circle cx="156.9" cy="99.6" r="2.1" fill="#ae2792"/><circle cx="189.2" cy="66.1" r="2.1" fill="#9c179d"/><circle cx="170.5" cy="72.4" r="2.1" fill="#5d01a5"/><circle cx="94.0" cy="168.5" r="2.1" fill="#8507a6"/><circle cx="133.4" cy="142.0" r="2.1" fill="#f2844b"/><circle cx="157.7" cy="121.8" r="2.1" fill="#f2844b"/><circle cx="160.7" cy="90.5" r="2.1" fill="#8608a6"/><circle cx="221.1" cy="50.8" r="2.1" fill="#f2844b"/><circle cx="138.6" cy="139.4" r="2.1" fill="#f2844b"/><circle cx="167.2" cy="97.1" r="2.1" fill="#e26660"/><circle cx="100.2" cy="163.1" r="2.1" fill="#9512a1"/><circle cx="205.3" cy="58.7" r="2.1" fill="#dd5f66"/><circle cx="133.9" cy="130.9" r="2.1" fill="#6b00a8"/><circle cx="151.4" cy="117.0" r="2.1" fill="#ed7b52"/><circle cx="188.9" cy="73.8" r="2.1" fill="#ac2593"/><circle cx="199.3" cy="63.3" r="2.1" fill="#d6566d"/><circle cx="135.5" cy="140.7" r="2.1" fill="#f1824c"/><circle cx="134.0" cy="134.9" r="2.1" fill="#ac2593"/><circle cx="182.4" cy="83.6" r="2.1" fill="#e36860"/><circle cx="186.1" cy="104.2" r="2.1" fill="#f2844b"/><circle cx="208.6" cy="67.8" r="2.1" fill="#e06363"/><circle cx="225.6" cy="56.7" r="2.1" fill="#f2844b"/><circle cx="122.3" cy="146.3" r="2.1" fill="#b7308b"/><circle cx="190.0" cy="78.5" r="2.1" fill="#c13b82"/><circle cx="99.2" cy="169.9" r="2.1" fill="#f2844b"/><circle cx="158.9" cy="106.4" r="2.1" fill="#7802a8"/><circle cx="125.0" cy="140.4" r="2.1" fill="#a61f98"/><circle cx="108.9" cy="159.4" r="2.1" fill="#eb7656"/><circle cx="178.2" cy="87.7" r="2.1" fill="#8004a8"/><circle cx="111.5" cy="151.8" r="2.1" fill="#6400a7"/><circle cx="150.0" cy="119.5" r="2.1" fill="#d6556d"/><circle cx="84.7" cy="179.2" r="2.1" fill="#ef7e4f"/><circle cx="79.7" cy="181.3" r="2.1" fill="#ac2594"/><circle cx="151.0" cy="97.5" r="2.1" fill="#2f0595"/><circle cx="208.4" cy="57.0" r="2.1" fill="#e56a5e"/><circle cx="127.3" cy="127.4" r="2.1" fill="#2f0595"/><circle cx="154.1" cy="104.0" r="2.1" fill="#7402a8"/><circle cx="206.6" cy="74.6" r="2.1" fill="#f2844b"/><circle cx="194.6" cy="82.5" r="2.1" fill="#d5536e"/><circle cx="148.6" cy="112.3" r="2.1" fill="#b32c8e"/><circle cx="215.1" cy="65.7" r="2.1" fill="#f0814d"/><circle cx="182.3" cy="92.7" r="2.1" fill="#f0814d"/><circle cx="217.4" cy="74.7" r="2.1" fill="#f2844b"/><circle cx="107.6" cy="156.0" r="2.1" fill="#330597"/><circle cx="159.2" cy="107.7" r="2.1" fill="#f2844b"/><circle cx="150.3" cy="106.7" r="2.1" fill="#8809a6"/><circle cx="191.2" cy="69.3" r="2.1" fill="#c13b82"/><circle cx="187.4" cy="79.2" r="2.1" fill="#bf3984"/><circle cx="177.0" cy="94.1" r="2.1" fill="#de6065"/><circle cx="118.4" cy="148.4" r="2.1" fill="#8a0aa5"/><circle cx="101.5" cy="162.0" r="2.1" fill="#8a0aa5"/><circle cx="187.3" cy="68.9" r="2.1" fill="#bc3686"/><circle cx="172.0" cy="103.7" r="2.1" fill="#f2844b"/><circle cx="131.7" cy="140.3" r="2.1" fill="#cd4877"/><circle cx="162.4" cy="88.1" r="2.1" fill="#5002a2"/><circle cx="79.4" cy="182.9" r="2.1" fill="#ec7953"/><circle cx="162.2" cy="106.9" r="2.1" fill="#f2844b"/><circle cx="195.9" cy="63.6" r="2.1" fill="#be3885"/><circle cx="96.3" cy="163.6" r="2.1" fill="#5701a4"/><circle cx="227.0" cy="53.4" r="2.1" fill="#f2844b"/><circle cx="118.6" cy="150.9" r="2.1" fill="#af2891"/><circle cx="223.4" cy="38.9" r="2.1" fill="#f79143"/><circle cx="82.3" cy="176.8" r="2.1" fill="#330597"/><circle cx="149.2" cy="105.9" r="2.1" fill="#5d01a5"/><circle cx="88.5" cy="171.6" r="2.1" fill="#2f0595"/><circle cx="224.5" cy="57.3" r="2.1" fill="#f2844b"/><circle cx="139.6" cy="115.4" r="2.1" fill="#5102a2"/><circle cx="159.3" cy="110.5" r="2.1" fill="#be3885"/><circle cx="95.8" cy="166.9" r="2.1" fill="#7a02a8"/><circle cx="88.1" cy="175.9" r="2.1" fill="#eb7655"/><circle cx="208.1" cy="52.9" r="2.1" fill="#e46a5e"/><circle cx="194.0" cy="66.6" r="2.1" fill="#ae2792"/><circle cx="148.1" cy="100.6" r="2.1" fill="#2f0595"/><circle cx="208.1" cy="53.8" r="2.1" fill="#d9596a"/><circle cx="193.0" cy="77.0" r="2.1" fill="#df6164"/><circle cx="197.9" cy="74.5" r="2.1" fill="#ce4976"/><circle cx="100.3" cy="165.0" r="2.1" fill="#c8437c"/><circle cx="135.8" cy="135.5" r="2.1" fill="#d5536e"/><circle cx="164.0" cy="93.0" r="2.1" fill="#d5536e"/><circle cx="133.2" cy="119.3" r="2.1" fill="#41049d"/><circle cx="173.9" cy="75.1" r="2.1" fill="#6800a8"/><circle cx="147.0" cy="119.3" r="2.1" fill="#c53f7f"/><circle cx="124.2" cy="149.3" r="2.1" fill="#d14e73"/><circle cx="175.7" cy="77.3" r="2.1" fill="#7502a8"/><circle cx="86.3" cy="176.4" r="2.1" fill="#f2844b"/><circle cx="128.7" cy="133.7" r="2.1" fill="#7902a8"/><circle cx="132.5" cy="130.6" r="2.1" fill="#890aa5"/><circle cx="155.3" cy="111.6" r="2.1" fill="#c6407e"/><circle cx="95.0" cy="168.2" r="2.1" fill="#a82196"/><circle cx="110.4" cy="153.4" r="2.1" fill="#7f03a8"/><circle cx="123.4" cy="146.4" r="2.1" fill="#e06263"/><circle cx="147.4" cy="126.6" r="2.1" fill="#f0804e"/><circle cx="195.6" cy="56.3" r="2.1" fill="#b02991"/><circle cx="229.4" cy="52.0" r="2.1" fill="#fa9c3c"/><circle cx="137.6" cy="134.7" r="2.1" fill="#eb7655"/><circle cx="97.4" cy="160.8" r="2.1" fill="#2f0595"/><circle cx="206.4" cy="53.4" r="2.1" fill="#e56a5e"/><circle cx="91.3" cy="173.3" r="2.1" fill="#ee7c51"/><circle cx="189.7" cy="91.3" r="2.1" fill="#f2844b"/><circle cx="148.9" cy="119.3" r="2.1" fill="#ad2693"/><circle cx="156.4" cy="104.1" r="2.1" fill="#9c179d"/><circle cx="92.6" cy="171.4" r="2.1" fill="#e26561"/><circle cx="171.7" cy="99.1" r="2.1" fill="#f2844b"/><circle cx="147.3" cy="96.9" r="2.1" fill="#2f0595"/><circle cx="79.5" cy="181.9" r="2.1" fill="#ed7b52"/><circle cx="107.6" cy="161.0" r="2.1" fill="#de5f65"/><circle cx="106.4" cy="153.7" r="2.1" fill="#4f02a2"/><circle cx="126.1" cy="136.0" r="2.1" fill="#5901a5"/><circle cx="211.9" cy="50.4" r="2.1" fill="#e87059"/><circle cx="116.3" cy="146.3" r="2.1" fill="#45039e"/><circle cx="184.1" cy="81.6" r="2.1" fill="#a01a9c"/><circle cx="202.1" cy="62.9" r="2.1" fill="#e3685f"/><circle cx="188.9" cy="70.5" r="2.1" fill="#bd3786"/><circle cx="178.3" cy="103.0" r="2.1" fill="#f2844b"/><circle cx="171.8" cy="99.3" r="2.1" fill="#d25071"/><circle cx="234.0" cy="41.9" r="2.1" fill="#fa9f3a"/><circle cx="121.0" cy="153.3" r="2.1" fill="#f2844b"/><circle cx="153.7" cy="110.8" r="2.1" fill="#d4526f"/><circle cx="205.6" cy="51.3" r="2.1" fill="#df6164"/><circle cx="192.4" cy="85.3" r="2.1" fill="#ec7854"/><circle cx="80.3" cy="179.8" r="2.1" fill="#a11b9b"/><circle cx="193.8" cy="84.2" r="2.1" fill="#de6065"/><circle cx="135.3" cy="135.9" r="2.1" fill="#d9596a"/><circle cx="99.1" cy="163.1" r="2.1" fill="#6900a8"/><circle cx="83.7" cy="176.1" r="2.1" fill="#8105a7"/><circle cx="166.5" cy="102.6" r="2.1" fill="#e8705a"/><circle cx="81.2" cy="179.3" r="2.1" fill="#9b169e"/><circle cx="139.2" cy="107.5" r="2.1" fill="#3f049c"/><circle cx="168.9" cy="102.7" r="2.1" fill="#f07f4f"/><circle cx="101.0" cy="164.7" r="2.1" fill="#ef7d50"/><circle cx="79.3" cy="182.1" r="2.1" fill="#f2844b"/><circle cx="202.2" cy="65.0" r="2.1" fill="#d24f72"/><circle cx="132.6" cy="139.6" r="2.1" fill="#f2844b"/><circle cx="182.2" cy="75.8" r="2.1" fill="#a72197"/><circle cx="133.3" cy="135.8" r="2.1" fill="#f2844b"/><circle cx="206.9" cy="77.6" r="2.1" fill="#f2844b"/><circle cx="223.3" cy="46.3" r="2.1" fill="#f2844b"/><circle cx="212.3" cy="62.5" r="2.1" fill="#dc5e67"/><circle cx="77.3" cy="182.4" r="2.1" fill="#6b00a8"/><circle cx="139.8" cy="128.5" r="2.1" fill="#e76f5a"/><circle cx="218.7" cy="58.3" r="2.1" fill="#f2844b"/><circle cx="152.9" cy="97.8" r="2.1" fill="#7201a8"/><circle cx="153.8" cy="111.8" r="2.1" fill="#e76e5b"/><circle cx="169.4" cy="98.8" r="2.1" fill="#eb7755"/><circle cx="186.4" cy="92.6" r="2.1" fill="#f2844b"/><circle cx="105.7" cy="152.0" r="2.1" fill="#3d049b"/><circle cx="110.2" cy="154.2" r="2.1" fill="#a01a9c"/><circle cx="142.0" cy="115.5" r="2.1" fill="#bb3588"/><circle cx="226.4" cy="45.4" r="2.1" fill="#f9973f"/><circle cx="192.5" cy="88.4" r="2.1" fill="#f2844b"/><circle cx="77.9" cy="181.9" r="2.1" fill="#8f0da4"/><circle cx="167.7" cy="96.0" r="2.1" fill="#8e0da4"/><circle cx="209.3" cy="63.2" r="2.1" fill="#e66c5c"/><circle cx="157.9" cy="118.8" r="2.1" fill="#e46a5e"/><circle cx="81.9" cy="179.6" r="2.1" fill="#d9596a"/><circle cx="139.6" cy="132.9" r="2.1" fill="#e56c5d"/><circle cx="143.7" cy="124.0" r="2.1" fill="#ae2792"/><circle cx="145.4" cy="114.3" r="2.1" fill="#9d189d"/><circle cx="160.5" cy="109.9" r="2.1" fill="#ed7a52"/><circle cx="143.2" cy="109.5" r="2.1" fill="#340597"/><circle cx="161.6" cy="104.5" r="2.1" fill="#8f0da4"/><circle cx="111.8" cy="157.4" r="2.1" fill="#e26660"/><circle cx="226.2" cy="63.5" r="2.1" fill="#f2844b"/><circle cx="187.0" cy="83.0" r="2.1" fill="#ce4a76"/><circle cx="153.6" cy="115.8" r="2.1" fill="#d7566c"/><circle cx="125.4" cy="137.8" r="2.1" fill="#910fa3"/><circle cx="220.5" cy="56.7" r="2.1" fill="#f2844b"/><circle cx="153.8" cy="110.8" r="2.1" fill="#b22c8f"/><circle cx="156.6" cy="103.8" r="2.1" fill="#9d189d"/><circle cx="156.3" cy="107.7" r="2.1" fill="#d95a6a"/><circle cx="188.3" cy="71.9" r="2.1" fill="#b12b90"/><circle cx="136.6" cy="128.6" r="2.1" fill="#c03a83"/><circle cx="230.4" cy="37.6" r="2.1" fill="#f79341"/><circle cx="221.1" cy="41.1" r="2.1" fill="#f2844b"/><circle cx="130.9" cy="141.9" r="2.1" fill="#ee7c51"/><circle cx="207.1" cy="70.4" r="2.1" fill="#dd5f66"/><circle cx="191.3" cy="67.1" r="2.1" fill="#b93389"/><circle cx="92.0" cy="170.3" r="2.1" fill="#af2892"/><circle cx="112.5" cy="147.6" r="2.1" fill="#350598"/><circle cx="148.0" cy="126.0" r="2.1" fill="#ef7f4f"/><circle cx="194.8" cy="71.4" r="2.1" fill="#cf4c74"/><circle cx="99.2" cy="161.6" r="2.1" fill="#6d01a8"/><circle cx="81.9" cy="180.3" r="2.1" fill="#c9447b"/><circle cx="135.4" cy="122.1" r="2.1" fill="#7c03a8"/><circle cx="158.9" cy="88.1" r="2.1" fill="#8708a6"/><circle cx="156.7" cy="107.7" r="2.1" fill="#d9596a"/><circle cx="131.4" cy="144.9" r="2.1" fill="#f2844b"/><circle cx="201.0" cy="67.8" r="2.1" fill="#ce4976"/><circle cx="174.5" cy="92.0" r="2.1" fill="#c9447b"/><circle cx="174.2" cy="74.9" r="2.1" fill="#6100a6"/><circle cx="227.1" cy="55.3" r="2.1" fill="#f2844b"/><circle cx="199.2" cy="80.2" r="2.1" fill="#f2844b"/><circle cx="185.5" cy="79.6" r="2.1" fill="#d35170"/><circle cx="206.0" cy="41.7" r="2.1" fill="#d9596a"/><circle cx="178.2" cy="91.2" r="2.1" fill="#e36760"/><circle cx="206.4" cy="60.3" r="2.1" fill="#e8705a"/><circle cx="203.5" cy="56.3" r="2.1" fill="#e36760"/><circle cx="86.9" cy="174.8" r="2.1" fill="#7702a8"/><circle cx="80.6" cy="179.8" r="2.1" fill="#6800a8"/><circle cx="220.1" cy="70.1" r="2.1" fill="#f2844b"/><circle cx="103.8" cy="163.2" r="2.1" fill="#ee7c51"/><circle cx="185.5" cy="77.9" r="2.1" fill="#9512a1"/><circle cx="185.9" cy="71.8" r="2.1" fill="#9d189d"/><circle cx="211.6" cy="55.5" r="2.1" fill="#df6264"/><circle cx="82.8" cy="177.9" r="2.1" fill="#4f02a2"/><circle cx="133.4" cy="142.8" r="2.1" fill="#e66d5c"/><circle cx="212.4" cy="66.1" r="2.1" fill="#e66c5c"/><circle cx="226.5" cy="53.4" r="2.1" fill="#f2844b"/><circle cx="179.7" cy="83.2" r="2.1" fill="#da5b69"/><circle cx="105.8" cy="160.0" r="2.1" fill="#c23c81"/><circle cx="161.3" cy="107.8" r="2.1" fill="#ce4a76"/><circle cx="123.8" cy="145.4" r="2.1" fill="#8105a7"/><circle cx="198.5" cy="64.6" r="2.1" fill="#cc4778"/><circle cx="157.7" cy="123.7" r="2.1" fill="#f2844b"/><circle cx="121.7" cy="141.0" r="2.1" fill="#5b01a5"/><circle cx="103.7" cy="165.4" r="2.1" fill="#f2844b"/><circle cx="122.3" cy="137.9" r="2.1" fill="#3f049c"/><circle cx="140.9" cy="142.1" r="2.1" fill="#f2844b"/><circle cx="227.2" cy="53.0" r="2.1" fill="#f2844b"/><circle cx="137.8" cy="124.6" r="2.1" fill="#7402a8"/><circle cx="165.4" cy="102.2" r="2.1" fill="#e16462"/><circle cx="214.4" cy="46.1" r="2.1" fill="#f2844b"/><circle cx="86.2" cy="176.1" r="2.1" fill="#9f199c"/><circle cx="145.3" cy="121.5" r="2.1" fill="#cc4877"/><circle cx="170.2" cy="88.3" r="2.1" fill="#d04c74"/><circle cx="165.0" cy="107.4" r="2.1" fill="#ec7854"/><circle cx="141.9" cy="128.0" r="2.1" fill="#a31d9a"/><circle cx="85.3" cy="173.6" r="2.1" fill="#2f0595"/><circle cx="163.1" cy="115.5" r="2.1" fill="#f2844b"/><circle cx="152.3" cy="95.7" r="2.1" fill="#9713a0"/><circle cx="189.9" cy="87.3" r="2.1" fill="#f2844b"/><circle cx="117.7" cy="149.4" r="2.1" fill="#6900a8"/><circle cx="129.1" cy="139.7" r="2.1" fill="#8306a7"/><circle cx="133.6" cy="137.5" r="2.1" fill="#ac2693"/><circle cx="204.6" cy="64.9" r="2.1" fill="#e16462"/><circle cx="182.8" cy="90.4" r="2.1" fill="#da5b69"/><circle cx="84.2" cy="177.2" r="2.1" fill="#8105a7"/><circle cx="170.2" cy="100.7" r="2.1" fill="#d8586b"/><circle cx="220.0" cy="44.8" r="2.1" fill="#f2844b"/><circle cx="171.7" cy="107.5" r="2.1" fill="#f2844b"/><circle cx="226.8" cy="45.6" r="2.1" fill="#f2844b"/><circle cx="85.7" cy="176.4" r="2.1" fill="#d5536e"/><circle cx="118.5" cy="151.1" r="2.1" fill="#e87159"/><circle cx="179.9" cy="107.9" r="2.1" fill="#f2844b"/><circle cx="92.2" cy="169.3" r="2.1" fill="#c23c82"/><circle cx="147.6" cy="122.6" r="2.1" fill="#ec7854"/><circle cx="202.9" cy="72.2" r="2.1" fill="#e36760"/><circle cx="212.0" cy="59.6" r="2.1" fill="#f2844b"/><circle cx="103.3" cy="164.9" r="2.1" fill="#f2844b"/><circle cx="191.6" cy="75.2" r="2.1" fill="#b7308b"/><circle cx="216.1" cy="59.7" r="2.1" fill="#ec7854"/><circle cx="82.9" cy="177.4" r="2.1" fill="#8306a7"/><circle cx="127.3" cy="137.6" r="2.1" fill="#9e199d"/><circle cx="208.6" cy="63.9" r="2.1" fill="#e36760"/><circle cx="79.3" cy="181.7" r="2.1" fill="#c9447a"/><circle cx="119.2" cy="151.2" r="2.1" fill="#bc3686"/><circle cx="89.3" cy="171.3" r="2.1" fill="#8c0ba5"/><circle cx="203.1" cy="76.7" r="2.1" fill="#e66c5c"/><circle cx="153.2" cy="105.7" r="2.1" fill="#cd4877"/><circle cx="173.9" cy="101.8" r="2.1" fill="#e06263"/><circle cx="88.3" cy="173.5" r="2.1" fill="#48039f"/><circle cx="148.2" cy="122.2" r="2.1" fill="#f2844b"/><circle cx="167.3" cy="100.9" r="2.1" fill="#c43e7f"/><circle cx="97.4" cy="164.4" r="2.1" fill="#6700a7"/><circle cx="144.8" cy="138.4" r="2.1" fill="#f2844b"/><circle cx="142.4" cy="118.1" r="2.1" fill="#8607a6"/><circle cx="107.7" cy="158.1" r="2.1" fill="#d4536f"/><circle cx="118.1" cy="146.9" r="2.1" fill="#6b00a8"/><circle cx="162.6" cy="103.1" r="2.1" fill="#d8576b"/><circle cx="107.6" cy="161.0" r="2.1" fill="#ed7a52"/><circle cx="78.4" cy="180.5" r="2.1" fill="#5901a5"/><circle cx="129.0" cy="137.3" r="2.1" fill="#330597"/><circle cx="200.4" cy="81.1" r="2.1" fill="#f2844b"/><circle cx="179.6" cy="101.9" r="2.1" fill="#f2844b"/><circle cx="170.4" cy="88.4" r="2.1" fill="#99159f"/><circle cx="217.7" cy="62.7" r="2.1" fill="#f2844b"/><circle cx="217.9" cy="68.6" r="2.1" fill="#e97258"/><circle cx="151.1" cy="110.4" r="2.1" fill="#b22b8f"/><circle cx="91.4" cy="173.0" r="2.1" fill="#e66e5b"/><circle cx="123.5" cy="134.4" r="2.1" fill="#a92395"/><circle cx="167.1" cy="76.6" r="2.1" fill="#7502a8"/><circle cx="208.0" cy="61.2" r="2.1" fill="#de6065"/><circle cx="135.8" cy="132.6" r="2.1" fill="#9d189d"/><circle cx="140.5" cy="125.0" r="2.1" fill="#aa2395"/><circle cx="142.9" cy="112.8" r="2.1" fill="#9713a0"/><circle cx="161.4" cy="97.6" r="2.1" fill="#c13b82"/><circle cx="122.5" cy="142.3" r="2.1" fill="#8d0ca5"/><circle cx="217.3" cy="63.0" r="2.1" fill="#f2844b"/><circle cx="142.1" cy="134.1" r="2.1" fill="#f2834c"/><circle cx="132.8" cy="124.3" r="2.1" fill="#8306a7"/><circle cx="208.6" cy="72.8" r="2.1" fill="#f2844b"/><circle cx="110.8" cy="156.8" r="2.1" fill="#bc3587"/><circle cx="108.0" cy="157.7" r="2.1" fill="#a61f98"/><circle cx="145.1" cy="108.5" r="2.1" fill="#6c00a8"/><circle cx="161.0" cy="103.8" r="2.1" fill="#ea7457"/><circle cx="186.2" cy="80.7" r="2.1" fill="#a31d9a"/><circle cx="188.6" cy="74.6" r="2.1" fill="#aa2495"/><circle cx="82.5" cy="178.4" r="2.1" fill="#d35071"/><circle cx="170.9" cy="95.5" r="2.1" fill="#bb3587"/><circle cx="88.4" cy="174.0" r="2.1" fill="#e97159"/><circle cx="210.0" cy="57.7" r="2.1" fill="#e36760"/><circle cx="158.9" cy="113.4" r="2.1" fill="#e76e5b"/><circle cx="155.8" cy="105.3" r="2.1" fill="#a62098"/><circle cx="202.1" cy="73.8" r="2.1" fill="#f2844b"/><circle cx="106.2" cy="158.1" r="2.1" fill="#af2892"/><circle cx="170.6" cy="91.7" r="2.1" fill="#a82296"/><circle cx="187.5" cy="79.0" r="2.1" fill="#9b169e"/><circle cx="209.1" cy="63.9" r="2.1" fill="#e4695f"/><circle cx="132.5" cy="132.2" r="2.1" fill="#b93389"/><circle cx="208.6" cy="70.1" r="2.1" fill="#d5546e"/><circle cx="178.2" cy="93.3" r="2.1" fill="#e56a5e"/><circle cx="211.5" cy="58.0" r="2.1" fill="#f2844b"/><circle cx="107.2" cy="154.6" r="2.1" fill="#9b169e"/><circle cx="159.6" cy="113.5" r="2.1" fill="#f2844b"/><circle cx="138.2" cy="111.1" r="2.1" fill="#2f0595"/><circle cx="164.0" cy="111.8" r="2.1" fill="#f07f4e"/><circle cx="159.5" cy="110.0" r="2.1" fill="#e26561"/><circle cx="186.4" cy="82.0" r="2.1" fill="#e66e5b"/><circle cx="96.6" cy="168.8" r="2.1" fill="#d9586a"/><circle cx="131.0" cy="138.7" r="2.1" fill="#ad2693"/><circle cx="163.1" cy="100.8" r="2.1" fill="#e16562"/><circle cx="140.2" cy="121.0" r="2.1" fill="#9e199d"/><circle cx="195.0" cy="75.6" r="2.1" fill="#eb7655"/><circle cx="99.5" cy="162.2" r="2.1" fill="#8809a6"/><circle cx="206.5" cy="65.0" r="2.1" fill="#ec7854"/><circle cx="205.5" cy="59.7" r="2.1" fill="#cf4b75"/><circle cx="95.9" cy="168.8" r="2.1" fill="#ee7d51"/><circle cx="138.6" cy="125.9" r="2.1" fill="#b12a90"/><circle cx="96.6" cy="167.2" r="2.1" fill="#a92395"/><circle cx="91.9" cy="171.9" r="2.1" fill="#e56b5d"/><circle cx="133.7" cy="127.0" r="2.1" fill="#3a049a"/><circle cx="165.7" cy="106.7" r="2.1" fill="#be3885"/><circle cx="206.1" cy="62.8" r="2.1" fill="#dd5e66"/><circle cx="189.6" cy="73.4" r="2.1" fill="#be3785"/><circle cx="153.8" cy="93.8" r="2.1" fill="#b22b8f"/><circle cx="102.1" cy="162.0" r="2.1" fill="#ae2792"/><circle cx="172.8" cy="92.3" r="2.1" fill="#cb4679"/><circle cx="133.3" cy="128.7" r="2.1" fill="#9310a2"/><circle cx="143.9" cy="126.0" r="2.1" fill="#e66d5c"/><circle cx="207.6" cy="67.4" r="2.1" fill="#e8705a"/><circle cx="158.9" cy="121.7" r="2.1" fill="#f2844b"/><circle cx="156.1" cy="104.3" r="2.1" fill="#aa2495"/><circle cx="163.3" cy="98.6" r="2.1" fill="#c33e80"/><circle cx="160.4" cy="104.4" r="2.1" fill="#dc5d67"/><circle cx="207.9" cy="67.9" r="2.1" fill="#e36760"/><circle cx="148.9" cy="96.9" r="2.1" fill="#2f0595"/><circle cx="171.9" cy="90.6" r="2.1" fill="#bf3984"/><circle cx="194.8" cy="68.6" r="2.1" fill="#b12b90"/><circle cx="157.7" cy="108.9" r="2.1" fill="#b8328a"/><circle cx="149.1" cy="127.5" r="2.1" fill="#ee7c51"/><circle cx="207.4" cy="70.4" r="2.1" fill="#f2844b"/><circle cx="132.4" cy="139.8" r="2.1" fill="#d7576c"/><circle cx="186.1" cy="55.8" r="2.1" fill="#9b169e"/><circle cx="83.4" cy="177.9" r="2.1" fill="#cd4977"/><circle cx="235.5" cy="46.0" r="2.1" fill="#f9983e"/><circle cx="133.6" cy="133.7" r="2.1" fill="#cf4b75"/><circle cx="157.3" cy="108.1" r="2.1" fill="#8909a5"/><circle cx="195.2" cy="70.6" r="2.1" fill="#e16462"/><circle cx="140.5" cy="125.6" r="2.1" fill="#d14e73"/><circle cx="124.5" cy="144.8" r="2.1" fill="#e66c5c"/><circle cx="190.3" cy="75.6" r="2.1" fill="#e26661"/><circle cx="109.3" cy="157.5" r="2.1" fill="#9310a2"/><circle cx="86.3" cy="174.4" r="2.1" fill="#5901a5"/><circle cx="188.5" cy="82.1" r="2.1" fill="#d9596a"/><circle cx="208.9" cy="61.3" r="2.1" fill="#ed7953"/><circle cx="178.3" cy="88.5" r="2.1" fill="#c13b83"/><circle cx="209.2" cy="72.7" r="2.1" fill="#dd5e66"/><circle cx="130.8" cy="150.7" r="2.1" fill="#f2844b"/><circle cx="85.5" cy="175.2" r="2.1" fill="#bd3686"/><circle cx="143.7" cy="138.5" r="2.1" fill="#f2844b"/><circle cx="80.7" cy="181.4" r="2.1" fill="#f1824d"/><circle cx="187.3" cy="92.6" r="2.1" fill="#f2844b"/><circle cx="108.6" cy="152.5" r="2.1" fill="#910fa3"/><circle cx="90.3" cy="173.0" r="2.1" fill="#da5a69"/><circle cx="166.5" cy="99.7" r="2.1" fill="#d14e72"/><circle cx="148.8" cy="119.7" r="2.1" fill="#ec7755"/><circle cx="174.9" cy="92.0" r="2.1" fill="#ca457a"/><circle cx="184.1" cy="100.6" r="2.1" fill="#f2844b"/><circle cx="103.4" cy="163.6" r="2.1" fill="#e46a5e"/><circle cx="221.5" cy="59.8" r="2.1" fill="#f2844b"/><circle cx="177.3" cy="101.5" r="2.1" fill="#f2844b"/><circle cx="166.3" cy="101.8" r="2.1" fill="#f2844b"/><circle cx="132.8" cy="135.3" r="2.1" fill="#8105a7"/><circle cx="116.1" cy="158.5" r="2.1" fill="#f2844b"/><circle cx="111.3" cy="157.2" r="2.1" fill="#d6556d"/><circle cx="131.4" cy="134.4" r="2.1" fill="#910fa3"/><circle cx="151.9" cy="116.7" r="2.1" fill="#de6065"/><circle cx="204.4" cy="63.9" r="2.1" fill="#e66d5c"/><circle cx="138.3" cy="130.2" r="2.1" fill="#c43f7f"/><circle cx="166.2" cy="91.8" r="2.1" fill="#5a01a5"/><circle cx="142.4" cy="107.8" r="2.1" fill="#2f0595"/><circle cx="142.7" cy="129.8" r="2.1" fill="#ed7953"/><circle cx="202.6" cy="69.8" r="2.1" fill="#ce4a75"/><circle cx="145.8" cy="132.9" r="2.1" fill="#f2844b"/><circle cx="154.6" cy="116.4" r="2.1" fill="#da5a69"/><circle cx="209.6" cy="55.4" r="2.1" fill="#e76f5a"/><circle cx="120.6" cy="150.8" r="2.1" fill="#f2844b"/><circle cx="190.4" cy="92.1" r="2.1" fill="#f2844b"/><circle cx="150.7" cy="108.1" r="2.1" fill="#8608a6"/><circle cx="194.0" cy="75.2" r="2.1" fill="#b7318a"/><circle cx="195.8" cy="85.0" r="2.1" fill="#ef7e4f"/><circle cx="160.9" cy="111.4" r="2.1" fill="#f2844b"/><circle cx="112.0" cy="156.9" r="2.1" fill="#e97358"/><circle cx="126.3" cy="142.4" r="2.1" fill="#9a169e"/><circle cx="155.6" cy="101.0" r="2.1" fill="#8809a6"/><circle cx="219.2" cy="55.3" r="2.1" fill="#f2844b"/><circle cx="192.3" cy="74.2" r="2.1" fill="#b32c8e"/><circle cx="195.7" cy="68.2" r="2.1" fill="#c9447b"/><circle cx="157.0" cy="113.5" r="2.1" fill="#f1824d"/><circle cx="182.7" cy="82.2" r="2.1" fill="#d35170"/><circle cx="172.2" cy="87.3" r="2.1" fill="#9f1a9c"/><circle cx="210.6" cy="50.4" r="2.1" fill="#ef7d50"/><circle cx="158.2" cy="112.2" r="2.1" fill="#e87159"/><circle cx="179.7" cy="87.3" r="2.1" fill="#d7576c"/><circle cx="225.9" cy="56.5" r="2.1" fill="#f2844b"/><circle cx="176.7" cy="82.5" r="2.1" fill="#b8318a"/><circle cx="129.9" cy="136.6" r="2.1" fill="#d4526f"/><circle cx="142.9" cy="120.6" r="2.1" fill="#a51f98"/><circle cx="94.4" cy="168.4" r="2.1" fill="#6001a6"/><circle cx="176.6" cy="79.4" r="2.1" fill="#7802a8"/><circle cx="160.0" cy="112.2" r="2.1" fill="#da5b69"/><circle cx="149.8" cy="130.7" r="2.1" fill="#f2844b"/><circle cx="99.6" cy="161.4" r="2.1" fill="#41049d"/><circle cx="105.1" cy="157.9" r="2.1" fill="#6c00a8"/><circle cx="198.3" cy="75.4" r="2.1" fill="#f2844b"/><circle cx="158.4" cy="108.9" r="2.1" fill="#c7417d"/><circle cx="197.8" cy="68.6" r="2.1" fill="#d8576b"/><circle cx="212.5" cy="61.4" r="2.1" fill="#e97159"/><circle cx="182.2" cy="70.2" r="2.1" fill="#a41e99"/><circle cx="98.2" cy="165.8" r="2.1" fill="#c8437c"/><circle cx="195.9" cy="79.9" r="2.1" fill="#f2844b"/><circle cx="141.5" cy="102.5" r="2.1" fill="#2f0595"/><circle cx="205.2" cy="68.0" r="2.1" fill="#db5b68"/><circle cx="131.6" cy="137.2" r="2.1" fill="#d7566c"/><circle cx="209.1" cy="63.7" r="2.1" fill="#e66d5c"/><circle cx="223.7" cy="43.2" r="2.1" fill="#f2844b"/><circle cx="210.5" cy="63.0" r="2.1" fill="#e56a5e"/><circle cx="180.7" cy="95.3" r="2.1" fill="#f2844b"/><circle cx="137.4" cy="120.6" r="2.1" fill="#6000a6"/><circle cx="82.0" cy="181.4" r="2.1" fill="#f0814d"/><circle cx="146.6" cy="90.2" r="2.1" fill="#2f0595"/><circle cx="194.5" cy="66.2" r="2.1" fill="#b52e8c"/><circle cx="88.6" cy="172.3" r="2.1" fill="#b8318a"/><circle cx="202.3" cy="65.2" r="2.1" fill="#e4695f"/><circle cx="219.0" cy="51.5" r="2.1" fill="#f2844b"/><circle cx="89.8" cy="171.3" r="2.1" fill="#47039f"/><circle cx="155.3" cy="102.1" r="2.1" fill="#6a00a8"/><circle cx="137.0" cy="114.1" r="2.1" fill="#8d0ca5"/><circle cx="216.2" cy="51.4" r="2.1" fill="#f2844b"/><circle cx="166.3" cy="84.3" r="2.1" fill="#5601a4"/><circle cx="193.2" cy="67.1" r="2.1" fill="#c9447b"/><circle cx="152.7" cy="113.7" r="2.1" fill="#d24f72"/><circle cx="132.4" cy="138.1" r="2.1" fill="#c8427c"/><circle cx="185.1" cy="79.9" r="2.1" fill="#8b0ba5"/><circle cx="146.9" cy="124.6" r="2.1" fill="#b42e8d"/><circle cx="147.5" cy="118.6" r="2.1" fill="#6500a7"/><circle cx="143.0" cy="122.9" r="2.1" fill="#bf3884"/><circle cx="93.4" cy="171.1" r="2.1" fill="#d14e72"/><circle cx="103.4" cy="163.4" r="2.1" fill="#d35071"/><circle cx="143.4" cy="121.6" r="2.1" fill="#ae2892"/><circle cx="206.7" cy="66.5" r="2.1" fill="#f2844b"/><circle cx="144.1" cy="103.0" r="2.1" fill="#5002a2"/><circle cx="166.7" cy="101.2" r="2.1" fill="#d14d73"/><circle cx="201.4" cy="55.8" r="2.1" fill="#d8586b"/><circle cx="226.0" cy="57.1" r="2.1" fill="#f2844b"/><circle cx="196.5" cy="54.9" r="2.1" fill="#ca457a"/><circle cx="176.1" cy="87.4" r="2.1" fill="#c03a83"/><circle cx="152.3" cy="115.3" r="2.1" fill="#ba3388"/><circle cx="199.2" cy="84.1" r="2.1" fill="#f2844b"/><circle cx="158.3" cy="91.2" r="2.1" fill="#2f0595"/><circle cx="182.3" cy="91.6" r="2.1" fill="#f2844b"/><circle cx="196.9" cy="66.9" r="2.1" fill="#d35170"/><circle cx="182.7" cy="103.9" r="2.1" fill="#f2844b"/><circle cx="163.3" cy="76.6" r="2.1" fill="#5601a4"/><circle cx="134.4" cy="134.1" r="2.1" fill="#d8586b"/><circle cx="189.3" cy="68.7" r="2.1" fill="#ab2594"/><circle cx="78.5" cy="181.1" r="2.1" fill="#4e02a1"/><circle cx="117.9" cy="146.1" r="2.1" fill="#40049d"/><circle cx="179.7" cy="83.9" r="2.1" fill="#8e0ca4"/><circle cx="225.5" cy="54.0" r="2.1" fill="#f2844b"/><circle cx="178.4" cy="80.3" r="2.1" fill="#8809a6"/><circle cx="81.2" cy="182.2" r="2.1" fill="#f2844b"/><circle cx="126.1" cy="136.5" r="2.1" fill="#8e0ca4"/><circle cx="202.6" cy="75.2" r="2.1" fill="#f2844b"/><circle cx="97.8" cy="166.6" r="2.1" fill="#bf3984"/><circle cx="77.2" cy="183.2" r="2.1" fill="#c23c81"/><circle cx="147.6" cy="110.2" r="2.1" fill="#8c0ba5"/><circle cx="102.7" cy="161.0" r="2.1" fill="#ab2494"/><circle cx="95.4" cy="167.8" r="2.1" fill="#8105a7"/><circle cx="168.0" cy="101.6" r="2.1" fill="#d4536f"/><circle cx="148.6" cy="117.8" r="2.1" fill="#c7427c"/><circle cx="182.6" cy="81.1" r="2.1" fill="#d9596a"/><circle cx="194.7" cy="82.6" r="2.1" fill="#f2844b"/><circle cx="144.8" cy="100.0" r="2.1" fill="#2f0595"/><circle cx="111.1" cy="148.0" r="2.1" fill="#310596"/><circle cx="212.4" cy="53.5" r="2.1" fill="#f2844b"/><circle cx="200.0" cy="63.4" r="2.1" fill="#d9596a"/><circle cx="159.9" cy="96.1" r="2.1" fill="#d7566c"/><circle cx="143.2" cy="100.3" r="2.1" fill="#42049d"/><circle cx="164.3" cy="94.1" r="2.1" fill="#5e01a6"/><circle cx="217.1" cy="54.0" r="2.1" fill="#f2844b"/><circle cx="91.6" cy="170.3" r="2.1" fill="#a82296"/><circle cx="189.1" cy="69.6" r="2.1" fill="#98149f"/><circle cx="175.1" cy="96.5" r="2.1" fill="#ea7457"/><circle cx="168.9" cy="83.0" r="2.1" fill="#5d01a5"/><circle cx="120.0" cy="143.0" r="2.1" fill="#ad2693"/><circle cx="143.4" cy="121.1" r="2.1" fill="#8507a6"/><circle cx="176.5" cy="94.8" r="2.1" fill="#da5a69"/><circle cx="157.6" cy="120.8" r="2.1" fill="#f2844b"/><circle cx="109.9" cy="150.8" r="2.1" fill="#3d049b"/><circle cx="149.3" cy="102.5" r="2.1" fill="#9511a1"/><circle cx="176.9" cy="92.6" r="2.1" fill="#cf4c74"/><circle cx="220.0" cy="60.0" r="2.1" fill="#f2844b"/><circle cx="149.7" cy="124.0" r="2.1" fill="#ef7e4f"/><circle cx="99.7" cy="167.0" r="2.1" fill="#e16362"/><circle cx="92.8" cy="169.2" r="2.1" fill="#7d03a8"/><circle cx="208.4" cy="58.7" r="2.1" fill="#e66d5c"/><circle cx="106.7" cy="160.4" r="2.1" fill="#c23d81"/><circle cx="158.5" cy="96.9" r="2.1" fill="#5801a4"/><circle cx="147.4" cy="115.5" r="2.1" fill="#99159f"/><circle cx="173.9" cy="85.5" r="2.1" fill="#c33d81"/><circle cx="112.3" cy="158.5" r="2.1" fill="#d14e73"/><circle cx="206.7" cy="59.2" r="2.1" fill="#e16462"/><circle cx="189.6" cy="96.4" r="2.1" fill="#f2844b"/><circle cx="174.8" cy="93.9" r="2.1" fill="#c23c81"/><circle cx="195.2" cy="64.5" r="2.1" fill="#b93389"/><circle cx="146.5" cy="132.2" r="2.1" fill="#f2844b"/><circle cx="88.2" cy="175.0" r="2.1" fill="#d14e72"/><circle cx="206.8" cy="40.9" r="2.1" fill="#d14f72"/><circle cx="197.8" cy="63.1" r="2.1" fill="#d9596a"/><circle cx="162.8" cy="93.0" r="2.1" fill="#4c02a1"/><circle cx="104.9" cy="159.9" r="2.1" fill="#b8328a"/><circle cx="143.3" cy="123.2" r="2.1" fill="#d4526f"/><circle cx="207.4" cy="76.9" r="2.1" fill="#f2844b"/><circle cx="175.2" cy="83.3" r="2.1" fill="#8e0ca4"/><circle cx="141.8" cy="130.3" r="2.1" fill="#c33e80"/><circle cx="158.1" cy="95.5" r="2.1" fill="#ae2792"/><circle cx="201.4" cy="73.6" r="2.1" fill="#e06263"/><circle cx="166.3" cy="86.1" r="2.1" fill="#47039f"/><circle cx="124.9" cy="145.8" r="2.1" fill="#d24f72"/><circle cx="224.9" cy="59.9" r="2.1" fill="#f2844b"/><circle cx="175.7" cy="77.3" r="2.1" fill="#8c0ba5"/><circle cx="159.9" cy="102.5" r="2.1" fill="#b93389"/><circle cx="170.2" cy="111.4" r="2.1" fill="#f2844b"/><circle cx="91.1" cy="172.2" r="2.1" fill="#d8586b"/><circle cx="137.0" cy="124.1" r="2.1" fill="#c6417d"/><circle cx="198.8" cy="71.0" r="2.1" fill="#d5546e"/><circle cx="173.7" cy="85.4" r="2.1" fill="#ad2693"/><circle cx="109.6" cy="158.1" r="2.1" fill="#ec7854"/><circle cx="208.5" cy="61.9" r="2.1" fill="#df6164"/><circle cx="104.7" cy="160.2" r="2.1" fill="#bc3587"/><circle cx="206.5" cy="56.3" r="2.1" fill="#da5b69"/><circle cx="164.0" cy="83.0" r="2.1" fill="#40049c"/><circle cx="155.4" cy="110.4" r="2.1" fill="#d8586b"/><circle cx="146.1" cy="117.3" r="2.1" fill="#b8328a"/><circle cx="137.4" cy="119.7" r="2.1" fill="#2f0595"/><circle cx="172.7" cy="81.5" r="2.1" fill="#7f03a8"/><circle cx="104.8" cy="163.7" r="2.1" fill="#e56a5e"/><circle cx="163.5" cy="86.2" r="2.1" fill="#8105a7"/><circle cx="214.7" cy="56.4" r="2.1" fill="#f2844b"/><circle cx="173.4" cy="95.9" r="2.1" fill="#eb7755"/><circle cx="190.6" cy="100.2" r="2.1" fill="#f2844b"/><circle cx="140.6" cy="126.3" r="2.1" fill="#b32c8e"/><circle cx="180.5" cy="85.0" r="2.1" fill="#c8437c"/><circle cx="205.9" cy="57.8" r="2.1" fill="#dc5e67"/><circle cx="132.3" cy="130.9" r="2.1" fill="#9c179e"/><circle cx="177.2" cy="101.6" r="2.1" fill="#f2844b"/><circle cx="182.2" cy="77.8" r="2.1" fill="#ba3488"/><circle cx="180.9" cy="93.2" r="2.1" fill="#d9596a"/><circle cx="212.6" cy="66.7" r="2.1" fill="#f2844b"/><circle cx="87.7" cy="173.7" r="2.1" fill="#6b00a8"/><circle cx="139.8" cy="128.7" r="2.1" fill="#d04d74"/><circle cx="183.5" cy="83.0" r="2.1" fill="#e3685f"/><circle cx="146.4" cy="102.5" r="2.1" fill="#2f0595"/><circle cx="167.3" cy="94.1" r="2.1" fill="#c6417d"/><circle cx="184.2" cy="92.9" r="2.1" fill="#db5c68"/><circle cx="116.9" cy="152.3" r="2.1" fill="#d35170"/><circle cx="177.3" cy="90.3" r="2.1" fill="#d8586b"/><circle cx="186.2" cy="78.9" r="2.1" fill="#8d0ca5"/><circle cx="97.2" cy="164.1" r="2.1" fill="#4c02a1"/><circle cx="145.3" cy="132.0" r="2.1" fill="#ed7b52"/><circle cx="208.8" cy="66.7" r="2.1" fill="#ed7a53"/><circle cx="195.6" cy="85.7" r="2.1" fill="#f2844b"/><circle cx="89.8" cy="172.7" r="2.1" fill="#bf3884"/><circle cx="179.5" cy="88.8" r="2.1" fill="#c43e80"/><circle cx="110.9" cy="150.7" r="2.1" fill="#6b00a8"/><circle cx="162.6" cy="106.5" r="2.1" fill="#ec7854"/><circle cx="208.0" cy="40.5" r="2.1" fill="#ee7c51"/><circle cx="104.7" cy="158.8" r="2.1" fill="#8d0ca5"/><circle cx="136.3" cy="119.5" r="2.1" fill="#5501a4"/><circle cx="167.3" cy="91.2" r="2.1" fill="#7c03a8"/><circle cx="133.0" cy="127.6" r="2.1" fill="#8608a6"/><circle cx="87.0" cy="177.9" r="2.1" fill="#f2844b"/><circle cx="193.9" cy="71.4" r="2.1" fill="#c53f7f"/><circle cx="113.9" cy="155.0" r="2.1" fill="#b8318a"/><circle cx="199.3" cy="73.5" r="2.1" fill="#ed7953"/><circle cx="207.8" cy="69.5" r="2.1" fill="#ee7c51"/><circle cx="126.6" cy="132.3" r="2.1" fill="#41049d"/><circle cx="120.2" cy="145.1" r="2.1" fill="#6900a8"/><circle cx="201.1" cy="77.1" r="2.1" fill="#f2844b"/><circle cx="99.7" cy="165.5" r="2.1" fill="#b8328a"/><circle cx="210.2" cy="58.1" r="2.1" fill="#dd5e66"/><circle cx="157.8" cy="121.2" r="2.1" fill="#f2844b"/><circle cx="137.7" cy="128.1" r="2.1" fill="#310596"/><circle cx="207.7" cy="69.3" r="2.1" fill="#d35171"/><circle cx="191.4" cy="86.2" r="2.1" fill="#ee7d50"/><circle cx="126.2" cy="144.9" r="2.1" fill="#cd4976"/><circle cx="110.8" cy="157.6" r="2.1" fill="#cf4b75"/><circle cx="198.3" cy="60.0" r="2.1" fill="#c9437b"/><circle cx="171.9" cy="100.9" r="2.1" fill="#e97259"/><circle cx="214.9" cy="54.2" r="2.1" fill="#e46a5e"/><circle cx="156.9" cy="107.7" r="2.1" fill="#c23c81"/><circle cx="176.7" cy="108.4" r="2.1" fill="#f2844b"/><circle cx="222.2" cy="55.4" r="2.1" fill="#f2844b"/><circle cx="116.8" cy="151.7" r="2.1" fill="#d24f71"/><circle cx="158.2" cy="97.0" r="2.1" fill="#ba3488"/><circle cx="220.5" cy="51.9" r="2.1" fill="#f2844b"/><circle cx="209.5" cy="70.7" r="2.1" fill="#f2844b"/><circle cx="204.8" cy="68.1" r="2.1" fill="#cb4679"/><circle cx="190.4" cy="69.0" r="2.1" fill="#a51e98"/><circle cx="132.8" cy="122.7" r="2.1" fill="#40049d"/><circle cx="130.2" cy="134.4" r="2.1" fill="#ac2593"/><circle cx="119.3" cy="156.2" r="2.1" fill="#f2844b"/><circle cx="111.5" cy="157.4" r="2.1" fill="#da5a69"/><circle cx="192.0" cy="66.5" r="2.1" fill="#c8437b"/><circle cx="80.3" cy="182.3" r="2.1" fill="#f2844b"/><circle cx="152.1" cy="114.5" r="2.1" fill="#cc4877"/><circle cx="202.7" cy="46.1" r="2.1" fill="#de5f65"/><circle cx="115.7" cy="154.2" r="2.1" fill="#f2844b"/><circle cx="126.0" cy="137.6" r="2.1" fill="#6d00a8"/><circle cx="101.4" cy="168.2" r="2.1" fill="#f2844b"/><circle cx="106.2" cy="152.4" r="2.1" fill="#2f0595"/><circle cx="196.0" cy="80.3" r="2.1" fill="#f2844b"/><circle cx="200.9" cy="84.8" r="2.1" fill="#f1834c"/><circle cx="223.0" cy="53.9" r="2.1" fill="#f2844b"/><circle cx="147.6" cy="122.1" r="2.1" fill="#e06363"/><circle cx="204.1" cy="68.2" r="2.1" fill="#ef7d50"/><circle cx="205.7" cy="69.4" r="2.1" fill="#dd5e66"/><circle cx="152.4" cy="110.4" r="2.1" fill="#b93289"/><circle cx="197.9" cy="79.3" r="2.1" fill="#f2844b"/><circle cx="154.3" cy="111.3" r="2.1" fill="#bc3686"/><circle cx="104.4" cy="164.3" r="2.1" fill="#f2844b"/><circle cx="135.7" cy="140.4" r="2.1" fill="#e87159"/><circle cx="149.1" cy="100.3" r="2.1" fill="#8909a6"/><circle cx="170.7" cy="100.1" r="2.1" fill="#eb7655"/><circle cx="122.9" cy="142.2" r="2.1" fill="#a21c9a"/><circle cx="140.4" cy="124.1" r="2.1" fill="#ca457a"/><circle cx="145.3" cy="94.2" r="2.1" fill="#2f0595"/><circle cx="158.2" cy="93.1" r="2.1" fill="#45039e"/><circle cx="193.4" cy="65.5" r="2.1" fill="#ac2594"/><circle cx="174.6" cy="87.2" r="2.1" fill="#9e199c"/><circle cx="219.9" cy="57.2" r="2.1" fill="#f2844b"/><circle cx="201.2" cy="77.7" r="2.1" fill="#f2844b"/><circle cx="151.9" cy="118.6" r="2.1" fill="#e8705a"/><circle cx="174.3" cy="96.8" r="2.1" fill="#f2844b"/><circle cx="92.3" cy="168.9" r="2.1" fill="#ab2494"/><circle cx="124.3" cy="141.0" r="2.1" fill="#ad2693"/><circle cx="184.9" cy="68.4" r="2.1" fill="#910fa3"/><circle cx="160.1" cy="114.4" r="2.1" fill="#f2844b"/><circle cx="182.3" cy="79.6" r="2.1" fill="#8407a7"/><circle cx="142.5" cy="129.6" r="2.1" fill="#e87159"/><circle cx="90.5" cy="172.9" r="2.1" fill="#db5c68"/><circle cx="102.4" cy="162.2" r="2.1" fill="#ba3488"/><circle cx="98.5" cy="162.2" r="2.1" fill="#6200a6"/><circle cx="95.0" cy="170.6" r="2.1" fill="#ef7d50"/><circle cx="212.3" cy="56.2" r="2.1" fill="#f2844b"/><circle cx="99.6" cy="161.1" r="2.1" fill="#5401a3"/><circle cx="136.9" cy="131.7" r="2.1" fill="#e97358"/><circle cx="209.1" cy="49.2" r="2.1" fill="#e87159"/><circle cx="198.4" cy="80.8" r="2.1" fill="#f2844b"/><circle cx="125.4" cy="144.1" r="2.1" fill="#8608a6"/><circle cx="143.5" cy="140.0" r="2.1" fill="#f2844b"/><circle cx="113.2" cy="147.6" r="2.1" fill="#2f0595"/><circle cx="138.0" cy="125.5" r="2.1" fill="#7b03a8"/><circle cx="212.9" cy="60.3" r="2.1" fill="#eb7656"/><circle cx="158.4" cy="106.4" r="2.1" fill="#aa2395"/><circle cx="194.5" cy="77.5" r="2.1" fill="#e46a5e"/><circle cx="186.8" cy="55.3" r="2.1" fill="#a92395"/><circle cx="107.5" cy="158.8" r="2.1" fill="#aa2495"/><circle cx="138.2" cy="138.3" r="2.1" fill="#e97358"/><circle cx="199.2" cy="56.5" r="2.1" fill="#c23d81"/><circle cx="136.5" cy="119.1" r="2.1" fill="#2f0595"/><circle cx="99.5" cy="163.9" r="2.1" fill="#ca457a"/><circle cx="95.9" cy="167.9" r="2.1" fill="#b22b8f"/><circle cx="84.9" cy="178.0" r="2.1" fill="#f2844b"/><circle cx="177.0" cy="96.7" r="2.1" fill="#f2844b"/><circle cx="135.2" cy="131.7" r="2.1" fill="#9612a1"/><circle cx="194.9" cy="70.3" r="2.1" fill="#c9437b"/><circle cx="226.1" cy="52.8" r="2.1" fill="#f2844b"/><circle cx="209.1" cy="60.9" r="2.1" fill="#dd5e66"/><circle cx="121.7" cy="145.1" r="2.1" fill="#8809a6"/><circle cx="216.9" cy="55.7" r="2.1" fill="#ed7953"/><circle cx="145.3" cy="103.0" r="2.1" fill="#6500a7"/><circle cx="110.3" cy="162.0" r="2.1" fill="#f2844b"/><circle cx="154.2" cy="103.6" r="2.1" fill="#8507a6"/><circle cx="98.1" cy="164.9" r="2.1" fill="#ab2494"/><circle cx="215.7" cy="66.3" r="2.1" fill="#f2844b"/><circle cx="187.2" cy="75.2" r="2.1" fill="#d24f72"/><circle cx="174.7" cy="81.4" r="2.1" fill="#6b00a8"/><circle cx="219.4" cy="53.0" r="2.1" fill="#ed7b52"/><circle cx="152.7" cy="101.2" r="2.1" fill="#3a049a"/><circle cx="110.3" cy="153.3" r="2.1" fill="#bc3687"/><circle cx="148.2" cy="111.1" r="2.1" fill="#a01a9c"/><circle cx="177.4" cy="90.1" r="2.1" fill="#e06263"/><circle cx="208.0" cy="61.7" r="2.1" fill="#d8586b"/><circle cx="120.9" cy="148.6" r="2.1" fill="#c5407e"/><circle cx="167.1" cy="103.3" r="2.1" fill="#cc4778"/><circle cx="174.2" cy="91.5" r="2.1" fill="#d9596a"/><circle cx="199.1" cy="55.8" r="2.1" fill="#c23c81"/><circle cx="102.6" cy="163.9" r="2.1" fill="#f1824c"/><circle cx="130.7" cy="138.2" r="2.1" fill="#b52e8d"/><circle cx="151.3" cy="110.7" r="2.1" fill="#9511a1"/><circle cx="194.4" cy="77.7" r="2.1" fill="#dd5e66"/><circle cx="188.7" cy="74.4" r="2.1" fill="#c33d80"/><circle cx="153.3" cy="113.9" r="2.1" fill="#ac2593"/><circle cx="201.7" cy="67.5" r="2.1" fill="#d24f72"/><circle cx="139.6" cy="122.0" r="2.1" fill="#b8328a"/><circle cx="117.0" cy="146.7" r="2.1" fill="#7d03a8"/><circle cx="150.1" cy="109.6" r="2.1" fill="#ca457a"/><circle cx="153.9" cy="98.3" r="2.1" fill="#7a02a8"/><circle cx="172.1" cy="87.0" r="2.1" fill="#a01a9b"/><circle cx="95.3" cy="168.6" r="2.1" fill="#d5536e"/><circle cx="175.2" cy="83.8" r="2.1" fill="#6100a6"/><circle cx="142.0" cy="124.9" r="2.1" fill="#d35071"/><circle cx="209.1" cy="51.7" r="2.1" fill="#ee7c51"/><circle cx="163.9" cy="93.0" r="2.1" fill="#8507a6"/><circle cx="167.9" cy="79.3" r="2.1" fill="#6b00a8"/><circle cx="118.0" cy="153.6" r="2.1" fill="#db5c68"/><circle cx="207.0" cy="72.4" r="2.1" fill="#f2844b"/><circle cx="185.0" cy="69.1" r="2.1" fill="#9612a1"/><circle cx="192.6" cy="50.7" r="2.1" fill="#af2891"/><circle cx="207.0" cy="70.3" r="2.1" fill="#e76e5b"/><circle cx="112.5" cy="150.1" r="2.1" fill="#c23c81"/><circle cx="105.0" cy="162.0" r="2.1" fill="#df6264"/><circle cx="152.8" cy="112.0" r="2.1" fill="#ac2593"/><circle cx="182.7" cy="94.2" r="2.1" fill="#e06263"/><circle cx="116.3" cy="152.0" r="2.1" fill="#b8318a"/><circle cx="110.0" cy="160.3" r="2.1" fill="#e26760"/><circle cx="152.3" cy="107.7" r="2.1" fill="#6400a7"/><circle cx="163.2" cy="104.8" r="2.1" fill="#db5c68"/><circle cx="220.4" cy="68.5" r="2.1" fill="#f2844b"/><circle cx="156.2" cy="108.5" r="2.1" fill="#b8328a"/><circle cx="155.0" cy="107.5" r="2.1" fill="#9a159f"/><circle cx="171.8" cy="90.3" r="2.1" fill="#c7417d"/><circle cx="185.2" cy="81.5" r="2.1" fill="#9c179e"/><circle cx="91.0" cy="171.1" r="2.1" fill="#8f0da4"/><circle cx="204.6" cy="70.6" r="2.1" fill="#d9586a"/><circle cx="170.2" cy="73.2" r="2.1" fill="#5002a2"/><circle cx="169.1" cy="97.7" r="2.1" fill="#b12a90"/><circle cx="104.2" cy="160.3" r="2.1" fill="#9713a0"/><circle cx="99.3" cy="164.9" r="2.1" fill="#9713a0"/><circle cx="138.4" cy="142.6" r="2.1" fill="#f2844b"/><circle cx="233.0" cy="35.8" r="2.1" fill="#fca536"/><circle cx="116.4" cy="157.2" r="2.1" fill="#f2844b"/><circle cx="195.8" cy="56.9" r="2.1" fill="#b22b8f"/><circle cx="138.8" cy="132.0" r="2.1" fill="#df6164"/><circle cx="136.8" cy="131.7" r="2.1" fill="#d6556d"/><circle cx="217.8" cy="64.5" r="2.1" fill="#f2844b"/><circle cx="194.8" cy="69.5" r="2.1" fill="#b42d8d"/><circle cx="140.4" cy="128.9" r="2.1" fill="#c6407e"/><circle cx="184.4" cy="93.5" r="2.1" fill="#f2844b"/><circle cx="157.4" cy="117.7" r="2.1" fill="#f2844b"/><circle cx="141.2" cy="138.8" r="2.1" fill="#f2844b"/><circle cx="153.6" cy="122.3" r="2.1" fill="#f2844b"/><circle cx="185.7" cy="77.9" r="2.1" fill="#a31d99"/><circle cx="157.4" cy="90.0" r="2.1" fill="#5202a3"/><circle cx="176.6" cy="75.4" r="2.1" fill="#7001a8"/><circle cx="149.8" cy="116.4" r="2.1" fill="#f2844b"/><circle cx="185.5" cy="104.6" r="2.1" fill="#f2844b"/><circle cx="128.4" cy="142.1" r="2.1" fill="#e06263"/><circle cx="180.5" cy="91.0" r="2.1" fill="#eb7655"/><circle cx="151.2" cy="119.9" r="2.1" fill="#f2844b"/><circle cx="175.9" cy="96.2" r="2.1" fill="#d5546e"/><circle cx="163.9" cy="99.6" r="2.1" fill="#8105a7"/><circle cx="154.8" cy="116.1" r="2.1" fill="#ed7953"/><circle cx="157.7" cy="100.3" r="2.1" fill="#910fa3"/><circle cx="218.1" cy="50.9" r="2.1" fill="#f2844b"/><circle cx="186.8" cy="81.6" r="2.1" fill="#d24f71"/><circle cx="205.0" cy="70.0" r="2.1" fill="#d25071"/><circle cx="158.9" cy="123.0" r="2.1" fill="#f2844b"/><circle cx="77.9" cy="182.7" r="2.1" fill="#d9596a"/><circle cx="158.6" cy="118.9" r="2.1" fill="#f2844b"/><circle cx="105.8" cy="158.9" r="2.1" fill="#c7417d"/><circle cx="182.8" cy="82.3" r="2.1" fill="#ad2693"/><circle cx="220.5" cy="57.7" r="2.1" fill="#f2844b"/><circle cx="171.8" cy="97.4" r="2.1" fill="#f2844b"/><circle cx="125.8" cy="135.4" r="2.1" fill="#920fa2"/><circle cx="208.8" cy="64.6" r="2.1" fill="#dd5f66"/><circle cx="113.9" cy="149.0" r="2.1" fill="#a41e99"/><circle cx="191.4" cy="63.5" r="2.1" fill="#af2891"/><circle cx="127.4" cy="145.5" r="2.1" fill="#e97358"/><circle cx="137.4" cy="115.9" r="2.1" fill="#6200a6"/><circle cx="104.7" cy="161.4" r="2.1" fill="#b6308c"/><circle cx="197.5" cy="75.6" r="2.1" fill="#d8586b"/><circle cx="135.9" cy="132.6" r="2.1" fill="#bc3686"/><circle cx="169.6" cy="97.7" r="2.1" fill="#ee7d50"/><circle cx="165.2" cy="100.9" r="2.1" fill="#f0814d"/><circle cx="164.3" cy="102.3" r="2.1" fill="#d14e73"/><circle cx="151.8" cy="110.9" r="2.1" fill="#d24f72"/><circle cx="209.4" cy="56.7" r="2.1" fill="#e97358"/><circle cx="153.1" cy="110.3" r="2.1" fill="#be3885"/><circle cx="147.3" cy="111.8" r="2.1" fill="#bb3488"/><circle cx="168.6" cy="96.7" r="2.1" fill="#db5c68"/><circle cx="200.5" cy="76.3" r="2.1" fill="#f2844b"/><circle cx="170.3" cy="92.8" r="2.1" fill="#cc4878"/><circle cx="86.5" cy="171.5" r="2.1" fill="#41049d"/><circle cx="120.6" cy="150.1" r="2.1" fill="#bd3785"/><circle cx="203.5" cy="63.9" r="2.1" fill="#dc5d67"/><circle cx="181.1" cy="69.7" r="2.1" fill="#aa2395"/><circle cx="210.2" cy="62.9" r="2.1" fill="#e97358"/><circle cx="226.4" cy="57.8" r="2.1" fill="#f2844b"/><circle cx="186.3" cy="78.5" r="2.1" fill="#b93389"/><circle cx="178.9" cy="99.0" r="2.1" fill="#f2844b"/><circle cx="138.2" cy="135.7" r="2.1" fill="#f2844b"/><circle cx="185.0" cy="74.1" r="2.1" fill="#99159f"/><circle cx="159.6" cy="111.3" r="2.1" fill="#d9596a"/><circle cx="213.1" cy="60.9" r="2.1" fill="#e87159"/><circle cx="195.9" cy="63.2" r="2.1" fill="#bd3786"/><circle cx="206.1" cy="72.0" r="2.1" fill="#dd5e66"/><circle cx="176.7" cy="82.2" r="2.1" fill="#d8586b"/><circle cx="110.5" cy="159.2" r="2.1" fill="#f1834c"/><circle cx="85.7" cy="178.0" r="2.1" fill="#f2844b"/><circle cx="205.2" cy="66.5" r="2.1" fill="#d9596a"/><circle cx="155.2" cy="106.5" r="2.1" fill="#cc4778"/><circle cx="92.9" cy="174.7" r="2.1" fill="#f2844b"/><circle cx="135.7" cy="136.3" r="2.1" fill="#d4536f"/><circle cx="166.4" cy="98.9" r="2.1" fill="#bb3588"/><circle cx="211.4" cy="78.1" r="2.1" fill="#f2844b"/><circle cx="127.7" cy="149.2" r="2.1" fill="#f2844b"/><circle cx="155.4" cy="110.9" r="2.1" fill="#a82196"/><circle cx="139.0" cy="105.7" r="2.1" fill="#2f0595"/><circle cx="226.3" cy="65.1" r="2.1" fill="#f2844b"/><circle cx="177.0" cy="88.5" r="2.1" fill="#d4526f"/><circle cx="216.5" cy="54.3" r="2.1" fill="#f2844b"/><circle cx="184.0" cy="85.2" r="2.1" fill="#df6164"/><circle cx="82.4" cy="179.4" r="2.1" fill="#df6264"/><circle cx="105.0" cy="161.0" r="2.1" fill="#a41e99"/><circle cx="162.7" cy="94.4" r="2.1" fill="#6a00a8"/><circle cx="211.1" cy="61.6" r="2.1" fill="#e97358"/><circle cx="142.6" cy="129.1" r="2.1" fill="#de6065"/><circle cx="162.2" cy="102.4" r="2.1" fill="#ce4a75"/><circle cx="193.8" cy="73.7" r="2.1" fill="#ec7754"/><circle cx="214.7" cy="40.7" r="2.1" fill="#f2844b"/><circle cx="204.2" cy="64.5" r="2.1" fill="#cb4679"/><circle cx="123.0" cy="138.1" r="2.1" fill="#3c049b"/><circle cx="192.6" cy="93.9" r="2.1" fill="#f2844b"/><circle cx="109.8" cy="161.3" r="2.1" fill="#f2844b"/><circle cx="136.9" cy="126.5" r="2.1" fill="#ae2792"/><circle cx="192.0" cy="70.4" r="2.1" fill="#ca457a"/><circle cx="203.9" cy="64.7" r="2.1" fill="#d45270"/><circle cx="149.7" cy="116.1" r="2.1" fill="#ce4a76"/><circle cx="156.8" cy="107.5" r="2.1" fill="#d7576c"/><circle cx="132.2" cy="139.6" r="2.1" fill="#de6065"/><circle cx="173.7" cy="93.5" r="2.1" fill="#b32c8e"/><circle cx="209.5" cy="75.7" r="2.1" fill="#ec7755"/><circle cx="89.9" cy="173.1" r="2.1" fill="#c03a83"/><circle cx="131.5" cy="134.9" r="2.1" fill="#d45270"/><circle cx="149.7" cy="106.6" r="2.1" fill="#8c0ba5"/><circle cx="85.1" cy="177.5" r="2.1" fill="#6400a7"/><circle cx="109.4" cy="156.0" r="2.1" fill="#a61f98"/><circle cx="128.2" cy="128.1" r="2.1" fill="#2f0595"/><circle cx="178.2" cy="83.4" r="2.1" fill="#bb3488"/><circle cx="135.0" cy="131.9" r="2.1" fill="#ee7b52"/><circle cx="205.9" cy="75.7" r="2.1" fill="#f2844b"/><circle cx="155.0" cy="106.1" r="2.1" fill="#cf4b75"/><circle cx="161.8" cy="93.3" r="2.1" fill="#aa2495"/><circle cx="92.4" cy="167.7" r="2.1" fill="#6d00a8"/><circle cx="182.3" cy="70.6" r="2.1" fill="#8708a6"/><circle cx="182.3" cy="83.8" r="2.1" fill="#db5c68"/><circle cx="207.8" cy="70.3" r="2.1" fill="#d7566c"/><circle cx="192.8" cy="63.5" r="2.1" fill="#cb4679"/><circle cx="100.6" cy="158.9" r="2.1" fill="#4b03a0"/><circle cx="171.3" cy="99.1" r="2.1" fill="#f2844b"/><circle cx="180.9" cy="85.5" r="2.1" fill="#a41e99"/><circle cx="142.4" cy="104.9" r="2.1" fill="#2f0595"/><circle cx="96.7" cy="170.5" r="2.1" fill="#e97358"/><circle cx="81.4" cy="179.0" r="2.1" fill="#3b049a"/><circle cx="81.3" cy="176.8" r="2.1" fill="#2f0595"/><circle cx="134.9" cy="144.1" r="2.1" fill="#e4695e"/><circle cx="133.8" cy="129.9" r="2.1" fill="#c7427d"/><circle cx="168.7" cy="85.7" r="2.1" fill="#6600a7"/><circle cx="177.2" cy="94.7" r="2.1" fill="#f2844b"/><circle cx="197.2" cy="73.8" r="2.1" fill="#cf4b75"/><circle cx="200.2" cy="60.4" r="2.1" fill="#d7576c"/><circle cx="94.7" cy="165.6" r="2.1" fill="#2f0595"/><circle cx="154.1" cy="93.7" r="2.1" fill="#7602a8"/><circle cx="130.9" cy="140.8" r="2.1" fill="#e76e5b"/><circle cx="207.7" cy="72.2" r="2.1" fill="#ec7854"/><circle cx="208.5" cy="66.4" r="2.1" fill="#e36760"/><circle cx="103.3" cy="166.7" r="2.1" fill="#f2844b"/><circle cx="127.0" cy="136.9" r="2.1" fill="#f1824d"/><circle cx="118.9" cy="152.6" r="2.1" fill="#f2844b"/><circle cx="159.3" cy="87.1" r="2.1" fill="#340597"/><circle cx="211.6" cy="53.7" r="2.1" fill="#e26660"/><circle cx="123.7" cy="142.1" r="2.1" fill="#7001a8"/><circle cx="205.0" cy="61.1" r="2.1" fill="#d5546e"/><circle cx="157.8" cy="111.4" r="2.1" fill="#bd3686"/><circle cx="178.6" cy="81.8" r="2.1" fill="#bb3587"/><circle cx="184.1" cy="85.1" r="2.1" fill="#da5b69"/><circle cx="153.1" cy="111.6" r="2.1" fill="#99159f"/><circle cx="120.6" cy="151.3" r="2.1" fill="#f0804e"/><circle cx="189.7" cy="77.8" r="2.1" fill="#da5a69"/><circle cx="190.7" cy="85.5" r="2.1" fill="#f2844b"/><circle cx="221.7" cy="56.6" r="2.1" fill="#f2844b"/><circle cx="124.8" cy="141.2" r="2.1" fill="#7d03a8"/><circle cx="130.1" cy="134.1" r="2.1" fill="#9814a0"/><circle cx="200.1" cy="87.9" r="2.1" fill="#f2844b"/><circle cx="127.6" cy="147.6" r="2.1" fill="#e76e5b"/><circle cx="201.9" cy="80.1" r="2.1" fill="#f2844b"/><circle cx="196.0" cy="94.8" r="2.1" fill="#f2844b"/><circle cx="204.0" cy="61.5" r="2.1" fill="#ce4a75"/><circle cx="220.7" cy="65.3" r="2.1" fill="#f1824d"/><circle cx="195.4" cy="60.1" r="2.1" fill="#c7427d"/><circle cx="185.5" cy="91.9" r="2.1" fill="#c7417d"/><circle cx="118.9" cy="150.2" r="2.1" fill="#c9447b"/><circle cx="185.6" cy="76.3" r="2.1" fill="#9713a0"/><circle cx="153.5" cy="95.3" r="2.1" fill="#5002a2"/><circle cx="150.4" cy="116.6" r="2.1" fill="#a11b9b"/><circle cx="211.9" cy="41.8" r="2.1" fill="#f2844b"/><circle cx="155.1" cy="116.6" r="2.1" fill="#ea7357"/><circle cx="209.8" cy="58.7" r="2.1" fill="#eb7755"/><circle cx="117.8" cy="144.5" r="2.1" fill="#900da4"/><circle cx="188.2" cy="67.4" r="2.1" fill="#9c179e"/><circle cx="90.3" cy="170.4" r="2.1" fill="#6700a7"/><circle cx="197.2" cy="66.9" r="2.1" fill="#c5407e"/><circle cx="109.6" cy="159.0" r="2.1" fill="#f2844b"/><circle cx="221.5" cy="56.2" r="2.1" fill="#ef7e50"/><circle cx="196.0" cy="84.2" r="2.1" fill="#f2844b"/><circle cx="87.5" cy="174.7" r="2.1" fill="#a01a9b"/><circle cx="136.2" cy="146.1" r="2.1" fill="#f2844b"/><circle cx="185.4" cy="89.5" r="2.1" fill="#e06363"/><circle cx="131.3" cy="127.1" r="2.1" fill="#40049c"/><circle cx="161.9" cy="98.9" r="2.1" fill="#9714a0"/><circle cx="218.0" cy="60.9" r="2.1" fill="#f2844b"/><circle cx="188.1" cy="61.7" r="2.1" fill="#b12a90"/><circle cx="160.5" cy="99.6" r="2.1" fill="#a31d99"/><circle cx="84.8" cy="178.3" r="2.1" fill="#e66e5b"/><circle cx="152.1" cy="117.9" r="2.1" fill="#d35170"/><circle cx="202.6" cy="86.8" r="2.1" fill="#f2844b"/><circle cx="166.0" cy="94.5" r="2.1" fill="#a82296"/><circle cx="165.0" cy="101.8" r="2.1" fill="#eb7655"/><circle cx="178.4" cy="78.9" r="2.1" fill="#7402a8"/><circle cx="220.4" cy="56.1" r="2.1" fill="#f2844b"/><circle cx="118.6" cy="151.0" r="2.1" fill="#aa2395"/><circle cx="184.7" cy="70.2" r="2.1" fill="#b6308c"/><circle cx="174.5" cy="89.7" r="2.1" fill="#c7417d"/><circle cx="149.9" cy="108.6" r="2.1" fill="#cc4778"/><circle cx="176.2" cy="92.6" r="2.1" fill="#c33e80"/><circle cx="160.1" cy="100.2" r="2.1" fill="#b32c8e"/><circle cx="163.7" cy="92.0" r="2.1" fill="#320597"/><circle cx="94.5" cy="166.7" r="2.1" fill="#4b03a0"/><circle cx="120.6" cy="146.2" r="2.1" fill="#7802a8"/><circle cx="142.9" cy="123.8" r="2.1" fill="#d04c74"/><circle cx="120.1" cy="149.5" r="2.1" fill="#c5407e"/><circle cx="157.4" cy="109.3" r="2.1" fill="#ea7457"/><circle cx="205.8" cy="64.9" r="2.1" fill="#e66c5c"/><circle cx="181.2" cy="79.6" r="2.1" fill="#8c0ba5"/><circle cx="214.0" cy="41.5" r="2.1" fill="#e4695e"/><circle cx="193.8" cy="76.0" r="2.1" fill="#ac2594"/><circle cx="147.1" cy="117.1" r="2.1" fill="#b52e8d"/><circle cx="182.6" cy="100.7" r="2.1" fill="#f2844b"/><circle cx="209.0" cy="63.0" r="2.1" fill="#e76f5b"/><circle cx="135.4" cy="132.5" r="2.1" fill="#8407a6"/><circle cx="209.4" cy="67.1" r="2.1" fill="#ea7556"/><circle cx="206.1" cy="59.3" r="2.1" fill="#ea7457"/><circle cx="190.0" cy="86.8" r="2.1" fill="#f2844b"/><circle cx="159.6" cy="108.3" r="2.1" fill="#f2844b"/><circle cx="97.0" cy="168.6" r="2.1" fill="#ba3389"/><circle cx="136.5" cy="134.1" r="2.1" fill="#f2844b"/><circle cx="173.5" cy="83.9" r="2.1" fill="#7602a8"/><circle cx="101.6" cy="162.7" r="2.1" fill="#900da4"/><circle cx="129.0" cy="149.6" r="2.1" fill="#f2844b"/><circle cx="130.0" cy="138.0" r="2.1" fill="#8d0ca4"/><circle cx="207.4" cy="84.6" r="2.1" fill="#f2844b"/><circle cx="92.5" cy="172.7" r="2.1" fill="#f2844b"/><circle cx="146.7" cy="120.3" r="2.1" fill="#e26561"/><circle cx="164.7" cy="81.8" r="2.1" fill="#350598"/><circle cx="117.9" cy="148.4" r="2.1" fill="#a11b9b"/><circle cx="194.9" cy="68.6" r="2.1" fill="#ba3488"/><circle cx="205.4" cy="52.5" r="2.1" fill="#d7566c"/><circle cx="166.2" cy="92.9" r="2.1" fill="#d24f72"/><circle cx="144.6" cy="116.7" r="2.1" fill="#6d00a8"/><circle cx="225.6" cy="56.6" r="2.1" fill="#f2844b"/><circle cx="137.2" cy="111.5" r="2.1" fill="#44049e"/><circle cx="212.7" cy="62.6" r="2.1" fill="#f2844b"/><circle cx="76.8" cy="184.0" r="2.1" fill="#bc3687"/><circle cx="210.2" cy="67.8" r="2.1" fill="#ed7a53"/><circle cx="164.1" cy="114.6" r="2.1" fill="#f0814d"/><circle cx="113.8" cy="153.1" r="2.1" fill="#bf3984"/><circle cx="217.4" cy="43.6" r="2.1" fill="#ec7854"/><circle cx="114.0" cy="158.2" r="2.1" fill="#ee7c51"/><circle cx="147.8" cy="122.1" r="2.1" fill="#cb4679"/><circle cx="143.5" cy="122.7" r="2.1" fill="#c6407e"/><circle cx="205.3" cy="77.0" r="2.1" fill="#ef7f4f"/><circle cx="84.4" cy="178.0" r="2.1" fill="#d04d73"/><circle cx="226.9" cy="43.4" r="2.1" fill="#f2844b"/><circle cx="155.4" cy="111.4" r="2.1" fill="#b93389"/><circle cx="185.0" cy="80.9" r="2.1" fill="#cf4b75"/><circle cx="153.2" cy="112.9" r="2.1" fill="#d04d73"/><circle cx="159.7" cy="106.1" r="2.1" fill="#b32c8f"/><circle cx="124.8" cy="145.6" r="2.1" fill="#ee7b51"/><circle cx="211.6" cy="69.8" r="2.1" fill="#f0804e"/><circle cx="183.4" cy="99.1" r="2.1" fill="#f2844b"/><circle cx="102.0" cy="163.7" r="2.1" fill="#f2844b"/><circle cx="175.8" cy="85.9" r="2.1" fill="#a92296"/><circle cx="186.9" cy="70.9" r="2.1" fill="#c7417d"/><circle cx="205.9" cy="55.4" r="2.1" fill="#d14e72"/><circle cx="214.2" cy="66.0" r="2.1" fill="#ea7556"/><circle cx="134.9" cy="133.8" r="2.1" fill="#bd3785"/><circle cx="149.5" cy="118.9" r="2.1" fill="#e26760"/><circle cx="195.5" cy="60.4" r="2.1" fill="#d24f71"/><circle cx="197.4" cy="66.0" r="2.1" fill="#d7566c"/><circle cx="146.7" cy="126.4" r="2.1" fill="#f2844b"/><circle cx="184.1" cy="75.0" r="2.1" fill="#b12a90"/><circle cx="150.9" cy="112.8" r="2.1" fill="#a72197"/><circle cx="217.8" cy="50.7" r="2.1" fill="#e87159"/><circle cx="146.8" cy="134.3" r="2.1" fill="#f2844b"/><circle cx="217.2" cy="71.7" r="2.1" fill="#f2844b"/><circle cx="187.3" cy="86.7" r="2.1" fill="#e97358"/><circle cx="134.2" cy="138.5" r="2.1" fill="#b8328a"/><circle cx="181.8" cy="89.1" r="2.1" fill="#d8586b"/><circle cx="208.9" cy="80.4" r="2.1" fill="#f2844b"/><circle cx="84.4" cy="174.5" r="2.1" fill="#900da4"/><circle cx="118.5" cy="151.5" r="2.1" fill="#ef7e50"/><circle cx="86.5" cy="176.1" r="2.1" fill="#e16462"/><circle cx="137.1" cy="139.5" r="2.1" fill="#f2844b"/><circle cx="186.9" cy="89.7" r="2.1" fill="#f1824d"/><circle cx="142.1" cy="97.6" r="2.1" fill="#320596"/><circle cx="189.4" cy="78.2" r="2.1" fill="#ae2792"/><circle cx="203.4" cy="66.9" r="2.1" fill="#e76f5b"/><circle cx="138.4" cy="131.3" r="2.1" fill="#de5f65"/><circle cx="164.6" cy="74.6" r="2.1" fill="#3b049a"/><circle cx="180.7" cy="90.5" r="2.1" fill="#f2844b"/><circle cx="191.1" cy="79.5" r="2.1" fill="#d6556d"/><circle cx="97.3" cy="167.9" r="2.1" fill="#eb7556"/><circle cx="116.1" cy="147.1" r="2.1" fill="#2f0595"/><circle cx="98.7" cy="166.0" r="2.1" fill="#cd4976"/><circle cx="93.9" cy="167.1" r="2.1" fill="#7301a8"/><circle cx="123.9" cy="141.5" r="2.1" fill="#3e049c"/><circle cx="210.0" cy="73.7" r="2.1" fill="#ec7755"/><circle cx="207.5" cy="68.4" r="2.1" fill="#e97258"/><circle cx="170.1" cy="83.9" r="2.1" fill="#4903a0"/><circle cx="152.1" cy="130.9" r="2.1" fill="#f2844b"/><circle cx="148.9" cy="114.7" r="2.1" fill="#eb7655"/><circle cx="208.1" cy="72.9" r="2.1" fill="#f2844b"/><circle cx="96.7" cy="166.5" r="2.1" fill="#c03a83"/><circle cx="211.6" cy="69.7" r="2.1" fill="#f2844b"/><circle cx="201.4" cy="46.8" r="2.1" fill="#d7576c"/><circle cx="181.7" cy="59.2" r="2.1" fill="#8809a6"/><circle cx="139.5" cy="138.5" r="2.1" fill="#f2844b"/><circle cx="117.8" cy="147.2" r="2.1" fill="#6400a7"/><circle cx="176.9" cy="100.2" r="2.1" fill="#f2844b"/><circle cx="116.9" cy="148.1" r="2.1" fill="#c43e80"/><circle cx="160.7" cy="109.5" r="2.1" fill="#ee7d50"/><circle cx="114.7" cy="149.3" r="2.1" fill="#b02991"/><circle cx="102.6" cy="159.0" r="2.1" fill="#6001a6"/><circle cx="169.3" cy="75.8" r="2.1" fill="#7e03a8"/><circle cx="156.7" cy="108.5" r="2.1" fill="#b02991"/><circle cx="187.2" cy="85.7" r="2.1" fill="#f2844b"/><circle cx="147.4" cy="110.6" r="2.1" fill="#d7576c"/><circle cx="195.2" cy="84.1" r="2.1" fill="#f2844b"/><circle cx="81.6" cy="177.9" r="2.1" fill="#6200a6"/><circle cx="162.3" cy="110.7" r="2.1" fill="#c13c82"/><circle cx="81.0" cy="182.5" r="2.1" fill="#f2844b"/><circle cx="218.0" cy="63.0" r="2.1" fill="#f2844b"/><circle cx="172.3" cy="92.3" r="2.1" fill="#ab2494"/><circle cx="186.8" cy="83.8" r="2.1" fill="#da5a69"/><circle cx="161.0" cy="84.8" r="2.1" fill="#2f0595"/><circle cx="154.4" cy="97.1" r="2.1" fill="#6200a6"/><circle cx="130.4" cy="138.9" r="2.1" fill="#d7576c"/><circle cx="84.4" cy="177.6" r="2.1" fill="#d04c74"/><circle cx="194.6" cy="81.4" r="2.1" fill="#b93389"/><circle cx="133.9" cy="116.2" r="2.1" fill="#320597"/><circle cx="95.2" cy="165.2" r="2.1" fill="#45039e"/><circle cx="219.7" cy="48.7" r="2.1" fill="#f2844b"/><circle cx="190.7" cy="64.5" r="2.1" fill="#b8318a"/><circle cx="199.7" cy="58.3" r="2.1" fill="#c6417d"/><circle cx="220.0" cy="45.5" r="2.1" fill="#f2844b"/><circle cx="171.8" cy="114.0" r="2.1" fill="#f2844b"/><circle cx="149.8" cy="121.1" r="2.1" fill="#eb7655"/><circle cx="208.2" cy="61.9" r="2.1" fill="#e16462"/><circle cx="191.3" cy="89.2" r="2.1" fill="#f2844b"/><circle cx="150.4" cy="116.0" r="2.1" fill="#cf4b75"/><circle cx="154.3" cy="109.1" r="2.1" fill="#a72197"/><circle cx="193.2" cy="96.7" r="2.1" fill="#f2844b"/><circle cx="146.8" cy="111.6" r="2.1" fill="#e26660"/><circle cx="91.5" cy="171.6" r="2.1" fill="#cc4778"/><circle cx="120.3" cy="152.1" r="2.1" fill="#e26660"/><circle cx="95.7" cy="167.0" r="2.1" fill="#b32c8e"/><circle cx="205.9" cy="58.4" r="2.1" fill="#cf4c74"/><circle cx="175.4" cy="90.0" r="2.1" fill="#e76f5b"/><circle cx="187.6" cy="61.6" r="2.1" fill="#ba3388"/><circle cx="184.7" cy="81.6" r="2.1" fill="#c5407e"/><circle cx="207.2" cy="47.7" r="2.1" fill="#d8586b"/><circle cx="78.6" cy="180.4" r="2.1" fill="#5a01a5"/><circle cx="176.9" cy="107.6" r="2.1" fill="#f2844b"/><circle cx="135.0" cy="130.0" r="2.1" fill="#bb3587"/><circle cx="201.9" cy="65.7" r="2.1" fill="#c43f7f"/><circle cx="149.7" cy="117.9" r="2.1" fill="#c13b82"/><circle cx="156.0" cy="110.5" r="2.1" fill="#c7417d"/><circle cx="161.5" cy="107.3" r="2.1" fill="#ec7953"/><circle cx="174.5" cy="65.9" r="2.1" fill="#7101a8"/><circle cx="145.5" cy="115.5" r="2.1" fill="#7001a8"/><circle cx="206.1" cy="59.6" r="2.1" fill="#d8586b"/><circle cx="212.3" cy="67.7" r="2.1" fill="#e36760"/><circle cx="191.5" cy="55.4" r="2.1" fill="#ac2593"/><circle cx="221.1" cy="51.7" r="2.1" fill="#f2844b"/><circle cx="84.3" cy="180.2" r="2.1" fill="#f2844b"/><circle cx="188.1" cy="90.8" r="2.1" fill="#c43e7f"/><circle cx="182.3" cy="84.9" r="2.1" fill="#8c0ba5"/><circle cx="193.4" cy="61.4" r="2.1" fill="#d04c74"/><circle cx="178.5" cy="100.5" r="2.1" fill="#f2844b"/><circle cx="117.7" cy="151.7" r="2.1" fill="#c53f7f"/><circle cx="116.0" cy="142.2" r="2.1" fill="#2f0595"/><circle cx="105.3" cy="160.2" r="2.1" fill="#ae2792"/><circle cx="143.5" cy="122.4" r="2.1" fill="#a51f98"/><circle cx="192.0" cy="64.0" r="2.1" fill="#ac2693"/><circle cx="210.0" cy="69.4" r="2.1" fill="#f2844b"/><circle cx="99.2" cy="167.3" r="2.1" fill="#f2844b"/><circle cx="138.8" cy="123.6" r="2.1" fill="#9f199c"/><circle cx="174.7" cy="92.3" r="2.1" fill="#9310a2"/><circle cx="177.6" cy="84.8" r="2.1" fill="#7a02a8"/><circle cx="155.8" cy="99.9" r="2.1" fill="#8306a7"/><circle cx="146.8" cy="135.0" r="2.1" fill="#f2844b"/><circle cx="97.5" cy="171.9" r="2.1" fill="#f2844b"/><circle cx="208.9" cy="71.0" r="2.1" fill="#e56b5d"/><circle cx="181.7" cy="59.2" r="2.1" fill="#9c179e"/><circle cx="96.1" cy="166.2" r="2.1" fill="#5701a4"/><circle cx="146.1" cy="126.0" r="2.1" fill="#e06363"/><circle cx="102.9" cy="160.8" r="2.1" fill="#8809a6"/><circle cx="165.1" cy="102.8" r="2.1" fill="#d6556d"/><circle cx="205.1" cy="75.3" r="2.1" fill="#db5b68"/><circle cx="140.5" cy="106.3" r="2.1" fill="#340597"/><circle cx="92.3" cy="171.8" r="2.1" fill="#e56b5d"/><circle cx="221.1" cy="52.2" r="2.1" fill="#f2844b"/><circle cx="173.9" cy="77.0" r="2.1" fill="#8708a6"/><circle cx="217.9" cy="63.3" r="2.1" fill="#f2844b"/><circle cx="184.2" cy="66.0" r="2.1" fill="#b32c8e"/><circle cx="158.3" cy="108.0" r="2.1" fill="#cc4778"/><circle cx="116.7" cy="144.4" r="2.1" fill="#5601a4"/><circle cx="169.1" cy="97.1" r="2.1" fill="#c9437b"/><circle cx="201.9" cy="80.1" r="2.1" fill="#e97258"/><circle cx="184.3" cy="74.5" r="2.1" fill="#a21c9a"/><circle cx="99.2" cy="162.0" r="2.1" fill="#5e01a6"/><circle cx="207.6" cy="59.4" r="2.1" fill="#d9596a"/><circle cx="200.8" cy="68.4" r="2.1" fill="#d35071"/><circle cx="158.9" cy="111.1" r="2.1" fill="#d9596a"/><circle cx="177.5" cy="87.7" r="2.1" fill="#c6417e"/><circle cx="159.1" cy="98.7" r="2.1" fill="#8306a7"/><circle cx="139.7" cy="110.2" r="2.1" fill="#3f049c"/><circle cx="216.9" cy="52.8" r="2.1" fill="#f2844b"/><circle cx="116.7" cy="154.2" r="2.1" fill="#e4695e"/><circle cx="195.3" cy="95.9" r="2.1" fill="#f2844b"/><circle cx="190.0" cy="84.6" r="2.1" fill="#e8705a"/><circle cx="178.3" cy="83.7" r="2.1" fill="#8e0ca4"/><circle cx="182.3" cy="79.7" r="2.1" fill="#bd3686"/><circle cx="113.6" cy="157.5" r="2.1" fill="#e3685f"/><circle cx="173.4" cy="89.9" r="2.1" fill="#da5b69"/><circle cx="170.1" cy="95.5" r="2.1" fill="#a01b9b"/><circle cx="209.5" cy="70.8" r="2.1" fill="#ea7457"/><circle cx="157.7" cy="104.7" r="2.1" fill="#d04d73"/><circle cx="109.2" cy="160.3" r="2.1" fill="#e66d5c"/><circle cx="163.4" cy="101.8" r="2.1" fill="#d04d74"/><circle cx="96.1" cy="168.1" r="2.1" fill="#ca457a"/><circle cx="115.9" cy="154.1" r="2.1" fill="#d14d73"/><circle cx="187.9" cy="69.5" r="2.1" fill="#ba3389"/><circle cx="121.2" cy="152.2" r="2.1" fill="#f2844b"/><circle cx="203.2" cy="63.1" r="2.1" fill="#cd4977"/><circle cx="161.8" cy="91.4" r="2.1" fill="#9511a1"/><circle cx="183.3" cy="70.3" r="2.1" fill="#9a169e"/><circle cx="176.9" cy="87.4" r="2.1" fill="#9612a1"/><circle cx="100.5" cy="160.6" r="2.1" fill="#5701a4"/><circle cx="211.3" cy="72.7" r="2.1" fill="#f2844b"/><circle cx="219.6" cy="43.3" r="2.1" fill="#f0814d"/><circle cx="166.2" cy="98.1" r="2.1" fill="#b93389"/><circle cx="223.5" cy="65.9" r="2.1" fill="#f2844b"/><circle cx="209.7" cy="66.7" r="2.1" fill="#e66d5c"/><circle cx="205.8" cy="85.2" r="2.1" fill="#f2844b"/><circle cx="116.6" cy="150.8" r="2.1" fill="#9713a0"/><circle cx="221.4" cy="55.5" r="2.1" fill="#f2844b"/><circle cx="130.8" cy="144.4" r="2.1" fill="#df6164"/><circle cx="102.0" cy="163.9" r="2.1" fill="#910fa3"/><circle cx="125.6" cy="137.5" r="2.1" fill="#5601a4"/><circle cx="112.6" cy="154.6" r="2.1" fill="#b93389"/><circle cx="178.1" cy="66.3" r="2.1" fill="#a01a9c"/><circle cx="137.1" cy="138.3" r="2.1" fill="#f2844b"/><circle cx="175.0" cy="99.5" r="2.1" fill="#e4695f"/><circle cx="159.6" cy="93.5" r="2.1" fill="#8c0ba5"/><circle cx="108.4" cy="161.7" r="2.1" fill="#f2844b"/><circle cx="155.2" cy="117.2" r="2.1" fill="#d8586b"/><circle cx="190.6" cy="84.1" r="2.1" fill="#f2844b"/><circle cx="142.9" cy="130.2" r="2.1" fill="#ca4579"/><circle cx="196.0" cy="74.6" r="2.1" fill="#c43f7f"/><circle cx="211.9" cy="54.5" r="2.1" fill="#df6164"/><circle cx="211.1" cy="68.9" r="2.1" fill="#f2844b"/><circle cx="204.5" cy="65.0" r="2.1" fill="#d5536e"/><circle cx="90.5" cy="168.8" r="2.1" fill="#6a00a8"/><circle cx="112.8" cy="154.2" r="2.1" fill="#cf4c74"/><circle cx="111.2" cy="158.6" r="2.1" fill="#f1824c"/><circle cx="201.6" cy="77.3" r="2.1" fill="#f2844b"/><circle cx="188.9" cy="71.9" r="2.1" fill="#ce4a76"/><circle cx="187.9" cy="83.1" r="2.1" fill="#cc4778"/><circle cx="168.1" cy="94.1" r="2.1" fill="#8b0ba5"/><circle cx="179.1" cy="86.4" r="2.1" fill="#9613a0"/><circle cx="175.0" cy="86.2" r="2.1" fill="#6001a6"/><circle cx="210.1" cy="43.9" r="2.1" fill="#dd5f66"/><circle cx="182.3" cy="75.9" r="2.1" fill="#a51f98"/><circle cx="195.7" cy="66.0" r="2.1" fill="#b32c8e"/><circle cx="97.8" cy="164.2" r="2.1" fill="#9713a0"/><circle cx="179.5" cy="60.9" r="2.1" fill="#a31c9a"/><circle cx="119.6" cy="152.0" r="2.1" fill="#e3685f"/><circle cx="211.3" cy="54.8" r="2.1" fill="#f2844b"/><circle cx="131.5" cy="124.7" r="2.1" fill="#4e02a1"/><circle cx="151.8" cy="113.2" r="2.1" fill="#b12a90"/><circle cx="151.0" cy="99.1" r="2.1" fill="#9613a0"/><circle cx="202.4" cy="73.7" r="2.1" fill="#f2844b"/><circle cx="148.0" cy="101.3" r="2.1" fill="#5301a3"/><circle cx="77.4" cy="183.4" r="2.1" fill="#dd5e66"/><circle cx="195.9" cy="75.4" r="2.1" fill="#ce4a76"/><circle cx="226.1" cy="41.0" r="2.1" fill="#f2844b"/><circle cx="100.1" cy="165.5" r="2.1" fill="#da5a69"/><circle cx="200.8" cy="79.2" r="2.1" fill="#db5b68"/><circle cx="179.8" cy="79.3" r="2.1" fill="#890aa5"/><circle cx="106.7" cy="161.5" r="2.1" fill="#dc5e67"/><circle cx="187.5" cy="70.5" r="2.1" fill="#b42d8e"/><circle cx="135.4" cy="121.2" r="2.1" fill="#7001a8"/><circle cx="158.1" cy="102.5" r="2.1" fill="#ba3488"/><circle cx="167.9" cy="99.7" r="2.1" fill="#c23c81"/><circle cx="99.5" cy="164.1" r="2.1" fill="#99149f"/><circle cx="183.4" cy="91.9" r="2.1" fill="#f2844b"/><circle cx="195.2" cy="70.6" r="2.1" fill="#c53f7e"/><circle cx="193.2" cy="74.4" r="2.1" fill="#bb3587"/><circle cx="174.2" cy="90.7" r="2.1" fill="#b7318b"/><circle cx="186.8" cy="79.1" r="2.1" fill="#b7318a"/><circle cx="151.0" cy="121.0" r="2.1" fill="#f2844b"/><circle cx="224.8" cy="52.3" r="2.1" fill="#f2844b"/><circle cx="114.6" cy="147.5" r="2.1" fill="#8507a6"/><circle cx="169.1" cy="101.1" r="2.1" fill="#d8576b"/><circle cx="110.3" cy="157.4" r="2.1" fill="#db5c68"/><circle cx="182.9" cy="90.3" r="2.1" fill="#d5546e"/><circle cx="84.0" cy="178.5" r="2.1" fill="#ab2494"/><circle cx="185.4" cy="98.9" r="2.1" fill="#f2844b"/><circle cx="144.3" cy="124.4" r="2.1" fill="#a41e99"/><circle cx="102.1" cy="165.3" r="2.1" fill="#ef7e4f"/><circle cx="128.6" cy="145.3" r="2.1" fill="#e66c5c"/><circle cx="226.8" cy="48.6" r="2.1" fill="#f2844b"/><circle cx="211.6" cy="67.3" r="2.1" fill="#f2844b"/><circle cx="154.0" cy="113.0" r="2.1" fill="#a31d9a"/><circle cx="205.7" cy="76.9" r="2.1" fill="#f2844b"/><circle cx="91.4" cy="169.3" r="2.1" fill="#ad2693"/><circle cx="156.9" cy="99.2" r="2.1" fill="#7802a8"/><circle cx="201.9" cy="61.1" r="2.1" fill="#ca447a"/><circle cx="155.4" cy="114.7" r="2.1" fill="#e8705a"/><circle cx="156.9" cy="93.0" r="2.1" fill="#3d049b"/><circle cx="137.1" cy="135.6" r="2.1" fill="#f2834b"/><circle cx="223.0" cy="47.8" r="2.1" fill="#f2844b"/><circle cx="206.4" cy="62.2" r="2.1" fill="#db5c68"/><circle cx="144.5" cy="120.7" r="2.1" fill="#be3885"/><circle cx="223.0" cy="48.3" r="2.1" fill="#f2844b"/><circle cx="154.5" cy="103.4" r="2.1" fill="#9612a1"/><circle cx="107.3" cy="153.5" r="2.1" fill="#4a03a0"/><circle cx="226.1" cy="51.0" r="2.1" fill="#f2844b"/><circle cx="203.3" cy="65.4" r="2.1" fill="#c9437b"/><circle cx="212.4" cy="63.5" r="2.1" fill="#e26760"/><circle cx="190.7" cy="67.5" r="2.1" fill="#c13b82"/><circle cx="97.0" cy="165.8" r="2.1" fill="#9210a2"/><circle cx="168.3" cy="112.3" r="2.1" fill="#f2844b"/><circle cx="110.0" cy="159.4" r="2.1" fill="#f2844b"/><circle cx="207.0" cy="58.8" r="2.1" fill="#ea7557"/><circle cx="162.6" cy="102.0" r="2.1" fill="#df6264"/><circle cx="207.2" cy="62.7" r="2.1" fill="#d5536e"/><circle cx="125.9" cy="150.0" r="2.1" fill="#f2844b"/><circle cx="141.2" cy="116.9" r="2.1" fill="#9c179e"/><circle cx="190.7" cy="87.6" r="2.1" fill="#d8586b"/><circle cx="171.0" cy="86.4" r="2.1" fill="#9e199c"/><circle cx="101.7" cy="165.7" r="2.1" fill="#f2844b"/><circle cx="151.5" cy="115.0" r="2.1" fill="#8206a7"/><circle cx="185.7" cy="81.4" r="2.1" fill="#cb4679"/><circle cx="173.9" cy="84.4" r="2.1" fill="#5e01a6"/><circle cx="107.5" cy="161.5" r="2.1" fill="#d5536e"/><circle cx="177.8" cy="74.5" r="2.1" fill="#7802a8"/><circle cx="189.4" cy="78.9" r="2.1" fill="#c13b82"/><circle cx="217.1" cy="46.4" r="2.1" fill="#f2844b"/><circle cx="79.2" cy="183.1" r="2.1" fill="#ec7854"/><circle cx="193.3" cy="72.1" r="2.1" fill="#bc3687"/><circle cx="194.0" cy="56.5" r="2.1" fill="#c6417d"/><circle cx="219.8" cy="35.8" r="2.1" fill="#f3864a"/><circle cx="90.7" cy="172.6" r="2.1" fill="#d8576b"/><circle cx="142.6" cy="127.9" r="2.1" fill="#db5c68"/><circle cx="192.6" cy="69.3" r="2.1" fill="#c33d80"/><circle cx="204.1" cy="67.0" r="2.1" fill="#d9596a"/><circle cx="135.0" cy="134.0" r="2.1" fill="#f0804e"/><circle cx="163.1" cy="103.8" r="2.1" fill="#d4526f"/><circle cx="161.1" cy="111.2" r="2.1" fill="#db5c68"/><circle cx="195.9" cy="78.1" r="2.1" fill="#ca447a"/><circle cx="184.0" cy="69.3" r="2.1" fill="#8608a6"/><circle cx="204.4" cy="78.3" r="2.1" fill="#f1834c"/><circle cx="224.4" cy="59.7" r="2.1" fill="#f2844b"/><circle cx="186.0" cy="68.0" r="2.1" fill="#900ea3"/><circle cx="224.3" cy="47.0" r="2.1" fill="#f2844b"/><circle cx="153.5" cy="96.6" r="2.1" fill="#7d03a8"/><circle cx="206.5" cy="57.9" r="2.1" fill="#d45270"/><circle cx="143.3" cy="128.2" r="2.1" fill="#e3685f"/><circle cx="183.6" cy="78.8" r="2.1" fill="#b8318a"/><circle cx="216.7" cy="60.6" r="2.1" fill="#f1824c"/><circle cx="163.0" cy="99.4" r="2.1" fill="#9411a2"/><circle cx="163.2" cy="106.7" r="2.1" fill="#d35071"/><circle cx="227.8" cy="47.6" r="2.1" fill="#f2844b"/><circle cx="150.8" cy="106.4" r="2.1" fill="#a21b9b"/><circle cx="165.1" cy="91.0" r="2.1" fill="#8909a5"/><circle cx="183.9" cy="66.9" r="2.1" fill="#8c0ba5"/><circle cx="224.2" cy="42.0" r="2.1" fill="#f2844b"/><circle cx="131.1" cy="137.0" r="2.1" fill="#cd4877"/><circle cx="145.4" cy="134.7" r="2.1" fill="#f2844b"/><circle cx="106.1" cy="155.8" r="2.1" fill="#7a02a8"/><circle cx="145.6" cy="124.4" r="2.1" fill="#f2844b"/><circle cx="135.3" cy="136.8" r="2.1" fill="#dc5d67"/><circle cx="94.5" cy="169.4" r="2.1" fill="#f2844b"/><circle cx="194.0" cy="83.6" r="2.1" fill="#d4536f"/><circle cx="209.7" cy="47.9" r="2.1" fill="#df6164"/><circle cx="177.8" cy="93.0" r="2.1" fill="#f2844b"/><circle cx="198.1" cy="67.2" r="2.1" fill="#d6556d"/><circle cx="167.3" cy="83.7" r="2.1" fill="#ab2494"/><circle cx="121.6" cy="153.3" r="2.1" fill="#f2844b"/><circle cx="171.7" cy="82.8" r="2.1" fill="#8306a7"/><circle cx="189.2" cy="73.8" r="2.1" fill="#b8318a"/><circle cx="216.5" cy="64.0" r="2.1" fill="#eb7755"/><circle cx="168.9" cy="101.3" r="2.1" fill="#bd3785"/><circle cx="92.8" cy="168.6" r="2.1" fill="#5a01a5"/><circle cx="98.3" cy="163.2" r="2.1" fill="#2f0595"/><circle cx="228.4" cy="29.8" r="2.1" fill="#f79242"/><circle cx="103.7" cy="157.9" r="2.1" fill="#8306a7"/><circle cx="211.8" cy="68.4" r="2.1" fill="#ed7a52"/><circle cx="83.3" cy="176.7" r="2.1" fill="#900ea4"/><circle cx="210.0" cy="62.5" r="2.1" fill="#e3685f"/><circle cx="136.7" cy="134.5" r="2.1" fill="#d7566c"/><circle cx="204.5" cy="59.0" r="2.1" fill="#d24f72"/><circle cx="78.5" cy="182.6" r="2.1" fill="#da5b69"/><circle cx="186.9" cy="85.4" r="2.1" fill="#dc5d67"/><circle cx="114.9" cy="159.4" r="2.1" fill="#f2844b"/><circle cx="180.5" cy="89.9" r="2.1" fill="#d6556d"/><circle cx="110.0" cy="159.2" r="2.1" fill="#f2844b"/><circle cx="205.3" cy="72.2" r="2.1" fill="#d35170"/><circle cx="199.0" cy="79.4" r="2.1" fill="#dc5d67"/><circle cx="137.3" cy="125.1" r="2.1" fill="#c9447b"/><circle cx="147.9" cy="110.2" r="2.1" fill="#a41d99"/><circle cx="180.0" cy="74.7" r="2.1" fill="#8a0aa5"/><circle cx="113.2" cy="154.5" r="2.1" fill="#dd5f66"/><circle cx="162.8" cy="104.6" r="2.1" fill="#a21c9b"/><circle cx="109.7" cy="153.2" r="2.1" fill="#a41e99"/><circle cx="133.4" cy="126.1" r="2.1" fill="#5901a5"/><circle cx="163.9" cy="88.9" r="2.1" fill="#48039f"/><circle cx="146.9" cy="129.2" r="2.1" fill="#f2844b"/><circle cx="168.0" cy="94.3" r="2.1" fill="#de5f65"/><circle cx="97.1" cy="165.4" r="2.1" fill="#8407a6"/><circle cx="188.2" cy="57.4" r="2.1" fill="#a41e99"/><circle cx="94.2" cy="169.3" r="2.1" fill="#d25071"/><circle cx="179.9" cy="78.4" r="2.1" fill="#9c179e"/><circle cx="197.1" cy="67.3" r="2.1" fill="#cc4778"/><circle cx="168.3" cy="90.5" r="2.1" fill="#8306a7"/><circle cx="180.0" cy="62.2" r="2.1" fill="#8407a6"/><circle cx="142.0" cy="120.8" r="2.1" fill="#6a00a8"/><circle cx="174.1" cy="86.4" r="2.1" fill="#9c179e"/><circle cx="223.4" cy="46.3" r="2.1" fill="#f2844b"/><circle cx="199.8" cy="53.4" r="2.1" fill="#cb4679"/><circle cx="204.8" cy="58.7" r="2.1" fill="#cf4c74"/><circle cx="107.8" cy="154.2" r="2.1" fill="#8708a6"/><circle cx="86.3" cy="178.8" r="2.1" fill="#f2844b"/><circle cx="121.4" cy="143.0" r="2.1" fill="#6600a7"/><circle cx="141.0" cy="101.9" r="2.1" fill="#2f0595"/><circle cx="162.9" cy="104.5" r="2.1" fill="#d14e73"/><circle cx="111.8" cy="162.2" r="2.1" fill="#f2844b"/><circle cx="219.2" cy="51.0" r="2.1" fill="#ed7a52"/><circle cx="183.5" cy="84.2" r="2.1" fill="#920fa2"/><circle cx="101.9" cy="156.9" r="2.1" fill="#5f01a6"/><circle cx="119.3" cy="150.8" r="2.1" fill="#f07f4e"/><circle cx="183.7" cy="72.6" r="2.1" fill="#a11b9b"/><circle cx="112.5" cy="150.3" r="2.1" fill="#8206a7"/><circle cx="219.3" cy="63.7" r="2.1" fill="#ed7a52"/><circle cx="101.5" cy="163.4" r="2.1" fill="#c8427c"/><circle cx="207.9" cy="74.9" r="2.1" fill="#e87159"/><circle cx="140.3" cy="128.8" r="2.1" fill="#df6164"/><circle cx="174.7" cy="78.3" r="2.1" fill="#98149f"/><circle cx="160.2" cy="104.4" r="2.1" fill="#c03a83"/><circle cx="123.2" cy="137.6" r="2.1" fill="#6e01a8"/><circle cx="82.5" cy="179.7" r="2.1" fill="#ee7c51"/><circle cx="211.0" cy="49.7" r="2.1" fill="#e36860"/><circle cx="218.9" cy="67.0" r="2.1" fill="#f2844b"/><circle cx="180.3" cy="84.4" r="2.1" fill="#ac2594"/><circle cx="193.3" cy="82.7" r="2.1" fill="#cd4877"/><circle cx="184.4" cy="67.0" r="2.1" fill="#b32d8e"/><circle cx="141.2" cy="132.7" r="2.1" fill="#e16462"/><circle cx="205.4" cy="65.9" r="2.1" fill="#e46a5e"/><circle cx="159.5" cy="104.8" r="2.1" fill="#900ea4"/><circle cx="169.1" cy="93.4" r="2.1" fill="#c13b82"/><circle cx="197.1" cy="69.6" r="2.1" fill="#cd4976"/><circle cx="151.8" cy="108.2" r="2.1" fill="#ad2792"/><circle cx="170.4" cy="105.8" r="2.1" fill="#f2844b"/><circle cx="81.4" cy="180.8" r="2.1" fill="#f2844b"/><circle cx="199.2" cy="58.7" r="2.1" fill="#dd5f66"/><circle cx="198.9" cy="71.7" r="2.1" fill="#cb4679"/><circle cx="146.2" cy="116.7" r="2.1" fill="#b12a90"/><circle cx="86.6" cy="173.0" r="2.1" fill="#6400a7"/><circle cx="91.6" cy="171.8" r="2.1" fill="#ce4a76"/><circle cx="100.6" cy="158.4" r="2.1" fill="#4a03a0"/><circle cx="158.9" cy="113.0" r="2.1" fill="#f2844b"/><circle cx="122.5" cy="141.6" r="2.1" fill="#a72097"/><circle cx="177.2" cy="80.8" r="2.1" fill="#8b0ba5"/><circle cx="172.2" cy="88.3" r="2.1" fill="#b22b8f"/><circle cx="214.4" cy="69.2" r="2.1" fill="#f2844b"/><circle cx="176.3" cy="82.2" r="2.1" fill="#ad2693"/><circle cx="175.3" cy="94.8" r="2.1" fill="#f0804e"/><circle cx="159.1" cy="91.4" r="2.1" fill="#6e01a8"/><circle cx="112.0" cy="155.7" r="2.1" fill="#ec7854"/><circle cx="155.2" cy="123.3" r="2.1" fill="#f2844b"/><circle cx="163.0" cy="95.1" r="2.1" fill="#af2892"/><circle cx="131.4" cy="137.8" r="2.1" fill="#9f199c"/><circle cx="191.6" cy="62.5" r="2.1" fill="#ab2594"/><circle cx="124.2" cy="144.1" r="2.1" fill="#e97259"/><circle cx="220.2" cy="65.0" r="2.1" fill="#f2844b"/><circle cx="220.7" cy="49.3" r="2.1" fill="#f0804e"/><circle cx="150.4" cy="102.0" r="2.1" fill="#45039e"/><circle cx="226.8" cy="45.1" r="2.1" fill="#f2844b"/><circle cx="157.2" cy="109.0" r="2.1" fill="#e56b5d"/><circle cx="207.2" cy="67.7" r="2.1" fill="#de6065"/><circle cx="182.0" cy="88.1" r="2.1" fill="#e16462"/><circle cx="207.4" cy="61.8" r="2.1" fill="#e66c5c"/><circle cx="87.2" cy="175.5" r="2.1" fill="#a11b9b"/><circle cx="197.7" cy="71.6" r="2.1" fill="#d35170"/><circle cx="197.7" cy="65.2" r="2.1" fill="#d04d74"/><circle cx="148.3" cy="126.0" r="2.1" fill="#f2844b"/><circle cx="96.8" cy="169.4" r="2.1" fill="#f2844b"/><circle cx="166.3" cy="108.4" r="2.1" fill="#e97259"/><circle cx="138.9" cy="116.4" r="2.1" fill="#8b0ba5"/><circle cx="90.8" cy="170.3" r="2.1" fill="#6700a7"/><circle cx="213.1" cy="67.7" r="2.1" fill="#f2844b"/><circle cx="114.4" cy="148.7" r="2.1" fill="#6c00a8"/><circle cx="134.4" cy="140.3" r="2.1" fill="#e56b5d"/><circle cx="180.3" cy="100.9" r="2.1" fill="#f2844b"/><circle cx="182.8" cy="78.3" r="2.1" fill="#9512a1"/><circle cx="110.8" cy="156.9" r="2.1" fill="#cc4778"/><circle cx="216.5" cy="58.3" r="2.1" fill="#ec7854"/><circle cx="133.0" cy="124.8" r="2.1" fill="#3b049b"/><circle cx="200.3" cy="81.4" r="2.1" fill="#e66c5c"/><circle cx="203.8" cy="54.1" r="2.1" fill="#de6065"/><circle cx="193.5" cy="76.7" r="2.1" fill="#b7318b"/><circle cx="213.2" cy="56.7" r="2.1" fill="#f2844b"/><circle cx="83.6" cy="178.1" r="2.1" fill="#a61f98"/><circle cx="163.4" cy="102.0" r="2.1" fill="#e87159"/><circle cx="159.5" cy="105.2" r="2.1" fill="#e3685f"/><circle cx="128.9" cy="142.8" r="2.1" fill="#cc4778"/><circle cx="147.8" cy="117.3" r="2.1" fill="#af2892"/><circle cx="156.3" cy="110.0" r="2.1" fill="#9e199d"/><circle cx="166.8" cy="96.9" r="2.1" fill="#d6556d"/><circle cx="170.6" cy="104.1" r="2.1" fill="#f2844b"/><circle cx="209.6" cy="60.6" r="2.1" fill="#ef7d50"/><circle cx="120.8" cy="140.4" r="2.1" fill="#7001a8"/><circle cx="163.3" cy="112.1" r="2.1" fill="#f2844b"/><circle cx="141.2" cy="130.7" r="2.1" fill="#eb7655"/><circle cx="208.1" cy="58.2" r="2.1" fill="#db5c68"/><circle cx="136.7" cy="111.8" r="2.1" fill="#4a03a0"/><circle cx="111.3" cy="149.7" r="2.1" fill="#47039f"/><circle cx="208.5" cy="77.5" r="2.1" fill="#f2844b"/><circle cx="78.5" cy="183.1" r="2.1" fill="#d9596a"/><circle cx="172.9" cy="92.5" r="2.1" fill="#cd4877"/><circle cx="180.3" cy="92.1" r="2.1" fill="#f2844b"/><circle cx="180.7" cy="82.9" r="2.1" fill="#7802a8"/><circle cx="198.7" cy="76.6" r="2.1" fill="#d35170"/><circle cx="199.1" cy="67.5" r="2.1" fill="#cc4778"/><circle cx="192.9" cy="66.7" r="2.1" fill="#c33d81"/><circle cx="184.9" cy="73.8" r="2.1" fill="#a31d9a"/><circle cx="182.9" cy="63.8" r="2.1" fill="#a62098"/><circle cx="220.4" cy="55.7" r="2.1" fill="#f2844b"/><circle cx="176.9" cy="81.8" r="2.1" fill="#a21c9a"/><circle cx="188.9" cy="79.5" r="2.1" fill="#e76e5b"/><circle cx="137.4" cy="139.2" r="2.1" fill="#f2844b"/><circle cx="115.5" cy="153.4" r="2.1" fill="#db5b68"/><circle cx="227.2" cy="55.3" r="2.1" fill="#f2844b"/><circle cx="213.9" cy="71.6" r="2.1" fill="#f2844b"/><circle cx="116.0" cy="152.6" r="2.1" fill="#da5b69"/><circle cx="93.1" cy="174.0" r="2.1" fill="#f2844b"/><circle cx="99.4" cy="167.2" r="2.1" fill="#e26561"/><circle cx="105.3" cy="158.5" r="2.1" fill="#7a02a8"/><circle cx="106.5" cy="159.9" r="2.1" fill="#e46a5e"/><circle cx="93.3" cy="171.1" r="2.1" fill="#f0804e"/><circle cx="148.2" cy="101.8" r="2.1" fill="#6100a6"/><circle cx="86.7" cy="170.8" r="2.1" fill="#2f0595"/><circle cx="153.0" cy="111.3" r="2.1" fill="#a51f98"/><circle cx="227.7" cy="45.4" r="2.1" fill="#f2844b"/><circle cx="83.6" cy="178.0" r="2.1" fill="#d4536f"/><circle cx="206.1" cy="47.0" r="2.1" fill="#ec7755"/><circle cx="114.4" cy="155.4" r="2.1" fill="#df6164"/><circle cx="168.9" cy="93.8" r="2.1" fill="#8b0ba5"/><circle cx="149.7" cy="113.0" r="2.1" fill="#9f199c"/><circle cx="108.5" cy="160.5" r="2.1" fill="#f2834c"/><circle cx="88.2" cy="175.8" r="2.1" fill="#f2844b"/><circle cx="189.2" cy="75.0" r="2.1" fill="#ab2494"/><circle cx="175.4" cy="86.8" r="2.1" fill="#c7427c"/><circle cx="156.5" cy="118.1" r="2.1" fill="#f2844b"/><circle cx="115.1" cy="156.1" r="2.1" fill="#f2844b"/><circle cx="88.0" cy="175.0" r="2.1" fill="#c23c81"/><circle cx="166.8" cy="95.5" r="2.1" fill="#7e03a8"/><circle cx="170.1" cy="76.0" r="2.1" fill="#7702a8"/><circle cx="208.3" cy="72.6" r="2.1" fill="#f2844b"/></g><rect x="79.0" y="161.9" width="4.9" height="25.35" fill="none" stroke="#000" stroke-width="1.45" stroke-dasharray="4.6 1.9"/><rect x="603.50" y="28.80" width="75.80" height="49.40" rx="1.6" ry="1.6" fill="#fff" fill-opacity="0.8" stroke="#d5d5d5" stroke-width="1.3"/><rect x="606.4" y="35.8" width="22.8" height="2.2" fill="url(#gplasma)"/><g fill="#000"><text x="636.00" y="40.60" font-size="11.00" textLength="18.73" lengthAdjust="spacingAndGlyphs">RFP</text></g><line x1="606.40" y1="52.00" x2="629.20" y2="52.00" stroke="#262626" stroke-width="2.20"/><g fill="#000"><text x="636.00" y="55.40" font-size="11.00" textLength="37.49" lengthAdjust="spacingAndGlyphs">median</text></g><rect x="607.20" y="66.85" width="2.4" height="2.3" fill="#000"/><rect x="613.15" y="66.85" width="2.4" height="2.3" fill="#000"/><rect x="619.10" y="66.85" width="2.4" height="2.3" fill="#000"/><rect x="625.05" y="66.85" width="2.4" height="2.3" fill="#000"/><g fill="#000"><text x="636.20" y="70.40" font-size="11.00" font-style="italic" textLength="6.60" lengthAdjust="spacingAndGlyphs">ϕ</text><text x="642.80" y="72.40" font-size="7.70" textLength="12.93" lengthAdjust="spacingAndGlyphs">Vac</text></g><rect x="567.30" y="121.00" width="105.00" height="8.50" fill="url(#gplasma)" stroke="#000" stroke-width="0.9"/><line x1="575.57" y1="121.00" x2="575.57" y2="117.50" stroke="#000" stroke-width="0.90"/><g fill="#000"><text x="570.48" y="114.50" font-size="8.80" textLength="10.18" lengthAdjust="spacingAndGlyphs">20</text></g><line x1="630.52" y1="121.00" x2="630.52" y2="117.50" stroke="#000" stroke-width="0.90"/><g fill="#000"><text x="622.88" y="114.50" font-size="8.80" textLength="15.27" lengthAdjust="spacingAndGlyphs">100</text></g><line x1="668.03" y1="121.00" x2="668.03" y2="117.50" stroke="#000" stroke-width="0.90"/><g fill="#000"><text x="660.39" y="114.50" font-size="8.80" textLength="15.27" lengthAdjust="spacingAndGlyphs">300</text></g><line x1="589.41" y1="121.00" x2="589.41" y2="119.00" stroke="#000" stroke-width="0.70"/><line x1="599.23" y1="121.00" x2="599.23" y2="119.00" stroke="#000" stroke-width="0.70"/><line x1="606.85" y1="121.00" x2="606.85" y2="119.00" stroke="#000" stroke-width="0.70"/><line x1="613.08" y1="121.00" x2="613.08" y2="119.00" stroke="#000" stroke-width="0.70"/><line x1="618.34" y1="121.00" x2="618.34" y2="119.00" stroke="#000" stroke-width="0.70"/><line x1="622.90" y1="121.00" x2="622.90" y2="119.00" stroke="#000" stroke-width="0.70"/><line x1="626.92" y1="121.00" x2="626.92" y2="119.00" stroke="#000" stroke-width="0.70"/><line x1="654.18" y1="121.00" x2="654.18" y2="119.00" stroke="#000" stroke-width="0.70"/><g fill="#000"><text x="610.28" y="101.20" font-size="8.80" font-style="italic" textLength="5.05" lengthAdjust="spacingAndGlyphs">E</text><text x="615.33" y="102.40" font-size="6.16" textLength="3.84" lengthAdjust="spacingAndGlyphs">B</text><text x="619.18" y="101.20" font-size="8.80" textLength="10.14" lengthAdjust="spacingAndGlyphs">/μJ</text></g><rect x="346.80" y="261.80" width="84.60" height="49.80" rx="1.6" ry="1.6" fill="#fff" fill-opacity="0.8" stroke="#d5d5d5" stroke-width="1.3"/><rect x="350.0" y="269.2" width="22.9" height="2.2" fill="url(#gviridis)"/><g fill="#000"><text x="379.60" y="273.00" font-size="11.00" textLength="42.70" lengthAdjust="spacingAndGlyphs">medians</text></g><line x1="350.00" y1="285.20" x2="372.90" y2="285.20" stroke="#333333" stroke-width="2.20"/><g fill="#000"><text x="379.60" y="288.20" font-size="11.00" textLength="45.96" lengthAdjust="spacingAndGlyphs">envelope</text></g><rect x="350.80" y="300.25" width="2.4" height="2.3" fill="#000"/><rect x="356.75" y="300.25" width="2.4" height="2.3" fill="#000"/><rect x="362.70" y="300.25" width="2.4" height="2.3" fill="#000"/><rect x="368.65" y="300.25" width="2.4" height="2.3" fill="#000"/><g fill="#000"><text x="379.80" y="303.80" font-size="11.00" font-style="italic" textLength="6.60" lengthAdjust="spacingAndGlyphs">ϕ</text><text x="386.40" y="305.80" font-size="7.70" textLength="12.93" lengthAdjust="spacingAndGlyphs">Vac</text></g><rect x="324.60" y="363.90" width="104.20" height="8.80" fill="url(#gviridis)" stroke="#000" stroke-width="0.9"/><line x1="324.60" y1="363.90" x2="324.60" y2="360.40" stroke="#000" stroke-width="0.90"/><g fill="#000"><text x="322.06" y="354.60" font-size="8.80" textLength="5.09" lengthAdjust="spacingAndGlyphs">0</text></g><line x1="367.84" y1="363.90" x2="367.84" y2="360.40" stroke="#000" stroke-width="0.90"/><g fill="#000"><text x="362.75" y="354.60" font-size="8.80" textLength="10.18" lengthAdjust="spacingAndGlyphs">10</text></g><line x1="411.07" y1="363.90" x2="411.07" y2="360.40" stroke="#000" stroke-width="0.90"/><g fill="#000"><text x="405.98" y="354.60" font-size="8.80" textLength="10.18" lengthAdjust="spacingAndGlyphs">20</text></g><g fill="#000"><text x="366.43" y="340.40" font-size="8.80" textLength="5.47" lengthAdjust="spacingAndGlyphs">Δ</text><text x="371.90" y="340.40" font-size="8.80" font-style="italic" textLength="3.14" lengthAdjust="spacingAndGlyphs">t</text><text x="375.04" y="340.40" font-size="8.80" textLength="11.93" lengthAdjust="spacingAndGlyphs">/ns</text></g><line x1="68.70" y1="190.00" x2="68.70" y2="195.00" stroke="#000" stroke-width="1.15"/><g fill="#000"><text x="65.52" y="207.90" font-size="11.00" textLength="6.36" lengthAdjust="spacingAndGlyphs">0</text></g><line x1="119.24" y1="190.00" x2="119.24" y2="195.00" stroke="#000" stroke-width="1.15"/><g fill="#000"><text x="112.88" y="207.90" font-size="11.00" textLength="12.72" lengthAdjust="spacingAndGlyphs">10</text></g><line x1="169.79" y1="190.00" x2="169.79" y2="195.00" stroke="#000" stroke-width="1.15"/><g fill="#000"><text x="163.43" y="207.90" font-size="11.00" textLength="12.72" lengthAdjust="spacingAndGlyphs">20</text></g><line x1="220.33" y1="190.00" x2="220.33" y2="195.00" stroke="#000" stroke-width="1.15"/><g fill="#000"><text x="213.97" y="207.90" font-size="11.00" textLength="12.72" lengthAdjust="spacingAndGlyphs">30</text></g><line x1="68.70" y1="190.00" x2="63.70" y2="190.00" stroke="#000" stroke-width="1.15"/><g fill="#000"><text x="51.84" y="194.35" font-size="11.00" textLength="6.36" lengthAdjust="spacingAndGlyphs">0</text></g><line x1="68.70" y1="164.73" x2="63.70" y2="164.73" stroke="#000" stroke-width="1.15"/><g fill="#000"><text x="45.48" y="169.08" font-size="11.00" textLength="12.72" lengthAdjust="spacingAndGlyphs">10</text></g><line x1="68.70" y1="139.46" x2="63.70" y2="139.46" stroke="#000" stroke-width="1.15"/><g fill="#000"><text x="45.48" y="143.81" font-size="11.00" textLength="12.72" lengthAdjust="spacingAndGlyphs">20</text></g><line x1="68.70" y1="114.18" x2="63.70" y2="114.18" stroke="#000" stroke-width="1.15"/><g fill="#000"><text x="45.48" y="118.53" font-size="11.00" textLength="12.72" lengthAdjust="spacingAndGlyphs">30</text></g><line x1="68.70" y1="88.91" x2="63.70" y2="88.91" stroke="#000" stroke-width="1.15"/><g fill="#000"><text x="45.48" y="93.26" font-size="11.00" textLength="12.72" lengthAdjust="spacingAndGlyphs">40</text></g><line x1="68.70" y1="63.64" x2="63.70" y2="63.64" stroke="#000" stroke-width="1.15"/><g fill="#000"><text x="45.48" y="67.99" font-size="11.00" textLength="12.72" lengthAdjust="spacingAndGlyphs">50</text></g><line x1="68.70" y1="38.37" x2="63.70" y2="38.37" stroke="#000" stroke-width="1.15"/><g fill="#000"><text x="45.48" y="42.72" font-size="11.00" textLength="12.72" lengthAdjust="spacingAndGlyphs">60</text></g><line x1="316.90" y1="189.90" x2="316.90" y2="194.90" stroke="#000" stroke-width="1.15"/><g fill="#000"><text x="313.72" y="207.80" font-size="11.00" textLength="6.36" lengthAdjust="spacingAndGlyphs">0</text></g><line x1="373.40" y1="189.90" x2="373.40" y2="194.90" stroke="#000" stroke-width="1.15"/><g fill="#000"><text x="370.22" y="207.80" font-size="11.00" textLength="6.36" lengthAdjust="spacingAndGlyphs">1</text></g><line x1="429.90" y1="189.90" x2="429.90" y2="194.90" stroke="#000" stroke-width="1.15"/><g fill="#000"><text x="426.72" y="207.80" font-size="11.00" textLength="6.36" lengthAdjust="spacingAndGlyphs">2</text></g><line x1="486.40" y1="189.90" x2="486.40" y2="194.90" stroke="#000" stroke-width="1.15"/><g fill="#000"><text x="483.22" y="207.80" font-size="11.00" textLength="6.36" lengthAdjust="spacingAndGlyphs">3</text></g><line x1="542.90" y1="189.90" x2="542.90" y2="194.90" stroke="#000" stroke-width="1.15"/><g fill="#000"><text x="539.72" y="207.80" font-size="11.00" textLength="6.36" lengthAdjust="spacingAndGlyphs">4</text></g><line x1="599.40" y1="189.90" x2="599.40" y2="194.90" stroke="#000" stroke-width="1.15"/><g fill="#000"><text x="596.22" y="207.80" font-size="11.00" textLength="6.36" lengthAdjust="spacingAndGlyphs">5</text></g><line x1="655.90" y1="189.90" x2="655.90" y2="194.90" stroke="#000" stroke-width="1.15"/><g fill="#000"><text x="652.72" y="207.80" font-size="11.00" textLength="6.36" lengthAdjust="spacingAndGlyphs">6</text></g><line x1="316.90" y1="176.03" x2="311.90" y2="176.03" stroke="#000" stroke-width="1.15"/><g fill="#000"><text x="269.39" y="180.38" font-size="11.00" textLength="37.01" lengthAdjust="spacingAndGlyphs">−0.005</text></g><line x1="316.90" y1="141.34" x2="311.90" y2="141.34" stroke="#000" stroke-width="1.15"/><g fill="#000"><text x="277.77" y="145.69" font-size="11.00" textLength="28.63" lengthAdjust="spacingAndGlyphs">0.000</text></g><line x1="316.90" y1="106.66" x2="311.90" y2="106.66" stroke="#000" stroke-width="1.15"/><g fill="#000"><text x="277.77" y="111.01" font-size="11.00" textLength="28.63" lengthAdjust="spacingAndGlyphs">0.005</text></g><line x1="316.90" y1="71.97" x2="311.90" y2="71.97" stroke="#000" stroke-width="1.15"/><g fill="#000"><text x="277.77" y="76.32" font-size="11.00" textLength="28.63" lengthAdjust="spacingAndGlyphs">0.010</text></g><line x1="316.90" y1="37.29" x2="311.90" y2="37.29" stroke="#000" stroke-width="1.15"/><g fill="#000"><text x="277.77" y="41.64" font-size="11.00" textLength="28.63" lengthAdjust="spacingAndGlyphs">0.015</text></g><line x1="69.20" y1="423.45" x2="69.20" y2="428.45" stroke="#000" stroke-width="1.15"/><g fill="#000"><text x="66.02" y="441.35" font-size="11.00" textLength="6.36" lengthAdjust="spacingAndGlyphs">0</text></g><line x1="126.90" y1="423.45" x2="126.90" y2="428.45" stroke="#000" stroke-width="1.15"/><g fill="#000"><text x="120.53" y="441.35" font-size="11.00" textLength="12.72" lengthAdjust="spacingAndGlyphs">10</text></g><line x1="184.59" y1="423.45" x2="184.59" y2="428.45" stroke="#000" stroke-width="1.15"/><g fill="#000"><text x="178.23" y="441.35" font-size="11.00" textLength="12.72" lengthAdjust="spacingAndGlyphs">20</text></g><line x1="242.29" y1="423.45" x2="242.29" y2="428.45" stroke="#000" stroke-width="1.15"/><g fill="#000"><text x="235.93" y="441.35" font-size="11.00" textLength="12.72" lengthAdjust="spacingAndGlyphs">30</text></g><line x1="299.99" y1="423.45" x2="299.99" y2="428.45" stroke="#000" stroke-width="1.15"/><g fill="#000"><text x="293.63" y="441.35" font-size="11.00" textLength="12.72" lengthAdjust="spacingAndGlyphs">40</text></g><line x1="357.69" y1="423.45" x2="357.69" y2="428.45" stroke="#000" stroke-width="1.15"/><g fill="#000"><text x="351.32" y="441.35" font-size="11.00" textLength="12.72" lengthAdjust="spacingAndGlyphs">50</text></g><line x1="415.38" y1="423.45" x2="415.38" y2="428.45" stroke="#000" stroke-width="1.15"/><g fill="#000"><text x="409.02" y="441.35" font-size="11.00" textLength="12.72" lengthAdjust="spacingAndGlyphs">60</text></g><line x1="69.20" y1="410.57" x2="64.20" y2="410.57" stroke="#000" stroke-width="1.15"/><g fill="#000"><text x="21.69" y="414.92" font-size="11.00" textLength="37.01" lengthAdjust="spacingAndGlyphs">−0.005</text></g><line x1="69.20" y1="378.53" x2="64.20" y2="378.53" stroke="#000" stroke-width="1.15"/><g fill="#000"><text x="30.07" y="382.88" font-size="11.00" textLength="28.63" lengthAdjust="spacingAndGlyphs">0.000</text></g><line x1="69.20" y1="346.49" x2="64.20" y2="346.49" stroke="#000" stroke-width="1.15"/><g fill="#000"><text x="30.07" y="350.84" font-size="11.00" textLength="28.63" lengthAdjust="spacingAndGlyphs">0.005</text></g><line x1="69.20" y1="314.45" x2="64.20" y2="314.45" stroke="#000" stroke-width="1.15"/><g fill="#000"><text x="30.07" y="318.80" font-size="11.00" textLength="28.63" lengthAdjust="spacingAndGlyphs">0.010</text></g><line x1="69.20" y1="282.41" x2="64.20" y2="282.41" stroke="#000" stroke-width="1.15"/><g fill="#000"><text x="30.07" y="286.76" font-size="11.00" textLength="28.63" lengthAdjust="spacingAndGlyphs">0.015</text></g><line x1="517.35" y1="423.45" x2="517.35" y2="428.45" stroke="#000" stroke-width="1.15"/><g fill="#000"><text x="514.17" y="441.35" font-size="11.00" textLength="6.36" lengthAdjust="spacingAndGlyphs">0</text></g><line x1="569.80" y1="423.45" x2="569.80" y2="428.45" stroke="#000" stroke-width="1.15"/><g fill="#000"><text x="563.44" y="441.35" font-size="11.00" textLength="12.72" lengthAdjust="spacingAndGlyphs">20</text></g><line x1="622.26" y1="423.45" x2="622.26" y2="428.45" stroke="#000" stroke-width="1.15"/><g fill="#000"><text x="615.89" y="441.35" font-size="11.00" textLength="12.72" lengthAdjust="spacingAndGlyphs">40</text></g><line x1="674.71" y1="423.45" x2="674.71" y2="428.45" stroke="#000" stroke-width="1.15"/><g fill="#000"><text x="668.35" y="441.35" font-size="11.00" textLength="12.72" lengthAdjust="spacingAndGlyphs">60</text></g><line x1="517.35" y1="416.12" x2="512.35" y2="416.12" stroke="#000" stroke-width="1.15"/><g fill="#000"><text x="500.49" y="420.47" font-size="11.00" textLength="6.36" lengthAdjust="spacingAndGlyphs">0</text></g><line x1="517.35" y1="395.17" x2="512.35" y2="395.17" stroke="#000" stroke-width="1.15"/><g fill="#000"><text x="500.49" y="399.52" font-size="11.00" textLength="6.36" lengthAdjust="spacingAndGlyphs">2</text></g><line x1="517.35" y1="374.22" x2="512.35" y2="374.22" stroke="#000" stroke-width="1.15"/><g fill="#000"><text x="500.49" y="378.57" font-size="11.00" textLength="6.36" lengthAdjust="spacingAndGlyphs">4</text></g><line x1="517.35" y1="353.27" x2="512.35" y2="353.27" stroke="#000" stroke-width="1.15"/><g fill="#000"><text x="500.49" y="357.62" font-size="11.00" textLength="6.36" lengthAdjust="spacingAndGlyphs">6</text></g><line x1="517.35" y1="332.32" x2="512.35" y2="332.32" stroke="#000" stroke-width="1.15"/><g fill="#000"><text x="500.49" y="336.67" font-size="11.00" textLength="6.36" lengthAdjust="spacingAndGlyphs">8</text></g><line x1="517.35" y1="311.37" x2="512.35" y2="311.37" stroke="#000" stroke-width="1.15"/><g fill="#000"><text x="494.13" y="315.72" font-size="11.00" textLength="12.72" lengthAdjust="spacingAndGlyphs">10</text></g><line x1="517.35" y1="290.43" x2="512.35" y2="290.43" stroke="#000" stroke-width="1.15"/><g fill="#000"><text x="494.13" y="294.78" font-size="11.00" textLength="12.72" lengthAdjust="spacingAndGlyphs">12</text></g><line x1="517.35" y1="269.48" x2="512.35" y2="269.48" stroke="#000" stroke-width="1.15"/><g fill="#000"><text x="494.13" y="273.83" font-size="11.00" textLength="12.72" lengthAdjust="spacingAndGlyphs">14</text></g><g fill="#000"><text x="4.60" y="9.20" font-size="13.20" font-weight="bold" textLength="8.10" lengthAdjust="spacingAndGlyphs">a</text></g><g fill="#000"><text x="262.30" y="9.20" font-size="13.20" font-weight="bold" textLength="8.59" lengthAdjust="spacingAndGlyphs">b</text></g><g fill="#000"><text x="4.60" y="247.20" font-size="13.20" font-weight="bold" textLength="7.11" lengthAdjust="spacingAndGlyphs">c</text></g><g fill="#000"><text x="466.40" y="247.20" font-size="13.20" font-weight="bold" textLength="8.59" lengthAdjust="spacingAndGlyphs">d</text></g><g fill="#000"><text x="133.20" y="224.90" font-size="12.54" font-style="italic" textLength="7.92" lengthAdjust="spacingAndGlyphs">R</text><text x="141.12" y="226.60" font-size="8.80" textLength="5.49" lengthAdjust="spacingAndGlyphs">B</text><text x="146.61" y="224.90" font-size="12.54" textLength="22.20" lengthAdjust="spacingAndGlyphs">/μm</text></g><g transform="rotate(-90 35.90 107.00)" fill="#000"><text x="14.35" y="107.00" font-size="12.54" font-style="italic" textLength="7.92" lengthAdjust="spacingAndGlyphs">R</text><text x="22.27" y="108.70" font-size="8.80" textLength="12.99" lengthAdjust="spacingAndGlyphs">SW</text><text x="35.26" y="107.00" font-size="12.54" textLength="22.20" lengthAdjust="spacingAndGlyphs">/μm</text></g><g fill="#000"><text x="484.74" y="224.90" font-size="12.54" font-style="italic" textLength="7.92" lengthAdjust="spacingAndGlyphs">R</text><text x="492.66" y="224.90" font-size="12.54" textLength="22.20" lengthAdjust="spacingAndGlyphs">/μm</text></g><g transform="rotate(-90 257.20 107.00)" fill="#000"><text x="223.16" y="107.00" font-size="12.54" font-style="italic" textLength="7.52" lengthAdjust="spacingAndGlyphs">ϕ</text><text x="230.68" y="107.00" font-size="12.54" textLength="44.31" lengthAdjust="spacingAndGlyphs">/(rad·vx</text><text x="275.00" y="103.00" font-size="8.80" textLength="11.79" lengthAdjust="spacingAndGlyphs">−1</text><text x="286.79" y="107.00" font-size="12.54" textLength="4.45" lengthAdjust="spacingAndGlyphs">)</text></g><g fill="#000"><text x="237.54" y="458.30" font-size="12.54" font-style="italic" textLength="7.92" lengthAdjust="spacingAndGlyphs">R</text><text x="245.46" y="458.30" font-size="12.54" textLength="22.20" lengthAdjust="spacingAndGlyphs">/μm</text></g><g transform="rotate(-90 9.80 340.00)" fill="#000"><text x="-24.24" y="340.00" font-size="12.54" font-style="italic" textLength="7.52" lengthAdjust="spacingAndGlyphs">ϕ</text><text x="-16.72" y="340.00" font-size="12.54" textLength="44.31" lengthAdjust="spacingAndGlyphs">/(rad·vx</text><text x="27.60" y="336.00" font-size="8.80" textLength="11.79" lengthAdjust="spacingAndGlyphs">−1</text><text x="39.39" y="340.00" font-size="12.54" textLength="4.45" lengthAdjust="spacingAndGlyphs">)</text></g><g fill="#000"><text x="584.44" y="457.80" font-size="12.54" font-style="italic" textLength="7.92" lengthAdjust="spacingAndGlyphs">R</text><text x="592.36" y="457.80" font-size="12.54" textLength="22.20" lengthAdjust="spacingAndGlyphs">/μm</text></g><g transform="rotate(-90 487.40 335.60)" fill="#000"><text x="460.75" y="335.60" font-size="12.54" font-style="italic" textLength="7.24" lengthAdjust="spacingAndGlyphs">p</text><text x="467.98" y="337.30" font-size="8.80" textLength="19.54" lengthAdjust="spacingAndGlyphs">peak</text><text x="487.52" y="335.60" font-size="12.54" textLength="26.54" lengthAdjust="spacingAndGlyphs">/GPa</text></g><line x1="68.70" y1="22.70" x2="68.70" y2="190.57" stroke="#000" stroke-width="1.15"/><line x1="68.12" y1="190.00" x2="236.00" y2="190.00" stroke="#000" stroke-width="1.15"/><line x1="316.90" y1="23.00" x2="316.90" y2="190.47" stroke="#000" stroke-width="1.15"/><line x1="316.32" y1="189.90" x2="684.15" y2="189.90" stroke="#000" stroke-width="1.15"/><line x1="69.20" y1="256.07" x2="69.20" y2="424.02" stroke="#000" stroke-width="1.15"/><line x1="68.62" y1="423.45" x2="436.50" y2="423.45" stroke="#000" stroke-width="1.15"/><line x1="517.35" y1="256.07" x2="517.35" y2="424.02" stroke="#000" stroke-width="1.15"/><line x1="516.77" y1="423.45" x2="685.20" y2="423.45" stroke="#000" stroke-width="1.15"/></svg></body></html>
